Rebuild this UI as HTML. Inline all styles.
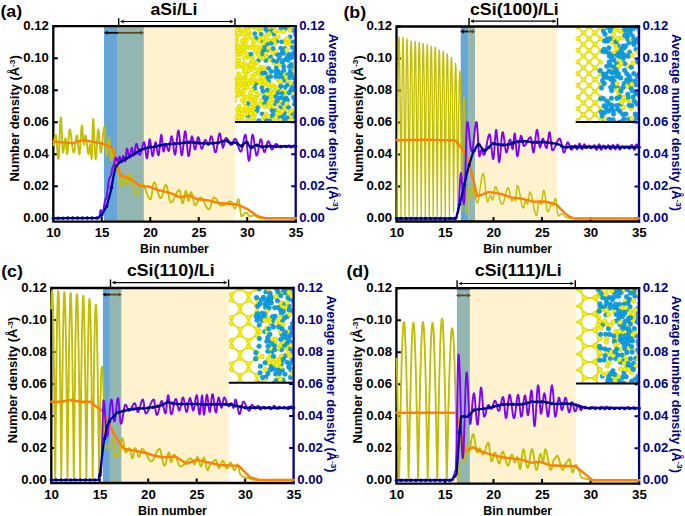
<!DOCTYPE html>
<html><head><meta charset="utf-8"><style>
html,body{margin:0;padding:0;background:#fff;width:685px;height:516px;overflow:hidden;}
svg{display:block;}
</style></head><body>
<svg width="685" height="516" viewBox="0 0 685 516">
<rect width="685" height="516" fill="#fff"/>
<defs><clipPath id="pc_a"><rect x="53.30" y="26.20" width="242.40" height="195.40"/></clipPath><clipPath id="clip_amorph"><rect x="235.00" y="26.20" width="60.70" height="95.80"/></clipPath></defs><rect x="104.00" y="26.20" width="13.80" height="195.40" fill="#65A6D6"/><rect x="117.80" y="26.20" width="26.10" height="195.40" fill="#92B7B2"/><rect x="143.90" y="26.20" width="91.10" height="195.40" fill="#FFF2CF"/><line x1="106.00" y1="32.80" x2="118.00" y2="32.80" stroke="#000" stroke-width="1.8"/><path d="M104.00,32.80 L107.80,30.60 L107.00,32.80 L107.80,35.00 Z" fill="#000"/><line x1="118.00" y1="32.80" x2="142.00" y2="32.80" stroke="#5A4A26" stroke-width="1.8"/><path d="M144.00,32.80 L140.20,30.60 L141.00,32.80 L140.20,35.00 Z" fill="#5A4A26"/><path d="M53.30,218.20 h4.50 M53.30,186.20 h4.50 M53.30,154.20 h4.50 M53.30,122.20 h4.50 M53.30,90.20 h4.50 M53.30,58.20 h4.50 M53.30,26.20 h4.50 M101.78,221.60 v-4.50 M150.26,221.60 v-4.50 M198.74,221.60 v-4.50 M247.22,221.60 v-4.50" stroke="#000" stroke-width="2" fill="none"/><path d="M295.70,218.20 h-4.50 M295.70,186.20 h-4.50 M295.70,154.20 h-4.50 M295.70,122.20 h-4.50 M295.70,90.20 h-4.50 M295.70,58.20 h-4.50 M295.70,26.20 h-4.50" stroke="#00008B" stroke-width="2" fill="none"/><rect x="235.0" y="26.2" width="60.7" height="95.8" fill="#fff"/><g clip-path="url(#clip_amorph)"><circle cx="256.4" cy="96.9" r="2.15" fill="#F8F200" stroke="#CEC400" stroke-width="0.55"/><circle cx="262.1" cy="113.9" r="2.15" fill="#0CA0E4" stroke="#0A82C2" stroke-width="0.5"/><circle cx="283.0" cy="103.3" r="2.15" fill="#0CA0E4" stroke="#0A82C2" stroke-width="0.5"/><circle cx="268.6" cy="81.5" r="2.15" fill="#0CA0E4" stroke="#0A82C2" stroke-width="0.5"/><circle cx="278.3" cy="71.5" r="2.15" fill="#0CA0E4" stroke="#0A82C2" stroke-width="0.5"/><circle cx="241.9" cy="119.3" r="2.15" fill="#F8F200" stroke="#CEC400" stroke-width="0.55"/><circle cx="261.0" cy="40.8" r="2.15" fill="#0CA0E4" stroke="#0A82C2" stroke-width="0.5"/><circle cx="284.9" cy="48.5" r="2.15" fill="#0CA0E4" stroke="#0A82C2" stroke-width="0.5"/><circle cx="265.8" cy="100.1" r="2.15" fill="#0CA0E4" stroke="#0A82C2" stroke-width="0.5"/><circle cx="279.8" cy="117.6" r="2.15" fill="#0CA0E4" stroke="#0A82C2" stroke-width="0.5"/><circle cx="241.3" cy="45.0" r="2.15" fill="#F8F200" stroke="#CEC400" stroke-width="0.55"/><circle cx="240.1" cy="30.1" r="2.15" fill="#F8F200" stroke="#CEC400" stroke-width="0.55"/><circle cx="243.3" cy="94.8" r="2.15" fill="#F8F200" stroke="#CEC400" stroke-width="0.55"/><circle cx="248.0" cy="56.9" r="2.15" fill="#F8F200" stroke="#CEC400" stroke-width="0.55"/><circle cx="236.3" cy="63.6" r="2.15" fill="#F8F200" stroke="#CEC400" stroke-width="0.55"/><circle cx="295.5" cy="34.4" r="2.15" fill="#0CA0E4" stroke="#0A82C2" stroke-width="0.5"/><circle cx="289.4" cy="44.1" r="2.15" fill="#F8F200" stroke="#CEC400" stroke-width="0.55"/><circle cx="259.7" cy="30.7" r="2.15" fill="#F8F200" stroke="#CEC400" stroke-width="0.55"/><circle cx="272.8" cy="106.5" r="2.15" fill="#F8F200" stroke="#CEC400" stroke-width="0.55"/><circle cx="284.8" cy="41.0" r="2.15" fill="#F8F200" stroke="#CEC400" stroke-width="0.55"/><circle cx="268.3" cy="104.3" r="2.15" fill="#F8F200" stroke="#CEC400" stroke-width="0.55"/><circle cx="255.7" cy="83.8" r="2.15" fill="#0CA0E4" stroke="#0A82C2" stroke-width="0.5"/><circle cx="254.6" cy="80.4" r="2.15" fill="#F8F200" stroke="#CEC400" stroke-width="0.55"/><circle cx="244.8" cy="77.9" r="2.15" fill="#F8F200" stroke="#CEC400" stroke-width="0.55"/><circle cx="266.4" cy="57.5" r="2.15" fill="#F8F200" stroke="#CEC400" stroke-width="0.55"/><circle cx="284.0" cy="107.6" r="2.15" fill="#F8F200" stroke="#CEC400" stroke-width="0.55"/><circle cx="236.0" cy="47.7" r="2.15" fill="#F8F200" stroke="#CEC400" stroke-width="0.55"/><circle cx="269.3" cy="106.9" r="2.15" fill="#F8F200" stroke="#CEC400" stroke-width="0.55"/><circle cx="235.1" cy="87.2" r="2.15" fill="#F8F200" stroke="#CEC400" stroke-width="0.55"/><circle cx="247.4" cy="54.3" r="2.15" fill="#F8F200" stroke="#CEC400" stroke-width="0.55"/><circle cx="297.0" cy="94.7" r="2.15" fill="#F8F200" stroke="#CEC400" stroke-width="0.55"/><circle cx="285.4" cy="91.2" r="2.15" fill="#F8F200" stroke="#CEC400" stroke-width="0.55"/><circle cx="244.6" cy="109.7" r="2.15" fill="#F8F200" stroke="#CEC400" stroke-width="0.55"/><circle cx="275.6" cy="96.5" r="2.15" fill="#0CA0E4" stroke="#0A82C2" stroke-width="0.5"/><circle cx="276.1" cy="110.7" r="2.15" fill="#0CA0E4" stroke="#0A82C2" stroke-width="0.5"/><circle cx="267.2" cy="97.7" r="2.15" fill="#0CA0E4" stroke="#0A82C2" stroke-width="0.5"/><circle cx="249.6" cy="33.5" r="2.15" fill="#F8F200" stroke="#CEC400" stroke-width="0.55"/><circle cx="291.2" cy="57.7" r="2.15" fill="#0CA0E4" stroke="#0A82C2" stroke-width="0.5"/><circle cx="247.3" cy="46.7" r="2.15" fill="#F8F200" stroke="#CEC400" stroke-width="0.55"/><circle cx="288.7" cy="40.9" r="2.15" fill="#F8F200" stroke="#CEC400" stroke-width="0.55"/><circle cx="250.6" cy="80.9" r="2.15" fill="#F8F200" stroke="#CEC400" stroke-width="0.55"/><circle cx="274.0" cy="86.3" r="2.15" fill="#F8F200" stroke="#CEC400" stroke-width="0.55"/><circle cx="290.2" cy="36.9" r="2.15" fill="#0CA0E4" stroke="#0A82C2" stroke-width="0.5"/><circle cx="250.5" cy="107.3" r="2.15" fill="#F8F200" stroke="#CEC400" stroke-width="0.55"/><circle cx="292.2" cy="54.1" r="2.15" fill="#0CA0E4" stroke="#0A82C2" stroke-width="0.5"/><circle cx="274.3" cy="63.4" r="2.15" fill="#F8F200" stroke="#CEC400" stroke-width="0.55"/><circle cx="249.4" cy="64.8" r="2.15" fill="#F8F200" stroke="#CEC400" stroke-width="0.55"/><circle cx="261.4" cy="48.1" r="2.15" fill="#F8F200" stroke="#CEC400" stroke-width="0.55"/><circle cx="245.2" cy="97.4" r="2.15" fill="#F8F200" stroke="#CEC400" stroke-width="0.55"/><circle cx="264.2" cy="117.2" r="2.15" fill="#F8F200" stroke="#CEC400" stroke-width="0.55"/><circle cx="264.9" cy="68.0" r="2.15" fill="#F8F200" stroke="#CEC400" stroke-width="0.55"/><circle cx="261.9" cy="81.2" r="2.15" fill="#F8F200" stroke="#CEC400" stroke-width="0.55"/><circle cx="254.1" cy="108.0" r="2.15" fill="#F8F200" stroke="#CEC400" stroke-width="0.55"/><circle cx="282.5" cy="97.7" r="2.15" fill="#0CA0E4" stroke="#0A82C2" stroke-width="0.5"/><circle cx="244.0" cy="50.8" r="2.15" fill="#F8F200" stroke="#CEC400" stroke-width="0.55"/><circle cx="293.3" cy="71.2" r="2.15" fill="#F8F200" stroke="#CEC400" stroke-width="0.55"/><circle cx="288.9" cy="54.5" r="2.15" fill="#0CA0E4" stroke="#0A82C2" stroke-width="0.5"/><circle cx="294.6" cy="110.4" r="2.15" fill="#F8F200" stroke="#CEC400" stroke-width="0.55"/><circle cx="254.9" cy="100.5" r="2.15" fill="#F8F200" stroke="#CEC400" stroke-width="0.55"/><circle cx="290.7" cy="90.4" r="2.15" fill="#0CA0E4" stroke="#0A82C2" stroke-width="0.5"/><circle cx="246.3" cy="73.9" r="2.15" fill="#F8F200" stroke="#CEC400" stroke-width="0.55"/><circle cx="253.6" cy="119.4" r="2.15" fill="#F8F200" stroke="#CEC400" stroke-width="0.55"/><circle cx="272.1" cy="116.2" r="2.15" fill="#0CA0E4" stroke="#0A82C2" stroke-width="0.5"/><circle cx="247.0" cy="87.5" r="2.15" fill="#F8F200" stroke="#CEC400" stroke-width="0.55"/><circle cx="253.9" cy="66.9" r="2.15" fill="#F8F200" stroke="#CEC400" stroke-width="0.55"/><circle cx="263.1" cy="50.9" r="2.15" fill="#0CA0E4" stroke="#0A82C2" stroke-width="0.5"/><circle cx="293.0" cy="66.7" r="2.15" fill="#0CA0E4" stroke="#0A82C2" stroke-width="0.5"/><circle cx="273.4" cy="28.2" r="2.15" fill="#F8F200" stroke="#CEC400" stroke-width="0.55"/><circle cx="277.8" cy="79.9" r="2.15" fill="#F8F200" stroke="#CEC400" stroke-width="0.55"/><circle cx="243.6" cy="67.7" r="2.15" fill="#F8F200" stroke="#CEC400" stroke-width="0.55"/><circle cx="252.2" cy="110.6" r="2.15" fill="#F8F200" stroke="#CEC400" stroke-width="0.55"/><circle cx="237.0" cy="78.3" r="2.15" fill="#F8F200" stroke="#CEC400" stroke-width="0.55"/><circle cx="264.5" cy="84.5" r="2.15" fill="#F8F200" stroke="#CEC400" stroke-width="0.55"/><circle cx="235.2" cy="81.3" r="2.15" fill="#F8F200" stroke="#CEC400" stroke-width="0.55"/><circle cx="263.0" cy="70.6" r="2.15" fill="#F8F200" stroke="#CEC400" stroke-width="0.55"/><circle cx="255.5" cy="51.8" r="2.15" fill="#F8F200" stroke="#CEC400" stroke-width="0.55"/><circle cx="238.2" cy="120.6" r="2.15" fill="#F8F200" stroke="#CEC400" stroke-width="0.55"/><circle cx="291.8" cy="119.4" r="2.15" fill="#F8F200" stroke="#CEC400" stroke-width="0.55"/><circle cx="287.3" cy="28.1" r="2.15" fill="#F8F200" stroke="#CEC400" stroke-width="0.55"/><circle cx="286.1" cy="97.8" r="2.15" fill="#0CA0E4" stroke="#0A82C2" stroke-width="0.5"/><circle cx="281.2" cy="119.6" r="2.15" fill="#F8F200" stroke="#CEC400" stroke-width="0.55"/><circle cx="238.7" cy="60.5" r="2.15" fill="#F8F200" stroke="#CEC400" stroke-width="0.55"/><circle cx="255.7" cy="90.8" r="2.15" fill="#F8F200" stroke="#CEC400" stroke-width="0.55"/><circle cx="289.7" cy="116.2" r="2.15" fill="#F8F200" stroke="#CEC400" stroke-width="0.55"/><circle cx="241.7" cy="116.1" r="2.15" fill="#F8F200" stroke="#CEC400" stroke-width="0.55"/><circle cx="240.4" cy="50.3" r="2.15" fill="#F8F200" stroke="#CEC400" stroke-width="0.55"/><circle cx="296.1" cy="86.4" r="2.15" fill="#0CA0E4" stroke="#0A82C2" stroke-width="0.5"/><circle cx="242.4" cy="100.3" r="2.15" fill="#F8F200" stroke="#CEC400" stroke-width="0.55"/><circle cx="265.8" cy="60.5" r="2.15" fill="#0CA0E4" stroke="#0A82C2" stroke-width="0.5"/><circle cx="255.0" cy="74.5" r="2.15" fill="#F8F200" stroke="#CEC400" stroke-width="0.55"/><circle cx="244.3" cy="63.6" r="2.15" fill="#F8F200" stroke="#CEC400" stroke-width="0.55"/><circle cx="266.4" cy="40.3" r="2.15" fill="#F8F200" stroke="#CEC400" stroke-width="0.55"/><circle cx="240.1" cy="91.4" r="2.15" fill="#F8F200" stroke="#CEC400" stroke-width="0.55"/><circle cx="237.2" cy="89.9" r="2.15" fill="#F8F200" stroke="#CEC400" stroke-width="0.55"/><circle cx="296.1" cy="60.6" r="2.15" fill="#0CA0E4" stroke="#0A82C2" stroke-width="0.5"/><circle cx="283.8" cy="99.9" r="2.15" fill="#0CA0E4" stroke="#0A82C2" stroke-width="0.5"/><circle cx="249.1" cy="70.5" r="2.15" fill="#F8F200" stroke="#CEC400" stroke-width="0.55"/><circle cx="236.2" cy="96.2" r="2.15" fill="#F8F200" stroke="#CEC400" stroke-width="0.55"/><circle cx="236.1" cy="121.2" r="2.15" fill="#F8F200" stroke="#CEC400" stroke-width="0.55"/><circle cx="275.4" cy="103.7" r="2.15" fill="#0CA0E4" stroke="#0A82C2" stroke-width="0.5"/><circle cx="262.9" cy="94.1" r="2.15" fill="#F8F200" stroke="#CEC400" stroke-width="0.55"/><circle cx="283.4" cy="77.4" r="2.15" fill="#0CA0E4" stroke="#0A82C2" stroke-width="0.5"/><circle cx="272.9" cy="101.0" r="2.15" fill="#F8F200" stroke="#CEC400" stroke-width="0.55"/><circle cx="253.1" cy="44.0" r="2.15" fill="#F8F200" stroke="#CEC400" stroke-width="0.55"/><circle cx="242.0" cy="113.6" r="2.15" fill="#F8F200" stroke="#CEC400" stroke-width="0.55"/><circle cx="292.9" cy="113.5" r="2.15" fill="#0CA0E4" stroke="#0A82C2" stroke-width="0.5"/><circle cx="249.4" cy="26.8" r="2.15" fill="#F8F200" stroke="#CEC400" stroke-width="0.55"/><circle cx="287.1" cy="117.8" r="2.15" fill="#0CA0E4" stroke="#0A82C2" stroke-width="0.5"/><circle cx="271.4" cy="30.6" r="2.15" fill="#0CA0E4" stroke="#0A82C2" stroke-width="0.5"/><circle cx="268.7" cy="68.3" r="2.15" fill="#0CA0E4" stroke="#0A82C2" stroke-width="0.5"/><circle cx="280.3" cy="107.7" r="2.15" fill="#0CA0E4" stroke="#0A82C2" stroke-width="0.5"/><circle cx="273.1" cy="54.1" r="2.15" fill="#F8F200" stroke="#CEC400" stroke-width="0.55"/><circle cx="287.4" cy="84.8" r="2.15" fill="#0CA0E4" stroke="#0A82C2" stroke-width="0.5"/><circle cx="278.9" cy="31.3" r="2.15" fill="#F8F200" stroke="#CEC400" stroke-width="0.55"/><circle cx="269.7" cy="40.6" r="2.15" fill="#F8F200" stroke="#CEC400" stroke-width="0.55"/><circle cx="260.7" cy="67.1" r="2.15" fill="#F8F200" stroke="#CEC400" stroke-width="0.55"/><circle cx="285.1" cy="74.5" r="2.15" fill="#F8F200" stroke="#CEC400" stroke-width="0.55"/><circle cx="272.3" cy="84.9" r="2.15" fill="#F8F200" stroke="#CEC400" stroke-width="0.55"/><circle cx="293.9" cy="78.2" r="2.15" fill="#0CA0E4" stroke="#0A82C2" stroke-width="0.5"/><circle cx="270.5" cy="57.2" r="2.15" fill="#0CA0E4" stroke="#0A82C2" stroke-width="0.5"/><circle cx="258.6" cy="60.4" r="2.15" fill="#0CA0E4" stroke="#0A82C2" stroke-width="0.5"/><circle cx="273.8" cy="34.0" r="2.15" fill="#0CA0E4" stroke="#0A82C2" stroke-width="0.5"/><circle cx="276.7" cy="41.5" r="2.15" fill="#0CA0E4" stroke="#0A82C2" stroke-width="0.5"/><circle cx="276.3" cy="67.9" r="2.15" fill="#0CA0E4" stroke="#0A82C2" stroke-width="0.5"/><circle cx="280.2" cy="83.9" r="2.15" fill="#F8F200" stroke="#CEC400" stroke-width="0.55"/><circle cx="239.2" cy="106.4" r="2.15" fill="#F8F200" stroke="#CEC400" stroke-width="0.55"/><circle cx="239.1" cy="94.4" r="2.15" fill="#F8F200" stroke="#CEC400" stroke-width="0.55"/><circle cx="261.1" cy="34.4" r="2.15" fill="#0CA0E4" stroke="#0A82C2" stroke-width="0.5"/><circle cx="243.6" cy="47.8" r="2.15" fill="#F8F200" stroke="#CEC400" stroke-width="0.55"/><circle cx="263.1" cy="91.3" r="2.15" fill="#0CA0E4" stroke="#0A82C2" stroke-width="0.5"/><circle cx="262.3" cy="120.2" r="2.15" fill="#F8F200" stroke="#CEC400" stroke-width="0.55"/><circle cx="283.8" cy="66.8" r="2.15" fill="#0CA0E4" stroke="#0A82C2" stroke-width="0.5"/><circle cx="260.2" cy="83.0" r="2.15" fill="#F8F200" stroke="#CEC400" stroke-width="0.55"/><circle cx="293.6" cy="64.4" r="2.15" fill="#F8F200" stroke="#CEC400" stroke-width="0.55"/><circle cx="251.9" cy="69.7" r="2.15" fill="#F8F200" stroke="#CEC400" stroke-width="0.55"/><circle cx="258.7" cy="120.7" r="2.15" fill="#0CA0E4" stroke="#0A82C2" stroke-width="0.5"/><circle cx="263.1" cy="58.3" r="2.15" fill="#F8F200" stroke="#CEC400" stroke-width="0.55"/><circle cx="284.2" cy="80.4" r="2.15" fill="#0CA0E4" stroke="#0A82C2" stroke-width="0.5"/><circle cx="247.3" cy="35.3" r="2.15" fill="#F8F200" stroke="#CEC400" stroke-width="0.55"/><circle cx="251.5" cy="61.7" r="2.15" fill="#F8F200" stroke="#CEC400" stroke-width="0.55"/><circle cx="267.8" cy="83.7" r="2.15" fill="#F8F200" stroke="#CEC400" stroke-width="0.55"/><circle cx="247.9" cy="103.5" r="2.15" fill="#0CA0E4" stroke="#0A82C2" stroke-width="0.5"/><circle cx="295.2" cy="46.7" r="2.15" fill="#F8F200" stroke="#CEC400" stroke-width="0.55"/><circle cx="247.9" cy="116.6" r="2.15" fill="#0CA0E4" stroke="#0A82C2" stroke-width="0.5"/><circle cx="285.9" cy="43.3" r="2.15" fill="#F8F200" stroke="#CEC400" stroke-width="0.55"/><circle cx="265.0" cy="28.7" r="2.15" fill="#0CA0E4" stroke="#0A82C2" stroke-width="0.5"/><circle cx="256.2" cy="38.2" r="2.15" fill="#0CA0E4" stroke="#0A82C2" stroke-width="0.5"/><circle cx="244.9" cy="43.5" r="2.15" fill="#F8F200" stroke="#CEC400" stroke-width="0.55"/><circle cx="287.4" cy="110.6" r="2.15" fill="#F8F200" stroke="#CEC400" stroke-width="0.55"/><circle cx="277.3" cy="54.5" r="2.15" fill="#0CA0E4" stroke="#0A82C2" stroke-width="0.5"/><circle cx="275.0" cy="43.4" r="2.15" fill="#F8F200" stroke="#CEC400" stroke-width="0.55"/><circle cx="252.4" cy="38.4" r="2.15" fill="#F8F200" stroke="#CEC400" stroke-width="0.55"/><circle cx="276.2" cy="120.0" r="2.15" fill="#F8F200" stroke="#CEC400" stroke-width="0.55"/><circle cx="287.8" cy="80.1" r="2.15" fill="#F8F200" stroke="#CEC400" stroke-width="0.55"/><circle cx="291.1" cy="83.2" r="2.15" fill="#F8F200" stroke="#CEC400" stroke-width="0.55"/><circle cx="276.0" cy="71.2" r="2.15" fill="#0CA0E4" stroke="#0A82C2" stroke-width="0.5"/><circle cx="292.0" cy="87.5" r="2.15" fill="#0CA0E4" stroke="#0A82C2" stroke-width="0.5"/><circle cx="237.6" cy="84.0" r="2.15" fill="#F8F200" stroke="#CEC400" stroke-width="0.55"/><circle cx="269.2" cy="75.0" r="2.15" fill="#F8F200" stroke="#CEC400" stroke-width="0.55"/><circle cx="292.4" cy="47.4" r="2.15" fill="#0CA0E4" stroke="#0A82C2" stroke-width="0.5"/><circle cx="241.7" cy="77.6" r="2.15" fill="#F8F200" stroke="#CEC400" stroke-width="0.55"/><circle cx="270.9" cy="50.3" r="2.15" fill="#F8F200" stroke="#CEC400" stroke-width="0.55"/><circle cx="283.7" cy="70.4" r="2.15" fill="#0CA0E4" stroke="#0A82C2" stroke-width="0.5"/><circle cx="238.6" cy="113.1" r="2.15" fill="#F8F200" stroke="#CEC400" stroke-width="0.55"/><circle cx="293.6" cy="56.6" r="2.15" fill="#0CA0E4" stroke="#0A82C2" stroke-width="0.5"/><circle cx="271.2" cy="96.6" r="2.15" fill="#F8F200" stroke="#CEC400" stroke-width="0.55"/><circle cx="266.6" cy="120.7" r="2.15" fill="#0CA0E4" stroke="#0A82C2" stroke-width="0.5"/><circle cx="236.2" cy="51.5" r="2.15" fill="#F8F200" stroke="#CEC400" stroke-width="0.55"/><circle cx="260.5" cy="57.5" r="2.15" fill="#F8F200" stroke="#CEC400" stroke-width="0.55"/><circle cx="265.3" cy="73.1" r="2.15" fill="#0CA0E4" stroke="#0A82C2" stroke-width="0.5"/><circle cx="295.7" cy="68.2" r="2.15" fill="#F8F200" stroke="#CEC400" stroke-width="0.55"/><circle cx="261.8" cy="27.8" r="2.15" fill="#F8F200" stroke="#CEC400" stroke-width="0.55"/><circle cx="289.0" cy="121.2" r="2.15" fill="#F8F200" stroke="#CEC400" stroke-width="0.55"/><circle cx="234.2" cy="33.6" r="2.15" fill="#F8F200" stroke="#CEC400" stroke-width="0.55"/><circle cx="285.2" cy="87.1" r="2.15" fill="#0CA0E4" stroke="#0A82C2" stroke-width="0.5"/><circle cx="236.5" cy="37.2" r="2.15" fill="#F8F200" stroke="#CEC400" stroke-width="0.55"/><circle cx="280.7" cy="81.3" r="2.15" fill="#F8F200" stroke="#CEC400" stroke-width="0.55"/><circle cx="246.7" cy="113.8" r="2.15" fill="#F8F200" stroke="#CEC400" stroke-width="0.55"/><circle cx="293.1" cy="94.5" r="2.15" fill="#F8F200" stroke="#CEC400" stroke-width="0.55"/><circle cx="254.7" cy="88.0" r="2.15" fill="#0CA0E4" stroke="#0A82C2" stroke-width="0.5"/><circle cx="270.0" cy="100.8" r="2.15" fill="#F8F200" stroke="#CEC400" stroke-width="0.55"/><circle cx="247.6" cy="119.5" r="2.15" fill="#F8F200" stroke="#CEC400" stroke-width="0.55"/><circle cx="284.5" cy="113.5" r="2.15" fill="#0CA0E4" stroke="#0A82C2" stroke-width="0.5"/><circle cx="278.3" cy="109.8" r="2.15" fill="#F8F200" stroke="#CEC400" stroke-width="0.55"/><circle cx="296.4" cy="107.7" r="2.15" fill="#F8F200" stroke="#CEC400" stroke-width="0.55"/><circle cx="253.9" cy="27.3" r="2.15" fill="#F8F200" stroke="#CEC400" stroke-width="0.55"/><circle cx="265.0" cy="81.5" r="2.15" fill="#F8F200" stroke="#CEC400" stroke-width="0.55"/><circle cx="245.4" cy="38.6" r="2.15" fill="#F8F200" stroke="#CEC400" stroke-width="0.55"/><circle cx="296.1" cy="114.6" r="2.15" fill="#F8F200" stroke="#CEC400" stroke-width="0.55"/><circle cx="236.1" cy="94.3" r="2.15" fill="#F8F200" stroke="#CEC400" stroke-width="0.55"/><circle cx="280.8" cy="113.7" r="2.15" fill="#F8F200" stroke="#CEC400" stroke-width="0.55"/><circle cx="294.5" cy="51.5" r="2.15" fill="#0CA0E4" stroke="#0A82C2" stroke-width="0.5"/><circle cx="282.6" cy="116.8" r="2.15" fill="#0CA0E4" stroke="#0A82C2" stroke-width="0.5"/><circle cx="272.0" cy="110.6" r="2.15" fill="#0CA0E4" stroke="#0A82C2" stroke-width="0.5"/><circle cx="266.6" cy="35.1" r="2.15" fill="#F8F200" stroke="#CEC400" stroke-width="0.55"/><circle cx="239.9" cy="54.5" r="2.15" fill="#F8F200" stroke="#CEC400" stroke-width="0.55"/><circle cx="238.7" cy="86.6" r="2.15" fill="#F8F200" stroke="#CEC400" stroke-width="0.55"/><circle cx="282.3" cy="51.8" r="2.15" fill="#0CA0E4" stroke="#0A82C2" stroke-width="0.5"/><circle cx="280.7" cy="48.2" r="2.15" fill="#0CA0E4" stroke="#0A82C2" stroke-width="0.5"/><circle cx="287.2" cy="57.1" r="2.15" fill="#0CA0E4" stroke="#0A82C2" stroke-width="0.5"/><circle cx="266.8" cy="93.8" r="2.15" fill="#F8F200" stroke="#CEC400" stroke-width="0.55"/><circle cx="271.3" cy="71.5" r="2.15" fill="#0CA0E4" stroke="#0A82C2" stroke-width="0.5"/><circle cx="291.2" cy="110.9" r="2.15" fill="#F8F200" stroke="#CEC400" stroke-width="0.55"/><circle cx="244.5" cy="58.1" r="2.15" fill="#F8F200" stroke="#CEC400" stroke-width="0.55"/><circle cx="249.9" cy="66.4" r="2.15" fill="#F8F200" stroke="#CEC400" stroke-width="0.55"/><circle cx="245.9" cy="66.9" r="2.15" fill="#F8F200" stroke="#CEC400" stroke-width="0.55"/><circle cx="244.6" cy="103.2" r="2.15" fill="#F8F200" stroke="#CEC400" stroke-width="0.55"/><circle cx="280.3" cy="100.9" r="2.15" fill="#F8F200" stroke="#CEC400" stroke-width="0.55"/><circle cx="289.1" cy="93.0" r="2.15" fill="#0CA0E4" stroke="#0A82C2" stroke-width="0.5"/><circle cx="259.0" cy="40.9" r="2.15" fill="#F8F200" stroke="#CEC400" stroke-width="0.55"/><circle cx="246.6" cy="28.0" r="2.15" fill="#F8F200" stroke="#CEC400" stroke-width="0.55"/><circle cx="273.2" cy="114.5" r="2.15" fill="#0CA0E4" stroke="#0A82C2" stroke-width="0.5"/><circle cx="274.4" cy="90.8" r="2.15" fill="#F8F200" stroke="#CEC400" stroke-width="0.55"/><circle cx="247.8" cy="37.1" r="2.15" fill="#F8F200" stroke="#CEC400" stroke-width="0.55"/><circle cx="238.1" cy="35.1" r="2.15" fill="#F8F200" stroke="#CEC400" stroke-width="0.55"/><circle cx="270.4" cy="93.7" r="2.15" fill="#F8F200" stroke="#CEC400" stroke-width="0.55"/><circle cx="236.4" cy="60.3" r="2.15" fill="#F8F200" stroke="#CEC400" stroke-width="0.55"/><circle cx="275.6" cy="76.7" r="2.15" fill="#0CA0E4" stroke="#0A82C2" stroke-width="0.5"/><circle cx="259.9" cy="71.3" r="2.15" fill="#F8F200" stroke="#CEC400" stroke-width="0.55"/><circle cx="257.9" cy="94.6" r="2.15" fill="#F8F200" stroke="#CEC400" stroke-width="0.55"/><circle cx="241.7" cy="109.9" r="2.15" fill="#F8F200" stroke="#CEC400" stroke-width="0.55"/><circle cx="276.7" cy="61.6" r="2.15" fill="#0CA0E4" stroke="#0A82C2" stroke-width="0.5"/><circle cx="238.5" cy="81.1" r="2.15" fill="#F8F200" stroke="#CEC400" stroke-width="0.55"/><circle cx="267.0" cy="44.7" r="2.15" fill="#0CA0E4" stroke="#0A82C2" stroke-width="0.5"/><circle cx="237.4" cy="30.1" r="2.15" fill="#F8F200" stroke="#CEC400" stroke-width="0.55"/><circle cx="296.3" cy="81.1" r="2.15" fill="#0CA0E4" stroke="#0A82C2" stroke-width="0.5"/><circle cx="296.7" cy="120.0" r="2.15" fill="#0CA0E4" stroke="#0A82C2" stroke-width="0.5"/><circle cx="256.3" cy="63.1" r="2.15" fill="#F8F200" stroke="#CEC400" stroke-width="0.55"/><circle cx="251.0" cy="99.5" r="2.15" fill="#F8F200" stroke="#CEC400" stroke-width="0.55"/><circle cx="258.9" cy="50.6" r="2.15" fill="#F8F200" stroke="#CEC400" stroke-width="0.55"/><circle cx="279.5" cy="89.9" r="2.15" fill="#0CA0E4" stroke="#0A82C2" stroke-width="0.5"/><circle cx="281.0" cy="27.9" r="2.15" fill="#0CA0E4" stroke="#0A82C2" stroke-width="0.5"/><circle cx="248.1" cy="109.9" r="2.15" fill="#F8F200" stroke="#CEC400" stroke-width="0.55"/><circle cx="281.5" cy="41.8" r="2.15" fill="#0CA0E4" stroke="#0A82C2" stroke-width="0.5"/><circle cx="292.1" cy="74.5" r="2.15" fill="#0CA0E4" stroke="#0A82C2" stroke-width="0.5"/><circle cx="297.1" cy="41.6" r="2.15" fill="#0CA0E4" stroke="#0A82C2" stroke-width="0.5"/><circle cx="275.6" cy="51.2" r="2.15" fill="#F8F200" stroke="#CEC400" stroke-width="0.55"/><circle cx="260.5" cy="38.2" r="2.15" fill="#F8F200" stroke="#CEC400" stroke-width="0.55"/><circle cx="244.9" cy="83.8" r="2.15" fill="#F8F200" stroke="#CEC400" stroke-width="0.55"/><circle cx="252.4" cy="56.8" r="2.15" fill="#F8F200" stroke="#CEC400" stroke-width="0.55"/><circle cx="236.3" cy="40.8" r="2.15" fill="#F8F200" stroke="#CEC400" stroke-width="0.55"/><circle cx="242.0" cy="53.4" r="2.15" fill="#F8F200" stroke="#CEC400" stroke-width="0.55"/><circle cx="270.7" cy="60.3" r="2.15" fill="#F8F200" stroke="#CEC400" stroke-width="0.55"/><circle cx="290.1" cy="71.1" r="2.15" fill="#0CA0E4" stroke="#0A82C2" stroke-width="0.5"/><circle cx="257.0" cy="111.1" r="2.15" fill="#0CA0E4" stroke="#0A82C2" stroke-width="0.5"/><circle cx="257.9" cy="107.6" r="2.15" fill="#0CA0E4" stroke="#0A82C2" stroke-width="0.5"/><circle cx="264.2" cy="103.6" r="2.15" fill="#0CA0E4" stroke="#0A82C2" stroke-width="0.5"/><circle cx="264.8" cy="106.6" r="2.15" fill="#F8F200" stroke="#CEC400" stroke-width="0.55"/><circle cx="293.1" cy="41.8" r="2.15" fill="#0CA0E4" stroke="#0A82C2" stroke-width="0.5"/><circle cx="282.6" cy="64.2" r="2.15" fill="#0CA0E4" stroke="#0A82C2" stroke-width="0.5"/><circle cx="273.1" cy="48.4" r="2.15" fill="#0CA0E4" stroke="#0A82C2" stroke-width="0.5"/><circle cx="263.4" cy="44.3" r="2.15" fill="#F8F200" stroke="#CEC400" stroke-width="0.55"/><circle cx="293.2" cy="30.4" r="2.15" fill="#0CA0E4" stroke="#0A82C2" stroke-width="0.5"/><circle cx="251.8" cy="89.6" r="2.15" fill="#F8F200" stroke="#CEC400" stroke-width="0.55"/><circle cx="276.3" cy="73.2" r="2.15" fill="#0CA0E4" stroke="#0A82C2" stroke-width="0.5"/><circle cx="236.1" cy="43.7" r="2.15" fill="#F8F200" stroke="#CEC400" stroke-width="0.55"/><circle cx="288.4" cy="107.2" r="2.15" fill="#0CA0E4" stroke="#0A82C2" stroke-width="0.5"/><circle cx="237.3" cy="109.6" r="2.15" fill="#F8F200" stroke="#CEC400" stroke-width="0.55"/><circle cx="270.3" cy="90.6" r="2.15" fill="#F8F200" stroke="#CEC400" stroke-width="0.55"/><circle cx="261.9" cy="87.8" r="2.15" fill="#0CA0E4" stroke="#0A82C2" stroke-width="0.5"/><circle cx="252.0" cy="76.5" r="2.15" fill="#F8F200" stroke="#CEC400" stroke-width="0.55"/><circle cx="237.0" cy="116.6" r="2.15" fill="#F8F200" stroke="#CEC400" stroke-width="0.55"/><circle cx="242.3" cy="34.0" r="2.15" fill="#F8F200" stroke="#CEC400" stroke-width="0.55"/><circle cx="244.2" cy="30.8" r="2.15" fill="#F8F200" stroke="#CEC400" stroke-width="0.55"/><circle cx="274.7" cy="38.5" r="2.15" fill="#F8F200" stroke="#CEC400" stroke-width="0.55"/><circle cx="270.7" cy="76.7" r="2.15" fill="#0CA0E4" stroke="#0A82C2" stroke-width="0.5"/><circle cx="278.1" cy="103.6" r="2.15" fill="#F8F200" stroke="#CEC400" stroke-width="0.55"/><circle cx="254.9" cy="113.4" r="2.15" fill="#F8F200" stroke="#CEC400" stroke-width="0.55"/><circle cx="238.6" cy="74.0" r="2.15" fill="#F8F200" stroke="#CEC400" stroke-width="0.55"/><circle cx="274.8" cy="31.2" r="2.15" fill="#F8F200" stroke="#CEC400" stroke-width="0.55"/><circle cx="282.1" cy="111.2" r="2.15" fill="#F8F200" stroke="#CEC400" stroke-width="0.55"/><circle cx="271.1" cy="43.3" r="2.15" fill="#0CA0E4" stroke="#0A82C2" stroke-width="0.5"/><circle cx="295.0" cy="83.2" r="2.15" fill="#0CA0E4" stroke="#0A82C2" stroke-width="0.5"/><circle cx="254.3" cy="41.1" r="2.15" fill="#F8F200" stroke="#CEC400" stroke-width="0.55"/><circle cx="248.8" cy="83.4" r="2.15" fill="#F8F200" stroke="#CEC400" stroke-width="0.55"/><circle cx="234.2" cy="101.0" r="2.15" fill="#F8F200" stroke="#CEC400" stroke-width="0.55"/><circle cx="284.3" cy="60.0" r="2.15" fill="#0CA0E4" stroke="#0A82C2" stroke-width="0.5"/><circle cx="283.7" cy="53.3" r="2.15" fill="#0CA0E4" stroke="#0A82C2" stroke-width="0.5"/><circle cx="266.0" cy="114.5" r="2.15" fill="#F8F200" stroke="#CEC400" stroke-width="0.55"/><circle cx="262.4" cy="53.7" r="2.15" fill="#0CA0E4" stroke="#0A82C2" stroke-width="0.5"/><circle cx="266.8" cy="30.5" r="2.15" fill="#0CA0E4" stroke="#0A82C2" stroke-width="0.5"/><circle cx="246.3" cy="40.8" r="2.15" fill="#F8F200" stroke="#CEC400" stroke-width="0.55"/><circle cx="285.1" cy="28.6" r="2.15" fill="#0CA0E4" stroke="#0A82C2" stroke-width="0.5"/><circle cx="278.1" cy="93.1" r="2.15" fill="#0CA0E4" stroke="#0A82C2" stroke-width="0.5"/><circle cx="279.8" cy="64.5" r="2.15" fill="#F8F200" stroke="#CEC400" stroke-width="0.55"/><circle cx="258.4" cy="73.7" r="2.15" fill="#F8F200" stroke="#CEC400" stroke-width="0.55"/><circle cx="248.4" cy="31.1" r="2.15" fill="#F8F200" stroke="#CEC400" stroke-width="0.55"/><circle cx="244.3" cy="71.6" r="2.15" fill="#F8F200" stroke="#CEC400" stroke-width="0.55"/><circle cx="264.9" cy="47.3" r="2.15" fill="#0CA0E4" stroke="#0A82C2" stroke-width="0.5"/><circle cx="262.9" cy="38.2" r="2.15" fill="#F8F200" stroke="#CEC400" stroke-width="0.55"/><circle cx="277.6" cy="88.2" r="2.15" fill="#F8F200" stroke="#CEC400" stroke-width="0.55"/><circle cx="260.9" cy="77.1" r="2.15" fill="#F8F200" stroke="#CEC400" stroke-width="0.55"/><circle cx="274.0" cy="40.2" r="2.15" fill="#F8F200" stroke="#CEC400" stroke-width="0.55"/><circle cx="263.4" cy="77.9" r="2.15" fill="#F8F200" stroke="#CEC400" stroke-width="0.55"/><circle cx="281.7" cy="91.3" r="2.15" fill="#F8F200" stroke="#CEC400" stroke-width="0.55"/><circle cx="290.1" cy="30.2" r="2.15" fill="#F8F200" stroke="#CEC400" stroke-width="0.55"/><circle cx="273.7" cy="119.6" r="2.15" fill="#F8F200" stroke="#CEC400" stroke-width="0.55"/><circle cx="253.4" cy="47.6" r="2.15" fill="#F8F200" stroke="#CEC400" stroke-width="0.55"/><circle cx="273.1" cy="93.3" r="2.15" fill="#F8F200" stroke="#CEC400" stroke-width="0.55"/><circle cx="257.7" cy="80.7" r="2.15" fill="#F8F200" stroke="#CEC400" stroke-width="0.55"/><circle cx="287.8" cy="74.7" r="2.15" fill="#0CA0E4" stroke="#0A82C2" stroke-width="0.5"/><circle cx="261.6" cy="100.5" r="2.15" fill="#F8F200" stroke="#CEC400" stroke-width="0.55"/><circle cx="287.6" cy="100.1" r="2.15" fill="#0CA0E4" stroke="#0A82C2" stroke-width="0.5"/><circle cx="295.7" cy="73.3" r="2.15" fill="#F8F200" stroke="#CEC400" stroke-width="0.55"/><circle cx="239.1" cy="66.4" r="2.15" fill="#F8F200" stroke="#CEC400" stroke-width="0.55"/><circle cx="266.6" cy="50.7" r="2.15" fill="#0CA0E4" stroke="#0A82C2" stroke-width="0.5"/><circle cx="242.5" cy="40.5" r="2.15" fill="#F8F200" stroke="#CEC400" stroke-width="0.55"/><circle cx="236.0" cy="54.8" r="2.15" fill="#F8F200" stroke="#CEC400" stroke-width="0.55"/><circle cx="280.4" cy="54.7" r="2.15" fill="#0CA0E4" stroke="#0A82C2" stroke-width="0.5"/><circle cx="286.7" cy="49.9" r="2.15" fill="#F8F200" stroke="#CEC400" stroke-width="0.55"/><circle cx="258.1" cy="54.2" r="2.15" fill="#F8F200" stroke="#CEC400" stroke-width="0.55"/><circle cx="260.4" cy="104.6" r="2.15" fill="#F8F200" stroke="#CEC400" stroke-width="0.55"/><circle cx="250.2" cy="93.3" r="2.15" fill="#F8F200" stroke="#CEC400" stroke-width="0.55"/><circle cx="243.8" cy="90.8" r="2.15" fill="#F8F200" stroke="#CEC400" stroke-width="0.55"/><circle cx="295.2" cy="116.9" r="2.15" fill="#0CA0E4" stroke="#0A82C2" stroke-width="0.5"/><circle cx="283.9" cy="94.2" r="2.15" fill="#F8F200" stroke="#CEC400" stroke-width="0.55"/><circle cx="281.9" cy="61.8" r="2.15" fill="#0CA0E4" stroke="#0A82C2" stroke-width="0.5"/><circle cx="281.9" cy="93.5" r="2.15" fill="#0CA0E4" stroke="#0A82C2" stroke-width="0.5"/><circle cx="295.1" cy="101.4" r="2.15" fill="#0CA0E4" stroke="#0A82C2" stroke-width="0.5"/><circle cx="247.5" cy="80.5" r="2.15" fill="#F8F200" stroke="#CEC400" stroke-width="0.55"/><circle cx="251.1" cy="113.6" r="2.15" fill="#F8F200" stroke="#CEC400" stroke-width="0.55"/><circle cx="269.1" cy="33.7" r="2.15" fill="#F8F200" stroke="#CEC400" stroke-width="0.55"/><circle cx="280.9" cy="73.5" r="2.15" fill="#0CA0E4" stroke="#0A82C2" stroke-width="0.5"/><circle cx="252.0" cy="96.2" r="2.15" fill="#F8F200" stroke="#CEC400" stroke-width="0.55"/><circle cx="287.0" cy="38.6" r="2.15" fill="#F8F200" stroke="#CEC400" stroke-width="0.55"/><circle cx="277.3" cy="113.4" r="2.15" fill="#F8F200" stroke="#CEC400" stroke-width="0.55"/><circle cx="269.5" cy="87.8" r="2.15" fill="#F8F200" stroke="#CEC400" stroke-width="0.55"/><circle cx="286.4" cy="77.4" r="2.15" fill="#F8F200" stroke="#CEC400" stroke-width="0.55"/><circle cx="257.4" cy="28.3" r="2.15" fill="#F8F200" stroke="#CEC400" stroke-width="0.55"/><circle cx="275.9" cy="117.8" r="2.15" fill="#F8F200" stroke="#CEC400" stroke-width="0.55"/><circle cx="273.6" cy="60.6" r="2.15" fill="#0CA0E4" stroke="#0A82C2" stroke-width="0.5"/><circle cx="266.2" cy="53.6" r="2.15" fill="#F8F200" stroke="#CEC400" stroke-width="0.55"/><circle cx="280.8" cy="86.2" r="2.15" fill="#0CA0E4" stroke="#0A82C2" stroke-width="0.5"/><circle cx="243.7" cy="80.5" r="2.15" fill="#F8F200" stroke="#CEC400" stroke-width="0.55"/><circle cx="254.9" cy="33.7" r="2.15" fill="#0CA0E4" stroke="#0A82C2" stroke-width="0.5"/><circle cx="245.9" cy="107.2" r="2.15" fill="#F8F200" stroke="#CEC400" stroke-width="0.55"/><circle cx="284.9" cy="120.5" r="2.15" fill="#0CA0E4" stroke="#0A82C2" stroke-width="0.5"/><circle cx="249.5" cy="120.7" r="2.15" fill="#F8F200" stroke="#CEC400" stroke-width="0.55"/><circle cx="250.9" cy="54.1" r="2.15" fill="#0CA0E4" stroke="#0A82C2" stroke-width="0.5"/><circle cx="279.4" cy="76.7" r="2.15" fill="#0CA0E4" stroke="#0A82C2" stroke-width="0.5"/><circle cx="267.2" cy="90.0" r="2.15" fill="#0CA0E4" stroke="#0A82C2" stroke-width="0.5"/><circle cx="293.4" cy="97.5" r="2.15" fill="#0CA0E4" stroke="#0A82C2" stroke-width="0.5"/><circle cx="264.3" cy="97.4" r="2.15" fill="#0CA0E4" stroke="#0A82C2" stroke-width="0.5"/><circle cx="278.0" cy="36.9" r="2.15" fill="#F8F200" stroke="#CEC400" stroke-width="0.55"/><circle cx="247.6" cy="97.7" r="2.15" fill="#F8F200" stroke="#CEC400" stroke-width="0.55"/><circle cx="262.5" cy="73.2" r="2.15" fill="#0CA0E4" stroke="#0A82C2" stroke-width="0.5"/><circle cx="293.5" cy="89.6" r="2.15" fill="#0CA0E4" stroke="#0A82C2" stroke-width="0.5"/><circle cx="279.3" cy="98.1" r="2.15" fill="#0CA0E4" stroke="#0A82C2" stroke-width="0.5"/><circle cx="251.4" cy="64.5" r="2.15" fill="#F8F200" stroke="#CEC400" stroke-width="0.55"/><circle cx="250.0" cy="47.7" r="2.15" fill="#F8F200" stroke="#CEC400" stroke-width="0.55"/><circle cx="276.8" cy="101.2" r="2.15" fill="#0CA0E4" stroke="#0A82C2" stroke-width="0.5"/><circle cx="238.1" cy="47.9" r="2.15" fill="#F8F200" stroke="#CEC400" stroke-width="0.55"/><circle cx="235.1" cy="67.6" r="2.15" fill="#F8F200" stroke="#CEC400" stroke-width="0.55"/><circle cx="283.5" cy="31.6" r="2.15" fill="#F8F200" stroke="#CEC400" stroke-width="0.55"/><circle cx="256.1" cy="103.0" r="2.15" fill="#F8F200" stroke="#CEC400" stroke-width="0.55"/><circle cx="268.4" cy="48.0" r="2.15" fill="#F8F200" stroke="#CEC400" stroke-width="0.55"/><circle cx="241.0" cy="84.1" r="2.15" fill="#F8F200" stroke="#CEC400" stroke-width="0.55"/><circle cx="240.9" cy="64.3" r="2.15" fill="#F8F200" stroke="#CEC400" stroke-width="0.55"/><circle cx="288.2" cy="60.3" r="2.15" fill="#0CA0E4" stroke="#0A82C2" stroke-width="0.5"/><circle cx="257.3" cy="69.9" r="2.15" fill="#F8F200" stroke="#CEC400" stroke-width="0.55"/><circle cx="238.1" cy="27.0" r="2.15" fill="#F8F200" stroke="#CEC400" stroke-width="0.55"/><circle cx="268.1" cy="116.4" r="2.15" fill="#F8F200" stroke="#CEC400" stroke-width="0.55"/><circle cx="291.2" cy="64.4" r="2.15" fill="#0CA0E4" stroke="#0A82C2" stroke-width="0.5"/><circle cx="243.9" cy="86.6" r="2.15" fill="#F8F200" stroke="#CEC400" stroke-width="0.55"/><circle cx="279.3" cy="58.2" r="2.15" fill="#0CA0E4" stroke="#0A82C2" stroke-width="0.5"/><circle cx="294.4" cy="104.3" r="2.15" fill="#0CA0E4" stroke="#0A82C2" stroke-width="0.5"/><circle cx="269.7" cy="120.9" r="2.15" fill="#0CA0E4" stroke="#0A82C2" stroke-width="0.5"/><circle cx="253.4" cy="117.2" r="2.15" fill="#F8F200" stroke="#CEC400" stroke-width="0.55"/><circle cx="289.8" cy="77.7" r="2.15" fill="#0CA0E4" stroke="#0A82C2" stroke-width="0.5"/><circle cx="267.8" cy="77.5" r="2.15" fill="#0CA0E4" stroke="#0A82C2" stroke-width="0.5"/><circle cx="253.6" cy="61.2" r="2.15" fill="#F8F200" stroke="#CEC400" stroke-width="0.55"/><circle cx="252.5" cy="83.3" r="2.15" fill="#F8F200" stroke="#CEC400" stroke-width="0.55"/><circle cx="252.9" cy="104.1" r="2.15" fill="#F8F200" stroke="#CEC400" stroke-width="0.55"/><circle cx="289.2" cy="66.7" r="2.15" fill="#0CA0E4" stroke="#0A82C2" stroke-width="0.5"/><circle cx="286.8" cy="103.6" r="2.15" fill="#F8F200" stroke="#CEC400" stroke-width="0.55"/><circle cx="257.3" cy="46.7" r="2.15" fill="#F8F200" stroke="#CEC400" stroke-width="0.55"/><circle cx="269.7" cy="27.0" r="2.15" fill="#F8F200" stroke="#CEC400" stroke-width="0.55"/></g><line x1="235.00" y1="122.00" x2="295.70" y2="122.00" stroke="#000" stroke-width="2"/><path d="M295.70,26.20 L53.30,26.20 L53.30,221.60 L295.70,221.60" stroke="#000" stroke-width="2.30" fill="none" stroke-linecap="square"/><line x1="295.70" y1="25.05" x2="295.70" y2="222.75" stroke="#00008B" stroke-width="2.30"/><g fill="none" stroke-linejoin="round" stroke-linecap="round"><path d="M53.4,145.3 L53.6,144.3 L53.8,143.2 L54.0,142.0 L54.2,140.8 L54.4,139.6 L54.6,138.5 L54.8,137.5 L55.0,136.7 L55.2,136.0 L55.4,135.4 L55.6,135.1 L55.8,135.0 L56.0,135.3 L56.2,136.4 L56.4,138.0 L56.6,140.2 L56.8,142.7 L57.0,145.6 L57.2,148.4 L57.4,151.3 L57.6,153.8 L57.8,156.0 L58.0,157.6 L58.2,158.7 L58.4,159.0 L58.6,158.3 L58.8,156.2 L59.0,152.9 L59.2,148.6 L59.4,143.6 L59.6,138.2 L59.8,132.8 L60.0,127.8 L60.2,123.5 L60.4,120.2 L60.6,118.1 L60.8,117.4 L61.0,118.1 L61.2,120.2 L61.4,123.5 L61.6,127.7 L61.8,132.5 L62.0,137.5 L62.2,142.3 L62.4,146.5 L62.6,149.8 L62.8,151.9 L63.0,152.6 L63.2,152.4 L63.4,151.6 L63.6,150.5 L63.8,149.0 L64.0,147.3 L64.3,145.4 L64.5,143.5 L64.7,141.8 L64.9,140.3 L65.1,139.2 L65.3,138.4 L65.5,138.2 L65.7,138.8 L65.9,140.5 L66.1,143.1 L66.3,146.2 L66.5,149.3 L66.7,151.9 L66.9,153.6 L67.1,154.2 L67.3,153.8 L67.5,152.8 L67.7,151.1 L67.9,148.8 L68.1,146.2 L68.3,143.3 L68.5,140.3 L68.7,137.4 L68.9,134.8 L69.1,132.5 L69.3,130.8 L69.5,129.8 L69.7,129.4 L69.9,129.5 L70.1,130.0 L70.3,130.7 L70.5,131.6 L70.7,132.8 L70.9,134.2 L71.1,135.7 L71.3,137.4 L71.5,139.2 L71.7,141.0 L71.9,142.8 L72.1,144.6 L72.3,146.3 L72.5,147.8 L72.7,149.2 L72.9,150.4 L73.1,151.3 L73.4,152.0 L73.6,152.5 L73.8,152.6 L74.0,152.4 L74.2,151.9 L74.4,151.0 L74.6,149.8 L74.8,148.3 L75.0,146.7 L75.2,144.9 L75.4,143.1 L75.6,141.4 L75.8,139.8 L76.0,138.3 L76.2,137.1 L76.4,136.2 L76.6,135.7 L76.8,135.5 L77.0,135.8 L77.2,136.6 L77.4,137.8 L77.6,139.5 L77.8,141.5 L78.0,143.7 L78.2,146.0 L78.4,148.2 L78.6,150.2 L78.8,151.8 L79.0,153.1 L79.2,153.9 L79.4,154.2 L79.6,153.7 L79.8,152.3 L80.0,150.0 L80.2,147.0 L80.4,143.5 L80.6,139.8 L80.9,136.1 L81.1,132.6 L81.3,129.6 L81.5,127.3 L81.7,125.9 L81.9,125.4 L82.1,125.9 L82.3,127.2 L82.5,129.4 L82.7,132.0 L82.9,135.0 L83.1,138.0 L83.3,140.6 L83.5,142.8 L83.7,144.1 L83.9,144.6 L84.1,144.3 L84.3,143.3 L84.5,141.8 L84.7,140.0 L84.9,138.3 L85.1,136.8 L85.3,135.8 L85.5,135.5 L85.7,135.7 L85.9,136.3 L86.1,137.3 L86.3,138.6 L86.5,140.2 L86.7,141.9 L86.9,143.9 L87.1,145.8 L87.3,147.7 L87.5,149.5 L87.7,151.1 L87.9,152.4 L88.1,153.4 L88.3,154.0 L88.5,154.2 L88.7,153.8 L88.9,152.8 L89.1,151.2 L89.3,149.4 L89.5,147.6 L89.7,146.0 L89.9,145.0 L90.1,144.6 L90.4,145.3 L90.6,147.3 L90.8,150.2 L91.0,153.4 L91.2,156.3 L91.4,158.3 L91.6,159.0 L91.8,157.5 L92.0,153.1 L92.2,146.7 L92.4,139.0 L92.6,131.3 L92.8,124.9 L93.0,120.5 L93.2,119.0 L93.4,119.7 L93.6,121.7 L93.8,124.9 L94.0,129.0 L94.2,133.8 L94.4,139.0 L94.6,144.2 L94.8,149.0 L95.0,153.1 L95.3,156.3 L95.5,158.3 L95.7,159.0 L95.9,158.6 L96.1,157.3 L96.3,155.3 L96.5,152.6 L96.7,149.4 L96.9,146.0 L97.1,142.4 L97.3,139.0 L97.5,135.8 L97.7,133.1 L97.9,131.1 L98.1,129.8 L98.3,129.4 L98.5,129.8 L98.7,131.0 L98.9,132.8 L99.1,135.2 L99.3,138.0 L99.5,141.0 L99.8,144.0 L100.0,146.8 L100.2,149.2 L100.4,151.0 L100.6,152.2 L100.8,152.6 L101.0,152.4 L101.2,151.8 L101.4,150.9 L101.6,149.6 L101.8,148.0 L102.0,146.2 L102.2,144.2 L102.4,142.0 L102.6,139.8 L102.8,137.6 L103.0,135.4 L103.2,133.4 L103.4,131.6 L103.6,130.0 L103.8,128.7 L104.0,127.8 L104.2,127.2 L104.4,127.0 L104.6,127.7 L104.8,129.8 L105.0,132.9 L105.2,137.0 L105.4,141.4 L105.6,145.8 L105.8,149.9 L106.0,153.0 L106.2,155.1 L106.4,155.8 L106.6,155.5 L106.9,154.6 L107.1,153.1 L107.3,151.2 L107.5,149.0 L107.7,146.6 L107.9,144.2 L108.1,142.0 L108.3,140.1 L108.5,138.6 L108.7,137.7 L109.0,137.4 L109.2,138.0 L109.4,139.6 L109.6,142.2 L109.8,145.4 L110.0,149.0 L110.2,152.6 L110.4,155.8 L110.6,158.4 L110.8,160.0 L111.0,160.6 L111.2,160.4 L111.4,159.7 L111.6,158.7 L111.8,157.4 L112.0,155.9 L112.2,154.2 L112.4,152.5 L112.6,151.0 L112.8,149.7 L113.0,148.7 L113.2,148.0 L113.4,147.8 L113.6,148.2 L113.8,149.2 L114.0,150.8 L114.2,153.0 L114.4,155.5 L114.6,158.2 L114.8,160.9 L115.0,163.4 L115.2,165.6 L115.4,167.2 L115.6,168.2 L115.8,168.6 L116.0,168.5 L116.2,168.3 L116.4,167.9 L116.6,167.4 L116.8,166.8 L117.1,166.2 L117.3,165.6 L117.5,165.0 L117.7,164.5 L117.9,164.1 L118.1,163.9 L118.3,163.8 L118.5,164.0 L118.7,164.5 L118.9,165.3 L119.1,166.4 L119.3,167.8 L119.5,169.4 L119.7,171.2 L119.9,173.1 L120.1,175.0 L120.3,176.9 L120.5,178.8 L120.7,180.6 L120.9,182.2 L121.1,183.6 L121.3,184.7 L121.5,185.5 L121.7,186.0 L121.9,186.2 L122.1,186.1 L122.4,185.7 L122.6,185.0 L122.8,184.1 L123.0,183.1 L123.2,182.0 L123.4,180.8 L123.6,179.7 L123.8,178.7 L124.0,177.8 L124.2,177.1 L124.4,176.7 L124.6,176.6 L124.8,176.7 L125.0,177.2 L125.2,177.8 L125.4,178.7 L125.6,179.7 L125.8,180.8 L126.0,181.9 L126.2,183.0 L126.4,183.8 L126.6,184.5 L126.8,184.9 L127.0,185.1 L127.2,184.9 L127.4,184.4 L127.6,183.7 L127.8,182.6 L128.0,181.4 L128.2,180.1 L128.5,178.7 L128.7,177.4 L128.9,176.2 L129.1,175.1 L129.3,174.4 L129.5,173.9 L129.7,173.7 L129.9,173.8 L130.1,173.9 L130.3,174.2 L130.5,174.5 L130.7,174.9 L130.9,175.4 L131.1,176.0 L131.3,176.7 L131.5,177.4 L131.7,178.2 L131.9,179.1 L132.1,180.0 L132.3,180.9 L132.5,181.9 L132.7,182.9 L132.9,183.9 L133.1,185.0 L133.3,186.0 L133.5,187.0 L133.7,187.9 L133.9,188.9 L134.1,189.8 L134.3,190.7 L134.5,191.5 L134.7,192.2 L134.9,192.9 L135.1,193.5 L135.3,194.0 L135.5,194.4 L135.7,194.7 L135.9,195.0 L136.1,195.1 L136.3,195.2 L136.5,195.1 L136.7,195.0 L136.9,194.8 L137.1,194.6 L137.3,194.3 L137.5,193.9 L137.7,193.4 L137.9,192.9 L138.1,192.4 L138.3,191.8 L138.5,191.2 L138.7,190.6 L138.9,189.9 L139.1,189.2 L139.3,188.6 L139.5,187.9 L139.7,187.3 L139.9,186.7 L140.0,186.1 L140.2,185.5 L140.4,185.1 L140.6,184.6 L140.8,184.2 L141.0,183.9 L141.2,183.7 L141.4,183.5 L141.6,183.4 L141.8,183.3 L142.0,183.3 L142.2,183.4 L142.4,183.5 L142.6,183.6 L142.8,183.8 L143.0,184.0 L143.2,184.3 L143.4,184.5 L143.6,184.8 L143.8,185.2 L144.0,185.6 L144.2,186.0 L144.3,186.4 L144.5,186.8 L144.7,187.3 L144.9,187.8 L145.1,188.3 L145.3,188.8 L145.5,189.4 L145.7,189.9 L145.9,190.5 L146.1,191.0 L146.3,191.6 L146.5,192.2 L146.7,192.7 L146.9,193.3 L147.1,193.8 L147.3,194.3 L147.4,194.8 L147.6,195.3 L147.8,195.8 L148.0,196.2 L148.2,196.7 L148.4,197.1 L148.6,197.4 L148.8,197.8 L149.0,198.1 L149.2,198.4 L149.4,198.6 L149.6,198.8 L149.8,199.0 L150.0,199.1 L150.2,199.2 L150.4,199.3 L150.6,199.3 L150.8,199.2 L150.9,198.8 L151.1,198.2 L151.3,197.3 L151.5,196.3 L151.7,195.1 L151.9,193.7 L152.1,192.3 L152.3,190.8 L152.5,189.4 L152.7,187.9 L152.9,186.6 L153.1,185.4 L153.3,184.3 L153.5,183.5 L153.7,182.9 L153.9,182.5 L154.1,182.4 L154.3,182.4 L154.5,182.5 L154.7,182.7 L154.9,182.9 L155.1,183.2 L155.3,183.6 L155.5,184.1 L155.7,184.5 L155.9,185.1 L156.1,185.7 L156.3,186.3 L156.5,187.0 L156.7,187.7 L156.9,188.4 L157.1,189.2 L157.3,189.9 L157.5,190.7 L157.7,191.4 L157.9,192.1 L158.1,192.9 L158.3,193.6 L158.5,194.2 L158.7,194.9 L158.9,195.5 L159.1,196.0 L159.3,196.5 L159.5,196.9 L159.7,197.3 L159.9,197.6 L160.1,197.9 L160.3,198.1 L160.5,198.2 L160.7,198.2 L160.9,198.2 L161.1,198.0 L161.3,197.8 L161.5,197.4 L161.7,197.0 L161.9,196.5 L162.1,196.0 L162.3,195.3 L162.5,194.6 L162.7,193.9 L162.9,193.1 L163.1,192.4 L163.3,191.6 L163.4,190.8 L163.6,190.0 L163.8,189.2 L164.0,188.5 L164.2,187.8 L164.4,187.2 L164.6,186.6 L164.8,186.1 L165.0,185.7 L165.2,185.4 L165.4,185.1 L165.6,185.0 L165.8,184.9 L166.0,185.0 L166.2,185.2 L166.4,185.5 L166.6,185.9 L166.8,186.5 L167.0,187.1 L167.2,187.9 L167.4,188.7 L167.6,189.6 L167.8,190.5 L167.9,191.6 L168.1,192.6 L168.3,193.6 L168.5,194.7 L168.7,195.7 L168.9,196.7 L169.1,197.7 L169.3,198.6 L169.5,199.4 L169.7,200.2 L169.9,200.8 L170.1,201.4 L170.3,201.8 L170.5,202.1 L170.7,202.3 L170.9,202.4 L171.1,202.3 L171.3,202.3 L171.5,202.2 L171.7,202.1 L171.9,202.0 L172.1,201.8 L172.3,201.6 L172.5,201.3 L172.7,201.1 L172.9,200.8 L173.1,200.5 L173.3,200.1 L173.5,199.8 L173.7,199.4 L173.9,199.0 L174.1,198.6 L174.2,198.2 L174.4,197.8 L174.6,197.3 L174.8,196.9 L175.0,196.4 L175.2,196.0 L175.4,195.5 L175.6,195.1 L175.8,194.6 L176.0,194.2 L176.2,193.8 L176.4,193.4 L176.6,193.0 L176.8,192.6 L177.0,192.3 L177.2,191.9 L177.4,191.6 L177.6,191.3 L177.8,191.1 L178.0,190.8 L178.2,190.6 L178.4,190.4 L178.6,190.3 L178.8,190.2 L179.0,190.1 L179.2,190.1 L179.3,190.0 L179.6,190.2 L179.8,190.5 L180.0,191.2 L180.2,192.0 L180.4,193.0 L180.6,194.1 L180.8,195.4 L181.0,196.7 L181.2,198.0 L181.4,199.2 L181.6,200.4 L181.8,201.4 L182.0,202.2 L182.2,202.8 L182.4,203.2 L182.6,203.3 L182.9,203.2 L183.1,202.8 L183.3,202.3 L183.5,201.5 L183.7,200.5 L183.9,199.4 L184.1,198.2 L184.3,197.0 L184.5,195.8 L184.7,194.6 L184.9,193.5 L185.1,192.5 L185.3,191.7 L185.5,191.2 L185.7,190.8 L185.9,190.7 L186.1,190.8 L186.3,191.3 L186.5,192.0 L186.7,192.9 L186.9,194.0 L187.1,195.2 L187.4,196.4 L187.6,197.6 L187.8,198.7 L188.0,199.6 L188.2,200.3 L188.4,200.8 L188.6,200.9 L188.8,200.8 L189.0,200.3 L189.2,199.6 L189.4,198.7 L189.6,197.7 L189.8,196.5 L190.0,195.4 L190.2,194.3 L190.4,193.4 L190.6,192.7 L190.8,192.3 L191.0,192.1 L191.2,192.2 L191.4,192.4 L191.6,192.8 L191.8,193.3 L192.0,193.9 L192.2,194.6 L192.4,195.4 L192.6,196.3 L192.8,197.2 L193.0,198.2 L193.2,199.2 L193.4,200.1 L193.6,201.1 L193.8,202.0 L194.0,202.8 L194.2,203.5 L194.4,204.1 L194.6,204.6 L194.8,204.9 L195.0,205.2 L195.2,205.2 L195.3,205.2 L195.5,205.1 L195.7,205.0 L195.9,204.8 L196.1,204.6 L196.3,204.3 L196.5,204.0 L196.7,203.7 L196.9,203.3 L197.1,202.9 L197.3,202.4 L197.5,202.0 L197.7,201.5 L197.9,201.1 L198.1,200.6 L198.3,200.2 L198.4,199.8 L198.6,199.4 L198.8,199.0 L199.0,198.6 L199.2,198.3 L199.4,198.0 L199.6,197.8 L199.8,197.6 L200.0,197.5 L200.2,197.4 L200.4,197.4 L200.6,197.4 L200.8,197.5 L201.0,197.5 L201.2,197.7 L201.4,197.8 L201.6,198.0 L201.8,198.2 L202.0,198.4 L202.2,198.6 L202.4,198.9 L202.6,199.2 L202.8,199.5 L203.0,199.9 L203.2,200.2 L203.4,200.6 L203.6,201.0 L203.8,201.4 L204.0,201.8 L204.2,202.2 L204.4,202.7 L204.6,203.1 L204.8,203.5 L205.0,204.0 L205.2,204.4 L205.3,204.8 L205.5,205.2 L205.7,205.6 L205.9,206.0 L206.1,206.4 L206.3,206.8 L206.5,207.1 L206.7,207.4 L206.9,207.7 L207.1,208.0 L207.3,208.3 L207.5,208.5 L207.7,208.7 L207.9,208.8 L208.1,209.0 L208.3,209.1 L208.5,209.2 L208.7,209.2 L208.9,209.2 L209.1,209.2 L209.3,209.1 L209.5,208.9 L209.7,208.6 L209.9,208.2 L210.1,207.8 L210.3,207.2 L210.5,206.7 L210.7,206.1 L210.9,205.4 L211.1,204.7 L211.3,204.0 L211.5,203.3 L211.7,202.6 L211.9,201.9 L212.1,201.2 L212.3,200.6 L212.5,200.0 L212.7,199.4 L212.9,198.9 L213.1,198.4 L213.4,198.1 L213.6,197.8 L213.8,197.6 L214.0,197.4 L214.2,197.4 L214.4,197.4 L214.6,197.5 L214.8,197.5 L215.0,197.7 L215.2,197.8 L215.4,198.0 L215.6,198.2 L215.8,198.4 L216.0,198.6 L216.1,198.9 L216.3,199.2 L216.5,199.5 L216.7,199.8 L216.9,200.1 L217.1,200.5 L217.3,200.8 L217.5,201.2 L217.7,201.6 L217.9,201.9 L218.1,202.3 L218.3,202.6 L218.5,203.0 L218.7,203.3 L218.9,203.6 L219.1,203.9 L219.3,204.2 L219.5,204.5 L219.7,204.7 L219.9,205.0 L220.1,205.2 L220.3,205.3 L220.5,205.5 L220.7,205.6 L220.9,205.7 L221.1,205.7 L221.3,205.7 L221.5,205.7 L221.7,205.7 L221.9,205.7 L222.1,205.6 L222.3,205.6 L222.5,205.5 L222.7,205.5 L222.9,205.4 L223.1,205.3 L223.3,205.3 L223.5,205.2 L223.7,205.1 L223.9,205.0 L224.1,204.8 L224.3,204.7 L224.5,204.6 L224.7,204.5 L224.9,204.3 L225.1,204.2 L225.3,204.1 L225.4,203.9 L225.6,203.8 L225.8,203.6 L226.0,203.5 L226.2,203.3 L226.4,203.2 L226.6,203.1 L226.8,202.9 L227.0,202.8 L227.2,202.7 L227.4,202.5 L227.6,202.4 L227.8,202.3 L228.0,202.2 L228.2,202.1 L228.4,202.0 L228.6,201.9 L228.8,201.8 L229.0,201.7 L229.2,201.6 L229.4,201.6 L229.6,201.5 L229.8,201.5 L230.0,201.4 L230.2,201.4 L230.3,201.4 L230.5,201.4 L230.7,201.4 L230.9,201.5 L231.1,201.7 L231.3,201.9 L231.5,202.2 L231.7,202.5 L231.9,202.9 L232.1,203.3 L232.3,203.7 L232.5,204.2 L232.7,204.7 L232.9,205.2 L233.1,205.6 L233.3,206.1 L233.5,206.5 L233.7,206.9 L233.9,207.3 L234.1,207.7 L234.3,207.9 L234.5,208.1 L234.7,208.3 L234.9,208.4 L235.1,208.4 L235.3,208.4 L235.5,208.1 L235.7,207.7 L235.9,207.1 L236.1,206.4 L236.3,205.6 L236.5,204.8 L236.7,203.9 L237.0,203.0 L237.2,202.1 L237.4,201.3 L237.6,200.7 L237.8,200.1 L238.0,199.7 L238.2,199.4 L238.4,199.3 L238.6,199.5 L238.8,200.0 L239.0,200.8 L239.2,201.8 L239.4,203.1 L239.6,204.6 L239.8,206.2 L240.0,207.9 L240.3,209.5 L240.5,211.2 L240.7,212.6 L240.9,213.9 L241.1,215.0 L241.3,215.8 L241.5,216.3 L241.7,216.4 L241.9,216.4 L242.1,216.4 L242.3,216.2 L242.5,216.1 L242.7,215.9 L242.9,215.7 L243.1,215.4 L243.2,215.2 L243.4,214.9 L243.6,214.6 L243.8,214.3 L244.0,214.0 L244.2,213.7 L244.4,213.4 L244.6,213.2 L244.8,213.0 L245.0,212.8 L245.2,212.6 L245.4,212.5 L245.6,212.5 L245.8,212.4 L246.0,212.5 L246.2,212.5 L246.4,212.6 L246.6,212.7 L246.8,212.9 L247.0,213.1 L247.2,213.3 L247.4,213.6 L247.6,213.8 L247.7,214.1 L247.9,214.4 L248.1,214.6 L248.3,214.9 L248.5,215.2 L248.7,215.4 L248.9,215.6 L249.1,215.8 L249.3,216.0 L249.5,216.1 L249.7,216.2 L249.9,216.3 L250.1,216.3 L250.3,216.3 L250.5,216.3 L250.7,216.2 L250.9,216.2 L251.1,216.1 L251.4,216.1 L251.6,216.0 L251.8,215.9 L252.0,215.8 L252.2,215.8 L252.4,215.7 L252.6,215.6 L252.8,215.5 L253.0,215.5 L253.2,215.4 L253.4,215.4 L253.6,215.3 L253.8,215.3 L254.0,215.3 L254.2,215.3 L254.4,215.4 L254.6,215.4 L254.8,215.4 L255.0,215.5 L255.2,215.6 L255.4,215.7 L255.6,215.8 L255.8,215.9 L255.9,216.0 L256.1,216.2 L256.3,216.3 L256.5,216.5 L256.7,216.6 L256.9,216.8 L257.1,216.9 L257.3,217.1 L257.5,217.2 L257.7,217.3 L257.9,217.5 L258.1,217.6 L258.3,217.7 L258.5,217.8 L258.7,217.9 L258.9,218.0 L259.0,218.1 L259.2,218.1 L259.4,218.2 L259.6,218.2 L259.8,218.2 L260.0,218.2 L260.2,218.2 L260.4,218.2 L260.6,218.2 L260.8,218.2 L261.0,218.2 L261.2,218.2 L261.4,218.2 L261.6,218.2 L261.8,218.2 L262.0,218.2 L262.2,218.2 L262.4,218.2 L262.6,218.2 L262.7,218.2 L262.9,218.2 L263.1,218.2 L263.3,218.2 L263.5,218.2 L263.7,218.2 L263.9,218.2 L264.1,218.2 L264.3,218.2 L264.5,218.2 L264.7,218.2 L264.9,218.2 L265.1,218.2 L265.3,218.2 L265.5,218.2 L265.7,218.2 L265.9,218.2 L266.1,218.2 L266.3,218.2 L266.5,218.2 L266.6,218.2 L266.8,218.2 L267.0,218.2 L267.2,218.2 L267.4,218.2 L267.6,218.2 L267.8,218.2 L268.0,218.2 L268.2,218.2 L268.4,218.2 L268.6,218.2 L268.8,218.2 L269.0,218.2 L269.2,218.2 L269.4,218.2 L269.6,218.2 L269.8,218.2 L270.0,218.2 L270.2,218.2 L270.3,218.2 L270.5,218.2 L270.7,218.2 L270.9,218.2 L271.1,218.2 L271.3,218.2 L271.5,218.2 L271.7,218.2 L271.9,218.2 L272.1,218.2 L272.3,218.2 L272.5,218.2 L272.7,218.2 L272.9,218.2 L273.1,218.2 L273.3,218.2 L273.5,218.2 L273.7,218.2 L273.9,218.2 L274.1,218.2 L274.2,218.2 L274.4,218.2 L274.6,218.2 L274.8,218.2 L275.0,218.2 L275.2,218.2 L275.4,218.2 L275.6,218.2 L275.8,218.2 L276.0,218.2 L276.2,218.2 L276.4,218.2 L276.6,218.2 L276.8,218.2 L277.0,218.2 L277.2,218.2 L277.4,218.2 L277.6,218.2 L277.8,218.2 L277.9,218.2 L278.1,218.2 L278.3,218.2 L278.5,218.2 L278.7,218.2 L278.9,218.2 L279.1,218.2 L279.3,218.2 L279.5,218.2 L279.7,218.2 L279.9,218.2 L280.1,218.2 L280.3,218.2 L280.5,218.2 L280.7,218.2 L280.9,218.2 L281.1,218.2 L281.3,218.2 L281.5,218.2 L281.7,218.2 L281.8,218.2 L282.0,218.2 L282.2,218.2 L282.4,218.2 L282.6,218.2 L282.8,218.2 L283.0,218.2 L283.2,218.2 L283.4,218.2 L283.6,218.2 L283.8,218.2 L284.0,218.2 L284.2,218.2 L284.4,218.2 L284.6,218.2 L284.8,218.2 L285.0,218.2 L285.2,218.2 L285.4,218.2 L285.6,218.2 L285.7,218.2 L285.9,218.2 L286.1,218.2 L286.3,218.2 L286.5,218.2 L286.7,218.2 L286.9,218.2 L287.1,218.2 L287.3,218.2 L287.5,218.2 L287.7,218.2 L287.9,218.2 L288.1,218.2 L288.3,218.2 L288.5,218.2 L288.7,218.2 L288.9,218.2 L289.1,218.2 L289.3,218.2 L289.4,218.2 L289.6,218.2 L289.8,218.2 L290.0,218.2 L290.2,218.2 L290.4,218.2 L290.6,218.2 L290.8,218.2 L291.0,218.2 L291.2,218.2 L291.4,218.2 L291.6,218.2 L291.8,218.2 L292.0,218.2 L292.2,218.2 L292.4,218.2 L292.6,218.2 L292.8,218.2 L293.0,218.2 L293.2,218.2 L293.3,218.2 L293.5,218.2 L293.7,218.2 L293.9,218.2 L294.1,218.2 L294.3,218.2 L294.5,218.2 L294.7,218.2 L294.9,218.2 L295.1,218.2 L295.3,218.2 L295.5,218.2 L295.7,218.2" stroke="#C2BE00" stroke-width="1.90"/><path d="M53.3,141.7 L63.0,142.4 L72.7,143.2 L82.4,140.1 L92.1,141.7 L101.8,143.2 L111.5,147.3 L115.8,159.0 L120.0,175.2 L131.2,179.3 L139.9,185.9 L150.1,186.8 L156.7,189.6 L169.0,192.6 L174.5,194.7 L179.8,197.4 L188.9,195.5 L197.8,199.3 L208.4,200.4 L220.7,203.3 L236.6,204.3 L247.7,209.2 L256.9,215.8 L264.7,218.2 L295.7,218.2" stroke="#FF8000" stroke-width="2.4"/><path d="M53.3,218.2 L53.5,218.2 L53.7,218.2 L53.9,218.2 L54.1,218.2 L54.3,218.2 L54.5,218.2 L54.7,218.2 L54.9,218.2 L55.1,218.2 L55.2,218.2 L55.4,218.2 L55.6,218.2 L55.8,218.2 L56.0,218.2 L56.2,218.2 L56.4,218.2 L56.6,218.2 L56.8,218.2 L57.0,218.2 L57.2,218.2 L57.4,218.2 L57.6,218.2 L57.8,218.2 L58.0,218.2 L58.2,218.2 L58.4,218.2 L58.6,218.2 L58.8,218.2 L58.9,218.2 L59.1,218.2 L59.3,218.2 L59.5,218.2 L59.7,218.2 L59.9,218.2 L60.1,218.2 L60.3,218.2 L60.5,218.2 L60.7,218.2 L60.9,218.2 L61.1,218.2 L61.3,218.2 L61.5,218.2 L61.7,218.2 L61.9,218.2 L62.1,218.2 L62.3,218.2 L62.5,218.2 L62.6,218.2 L62.8,218.2 L63.0,218.2 L63.2,218.2 L63.4,218.2 L63.6,218.2 L63.8,218.2 L64.0,218.2 L64.2,218.2 L64.4,218.2 L64.6,218.2 L64.8,218.2 L65.0,218.2 L65.2,218.2 L65.4,218.2 L65.6,218.2 L65.8,218.2 L66.0,218.2 L66.2,218.2 L66.3,218.2 L66.5,218.2 L66.7,218.2 L66.9,218.2 L67.1,218.2 L67.3,218.2 L67.5,218.2 L67.7,218.2 L67.9,218.2 L68.1,218.2 L68.3,218.2 L68.5,218.2 L68.7,218.2 L68.9,218.2 L69.1,218.2 L69.3,218.2 L69.5,218.2 L69.7,218.2 L69.9,218.2 L70.0,218.2 L70.2,218.2 L70.4,218.2 L70.6,218.2 L70.8,218.2 L71.0,218.2 L71.2,218.2 L71.4,218.2 L71.6,218.2 L71.8,218.2 L72.0,218.2 L72.2,218.2 L72.4,218.2 L72.6,218.2 L72.8,218.2 L73.0,218.2 L73.2,218.2 L73.4,218.2 L73.6,218.2 L73.7,218.2 L73.9,218.2 L74.1,218.2 L74.3,218.2 L74.5,218.2 L74.7,218.2 L74.9,218.2 L75.1,218.2 L75.3,218.2 L75.5,218.2 L75.7,218.2 L75.9,218.2 L76.1,218.2 L76.3,218.2 L76.5,218.2 L76.7,218.2 L76.9,218.2 L77.1,218.2 L77.3,218.2 L77.4,218.2 L77.6,218.2 L77.8,218.2 L78.0,218.2 L78.2,218.2 L78.4,218.2 L78.6,218.2 L78.8,218.2 L79.0,218.2 L79.2,218.2 L79.4,218.2 L79.6,218.2 L79.8,218.2 L80.0,218.2 L80.2,218.2 L80.4,218.2 L80.6,218.2 L80.8,218.2 L81.0,218.2 L81.1,218.2 L81.3,218.2 L81.5,218.2 L81.7,218.2 L81.9,218.2 L82.1,218.2 L82.3,218.2 L82.5,218.2 L82.7,218.2 L82.9,218.2 L83.1,218.2 L83.3,218.2 L83.5,218.2 L83.7,218.2 L83.9,218.2 L84.1,218.2 L84.3,218.2 L84.5,218.2 L84.7,218.2 L84.8,218.2 L85.0,218.2 L85.2,218.2 L85.4,218.2 L85.6,218.2 L85.8,218.2 L86.0,218.2 L86.2,218.2 L86.4,218.2 L86.6,218.2 L86.8,218.2 L87.0,218.2 L87.2,218.2 L87.4,218.2 L87.6,218.2 L87.8,218.2 L88.0,218.2 L88.2,218.2 L88.4,218.2 L88.5,218.2 L88.7,218.2 L88.9,218.2 L89.1,218.2 L89.3,218.2 L89.5,218.2 L89.7,218.2 L89.9,218.2 L90.1,218.2 L90.3,218.2 L90.5,218.2 L90.7,218.2 L90.9,218.2 L91.1,218.2 L91.3,218.2 L91.5,218.2 L91.7,218.2 L91.9,218.2 L92.1,218.2 L92.2,218.2 L92.4,218.2 L92.6,218.2 L92.8,218.2 L93.0,218.2 L93.2,218.2 L93.4,218.2 L93.6,218.2 L93.8,218.2 L94.0,218.2 L94.2,218.2 L94.4,218.2 L94.6,218.2 L94.8,218.2 L95.0,218.2 L95.2,218.2 L95.4,218.2 L95.6,218.2 L95.8,218.2 L95.9,218.2 L96.1,218.2 L96.3,218.2 L96.5,218.2 L96.7,218.2 L96.9,218.2 L97.1,218.2 L97.3,218.2 L97.5,218.2 L97.7,218.2 L97.9,218.2 L98.1,218.2 L98.3,218.2 L98.5,218.2 L98.7,218.2 L98.9,218.2 L99.1,218.0 L99.3,217.4 L99.5,216.5 L99.6,215.4 L99.8,214.1 L100.0,212.9 L100.2,211.7 L100.4,210.8 L100.6,210.2 L100.8,210.0 L101.0,210.2 L101.2,210.7 L101.4,211.3 L101.6,212.1 L101.8,212.8 L102.1,213.2 L102.3,213.4 L102.5,213.3 L102.7,212.9 L102.9,212.3 L103.1,211.5 L103.3,210.5 L103.5,209.4 L103.7,208.2 L103.9,206.9 L104.1,205.5 L104.3,204.2 L104.5,203.0 L104.7,201.9 L104.9,200.9 L105.1,200.1 L105.3,199.5 L105.6,199.1 L105.8,199.0 L106.0,198.9 L106.2,198.5 L106.4,197.8 L106.6,196.9 L106.8,195.8 L107.0,194.5 L107.2,193.1 L107.4,191.5 L107.6,189.8 L107.8,188.1 L108.0,186.4 L108.2,184.8 L108.4,183.2 L108.6,181.7 L108.8,180.4 L109.0,179.3 L109.2,178.4 L109.4,177.8 L109.6,177.4 L109.8,177.2 L110.0,177.2 L110.2,177.0 L110.4,176.6 L110.6,176.1 L110.8,175.5 L111.0,174.8 L111.2,174.0 L111.4,173.1 L111.6,172.2 L111.8,171.3 L112.0,170.4 L112.2,169.5 L112.3,168.6 L112.5,167.8 L112.7,167.1 L112.9,166.5 L113.1,166.0 L113.3,165.7 L113.5,165.5 L113.7,165.4 L113.9,165.2 L114.1,164.6 L114.3,163.8 L114.5,162.6 L114.7,161.4 L114.9,160.2 L115.1,159.0 L115.3,158.2 L115.5,157.6 L115.7,157.4 L115.9,157.5 L116.1,157.8 L116.4,158.2 L116.6,158.8 L116.8,159.4 L117.0,160.0 L117.2,160.6 L117.4,161.0 L117.6,161.3 L117.8,161.4 L118.0,161.3 L118.2,160.8 L118.4,160.2 L118.6,159.4 L118.8,158.6 L119.0,157.8 L119.2,157.2 L119.4,156.7 L119.6,156.6 L119.8,156.8 L120.0,157.4 L120.2,158.3 L120.4,159.4 L120.6,160.5 L120.8,161.4 L121.0,162.0 L121.2,162.2 L121.4,162.0 L121.6,161.5 L121.8,160.6 L122.0,159.6 L122.2,158.4 L122.5,157.4 L122.7,156.5 L122.9,156.0 L123.1,155.8 L123.3,156.0 L123.5,156.5 L123.8,157.2 L124.0,158.1 L124.2,159.1 L124.4,160.0 L124.6,160.7 L124.8,161.2 L125.1,161.4 L125.2,161.1 L125.4,160.2 L125.6,158.8 L125.8,157.0 L126.0,155.0 L126.2,153.0 L126.4,151.2 L126.6,149.8 L126.8,148.9 L127.0,148.6 L127.2,148.8 L127.4,149.2 L127.6,150.0 L127.8,151.0 L128.0,152.2 L128.2,153.4 L128.4,154.6 L128.6,155.8 L128.8,156.8 L129.0,157.6 L129.2,158.0 L129.4,158.2 L129.6,158.0 L129.8,157.5 L130.0,156.7 L130.2,155.6 L130.4,154.3 L130.6,153.0 L130.8,151.7 L131.0,150.4 L131.2,149.3 L131.4,148.5 L131.6,148.0 L131.8,147.8 L132.1,148.0 L132.3,148.7 L132.5,149.8 L132.7,151.1 L132.9,152.5 L133.1,153.8 L133.3,154.9 L133.6,155.6 L133.8,155.8 L134.0,155.6 L134.2,155.1 L134.4,154.3 L134.6,153.2 L134.8,151.9 L135.0,150.5 L135.2,149.1 L135.4,147.7 L135.6,146.4 L135.8,145.3 L136.0,144.5 L136.2,144.0 L136.4,143.8 L136.6,143.9 L136.8,144.2 L137.0,144.7 L137.2,145.4 L137.4,146.3 L137.6,147.3 L137.8,148.3 L138.0,149.4 L138.2,150.5 L138.4,151.5 L138.6,152.5 L138.8,153.4 L139.0,154.1 L139.2,154.6 L139.4,154.9 L139.6,155.0 L139.8,154.9 L140.0,154.8 L140.2,154.5 L140.4,154.1 L140.6,153.6 L140.8,153.0 L141.0,152.3 L141.2,151.5 L141.4,150.7 L141.6,149.9 L141.8,149.0 L142.0,148.2 L142.2,147.3 L142.4,146.5 L142.6,145.7 L142.8,144.9 L143.0,144.2 L143.2,143.6 L143.4,143.1 L143.6,142.7 L143.8,142.4 L144.0,142.3 L144.2,142.2 L144.3,142.4 L144.5,143.0 L144.7,144.0 L144.9,145.2 L145.1,146.8 L145.3,148.5 L145.5,150.3 L145.7,152.1 L145.9,153.8 L146.1,155.3 L146.3,156.6 L146.5,157.6 L146.7,158.2 L146.9,158.4 L147.1,158.1 L147.3,157.4 L147.5,156.3 L147.7,154.8 L147.9,153.0 L148.1,151.0 L148.3,148.8 L148.5,146.7 L148.7,144.7 L148.9,142.9 L149.1,141.4 L149.3,140.3 L149.5,139.6 L149.7,139.3 L149.9,139.5 L150.1,140.0 L150.3,140.9 L150.5,142.1 L150.7,143.5 L150.9,145.1 L151.1,146.8 L151.3,148.6 L151.5,150.3 L151.6,151.9 L151.8,153.3 L152.0,154.5 L152.2,155.4 L152.4,155.9 L152.6,156.1 L152.8,156.0 L153.0,155.5 L153.2,154.8 L153.4,153.8 L153.6,152.6 L153.8,151.3 L154.0,149.9 L154.2,148.4 L154.4,147.0 L154.6,145.7 L154.8,144.5 L155.0,143.5 L155.2,142.8 L155.4,142.4 L155.6,142.2 L155.8,142.4 L156.0,142.8 L156.2,143.6 L156.4,144.7 L156.6,145.9 L156.8,147.3 L157.0,148.8 L157.2,150.2 L157.4,151.6 L157.6,152.9 L157.8,153.9 L158.0,154.7 L158.2,155.2 L158.5,155.3 L158.7,155.1 L158.9,154.3 L159.1,153.1 L159.3,151.5 L159.5,149.5 L159.7,147.4 L159.9,145.1 L160.1,142.8 L160.3,140.6 L160.5,138.7 L160.7,137.1 L160.9,135.9 L161.1,135.1 L161.3,134.8 L161.5,135.2 L161.7,136.2 L161.9,137.7 L162.1,139.8 L162.3,142.0 L162.5,144.4 L162.7,146.7 L162.9,148.7 L163.1,150.3 L163.3,151.3 L163.5,151.6 L163.7,151.5 L163.9,151.0 L164.2,150.3 L164.4,149.3 L164.6,148.2 L164.8,147.1 L165.0,146.0 L165.2,145.0 L165.4,144.3 L165.6,143.8 L165.8,143.6 L166.0,143.7 L166.2,144.0 L166.4,144.4 L166.6,145.0 L166.8,145.7 L167.0,146.5 L167.2,147.3 L167.4,148.1 L167.6,148.9 L167.9,149.6 L168.1,150.2 L168.3,150.6 L168.5,150.9 L168.7,151.0 L168.9,150.8 L169.1,150.4 L169.3,149.6 L169.5,148.6 L169.7,147.3 L169.8,145.9 L170.0,144.4 L170.2,142.9 L170.4,141.4 L170.6,140.0 L170.8,138.7 L171.0,137.7 L171.2,136.9 L171.4,136.4 L171.6,136.3 L171.8,136.4 L172.0,136.9 L172.2,137.7 L172.4,138.7 L172.6,139.9 L172.8,141.4 L173.0,143.0 L173.2,144.6 L173.4,146.3 L173.6,148.0 L173.8,149.6 L174.0,151.0 L174.2,152.3 L174.4,153.3 L174.6,154.1 L174.8,154.5 L175.0,154.7 L175.2,154.5 L175.4,153.9 L175.6,152.9 L175.8,151.5 L176.0,149.8 L176.2,147.9 L176.4,145.8 L176.6,143.6 L176.8,141.4 L177.0,139.2 L177.2,137.1 L177.4,135.2 L177.6,133.5 L177.8,132.2 L178.0,131.2 L178.2,130.6 L178.4,130.4 L178.6,130.6 L178.8,131.2 L179.0,132.2 L179.2,133.6 L179.4,135.3 L179.6,137.3 L179.8,139.4 L180.0,141.7 L180.2,144.0 L180.4,146.3 L180.6,148.4 L180.8,150.4 L181.0,152.1 L181.2,153.5 L181.4,154.5 L181.6,155.1 L181.8,155.3 L182.0,155.1 L182.2,154.5 L182.4,153.5 L182.6,152.2 L182.8,150.5 L183.0,148.6 L183.2,146.5 L183.4,144.4 L183.6,142.1 L183.8,139.9 L184.0,137.9 L184.2,136.0 L184.4,134.3 L184.6,133.0 L184.8,132.0 L185.0,131.4 L185.2,131.2 L185.4,131.4 L185.6,132.0 L185.8,133.0 L186.0,134.4 L186.2,136.1 L186.4,138.1 L186.6,140.2 L186.8,142.5 L187.0,144.8 L187.2,147.1 L187.4,149.2 L187.6,151.2 L187.8,152.9 L188.0,154.3 L188.2,155.3 L188.4,155.9 L188.6,156.1 L188.8,156.0 L189.0,155.5 L189.2,154.6 L189.4,153.5 L189.6,152.2 L189.8,150.6 L190.0,148.9 L190.2,147.1 L190.4,145.3 L190.6,143.5 L190.8,141.8 L191.0,140.2 L191.2,138.9 L191.4,137.8 L191.6,136.9 L191.8,136.4 L192.0,136.3 L192.1,136.4 L192.3,136.8 L192.5,137.4 L192.7,138.2 L192.9,139.2 L193.1,140.4 L193.3,141.6 L193.5,142.9 L193.7,144.2 L193.9,145.5 L194.1,146.6 L194.3,147.6 L194.5,148.4 L194.7,149.1 L194.9,149.4 L195.1,149.6 L195.2,149.4 L195.4,149.1 L195.6,148.5 L195.8,147.7 L196.0,146.8 L196.2,145.7 L196.4,144.5 L196.6,143.3 L196.8,142.1 L197.0,140.9 L197.2,139.9 L197.4,138.9 L197.6,138.1 L197.8,137.6 L198.0,137.2 L198.2,137.1 L198.4,137.2 L198.6,137.4 L198.8,137.9 L199.0,138.4 L199.2,139.2 L199.4,140.0 L199.6,140.9 L199.8,141.9 L200.0,142.9 L200.2,143.9 L200.4,144.9 L200.6,145.8 L200.8,146.7 L201.0,147.4 L201.2,148.0 L201.4,148.4 L201.6,148.7 L201.8,148.8 L202.0,148.7 L202.2,148.5 L202.4,148.2 L202.6,147.7 L202.8,147.2 L203.0,146.6 L203.2,145.9 L203.4,145.1 L203.6,144.4 L203.8,143.6 L204.0,142.9 L204.2,142.2 L204.4,141.5 L204.6,141.0 L204.8,140.5 L205.0,140.2 L205.2,140.0 L205.4,140.0 L205.6,140.0 L205.8,140.2 L206.0,140.4 L206.2,140.8 L206.4,141.2 L206.6,141.7 L206.8,142.3 L207.0,142.8 L207.2,143.3 L207.4,143.8 L207.6,144.2 L207.8,144.6 L208.0,144.9 L208.1,145.0 L208.3,145.1 L208.5,145.0 L208.8,144.6 L209.0,144.1 L209.2,143.4 L209.4,142.6 L209.6,141.7 L209.8,140.7 L210.0,139.7 L210.2,138.8 L210.4,137.9 L210.6,137.2 L210.8,136.7 L211.0,136.4 L211.2,136.3 L211.4,136.4 L211.6,136.6 L211.9,137.1 L212.1,137.7 L212.3,138.4 L212.5,139.3 L212.7,140.3 L212.9,141.4 L213.1,142.6 L213.3,143.8 L213.5,145.0 L213.7,146.2 L213.9,147.3 L214.1,148.4 L214.3,149.4 L214.5,150.3 L214.7,151.0 L214.9,151.6 L215.1,152.1 L215.3,152.3 L215.5,152.4 L215.7,152.3 L215.9,152.0 L216.1,151.5 L216.3,150.8 L216.5,149.9 L216.7,148.9 L216.9,147.7 L217.1,146.4 L217.3,145.0 L217.5,143.6 L217.7,142.2 L217.9,140.8 L218.1,139.4 L218.3,138.2 L218.5,137.0 L218.7,135.9 L218.9,135.1 L219.1,134.3 L219.3,133.8 L219.5,133.5 L219.7,133.4 L219.9,133.5 L220.1,133.9 L220.3,134.5 L220.5,135.3 L220.7,136.3 L220.8,137.4 L221.0,138.7 L221.2,140.0 L221.4,141.2 L221.6,142.5 L221.8,143.6 L222.0,144.6 L222.2,145.4 L222.4,146.0 L222.6,146.4 L222.8,146.5 L222.8,147.2 L222.8,147.8 L223.0,147.7 L223.2,147.4 L223.4,147.0 L223.6,146.3 L223.8,145.6 L224.0,144.7 L224.2,143.8 L224.4,142.8 L224.6,141.9 L224.8,140.9 L225.0,140.1 L225.2,139.3 L225.4,138.7 L225.6,138.3 L225.8,138.0 L226.0,137.9 L226.2,137.9 L226.4,138.0 L226.6,138.1 L226.8,138.3 L227.0,138.5 L227.2,138.8 L227.4,139.1 L227.6,139.4 L227.8,139.8 L228.0,140.2 L228.2,140.6 L228.4,141.0 L228.6,141.4 L228.8,141.8 L229.0,142.2 L229.1,142.6 L229.3,143.0 L229.5,143.4 L229.7,143.7 L229.9,144.0 L230.1,144.3 L230.3,144.5 L230.5,144.7 L230.7,144.8 L230.9,144.9 L231.1,144.9 L231.3,144.9 L231.5,144.8 L231.7,144.6 L231.9,144.4 L232.1,144.1 L232.3,143.8 L232.5,143.4 L232.7,143.0 L232.9,142.6 L233.1,142.1 L233.3,141.7 L233.5,141.2 L233.6,140.8 L233.8,140.4 L234.0,140.0 L234.2,139.7 L234.4,139.4 L234.6,139.1 L234.8,139.0 L235.0,138.9 L235.2,138.8 L235.4,138.9 L235.6,139.0 L235.8,139.2 L236.0,139.5 L236.2,139.8 L236.4,140.2 L236.6,140.7 L236.8,141.2 L237.0,141.8 L237.2,142.5 L237.4,143.1 L237.6,143.8 L237.8,144.5 L238.0,145.2 L238.2,146.0 L238.4,146.7 L238.6,147.4 L238.8,148.0 L239.0,148.6 L239.2,149.2 L239.4,149.8 L239.6,150.2 L239.8,150.7 L240.0,151.0 L240.2,151.3 L240.4,151.5 L240.6,151.6 L240.8,151.6 L241.0,151.6 L241.2,151.3 L241.4,150.9 L241.6,150.4 L241.8,149.7 L242.0,148.9 L242.2,148.1 L242.4,147.1 L242.6,146.0 L242.8,144.9 L243.0,143.7 L243.2,142.6 L243.4,141.4 L243.6,140.3 L243.8,139.3 L244.0,138.3 L244.2,137.4 L244.4,136.6 L244.6,135.9 L244.8,135.4 L245.0,135.0 L245.2,134.8 L245.4,134.7 L245.6,134.9 L245.8,135.5 L246.0,136.4 L246.2,137.7 L246.4,139.3 L246.6,141.2 L246.8,143.3 L247.0,145.5 L247.2,147.7 L247.4,150.0 L247.6,152.2 L247.8,154.2 L248.0,156.1 L248.2,157.7 L248.4,159.0 L248.6,160.0 L248.8,160.6 L249.0,160.8 L249.2,160.6 L249.4,160.0 L249.6,159.0 L249.8,157.7 L250.0,156.1 L250.2,154.2 L250.4,152.2 L250.6,150.0 L250.8,147.7 L251.0,145.5 L251.2,143.3 L251.4,141.2 L251.6,139.3 L251.8,137.7 L252.0,136.4 L252.2,135.5 L252.4,134.9 L252.6,134.7 L252.8,134.8 L252.9,135.1 L253.1,135.7 L253.3,136.5 L253.5,137.5 L253.7,138.6 L253.9,139.9 L254.1,141.3 L254.3,142.8 L254.5,144.4 L254.7,145.9 L254.9,147.5 L255.1,149.0 L255.3,150.4 L255.5,151.7 L255.7,152.8 L255.9,153.8 L256.1,154.6 L256.3,155.2 L256.5,155.5 L256.7,155.6 L256.9,155.5 L257.1,155.2 L257.3,154.8 L257.5,154.1 L257.7,153.2 L257.9,152.3 L258.1,151.2 L258.4,150.0 L258.6,148.8 L258.8,147.5 L259.0,146.2 L259.2,145.0 L259.4,143.8 L259.6,142.7 L259.8,141.7 L260.0,140.9 L260.2,140.2 L260.4,139.7 L260.6,139.4 L260.8,139.3 L261.0,139.4 L261.2,139.7 L261.4,140.2 L261.6,140.8 L261.8,141.6 L262.0,142.5 L262.2,143.5 L262.3,144.6 L262.5,145.7 L262.7,146.8 L262.9,147.9 L263.1,148.9 L263.3,149.8 L263.5,150.6 L263.7,151.3 L263.9,151.7 L264.1,152.0 L264.3,152.1 L264.5,152.1 L264.7,151.9 L264.9,151.5 L265.1,151.1 L265.3,150.5 L265.5,149.9 L265.7,149.1 L265.9,148.4 L266.1,147.5 L266.3,146.7 L266.5,145.8 L266.7,145.0 L266.9,144.2 L267.1,143.5 L267.3,142.8 L267.5,142.3 L267.7,141.8 L268.0,141.5 L268.2,141.3 L268.4,141.2 L268.6,141.3 L268.8,141.5 L269.0,141.8 L269.2,142.2 L269.4,142.7 L269.6,143.3 L269.8,144.0 L270.0,144.7 L270.2,145.4 L270.4,146.1 L270.5,146.8 L270.7,147.5 L270.9,148.1 L271.1,148.6 L271.3,149.0 L271.5,149.3 L271.7,149.5 L271.9,149.6 L272.1,149.5 L272.3,149.4 L272.5,149.3 L272.7,149.1 L272.9,148.8 L273.1,148.5 L273.3,148.2 L273.5,147.8 L273.7,147.4 L273.9,147.0 L274.1,146.6 L274.3,146.1 L274.5,145.7 L274.7,145.4 L274.9,145.0 L275.1,144.7 L275.3,144.4 L275.5,144.2 L275.7,144.1 L275.9,144.0 L276.1,144.0 L276.3,144.0 L276.5,144.0 L276.7,144.1 L276.9,144.3 L277.1,144.4 L277.3,144.6 L277.5,144.8 L277.7,145.1 L277.9,145.3 L278.1,145.6 L278.2,145.9 L278.4,146.1 L278.6,146.4 L278.8,146.6 L279.0,146.8 L279.2,147.0 L279.4,147.2 L279.6,147.3 L279.8,147.4 L280.0,147.5 L280.2,147.5 L280.4,147.5 L280.6,147.4 L280.8,147.4 L281.0,147.3 L281.2,147.1 L281.4,147.0 L281.6,146.9 L281.8,146.7 L282.0,146.5 L282.2,146.4 L282.4,146.2 L282.6,146.1 L282.8,146.0 L283.0,145.9 L283.2,145.8 L283.4,145.8 L283.6,145.8 L283.8,145.8 L284.0,145.9 L284.2,146.0 L284.4,146.1 L284.6,146.3 L284.8,146.4 L285.0,146.6 L285.2,146.8 L285.4,146.9 L285.6,147.0 L285.8,147.1 L286.0,147.1 L286.2,147.1 L286.4,147.0 L286.6,146.9 L286.8,146.8 L287.0,146.6 L287.3,146.4 L287.5,146.2 L287.7,146.0 L287.9,145.8 L288.1,145.7 L288.3,145.5 L288.5,145.4 L288.7,145.3 L288.9,145.3 L289.1,145.4 L289.3,145.5 L289.5,145.6 L289.7,145.9 L289.9,146.1 L290.1,146.4 L290.3,146.7 L290.5,147.0 L290.8,147.2 L291.0,147.4 L291.2,147.5 L291.4,147.5 L291.6,147.5 L291.8,147.4 L292.0,147.3 L292.2,147.1 L292.4,146.9 L292.6,146.7 L292.8,146.5 L293.0,146.2 L293.2,146.0 L293.4,145.7 L293.6,145.5 L293.8,145.4 L294.0,145.3 L294.2,145.2 L294.4,145.1 L294.6,145.2 L294.8,145.3 L295.0,145.4 L295.2,145.5 L295.4,145.7 L295.6,146.0" stroke="#8000FF" stroke-width="1.9"/><path d="M53.3,218.2 L97.9,217.9 L101.8,215.0 L106.8,206.0 L110.8,191.2 L113.3,177.2 L115.7,166.4 L119.6,162.5 L129.5,156.6 L141.4,149.6 L149.3,147.0 L152.2,147.3 L160.0,145.4 L169.7,144.0 L179.3,143.3 L189.0,142.2 L198.7,143.0 L208.4,143.6 L218.1,142.7 L226.0,140.3 L231.1,143.3 L235.6,142.4 L241.4,146.5 L246.3,141.4 L250.6,148.0 L255.9,144.9 L261.8,146.8 L267.6,146.2 L276.3,146.5 L295.7,146.5" stroke="#000090" stroke-width="2.2"/><g fill="#000090" stroke="none"><circle cx="53.30" cy="218.20" r="1.75"/><circle cx="58.15" cy="218.17" r="1.75"/><circle cx="63.00" cy="218.13" r="1.75"/><circle cx="67.84" cy="218.10" r="1.75"/><circle cx="72.69" cy="218.06" r="1.75"/><circle cx="77.54" cy="218.03" r="1.75"/><circle cx="82.39" cy="217.99" r="1.75"/><circle cx="87.24" cy="217.96" r="1.75"/><circle cx="92.08" cy="217.92" r="1.75"/><circle cx="96.93" cy="217.89" r="1.75"/><circle cx="101.78" cy="215.00" r="1.75"/><circle cx="106.63" cy="206.38" r="1.75"/><circle cx="111.48" cy="187.41" r="1.75"/><circle cx="116.32" cy="165.78" r="1.75"/><circle cx="121.17" cy="161.59" r="1.75"/><circle cx="126.02" cy="158.69" r="1.75"/><circle cx="130.87" cy="155.80" r="1.75"/><circle cx="135.72" cy="152.94" r="1.75"/><circle cx="140.56" cy="150.08" r="1.75"/><circle cx="145.41" cy="148.26" r="1.75"/><circle cx="150.26" cy="147.11" r="1.75"/><circle cx="155.11" cy="146.60" r="1.75"/><circle cx="159.96" cy="145.40" r="1.75"/><circle cx="164.80" cy="144.68" r="1.75"/><circle cx="169.65" cy="143.96" r="1.75"/><circle cx="174.50" cy="143.64" r="1.75"/><circle cx="179.35" cy="143.32" r="1.75"/><circle cx="184.20" cy="142.76" r="1.75"/><circle cx="189.04" cy="142.20" r="1.75"/><circle cx="193.89" cy="142.60" r="1.75"/><circle cx="198.74" cy="143.00" r="1.75"/><circle cx="203.59" cy="143.32" r="1.75"/><circle cx="208.44" cy="143.64" r="1.75"/><circle cx="213.28" cy="143.16" r="1.75"/><circle cx="218.13" cy="142.68" r="1.75"/><circle cx="222.98" cy="141.20" r="1.75"/><circle cx="227.83" cy="141.37" r="1.75"/><circle cx="232.68" cy="142.99" r="1.75"/><circle cx="237.52" cy="143.75" r="1.75"/><circle cx="242.37" cy="145.50" r="1.75"/><circle cx="247.22" cy="142.86" r="1.75"/><circle cx="252.07" cy="147.13" r="1.75"/><circle cx="256.92" cy="145.24" r="1.75"/><circle cx="261.76" cy="146.84" r="1.75"/><circle cx="266.61" cy="146.31" r="1.75"/><circle cx="271.46" cy="146.34" r="1.75"/><circle cx="276.31" cy="146.52" r="1.75"/><circle cx="281.16" cy="146.52" r="1.75"/><circle cx="286.00" cy="146.52" r="1.75"/><circle cx="290.85" cy="146.52" r="1.75"/><circle cx="295.70" cy="146.52" r="1.75"/></g></g><path d="M118.70,18.30 V26.20 M235.00,18.30 V26.20" stroke="#000" stroke-width="1.4" fill="none"/><line x1="120.70" y1="21.50" x2="233.00" y2="21.50" stroke="#000" stroke-width="1.2"/><path d="M120.30,21.50 L123.90,19.50 L123.10,21.50 L123.90,23.50 Z" fill="#000"/><path d="M233.40,21.50 L229.80,19.50 L230.60,21.50 L229.80,23.50 Z" fill="#000"/><text x="150.48" y="14.50" font-size="17" textLength="46.96" lengthAdjust="spacingAndGlyphs" font-family="Liberation Sans, sans-serif" font-weight="bold">aSi/Li</text><text x="0.40" y="16.80" font-size="16.8" textLength="21.76" lengthAdjust="spacingAndGlyphs" font-family="Liberation Sans, sans-serif" font-weight="bold">(a)</text><text x="23.26" y="221.80" font-size="12.2" textLength="25.64" lengthAdjust="spacingAndGlyphs" font-family="Liberation Sans, sans-serif" font-weight="bold">0.00</text><text x="299.30" y="221.80" font-size="12.2" textLength="25.64" lengthAdjust="spacingAndGlyphs" fill="#00008B" font-family="Liberation Sans, sans-serif" font-weight="bold">0.00</text><text x="23.26" y="189.80" font-size="12.2" textLength="25.64" lengthAdjust="spacingAndGlyphs" font-family="Liberation Sans, sans-serif" font-weight="bold">0.02</text><text x="299.30" y="189.80" font-size="12.2" textLength="25.64" lengthAdjust="spacingAndGlyphs" fill="#00008B" font-family="Liberation Sans, sans-serif" font-weight="bold">0.02</text><text x="23.26" y="157.80" font-size="12.2" textLength="25.64" lengthAdjust="spacingAndGlyphs" font-family="Liberation Sans, sans-serif" font-weight="bold">0.04</text><text x="299.30" y="157.80" font-size="12.2" textLength="25.64" lengthAdjust="spacingAndGlyphs" fill="#00008B" font-family="Liberation Sans, sans-serif" font-weight="bold">0.04</text><text x="23.26" y="125.80" font-size="12.2" textLength="25.64" lengthAdjust="spacingAndGlyphs" font-family="Liberation Sans, sans-serif" font-weight="bold">0.06</text><text x="299.30" y="125.80" font-size="12.2" textLength="25.64" lengthAdjust="spacingAndGlyphs" fill="#00008B" font-family="Liberation Sans, sans-serif" font-weight="bold">0.06</text><text x="23.26" y="93.80" font-size="12.2" textLength="25.64" lengthAdjust="spacingAndGlyphs" font-family="Liberation Sans, sans-serif" font-weight="bold">0.08</text><text x="299.30" y="93.80" font-size="12.2" textLength="25.64" lengthAdjust="spacingAndGlyphs" fill="#00008B" font-family="Liberation Sans, sans-serif" font-weight="bold">0.08</text><text x="23.26" y="61.80" font-size="12.2" textLength="25.64" lengthAdjust="spacingAndGlyphs" font-family="Liberation Sans, sans-serif" font-weight="bold">0.10</text><text x="299.30" y="61.80" font-size="12.2" textLength="25.64" lengthAdjust="spacingAndGlyphs" fill="#00008B" font-family="Liberation Sans, sans-serif" font-weight="bold">0.10</text><text x="23.26" y="29.80" font-size="12.2" textLength="25.64" lengthAdjust="spacingAndGlyphs" font-family="Liberation Sans, sans-serif" font-weight="bold">0.12</text><text x="299.30" y="29.80" font-size="12.2" textLength="25.64" lengthAdjust="spacingAndGlyphs" fill="#00008B" font-family="Liberation Sans, sans-serif" font-weight="bold">0.12</text><text x="46.20" y="237.20" font-size="12.2" textLength="14.79" lengthAdjust="spacingAndGlyphs" font-family="Liberation Sans, sans-serif" font-weight="bold">10</text><text x="94.68" y="237.20" font-size="12.2" textLength="14.79" lengthAdjust="spacingAndGlyphs" font-family="Liberation Sans, sans-serif" font-weight="bold">15</text><text x="143.16" y="237.20" font-size="12.2" textLength="14.79" lengthAdjust="spacingAndGlyphs" font-family="Liberation Sans, sans-serif" font-weight="bold">20</text><text x="191.64" y="237.20" font-size="12.2" textLength="14.79" lengthAdjust="spacingAndGlyphs" font-family="Liberation Sans, sans-serif" font-weight="bold">25</text><text x="240.12" y="237.20" font-size="12.2" textLength="14.79" lengthAdjust="spacingAndGlyphs" font-family="Liberation Sans, sans-serif" font-weight="bold">30</text><text x="288.60" y="237.20" font-size="12.2" textLength="14.79" lengthAdjust="spacingAndGlyphs" font-family="Liberation Sans, sans-serif" font-weight="bold">35</text><text x="174.50" y="253.10" font-size="12.4" text-anchor="middle" font-family="Liberation Sans, sans-serif" font-weight="bold">Bin number</text><text transform="translate(19.30,118.40) rotate(-90) scale(1.04,1)" font-size="12.4" text-anchor="middle" font-family="Liberation Sans, sans-serif" font-weight="bold">Number density (&#197;<tspan font-size="8" dy="-4.5">-3</tspan><tspan dy="4.5">)</tspan></text><text transform="translate(328.70,122.40) rotate(90) scale(1.03,1)" font-size="12.4" text-anchor="middle" fill="#00008B" font-family="Liberation Sans, sans-serif" font-weight="bold">Average number density (&#197;<tspan font-size="8" dy="-4.5">-3</tspan><tspan dy="4.5">)</tspan></text>
<defs><clipPath id="pc_b"><rect x="396.50" y="26.50" width="242.50" height="195.00"/></clipPath><clipPath id="clip_c100"><rect x="575.70" y="26.50" width="63.30" height="95.50"/></clipPath></defs><rect x="460.70" y="26.50" width="7.40" height="195.00" fill="#65A6D6"/><rect x="468.10" y="26.50" width="6.90" height="195.00" fill="#92B7B2"/><rect x="475.00" y="26.50" width="82.00" height="195.00" fill="#FFF2CF"/><line x1="462.20" y1="31.50" x2="468.00" y2="31.50" stroke="#000" stroke-width="1.8"/><path d="M460.20,31.50 L464.00,29.30 L463.20,31.50 L464.00,33.70 Z" fill="#000"/><line x1="468.00" y1="31.50" x2="473.20" y2="31.50" stroke="#5A4A26" stroke-width="1.8"/><path d="M475.20,31.50 L471.40,29.30 L472.20,31.50 L471.40,33.70 Z" fill="#5A4A26"/><path d="M396.50,218.50 h4.50 M396.50,186.50 h4.50 M396.50,154.50 h4.50 M396.50,122.50 h4.50 M396.50,90.50 h4.50 M396.50,58.50 h4.50 M396.50,26.50 h4.50 M445.00,221.50 v-4.50 M493.50,221.50 v-4.50 M542.00,221.50 v-4.50 M590.50,221.50 v-4.50" stroke="#000" stroke-width="2" fill="none"/><rect x="575.7" y="26.5" width="63.3" height="95.5" fill="#fff"/><g clip-path="url(#clip_c100)"><path d="M577.5,26.9L583.3,32.8 M577.5,26.9L583.3,21.0 M577.5,38.6L583.3,44.4 M577.5,38.6L583.3,32.8 M577.5,50.3L583.3,56.1 M577.5,50.3L583.3,44.4 M577.5,62.0L583.3,67.8 M577.5,62.0L583.3,56.1 M577.5,73.7L583.3,79.5 M577.5,73.7L583.3,67.8 M577.5,85.4L583.3,91.2 M577.5,85.4L583.3,79.5 M577.5,97.1L583.3,102.9 M577.5,97.1L583.3,91.2 M577.5,108.8L583.3,114.7 M577.5,108.8L583.3,102.9 M577.5,120.5L583.3,126.3 M577.5,120.5L583.3,114.7 M583.3,21.0L589.1,26.9 M583.3,32.8L589.1,38.6 M583.3,32.8L589.1,26.9 M583.3,44.4L589.1,50.3 M583.3,44.4L589.1,38.6 M583.3,56.1L589.1,62.0 M583.3,56.1L589.1,50.3 M583.3,67.8L589.1,73.7 M583.3,67.8L589.1,62.0 M583.3,79.5L589.1,85.4 M583.3,79.5L589.1,73.7 M583.3,91.2L589.1,97.1 M583.3,91.2L589.1,85.4 M583.3,102.9L589.1,108.8 M583.3,102.9L589.1,97.1 M583.3,114.7L589.1,120.5 M583.3,114.7L589.1,108.8 M583.3,126.3L589.1,120.5 M589.1,26.9L594.9,32.8 M589.1,26.9L594.9,21.0 M589.1,38.6L594.9,44.4 M589.1,38.6L594.9,32.8 M589.1,50.3L594.9,56.1 M589.1,50.3L594.9,44.4 M589.1,62.0L594.9,67.8 M589.1,62.0L594.9,56.1 M589.1,73.7L594.9,79.5 M589.1,73.7L594.9,67.8 M589.1,85.4L594.9,91.2 M589.1,85.4L594.9,79.5 M589.1,97.1L594.9,102.9 M589.1,97.1L594.9,91.2 M589.1,108.8L594.9,114.7 M589.1,108.8L594.9,102.9 M589.1,120.5L594.9,126.3 M589.1,120.5L594.9,114.7 M594.9,21.0L600.7,26.9 M594.9,32.8L600.7,38.6 M594.9,32.8L600.7,26.9 M594.9,44.4L600.7,50.3 M594.9,44.4L600.7,38.6 M594.9,56.1L600.7,62.0 M594.9,56.1L600.7,50.3 M594.9,67.8L600.7,73.7 M594.9,67.8L600.7,62.0 M594.9,79.5L600.7,85.4 M594.9,79.5L600.7,73.7 M594.9,91.2L600.7,97.1 M594.9,91.2L600.7,85.4 M594.9,102.9L600.7,108.8 M594.9,102.9L600.7,97.1 M594.9,114.7L600.7,120.5 M594.9,114.7L600.7,108.8 M594.9,126.3L600.7,120.5" stroke="#E8DE00" stroke-width="1.70" fill="none"/><circle cx="577.5" cy="26.9" r="2.10" fill="#F8F200" stroke="#CEC400" stroke-width="0.55"/><circle cx="577.5" cy="38.6" r="2.10" fill="#F8F200" stroke="#CEC400" stroke-width="0.55"/><circle cx="577.5" cy="50.3" r="2.10" fill="#F8F200" stroke="#CEC400" stroke-width="0.55"/><circle cx="577.5" cy="62.0" r="2.10" fill="#F8F200" stroke="#CEC400" stroke-width="0.55"/><circle cx="577.5" cy="73.7" r="2.10" fill="#F8F200" stroke="#CEC400" stroke-width="0.55"/><circle cx="577.5" cy="85.4" r="2.10" fill="#F8F200" stroke="#CEC400" stroke-width="0.55"/><circle cx="577.5" cy="97.1" r="2.10" fill="#F8F200" stroke="#CEC400" stroke-width="0.55"/><circle cx="577.5" cy="108.8" r="2.10" fill="#F8F200" stroke="#CEC400" stroke-width="0.55"/><circle cx="577.5" cy="120.5" r="2.10" fill="#F8F200" stroke="#CEC400" stroke-width="0.55"/><circle cx="583.3" cy="21.0" r="2.10" fill="#F8F200" stroke="#CEC400" stroke-width="0.55"/><circle cx="583.3" cy="32.8" r="2.10" fill="#F8F200" stroke="#CEC400" stroke-width="0.55"/><circle cx="583.3" cy="44.4" r="2.10" fill="#F8F200" stroke="#CEC400" stroke-width="0.55"/><circle cx="583.3" cy="56.1" r="2.10" fill="#F8F200" stroke="#CEC400" stroke-width="0.55"/><circle cx="583.3" cy="67.8" r="2.10" fill="#F8F200" stroke="#CEC400" stroke-width="0.55"/><circle cx="583.3" cy="79.5" r="2.10" fill="#F8F200" stroke="#CEC400" stroke-width="0.55"/><circle cx="583.3" cy="91.2" r="2.10" fill="#F8F200" stroke="#CEC400" stroke-width="0.55"/><circle cx="583.3" cy="102.9" r="2.10" fill="#F8F200" stroke="#CEC400" stroke-width="0.55"/><circle cx="583.3" cy="114.7" r="2.10" fill="#F8F200" stroke="#CEC400" stroke-width="0.55"/><circle cx="583.3" cy="126.3" r="2.10" fill="#F8F200" stroke="#CEC400" stroke-width="0.55"/><circle cx="589.1" cy="26.9" r="2.10" fill="#F8F200" stroke="#CEC400" stroke-width="0.55"/><circle cx="589.1" cy="38.6" r="2.10" fill="#F8F200" stroke="#CEC400" stroke-width="0.55"/><circle cx="589.1" cy="50.3" r="2.10" fill="#F8F200" stroke="#CEC400" stroke-width="0.55"/><circle cx="589.1" cy="62.0" r="2.10" fill="#F8F200" stroke="#CEC400" stroke-width="0.55"/><circle cx="589.1" cy="73.7" r="2.10" fill="#F8F200" stroke="#CEC400" stroke-width="0.55"/><circle cx="589.1" cy="85.4" r="2.10" fill="#F8F200" stroke="#CEC400" stroke-width="0.55"/><circle cx="589.1" cy="97.1" r="2.10" fill="#F8F200" stroke="#CEC400" stroke-width="0.55"/><circle cx="589.1" cy="108.8" r="2.10" fill="#F8F200" stroke="#CEC400" stroke-width="0.55"/><circle cx="589.1" cy="120.5" r="2.10" fill="#F8F200" stroke="#CEC400" stroke-width="0.55"/><circle cx="594.9" cy="21.0" r="2.10" fill="#F8F200" stroke="#CEC400" stroke-width="0.55"/><circle cx="594.9" cy="32.8" r="2.10" fill="#F8F200" stroke="#CEC400" stroke-width="0.55"/><circle cx="594.9" cy="44.4" r="2.10" fill="#F8F200" stroke="#CEC400" stroke-width="0.55"/><circle cx="594.9" cy="56.1" r="2.10" fill="#F8F200" stroke="#CEC400" stroke-width="0.55"/><circle cx="594.9" cy="67.8" r="2.10" fill="#F8F200" stroke="#CEC400" stroke-width="0.55"/><circle cx="594.9" cy="79.5" r="2.10" fill="#F8F200" stroke="#CEC400" stroke-width="0.55"/><circle cx="594.9" cy="91.2" r="2.10" fill="#F8F200" stroke="#CEC400" stroke-width="0.55"/><circle cx="594.9" cy="102.9" r="2.10" fill="#F8F200" stroke="#CEC400" stroke-width="0.55"/><circle cx="594.9" cy="114.7" r="2.10" fill="#F8F200" stroke="#CEC400" stroke-width="0.55"/><circle cx="594.9" cy="126.3" r="2.10" fill="#F8F200" stroke="#CEC400" stroke-width="0.55"/><circle cx="600.7" cy="26.9" r="2.10" fill="#F8F200" stroke="#CEC400" stroke-width="0.55"/><circle cx="600.7" cy="38.6" r="2.10" fill="#F8F200" stroke="#CEC400" stroke-width="0.55"/><circle cx="600.7" cy="50.3" r="2.10" fill="#F8F200" stroke="#CEC400" stroke-width="0.55"/><circle cx="600.7" cy="62.0" r="2.10" fill="#F8F200" stroke="#CEC400" stroke-width="0.55"/><circle cx="600.7" cy="73.7" r="2.10" fill="#F8F200" stroke="#CEC400" stroke-width="0.55"/><circle cx="600.7" cy="85.4" r="2.10" fill="#F8F200" stroke="#CEC400" stroke-width="0.55"/><circle cx="600.7" cy="97.1" r="2.10" fill="#F8F200" stroke="#CEC400" stroke-width="0.55"/><circle cx="600.7" cy="108.8" r="2.10" fill="#F8F200" stroke="#CEC400" stroke-width="0.55"/><circle cx="600.7" cy="120.5" r="2.10" fill="#F8F200" stroke="#CEC400" stroke-width="0.55"/><circle cx="605.7" cy="51.7" r="2.30" fill="#0CA0E4" stroke="#0A82C2" stroke-width="0.5"/><circle cx="604.9" cy="112.6" r="2.30" fill="#0CA0E4" stroke="#0A82C2" stroke-width="0.5"/><circle cx="627.4" cy="38.8" r="2.30" fill="#0CA0E4" stroke="#0A82C2" stroke-width="0.5"/><circle cx="621.1" cy="49.2" r="2.30" fill="#0CA0E4" stroke="#0A82C2" stroke-width="0.5"/><circle cx="612.7" cy="69.5" r="2.30" fill="#F8F200" stroke="#CEC400" stroke-width="0.55"/><circle cx="637.4" cy="76.4" r="2.30" fill="#0CA0E4" stroke="#0A82C2" stroke-width="0.5"/><circle cx="629.3" cy="76.3" r="2.30" fill="#0CA0E4" stroke="#0A82C2" stroke-width="0.5"/><circle cx="632.4" cy="36.1" r="2.30" fill="#0CA0E4" stroke="#0A82C2" stroke-width="0.5"/><circle cx="604.2" cy="83.6" r="2.30" fill="#0CA0E4" stroke="#0A82C2" stroke-width="0.5"/><circle cx="627.3" cy="65.5" r="2.30" fill="#F8F200" stroke="#CEC400" stroke-width="0.55"/><circle cx="616.7" cy="105.6" r="2.30" fill="#0CA0E4" stroke="#0A82C2" stroke-width="0.5"/><circle cx="613.1" cy="83.0" r="2.30" fill="#0CA0E4" stroke="#0A82C2" stroke-width="0.5"/><circle cx="639.5" cy="73.7" r="2.30" fill="#0CA0E4" stroke="#0A82C2" stroke-width="0.5"/><circle cx="631.2" cy="108.5" r="2.30" fill="#F8F200" stroke="#CEC400" stroke-width="0.55"/><circle cx="613.9" cy="60.0" r="2.30" fill="#0CA0E4" stroke="#0A82C2" stroke-width="0.5"/><circle cx="604.6" cy="41.0" r="2.30" fill="#0CA0E4" stroke="#0A82C2" stroke-width="0.5"/><circle cx="609.1" cy="71.0" r="2.30" fill="#0CA0E4" stroke="#0A82C2" stroke-width="0.5"/><circle cx="630.2" cy="100.1" r="2.30" fill="#F8F200" stroke="#CEC400" stroke-width="0.55"/><circle cx="629.5" cy="83.8" r="2.30" fill="#0CA0E4" stroke="#0A82C2" stroke-width="0.5"/><circle cx="618.7" cy="52.8" r="2.30" fill="#0CA0E4" stroke="#0A82C2" stroke-width="0.5"/><circle cx="611.7" cy="90.6" r="2.30" fill="#0CA0E4" stroke="#0A82C2" stroke-width="0.5"/><circle cx="609.4" cy="102.1" r="2.30" fill="#F8F200" stroke="#CEC400" stroke-width="0.55"/><circle cx="622.1" cy="31.1" r="2.30" fill="#F8F200" stroke="#CEC400" stroke-width="0.55"/><circle cx="617.8" cy="45.6" r="2.30" fill="#0CA0E4" stroke="#0A82C2" stroke-width="0.5"/><circle cx="628.2" cy="56.2" r="2.30" fill="#0CA0E4" stroke="#0A82C2" stroke-width="0.5"/><circle cx="623.1" cy="46.0" r="2.30" fill="#0CA0E4" stroke="#0A82C2" stroke-width="0.5"/><circle cx="609.2" cy="53.3" r="2.30" fill="#0CA0E4" stroke="#0A82C2" stroke-width="0.5"/><circle cx="617.7" cy="87.9" r="2.30" fill="#0CA0E4" stroke="#0A82C2" stroke-width="0.5"/><circle cx="613.7" cy="122.4" r="2.30" fill="#0CA0E4" stroke="#0A82C2" stroke-width="0.5"/><circle cx="614.6" cy="67.4" r="2.30" fill="#0CA0E4" stroke="#0A82C2" stroke-width="0.5"/><circle cx="615.5" cy="44.9" r="2.30" fill="#F8F200" stroke="#CEC400" stroke-width="0.55"/><circle cx="637.6" cy="114.7" r="2.30" fill="#0CA0E4" stroke="#0A82C2" stroke-width="0.5"/><circle cx="617.0" cy="98.4" r="2.30" fill="#0CA0E4" stroke="#0A82C2" stroke-width="0.5"/><circle cx="633.9" cy="44.4" r="2.30" fill="#0CA0E4" stroke="#0A82C2" stroke-width="0.5"/><circle cx="604.1" cy="77.2" r="2.30" fill="#0CA0E4" stroke="#0A82C2" stroke-width="0.5"/><circle cx="608.8" cy="111.1" r="2.30" fill="#0CA0E4" stroke="#0A82C2" stroke-width="0.5"/><circle cx="614.9" cy="86.5" r="2.30" fill="#0CA0E4" stroke="#0A82C2" stroke-width="0.5"/><circle cx="630.6" cy="80.0" r="2.30" fill="#0CA0E4" stroke="#0A82C2" stroke-width="0.5"/><circle cx="606.8" cy="66.2" r="2.30" fill="#0CA0E4" stroke="#0A82C2" stroke-width="0.5"/><circle cx="622.7" cy="114.2" r="2.30" fill="#0CA0E4" stroke="#0A82C2" stroke-width="0.5"/><circle cx="624.5" cy="63.6" r="2.30" fill="#0CA0E4" stroke="#0A82C2" stroke-width="0.5"/><circle cx="621.0" cy="63.7" r="2.30" fill="#F8F200" stroke="#CEC400" stroke-width="0.55"/><circle cx="601.1" cy="112.0" r="2.30" fill="#0CA0E4" stroke="#0A82C2" stroke-width="0.5"/><circle cx="625.9" cy="114.1" r="2.30" fill="#0CA0E4" stroke="#0A82C2" stroke-width="0.5"/><circle cx="618.8" cy="94.2" r="2.30" fill="#F8F200" stroke="#CEC400" stroke-width="0.55"/><circle cx="603.8" cy="122.2" r="2.30" fill="#0CA0E4" stroke="#0A82C2" stroke-width="0.5"/><circle cx="611.5" cy="72.6" r="2.30" fill="#0CA0E4" stroke="#0A82C2" stroke-width="0.5"/><circle cx="631.8" cy="105.7" r="2.30" fill="#0CA0E4" stroke="#0A82C2" stroke-width="0.5"/><circle cx="629.1" cy="42.6" r="2.30" fill="#0CA0E4" stroke="#0A82C2" stroke-width="0.5"/><circle cx="626.1" cy="100.1" r="2.30" fill="#F8F200" stroke="#CEC400" stroke-width="0.55"/><circle cx="602.9" cy="51.5" r="2.30" fill="#0CA0E4" stroke="#0A82C2" stroke-width="0.5"/><circle cx="633.9" cy="122.2" r="2.30" fill="#0CA0E4" stroke="#0A82C2" stroke-width="0.5"/><circle cx="619.5" cy="30.8" r="2.30" fill="#F8F200" stroke="#CEC400" stroke-width="0.55"/><circle cx="611.4" cy="98.2" r="2.30" fill="#0CA0E4" stroke="#0A82C2" stroke-width="0.5"/><circle cx="604.4" cy="118.8" r="2.30" fill="#F8F200" stroke="#CEC400" stroke-width="0.55"/><circle cx="600.7" cy="98.7" r="2.30" fill="#0CA0E4" stroke="#0A82C2" stroke-width="0.5"/><circle cx="603.5" cy="74.1" r="2.30" fill="#0CA0E4" stroke="#0A82C2" stroke-width="0.5"/><circle cx="627.8" cy="94.3" r="2.30" fill="#0CA0E4" stroke="#0A82C2" stroke-width="0.5"/><circle cx="619.7" cy="97.1" r="2.30" fill="#0CA0E4" stroke="#0A82C2" stroke-width="0.5"/><circle cx="632.4" cy="41.1" r="2.30" fill="#0CA0E4" stroke="#0A82C2" stroke-width="0.5"/><circle cx="623.2" cy="58.6" r="2.30" fill="#0CA0E4" stroke="#0A82C2" stroke-width="0.5"/><circle cx="617.3" cy="90.1" r="2.30" fill="#F8F200" stroke="#CEC400" stroke-width="0.55"/><circle cx="608.8" cy="104.2" r="2.30" fill="#0CA0E4" stroke="#0A82C2" stroke-width="0.5"/><circle cx="630.5" cy="123.1" r="2.30" fill="#F8F200" stroke="#CEC400" stroke-width="0.55"/><circle cx="606.1" cy="108.0" r="2.30" fill="#0CA0E4" stroke="#0A82C2" stroke-width="0.5"/><circle cx="610.2" cy="30.9" r="2.30" fill="#0CA0E4" stroke="#0A82C2" stroke-width="0.5"/><circle cx="630.9" cy="88.0" r="2.30" fill="#0CA0E4" stroke="#0A82C2" stroke-width="0.5"/><circle cx="635.7" cy="84.8" r="2.30" fill="#0CA0E4" stroke="#0A82C2" stroke-width="0.5"/><circle cx="615.6" cy="29.1" r="2.30" fill="#F8F200" stroke="#CEC400" stroke-width="0.55"/><circle cx="639.1" cy="31.6" r="2.30" fill="#F8F200" stroke="#CEC400" stroke-width="0.55"/><circle cx="614.0" cy="81.3" r="2.30" fill="#0CA0E4" stroke="#0A82C2" stroke-width="0.5"/><circle cx="607.6" cy="41.1" r="2.30" fill="#0CA0E4" stroke="#0A82C2" stroke-width="0.5"/><circle cx="634.5" cy="101.5" r="2.30" fill="#0CA0E4" stroke="#0A82C2" stroke-width="0.5"/><circle cx="627.4" cy="123.1" r="2.30" fill="#0CA0E4" stroke="#0A82C2" stroke-width="0.5"/><circle cx="600.2" cy="70.5" r="2.30" fill="#0CA0E4" stroke="#0A82C2" stroke-width="0.5"/><circle cx="624.2" cy="83.5" r="2.30" fill="#0CA0E4" stroke="#0A82C2" stroke-width="0.5"/><circle cx="631.4" cy="39.4" r="2.30" fill="#F8F200" stroke="#CEC400" stroke-width="0.55"/><circle cx="612.7" cy="42.3" r="2.30" fill="#F8F200" stroke="#CEC400" stroke-width="0.55"/><circle cx="624.0" cy="118.9" r="2.30" fill="#0CA0E4" stroke="#0A82C2" stroke-width="0.5"/><circle cx="629.4" cy="29.0" r="2.30" fill="#0CA0E4" stroke="#0A82C2" stroke-width="0.5"/><circle cx="635.8" cy="93.5" r="2.30" fill="#0CA0E4" stroke="#0A82C2" stroke-width="0.5"/><circle cx="605.8" cy="74.0" r="2.30" fill="#0CA0E4" stroke="#0A82C2" stroke-width="0.5"/><circle cx="616.7" cy="48.8" r="2.30" fill="#F8F200" stroke="#CEC400" stroke-width="0.55"/><circle cx="629.6" cy="52.2" r="2.30" fill="#0CA0E4" stroke="#0A82C2" stroke-width="0.5"/><circle cx="625.6" cy="30.5" r="2.30" fill="#0CA0E4" stroke="#0A82C2" stroke-width="0.5"/><circle cx="613.8" cy="53.3" r="2.30" fill="#F8F200" stroke="#CEC400" stroke-width="0.55"/><circle cx="604.2" cy="105.7" r="2.30" fill="#0CA0E4" stroke="#0A82C2" stroke-width="0.5"/><circle cx="613.3" cy="39.1" r="2.30" fill="#F8F200" stroke="#CEC400" stroke-width="0.55"/><circle cx="630.2" cy="31.9" r="2.30" fill="#0CA0E4" stroke="#0A82C2" stroke-width="0.5"/><circle cx="619.2" cy="122.2" r="2.30" fill="#0CA0E4" stroke="#0A82C2" stroke-width="0.5"/><circle cx="629.1" cy="105.2" r="2.30" fill="#0CA0E4" stroke="#0A82C2" stroke-width="0.5"/><circle cx="616.9" cy="76.4" r="2.30" fill="#0CA0E4" stroke="#0A82C2" stroke-width="0.5"/><circle cx="611.4" cy="108.8" r="2.30" fill="#0CA0E4" stroke="#0A82C2" stroke-width="0.5"/><circle cx="632.2" cy="90.8" r="2.30" fill="#0CA0E4" stroke="#0A82C2" stroke-width="0.5"/><circle cx="611.6" cy="27.2" r="2.30" fill="#0CA0E4" stroke="#0A82C2" stroke-width="0.5"/><circle cx="607.1" cy="39.0" r="2.30" fill="#0CA0E4" stroke="#0A82C2" stroke-width="0.5"/><circle cx="605.0" cy="34.3" r="2.30" fill="#0CA0E4" stroke="#0A82C2" stroke-width="0.5"/><circle cx="613.3" cy="110.7" r="2.30" fill="#0CA0E4" stroke="#0A82C2" stroke-width="0.5"/><circle cx="627.0" cy="86.5" r="2.30" fill="#F8F200" stroke="#CEC400" stroke-width="0.55"/><circle cx="622.2" cy="121.5" r="2.30" fill="#0CA0E4" stroke="#0A82C2" stroke-width="0.5"/><circle cx="627.7" cy="34.9" r="2.30" fill="#0CA0E4" stroke="#0A82C2" stroke-width="0.5"/><circle cx="627.9" cy="97.3" r="2.30" fill="#0CA0E4" stroke="#0A82C2" stroke-width="0.5"/><circle cx="622.1" cy="38.0" r="2.30" fill="#F8F200" stroke="#CEC400" stroke-width="0.55"/><circle cx="612.1" cy="55.8" r="2.30" fill="#0CA0E4" stroke="#0A82C2" stroke-width="0.5"/><circle cx="637.4" cy="81.0" r="2.30" fill="#F8F200" stroke="#CEC400" stroke-width="0.55"/><circle cx="635.2" cy="114.0" r="2.30" fill="#0CA0E4" stroke="#0A82C2" stroke-width="0.5"/><circle cx="620.7" cy="104.1" r="2.30" fill="#0CA0E4" stroke="#0A82C2" stroke-width="0.5"/><circle cx="636.1" cy="49.3" r="2.30" fill="#0CA0E4" stroke="#0A82C2" stroke-width="0.5"/><circle cx="612.4" cy="77.8" r="2.30" fill="#0CA0E4" stroke="#0A82C2" stroke-width="0.5"/><circle cx="621.7" cy="102.3" r="2.30" fill="#F8F200" stroke="#CEC400" stroke-width="0.55"/><circle cx="633.8" cy="39.4" r="2.30" fill="#0CA0E4" stroke="#0A82C2" stroke-width="0.5"/><circle cx="610.8" cy="79.3" r="2.30" fill="#0CA0E4" stroke="#0A82C2" stroke-width="0.5"/><circle cx="602.0" cy="116.0" r="2.30" fill="#0CA0E4" stroke="#0A82C2" stroke-width="0.5"/><circle cx="610.9" cy="65.6" r="2.30" fill="#0CA0E4" stroke="#0A82C2" stroke-width="0.5"/><circle cx="619.9" cy="111.3" r="2.30" fill="#0CA0E4" stroke="#0A82C2" stroke-width="0.5"/><circle cx="637.0" cy="103.9" r="2.30" fill="#0CA0E4" stroke="#0A82C2" stroke-width="0.5"/><circle cx="603.4" cy="98.6" r="2.30" fill="#0CA0E4" stroke="#0A82C2" stroke-width="0.5"/><circle cx="631.2" cy="67.2" r="2.30" fill="#0CA0E4" stroke="#0A82C2" stroke-width="0.5"/><circle cx="614.8" cy="72.5" r="2.30" fill="#0CA0E4" stroke="#0A82C2" stroke-width="0.5"/><circle cx="623.9" cy="97.7" r="2.30" fill="#F8F200" stroke="#CEC400" stroke-width="0.55"/><circle cx="610.0" cy="38.6" r="2.30" fill="#0CA0E4" stroke="#0A82C2" stroke-width="0.5"/><circle cx="616.0" cy="41.8" r="2.30" fill="#0CA0E4" stroke="#0A82C2" stroke-width="0.5"/><circle cx="610.7" cy="87.3" r="2.30" fill="#0CA0E4" stroke="#0A82C2" stroke-width="0.5"/><circle cx="623.5" cy="107.6" r="2.30" fill="#F8F200" stroke="#CEC400" stroke-width="0.55"/><circle cx="628.9" cy="119.3" r="2.30" fill="#0CA0E4" stroke="#0A82C2" stroke-width="0.5"/><circle cx="607.7" cy="27.3" r="2.30" fill="#0CA0E4" stroke="#0A82C2" stroke-width="0.5"/><circle cx="608.8" cy="47.9" r="2.30" fill="#0CA0E4" stroke="#0A82C2" stroke-width="0.5"/><circle cx="617.9" cy="38.6" r="2.30" fill="#F8F200" stroke="#CEC400" stroke-width="0.55"/><circle cx="637.6" cy="62.0" r="2.30" fill="#0CA0E4" stroke="#0A82C2" stroke-width="0.5"/><circle cx="606.9" cy="101.2" r="2.30" fill="#0CA0E4" stroke="#0A82C2" stroke-width="0.5"/><circle cx="637.0" cy="41.6" r="2.30" fill="#0CA0E4" stroke="#0A82C2" stroke-width="0.5"/><circle cx="616.4" cy="63.7" r="2.30" fill="#0CA0E4" stroke="#0A82C2" stroke-width="0.5"/><circle cx="621.0" cy="91.1" r="2.30" fill="#0CA0E4" stroke="#0A82C2" stroke-width="0.5"/><circle cx="639.4" cy="45.6" r="2.30" fill="#F8F200" stroke="#CEC400" stroke-width="0.55"/><circle cx="609.3" cy="56.1" r="2.30" fill="#0CA0E4" stroke="#0A82C2" stroke-width="0.5"/><circle cx="613.0" cy="119.7" r="2.30" fill="#0CA0E4" stroke="#0A82C2" stroke-width="0.5"/><circle cx="618.4" cy="66.4" r="2.30" fill="#F8F200" stroke="#CEC400" stroke-width="0.55"/><circle cx="633.2" cy="62.8" r="2.30" fill="#F8F200" stroke="#CEC400" stroke-width="0.55"/><circle cx="617.1" cy="83.6" r="2.30" fill="#F8F200" stroke="#CEC400" stroke-width="0.55"/><circle cx="624.6" cy="70.2" r="2.30" fill="#0CA0E4" stroke="#0A82C2" stroke-width="0.5"/><circle cx="622.1" cy="52.9" r="2.30" fill="#0CA0E4" stroke="#0A82C2" stroke-width="0.5"/><circle cx="633.9" cy="73.6" r="2.30" fill="#0CA0E4" stroke="#0A82C2" stroke-width="0.5"/><circle cx="625.1" cy="55.4" r="2.30" fill="#0CA0E4" stroke="#0A82C2" stroke-width="0.5"/><circle cx="632.3" cy="55.3" r="2.30" fill="#F8F200" stroke="#CEC400" stroke-width="0.55"/><circle cx="631.8" cy="84.2" r="2.30" fill="#F8F200" stroke="#CEC400" stroke-width="0.55"/><circle cx="609.2" cy="62.0" r="2.30" fill="#0CA0E4" stroke="#0A82C2" stroke-width="0.5"/><circle cx="633.1" cy="28.6" r="2.30" fill="#0CA0E4" stroke="#0A82C2" stroke-width="0.5"/><circle cx="619.5" cy="59.9" r="2.30" fill="#F8F200" stroke="#CEC400" stroke-width="0.55"/><circle cx="636.1" cy="118.2" r="2.30" fill="#0CA0E4" stroke="#0A82C2" stroke-width="0.5"/><circle cx="617.1" cy="55.4" r="2.30" fill="#0CA0E4" stroke="#0A82C2" stroke-width="0.5"/><circle cx="617.8" cy="109.2" r="2.30" fill="#0CA0E4" stroke="#0A82C2" stroke-width="0.5"/><circle cx="635.2" cy="81.0" r="2.30" fill="#0CA0E4" stroke="#0A82C2" stroke-width="0.5"/><circle cx="620.7" cy="77.9" r="2.30" fill="#0CA0E4" stroke="#0A82C2" stroke-width="0.5"/><circle cx="612.1" cy="105.4" r="2.30" fill="#0CA0E4" stroke="#0A82C2" stroke-width="0.5"/><circle cx="620.5" cy="56.6" r="2.30" fill="#0CA0E4" stroke="#0A82C2" stroke-width="0.5"/><circle cx="613.4" cy="34.2" r="2.30" fill="#F8F200" stroke="#CEC400" stroke-width="0.55"/><circle cx="631.8" cy="118.6" r="2.30" fill="#F8F200" stroke="#CEC400" stroke-width="0.55"/><circle cx="626.7" cy="79.9" r="2.30" fill="#0CA0E4" stroke="#0A82C2" stroke-width="0.5"/><circle cx="624.9" cy="35.4" r="2.30" fill="#0CA0E4" stroke="#0A82C2" stroke-width="0.5"/><circle cx="624.8" cy="29.1" r="2.30" fill="#0CA0E4" stroke="#0A82C2" stroke-width="0.5"/><circle cx="638.0" cy="38.8" r="2.30" fill="#0CA0E4" stroke="#0A82C2" stroke-width="0.5"/><circle cx="637.0" cy="27.5" r="2.30" fill="#0CA0E4" stroke="#0A82C2" stroke-width="0.5"/><circle cx="616.3" cy="69.9" r="2.30" fill="#0CA0E4" stroke="#0A82C2" stroke-width="0.5"/><circle cx="609.2" cy="119.2" r="2.30" fill="#0CA0E4" stroke="#0A82C2" stroke-width="0.5"/><circle cx="623.0" cy="87.4" r="2.30" fill="#0CA0E4" stroke="#0A82C2" stroke-width="0.5"/><circle cx="602.5" cy="80.8" r="2.30" fill="#0CA0E4" stroke="#0A82C2" stroke-width="0.5"/><circle cx="618.5" cy="73.8" r="2.30" fill="#0CA0E4" stroke="#0A82C2" stroke-width="0.5"/><circle cx="613.6" cy="114.1" r="2.30" fill="#0CA0E4" stroke="#0A82C2" stroke-width="0.5"/><circle cx="638.0" cy="52.1" r="2.30" fill="#F8F200" stroke="#CEC400" stroke-width="0.55"/><circle cx="638.5" cy="94.5" r="2.30" fill="#0CA0E4" stroke="#0A82C2" stroke-width="0.5"/><circle cx="601.5" cy="87.9" r="2.30" fill="#0CA0E4" stroke="#0A82C2" stroke-width="0.5"/><circle cx="611.8" cy="59.5" r="2.30" fill="#0CA0E4" stroke="#0A82C2" stroke-width="0.5"/><circle cx="626.8" cy="73.8" r="2.30" fill="#0CA0E4" stroke="#0A82C2" stroke-width="0.5"/><circle cx="603.4" cy="31.1" r="2.30" fill="#0CA0E4" stroke="#0A82C2" stroke-width="0.5"/><circle cx="633.1" cy="97.1" r="2.30" fill="#0CA0E4" stroke="#0A82C2" stroke-width="0.5"/><circle cx="604.1" cy="49.2" r="2.30" fill="#0CA0E4" stroke="#0A82C2" stroke-width="0.5"/><circle cx="624.2" cy="48.0" r="2.30" fill="#0CA0E4" stroke="#0A82C2" stroke-width="0.5"/><circle cx="625.7" cy="46.0" r="2.30" fill="#0CA0E4" stroke="#0A82C2" stroke-width="0.5"/><circle cx="607.8" cy="77.7" r="2.30" fill="#0CA0E4" stroke="#0A82C2" stroke-width="0.5"/><circle cx="639.6" cy="108.8" r="2.30" fill="#F8F200" stroke="#CEC400" stroke-width="0.55"/><circle cx="638.1" cy="60.3" r="2.30" fill="#0CA0E4" stroke="#0A82C2" stroke-width="0.5"/></g><line x1="575.70" y1="122.00" x2="639.00" y2="122.00" stroke="#000" stroke-width="2"/><path d="M639.00,218.50 h-4.50 M639.00,186.50 h-4.50 M639.00,154.50 h-4.50 M639.00,122.50 h-4.50 M639.00,90.50 h-4.50 M639.00,58.50 h-4.50 M639.00,26.50 h-4.50" stroke="#00008B" stroke-width="2" fill="none"/><path d="M639.00,26.50 L396.50,26.50 L396.50,221.50 L639.00,221.50" stroke="#000" stroke-width="2.30" fill="none" stroke-linecap="square"/><line x1="639.00" y1="25.35" x2="639.00" y2="222.65" stroke="#00008B" stroke-width="2.30"/><g fill="none" stroke-linejoin="round" stroke-linecap="round"><path d="M397.0,218.0 L397.1,204.2 L397.2,190.4 L397.3,176.8 L397.4,163.4 L397.5,150.3 L397.6,137.7 L397.7,125.5 L397.8,113.8 L397.9,102.8 L398.0,92.4 L398.1,82.8 L398.2,74.0 L398.3,66.0 L398.4,58.9 L398.5,52.7 L398.6,47.6 L398.7,43.4 L398.8,40.2 L398.9,38.1 L399.0,37.0 L399.1,37.0 L399.2,38.1 L399.3,40.2 L399.4,43.4 L399.5,47.6 L399.6,52.7 L399.7,58.9 L399.7,66.0 L399.8,74.0 L399.9,82.8 L400.0,92.4 L400.1,102.8 L400.2,113.8 L400.3,125.5 L400.4,137.7 L400.5,150.3 L400.6,163.4 L400.7,176.8 L400.8,190.4 L400.9,204.2 L401.0,218.0 L401.1,204.2 L401.2,190.4 L401.3,176.8 L401.4,163.4 L401.5,150.3 L401.6,137.7 L401.7,125.5 L401.8,113.8 L401.9,102.8 L402.0,92.4 L402.1,82.8 L402.2,74.0 L402.3,66.0 L402.4,58.9 L402.5,52.7 L402.6,47.6 L402.7,43.4 L402.8,40.2 L402.9,38.1 L403.0,37.0 L403.0,37.0 L403.1,38.1 L403.2,40.2 L403.3,43.4 L403.4,47.6 L403.5,52.7 L403.6,58.9 L403.7,66.0 L403.8,74.0 L403.9,82.8 L404.0,92.4 L404.1,102.8 L404.2,113.8 L404.3,125.5 L404.4,137.7 L404.5,150.3 L404.6,163.4 L404.7,176.8 L404.8,190.4 L404.9,204.2 L405.0,218.0 L405.1,204.6 L405.2,191.3 L405.3,178.1 L405.4,165.2 L405.5,152.5 L405.6,140.2 L405.7,128.3 L405.8,117.0 L405.9,106.2 L406.0,96.0 L406.1,86.5 L406.2,77.8 L406.3,69.8 L406.4,62.7 L406.5,56.4 L406.6,51.1 L406.7,46.6 L406.8,43.2 L406.9,40.7 L407.0,39.2 L407.0,38.7 L407.1,39.2 L407.2,40.7 L407.3,43.2 L407.4,46.6 L407.5,51.1 L407.6,56.4 L407.7,62.7 L407.8,69.8 L407.9,77.8 L408.0,86.5 L408.1,96.0 L408.2,106.2 L408.3,117.0 L408.4,128.3 L408.5,140.2 L408.6,152.5 L408.7,165.2 L408.8,178.1 L408.9,191.3 L409.0,204.6 L409.1,218.0 L409.2,204.8 L409.3,191.6 L409.4,178.6 L409.5,165.8 L409.6,153.3 L409.7,141.2 L409.8,129.5 L409.9,118.2 L410.0,107.6 L410.1,97.5 L410.2,88.2 L410.3,79.5 L410.4,71.7 L410.5,64.6 L410.6,58.4 L410.7,53.1 L410.8,48.8 L410.9,45.3 L411.0,42.9 L411.1,41.4 L411.2,40.9 L411.3,41.4 L411.4,42.9 L411.5,45.3 L411.6,48.8 L411.7,53.1 L411.8,58.4 L411.9,64.6 L412.0,71.7 L412.1,79.5 L412.2,88.2 L412.3,97.5 L412.3,107.6 L412.4,118.2 L412.5,129.5 L412.6,141.2 L412.7,153.3 L412.8,165.8 L412.9,178.6 L413.0,191.6 L413.1,204.8 L413.2,218.0 L413.3,204.5 L413.4,191.1 L413.5,177.8 L413.6,164.7 L413.7,152.0 L413.8,139.6 L413.9,127.8 L414.0,116.4 L414.1,105.6 L414.2,95.5 L414.3,86.1 L414.4,77.5 L414.5,69.8 L414.6,62.8 L414.7,56.8 L414.8,51.8 L414.9,47.7 L415.0,44.6 L415.1,42.5 L415.2,41.5 L415.3,41.5 L415.4,42.5 L415.5,44.6 L415.6,47.7 L415.7,51.8 L415.8,56.8 L415.9,62.8 L415.9,69.8 L416.0,77.5 L416.1,86.1 L416.2,95.5 L416.3,105.6 L416.4,116.4 L416.5,127.8 L416.6,139.6 L416.7,152.0 L416.8,164.7 L416.9,177.8 L417.0,191.1 L417.1,204.5 L417.2,218.0 L417.3,204.6 L417.4,191.2 L417.5,178.0 L417.6,165.0 L417.7,152.3 L417.8,140.0 L417.9,128.2 L418.0,116.9 L418.1,106.1 L418.2,96.1 L418.3,86.7 L418.4,78.2 L418.5,70.4 L418.6,63.5 L418.7,57.6 L418.8,52.5 L418.9,48.5 L419.0,45.4 L419.1,43.3 L419.2,42.3 L419.3,42.3 L419.4,43.3 L419.5,45.4 L419.6,48.5 L419.7,52.5 L419.8,57.6 L419.9,63.5 L420.0,70.4 L420.1,78.2 L420.2,86.7 L420.3,96.1 L420.4,106.1 L420.4,116.9 L420.5,128.2 L420.6,140.0 L420.7,152.3 L420.8,165.0 L420.9,178.0 L421.0,191.2 L421.1,204.6 L421.2,218.0 L421.3,204.7 L421.4,191.4 L421.5,178.2 L421.6,165.4 L421.7,152.8 L421.8,140.6 L421.9,128.8 L422.0,117.6 L422.1,107.0 L422.2,97.0 L422.3,87.7 L422.4,79.2 L422.5,71.5 L422.6,64.7 L422.7,58.7 L422.8,53.7 L422.9,49.7 L423.0,46.7 L423.1,44.6 L423.2,43.6 L423.3,43.6 L423.4,44.6 L423.5,46.7 L423.6,49.7 L423.7,53.7 L423.8,58.7 L423.9,64.7 L424.0,71.5 L424.1,79.2 L424.2,87.7 L424.3,97.0 L424.4,107.0 L424.5,117.6 L424.6,128.8 L424.7,140.6 L424.8,152.8 L424.9,165.4 L425.0,178.2 L425.1,191.4 L425.2,204.7 L425.3,218.0 L425.4,204.7 L425.5,191.5 L425.6,178.5 L425.6,165.6 L425.7,153.1 L425.8,141.0 L425.9,129.3 L426.0,118.1 L426.1,107.6 L426.2,97.6 L426.3,88.4 L426.4,80.0 L426.5,72.3 L426.6,65.5 L426.7,59.6 L426.8,54.6 L426.9,50.6 L427.0,47.6 L427.1,45.6 L427.2,44.5 L427.3,44.5 L427.4,45.6 L427.5,47.6 L427.6,50.6 L427.7,54.6 L427.8,59.6 L427.9,65.5 L428.0,72.3 L428.1,80.0 L428.2,88.4 L428.3,97.6 L428.4,107.6 L428.5,118.1 L428.6,129.3 L428.7,141.0 L428.8,153.1 L428.8,165.6 L428.9,178.5 L429.0,191.5 L429.1,204.7 L429.2,218.0 L429.3,204.9 L429.4,191.8 L429.5,178.9 L429.6,166.2 L429.7,153.8 L429.8,141.8 L429.9,130.2 L430.0,119.2 L430.1,108.7 L430.2,98.9 L430.3,89.7 L430.4,81.4 L430.5,73.8 L430.6,67.1 L430.7,61.2 L430.8,56.3 L430.9,52.3 L431.0,49.3 L431.1,47.3 L431.2,46.3 L431.3,46.3 L431.4,47.3 L431.5,49.3 L431.6,52.3 L431.7,56.3 L431.8,61.2 L431.9,67.1 L432.0,73.8 L432.1,81.4 L432.1,89.7 L432.2,98.9 L432.3,108.7 L432.4,119.2 L432.5,130.2 L432.6,141.8 L432.7,153.8 L432.8,166.2 L432.9,178.9 L433.0,191.8 L433.1,204.9 L433.2,218.0 L433.3,204.9 L433.4,191.9 L433.5,179.0 L433.6,166.4 L433.7,154.1 L433.8,142.1 L433.9,130.6 L434.0,119.6 L434.1,109.2 L434.2,99.4 L434.3,90.3 L434.4,82.0 L434.5,74.5 L434.6,67.8 L434.7,61.9 L434.8,57.0 L434.9,53.1 L435.0,50.1 L435.1,48.1 L435.2,47.1 L435.3,47.1 L435.4,48.1 L435.5,50.1 L435.6,53.1 L435.7,57.0 L435.8,61.9 L435.9,67.8 L436.0,74.5 L436.1,82.0 L436.2,90.3 L436.3,99.4 L436.4,109.2 L436.5,119.6 L436.6,130.6 L436.7,142.1 L436.7,154.1 L436.8,166.4 L436.9,179.0 L437.0,191.9 L437.1,204.9 L437.2,218.0 L437.3,205.2 L437.4,192.4 L437.5,179.7 L437.6,167.3 L437.7,155.2 L437.8,143.5 L437.9,132.2 L438.0,121.4 L438.1,111.1 L438.2,101.5 L438.3,92.6 L438.4,84.4 L438.5,77.0 L438.6,70.4 L438.7,64.7 L438.8,59.9 L438.9,56.0 L439.0,53.1 L439.1,51.1 L439.2,50.1 L439.3,50.1 L439.4,51.1 L439.5,53.1 L439.6,56.0 L439.7,59.9 L439.8,64.7 L439.9,70.4 L440.0,77.0 L440.1,84.4 L440.2,92.6 L440.3,101.5 L440.4,111.1 L440.5,121.4 L440.6,132.2 L440.7,143.5 L440.8,155.2 L440.9,167.3 L441.0,179.7 L441.1,192.4 L441.2,205.2 L441.3,218.0 L441.4,205.2 L441.5,192.5 L441.6,180.0 L441.7,167.6 L441.8,155.6 L441.8,144.0 L441.9,132.7 L442.0,122.0 L442.1,111.9 L442.2,102.4 L442.3,93.5 L442.4,85.4 L442.5,78.1 L442.6,71.6 L442.7,66.0 L442.8,61.2 L442.9,57.4 L443.0,54.5 L443.1,52.6 L443.2,51.6 L443.3,51.6 L443.4,52.6 L443.5,54.5 L443.6,57.4 L443.7,61.2 L443.8,65.9 L443.9,71.5 L444.0,78.0 L444.1,85.3 L444.2,93.3 L444.3,102.1 L444.4,111.5 L444.5,121.5 L444.6,132.1 L444.7,143.2 L444.8,154.7 L444.9,166.6 L445.0,178.7 L445.0,191.0 L445.1,203.5 L445.2,216.1 L445.3,204.0 L445.4,191.9 L445.5,180.0 L445.6,168.3 L445.7,156.9 L445.8,145.8 L445.9,135.1 L446.0,124.8 L446.1,115.0 L446.2,105.9 L446.3,97.3 L446.4,89.4 L446.5,82.2 L446.6,75.7 L446.7,70.1 L446.8,65.2 L446.9,61.2 L447.0,58.1 L447.1,55.8 L447.2,54.5 L447.3,54.0 L447.4,54.5 L447.5,55.8 L447.6,58.1 L447.7,61.2 L447.8,65.2 L447.9,70.1 L448.0,75.7 L448.1,82.2 L448.2,89.4 L448.3,97.3 L448.4,105.9 L448.5,115.0 L448.6,124.8 L448.7,135.1 L448.8,145.8 L448.9,156.9 L449.0,168.3 L449.1,180.0 L449.2,191.9 L449.3,204.0 L449.4,216.1 L449.5,204.4 L449.6,192.9 L449.7,181.4 L449.8,170.2 L449.9,159.2 L450.0,148.5 L450.1,138.2 L450.2,128.3 L450.2,118.9 L450.3,110.0 L450.4,101.7 L450.5,94.0 L450.6,86.9 L450.7,80.6 L450.8,74.9 L450.9,70.1 L451.0,65.9 L451.1,62.6 L451.2,60.1 L451.3,58.5 L451.4,57.6 L451.5,57.6 L451.6,58.5 L451.7,60.1 L451.8,62.6 L451.9,65.9 L452.0,70.0 L452.1,74.8 L452.2,80.4 L452.3,86.6 L452.4,93.6 L452.5,101.1 L452.6,109.3 L452.7,118.0 L452.8,127.2 L452.9,136.8 L453.0,146.8 L453.1,157.2 L453.2,167.8 L453.3,178.7 L453.4,189.8 L453.5,200.9 L453.6,212.1 L453.7,201.0 L453.8,189.9 L453.9,179.0 L454.0,168.2 L454.1,157.7 L454.2,147.5 L454.3,137.7 L454.4,128.3 L454.5,119.3 L454.6,110.9 L454.7,103.0 L454.8,95.8 L454.9,89.2 L455.0,83.2 L455.1,78.0 L455.2,73.6 L455.3,69.9 L455.4,67.0 L455.4,65.0 L455.5,63.7 L455.6,63.3 L455.7,63.7 L455.8,65.0 L455.9,67.0 L456.0,69.9 L456.1,73.6 L456.2,78.0 L456.3,83.2 L456.4,89.2 L456.5,95.8 L456.6,103.0 L456.7,110.9 L456.8,119.3 L456.9,128.3 L457.0,137.7 L457.1,147.5 L457.2,157.7 L457.3,168.2 L457.4,179.0 L457.5,189.9 L457.6,201.0 L457.7,212.1 L457.8,201.6 L457.9,191.1 L458.0,180.7 L458.1,170.6 L458.2,160.6 L458.3,150.9 L458.4,141.6 L458.5,132.7 L458.6,124.2 L458.7,116.2 L458.8,108.8 L458.9,101.9 L459.0,95.6 L459.1,90.0 L459.2,85.1 L459.3,80.9 L459.4,77.4 L459.5,74.7 L459.6,72.7 L459.7,71.5 L459.8,71.1 L459.9,71.5 L460.0,72.7 L460.1,74.7 L460.2,77.4 L460.3,80.9 L460.4,85.1 L460.5,90.0 L460.6,95.6 L460.7,101.9 L460.8,108.8 L460.9,116.2 L461.0,124.2 L461.1,132.7 L461.2,141.6 L461.3,150.9 L461.4,160.6 L461.5,170.6 L461.6,180.7 L461.7,191.1 L461.8,201.6 L461.9,212.1 L462.0,203.4 L462.1,194.7 L462.2,186.1 L462.3,177.6 L462.4,169.3 L462.5,161.3 L462.6,153.6 L462.7,146.2 L462.8,139.2 L462.9,132.7 L463.0,126.6 L463.1,121.0 L463.2,115.9 L463.3,111.4 L463.4,107.5 L463.5,104.2 L463.6,101.5 L463.7,99.5 L463.8,98.1 L463.9,97.5 L464.0,97.5 L464.1,98.1 L464.2,99.5 L464.3,101.5 L464.4,104.2 L464.5,107.5 L464.6,111.4 L464.7,116.0 L464.8,121.1 L464.9,126.8 L465.0,132.9 L465.1,139.6 L465.2,146.6 L465.3,154.1 L465.4,162.0 L465.5,170.1 L465.6,178.5 L465.7,187.1 L465.8,195.9 L465.9,204.8 L466.0,213.7" stroke="#C2BE00" stroke-width="1.35"/><path d="M466.2,213.4 L466.4,212.4 L466.6,210.8 L466.8,208.7 L467.0,206.2 L467.2,203.4 L467.4,200.5 L467.6,197.6 L467.8,194.8 L468.0,192.3 L468.2,190.2 L468.4,188.6 L468.6,187.6 L468.8,187.3 L469.0,187.8 L469.2,189.1 L469.4,191.0 L469.6,193.3 L469.8,195.6 L470.0,197.5 L470.2,198.8 L470.4,199.3 L470.6,199.1 L470.8,198.6 L471.0,197.7 L471.2,196.6 L471.5,195.3 L471.7,193.8 L471.9,192.3 L472.1,190.8 L472.3,189.5 L472.5,188.4 L472.7,187.5 L472.9,187.0 L473.1,186.8 L473.3,186.9 L473.5,187.2 L473.7,187.6 L473.9,188.2 L474.1,189.0 L474.3,189.8 L474.5,190.8 L474.7,191.9 L474.9,193.0 L475.1,194.2 L475.3,195.4 L475.5,196.6 L475.7,197.7 L475.9,198.8 L476.1,199.8 L476.3,200.7 L476.5,201.4 L476.7,202.0 L476.9,202.5 L477.1,202.7 L477.3,202.8 L477.5,202.7 L477.7,202.5 L477.9,202.1 L478.1,201.6 L478.3,200.9 L478.5,200.0 L478.7,199.1 L478.9,198.0 L479.0,196.8 L479.2,195.5 L479.4,194.1 L479.6,192.7 L479.8,191.2 L480.0,189.7 L480.2,188.2 L480.4,186.6 L480.6,185.1 L480.8,183.7 L481.0,182.2 L481.2,180.9 L481.4,179.6 L481.6,178.4 L481.8,177.3 L482.0,176.3 L482.2,175.5 L482.3,174.8 L482.5,174.3 L482.7,173.9 L482.9,173.6 L483.1,173.5 L483.3,173.7 L483.5,174.1 L483.7,174.7 L483.9,175.6 L484.1,176.7 L484.3,178.0 L484.5,179.5 L484.7,181.2 L484.9,183.0 L485.1,184.8 L485.3,186.7 L485.5,188.7 L485.7,190.6 L485.9,192.4 L486.1,194.2 L486.3,195.9 L486.5,197.4 L486.7,198.7 L486.9,199.8 L487.1,200.7 L487.3,201.3 L487.5,201.7 L487.7,201.9 L487.9,201.8 L488.1,201.6 L488.3,201.2 L488.5,200.8 L488.6,200.2 L488.8,199.6 L489.0,198.9 L489.2,198.2 L489.4,197.6 L489.6,196.9 L489.8,196.4 L490.0,195.9 L490.2,195.6 L490.4,195.4 L490.6,195.3 L490.8,195.4 L491.0,195.9 L491.2,196.5 L491.5,197.3 L491.7,198.1 L491.9,198.9 L492.1,199.5 L492.3,200.0 L492.5,200.1 L492.7,200.0 L492.9,199.5 L493.1,198.8 L493.3,197.9 L493.5,196.8 L493.7,195.5 L493.9,194.2 L494.1,192.8 L494.3,191.4 L494.5,190.1 L494.7,189.0 L494.9,188.1 L495.1,187.4 L495.2,187.0 L495.4,186.8 L495.6,186.9 L495.8,187.0 L496.0,187.2 L496.2,187.4 L496.4,187.7 L496.6,188.1 L496.8,188.6 L497.0,189.1 L497.2,189.7 L497.4,190.3 L497.6,190.9 L497.8,191.7 L498.0,192.4 L498.2,193.2 L498.4,193.9 L498.6,194.7 L498.8,195.5 L499.0,196.3 L499.2,197.1 L499.4,197.9 L499.6,198.7 L499.8,199.4 L500.0,200.1 L500.2,200.8 L500.4,201.4 L500.6,202.0 L500.8,202.5 L501.0,203.0 L501.2,203.3 L501.4,203.7 L501.6,203.9 L501.8,204.1 L502.0,204.2 L502.2,204.3 L502.4,204.2 L502.6,204.1 L502.8,203.9 L503.0,203.5 L503.2,203.2 L503.4,202.7 L503.6,202.1 L503.8,201.5 L504.0,200.9 L504.2,200.1 L504.4,199.4 L504.6,198.6 L504.8,197.7 L504.9,196.9 L505.1,196.0 L505.3,195.2 L505.5,194.3 L505.7,193.5 L505.9,192.7 L506.1,191.9 L506.3,191.2 L506.5,190.5 L506.7,189.9 L506.9,189.4 L507.1,188.9 L507.3,188.5 L507.5,188.2 L507.7,188.0 L507.9,187.8 L508.1,187.8 L508.3,187.9 L508.5,188.1 L508.7,188.6 L508.9,189.2 L509.1,189.9 L509.3,190.8 L509.5,191.7 L509.7,192.7 L509.9,193.8 L510.1,194.9 L510.3,196.0 L510.5,197.0 L510.7,197.9 L510.9,198.8 L511.1,199.5 L511.3,200.1 L511.5,200.5 L511.7,200.8 L511.9,200.9 L512.1,200.8 L512.3,200.6 L512.5,200.2 L512.7,199.8 L512.9,199.3 L513.1,198.8 L513.3,198.4 L513.5,198.0 L513.7,197.8 L513.9,197.7 L514.1,197.9 L514.3,198.3 L514.5,198.9 L514.7,199.7 L514.9,200.3 L515.1,200.7 L515.3,200.9 L515.5,200.5 L515.7,199.4 L515.9,197.7 L516.1,195.5 L516.3,193.1 L516.5,190.7 L516.8,188.6 L517.0,186.9 L517.2,185.8 L517.4,185.4 L517.6,185.4 L517.8,185.6 L518.0,185.9 L518.2,186.4 L518.3,186.9 L518.5,187.5 L518.7,188.3 L518.9,189.1 L519.1,190.0 L519.3,191.0 L519.5,192.1 L519.7,193.2 L519.9,194.3 L520.1,195.5 L520.3,196.7 L520.5,197.8 L520.7,199.0 L520.9,200.1 L521.1,201.2 L521.3,202.3 L521.5,203.3 L521.7,204.2 L521.9,205.0 L522.1,205.8 L522.3,206.4 L522.5,207.0 L522.7,207.4 L522.9,207.7 L523.1,207.9 L523.3,207.9 L523.5,207.8 L523.7,207.4 L523.9,206.7 L524.1,205.9 L524.3,204.9 L524.5,203.9 L524.7,203.0 L524.9,202.1 L525.1,201.5 L525.3,201.0 L525.5,200.9 L525.7,201.0 L525.9,201.3 L526.2,201.7 L526.4,202.2 L526.6,202.8 L526.8,203.3 L527.0,203.7 L527.2,204.0 L527.5,204.1 L527.7,203.9 L527.9,203.3 L528.1,202.3 L528.3,201.1 L528.5,199.6 L528.7,198.0 L528.9,196.4 L529.1,195.0 L529.3,193.7 L529.5,192.8 L529.7,192.1 L529.9,191.9 L530.1,192.0 L530.3,192.2 L530.5,192.4 L530.7,192.8 L530.9,193.2 L531.1,193.8 L531.3,194.4 L531.5,195.2 L531.7,196.0 L531.9,196.8 L532.1,197.8 L532.3,198.8 L532.5,199.8 L532.7,200.9 L532.9,202.0 L533.1,203.1 L533.3,204.2 L533.5,205.3 L533.7,206.4 L533.9,207.4 L534.1,208.5 L534.3,209.5 L534.5,210.4 L534.7,211.3 L534.9,212.1 L535.1,212.8 L535.3,213.4 L535.5,214.0 L535.7,214.5 L535.9,214.8 L536.1,215.1 L536.3,215.2 L536.5,215.3 L536.7,215.1 L536.9,214.5 L537.1,213.5 L537.3,212.2 L537.5,210.7 L537.7,209.0 L537.9,207.2 L538.1,205.5 L538.3,204.0 L538.5,202.7 L538.7,201.7 L538.9,201.1 L539.1,200.9 L539.3,201.0 L539.5,201.3 L539.7,201.7 L540.0,202.2 L540.2,202.8 L540.4,203.3 L540.6,203.7 L540.8,204.0 L541.0,204.1 L541.2,203.9 L541.4,203.4 L541.6,202.6 L541.8,201.5 L542.0,200.2 L542.2,198.8 L542.4,197.2 L542.6,195.7 L542.8,194.2 L543.0,192.9 L543.2,191.8 L543.4,191.0 L543.6,190.5 L543.7,190.3 L543.9,190.5 L544.1,190.8 L544.3,191.4 L544.5,192.2 L544.7,193.2 L544.9,194.4 L545.1,195.7 L545.3,197.1 L545.5,198.7 L545.7,200.3 L545.9,201.9 L546.1,203.4 L546.3,205.0 L546.5,206.4 L546.7,207.7 L546.9,208.9 L547.0,209.9 L547.2,210.7 L547.4,211.3 L547.6,211.7 L547.8,211.8 L548.0,211.7 L548.2,211.6 L548.4,211.3 L548.6,211.0 L548.8,210.5 L549.0,210.0 L549.2,209.5 L549.5,208.9 L549.7,208.3 L549.9,207.6 L550.1,207.0 L550.3,206.4 L550.5,205.8 L550.7,205.3 L550.9,204.9 L551.1,204.6 L551.3,204.3 L551.5,204.2 L551.7,204.1 L551.9,204.3 L552.1,204.7 L552.3,205.1 L552.5,205.5 L552.7,205.7 L552.9,205.6 L553.1,205.3 L553.3,204.8 L553.5,204.1 L553.7,203.4 L553.9,202.5 L554.1,201.7 L554.3,200.8 L554.6,200.1 L554.8,199.4 L555.0,198.9 L555.2,198.6 L555.4,198.5 L555.6,198.7 L555.8,199.2 L556.0,200.0 L556.2,201.1 L556.4,202.4 L556.5,203.9 L556.7,205.6 L556.9,207.3 L557.1,209.0 L557.3,210.7 L557.5,212.2 L557.7,213.5 L557.9,214.6 L558.1,215.4 L558.3,215.9 L558.5,216.1 L558.7,216.1 L558.9,216.0 L559.1,215.9 L559.3,215.7 L559.5,215.5 L559.7,215.3 L559.8,215.0 L560.0,214.8 L560.2,214.5 L560.4,214.3 L560.6,214.1 L560.8,213.9 L561.0,213.8 L561.2,213.7 L561.4,213.7 L561.6,213.7 L561.8,213.7 L562.0,213.8 L562.2,213.9 L562.4,214.0 L562.6,214.1 L562.8,214.2 L563.0,214.4 L563.1,214.5 L563.3,214.7 L563.5,214.9 L563.7,215.1 L563.9,215.3 L564.1,215.5 L564.3,215.7 L564.5,215.9 L564.7,216.1 L564.9,216.3 L565.1,216.5 L565.3,216.7 L565.5,216.9 L565.7,217.0 L565.9,217.2 L566.1,217.3 L566.2,217.4 L566.4,217.5 L566.6,217.6 L566.8,217.7 L567.0,217.7 L567.2,217.7 L567.4,217.7 L567.6,217.7 L567.8,217.7 L568.0,217.8 L568.2,217.8 L568.4,217.9 L568.6,217.9 L568.9,218.0 L569.1,218.1 L569.3,218.1 L569.5,218.2 L569.7,218.3 L569.9,218.3 L570.1,218.4 L570.3,218.4 L570.5,218.5 L570.7,218.5 L570.9,218.5 L571.1,218.5 L571.3,218.5 L571.5,218.5 L571.7,218.5 L571.9,218.5 L572.1,218.5 L572.3,218.5 L572.5,218.5 L572.7,218.5 L572.9,218.5 L573.0,218.5 L573.2,218.5 L573.4,218.5 L573.6,218.5 L573.8,218.5 L574.0,218.5 L574.2,218.5 L574.4,218.5 L574.6,218.5 L574.8,218.5 L575.0,218.5 L575.2,218.5 L575.4,218.5 L575.6,218.5 L575.8,218.5 L576.0,218.5 L576.2,218.5 L576.4,218.5 L576.5,218.5 L576.7,218.5 L576.9,218.5 L577.1,218.5 L577.3,218.5 L577.5,218.5 L577.7,218.5 L577.9,218.5 L578.1,218.5 L578.3,218.5 L578.5,218.5 L578.7,218.5 L578.9,218.5 L579.1,218.5 L579.3,218.5 L579.5,218.5 L579.7,218.5 L579.9,218.5 L580.0,218.5 L580.2,218.5 L580.4,218.5 L580.6,218.5 L580.8,218.5 L581.0,218.5 L581.2,218.5 L581.4,218.5 L581.6,218.5 L581.8,218.5 L582.0,218.5 L582.2,218.5 L582.4,218.5 L582.6,218.5 L582.8,218.5 L583.0,218.5 L583.2,218.5 L583.4,218.5 L583.6,218.5 L583.7,218.5 L583.9,218.5 L584.1,218.5 L584.3,218.5 L584.5,218.5 L584.7,218.5 L584.9,218.5 L585.1,218.5 L585.3,218.5 L585.5,218.5 L585.7,218.5 L585.9,218.5 L586.1,218.5 L586.3,218.5 L586.5,218.5 L586.7,218.5 L586.9,218.5 L587.1,218.5 L587.2,218.5 L587.4,218.5 L587.6,218.5 L587.8,218.5 L588.0,218.5 L588.2,218.5 L588.4,218.5 L588.6,218.5 L588.8,218.5 L589.0,218.5 L589.2,218.5 L589.4,218.5 L589.6,218.5 L589.8,218.5 L590.0,218.5 L590.2,218.5 L590.4,218.5 L590.6,218.5 L590.7,218.5 L590.9,218.5 L591.1,218.5 L591.3,218.5 L591.5,218.5 L591.7,218.5 L591.9,218.5 L592.1,218.5 L592.3,218.5 L592.5,218.5 L592.7,218.5 L592.9,218.5 L593.1,218.5 L593.3,218.5 L593.5,218.5 L593.7,218.5 L593.9,218.5 L594.1,218.5 L594.2,218.5 L594.4,218.5 L594.6,218.5 L594.8,218.5 L595.0,218.5 L595.2,218.5 L595.4,218.5 L595.6,218.5 L595.8,218.5 L596.0,218.5 L596.2,218.5 L596.4,218.5 L596.6,218.5 L596.8,218.5 L597.0,218.5 L597.2,218.5 L597.4,218.5 L597.6,218.5 L597.8,218.5 L597.9,218.5 L598.1,218.5 L598.3,218.5 L598.5,218.5 L598.7,218.5 L598.9,218.5 L599.1,218.5 L599.3,218.5 L599.5,218.5 L599.7,218.5 L599.9,218.5 L600.1,218.5 L600.3,218.5 L600.5,218.5 L600.7,218.5 L600.9,218.5 L601.1,218.5 L601.3,218.5 L601.4,218.5 L601.6,218.5 L601.8,218.5 L602.0,218.5 L602.2,218.5 L602.4,218.5 L602.6,218.5 L602.8,218.5 L603.0,218.5 L603.2,218.5 L603.4,218.5 L603.6,218.5 L603.8,218.5 L604.0,218.5 L604.2,218.5 L604.4,218.5 L604.6,218.5 L604.8,218.5 L604.9,218.5 L605.1,218.5 L605.3,218.5 L605.5,218.5 L605.7,218.5 L605.9,218.5 L606.1,218.5 L606.3,218.5 L606.5,218.5 L606.7,218.5 L606.9,218.5 L607.1,218.5 L607.3,218.5 L607.5,218.5 L607.7,218.5 L607.9,218.5 L608.1,218.5 L608.3,218.5 L608.5,218.5 L608.6,218.5 L608.8,218.5 L609.0,218.5 L609.2,218.5 L609.4,218.5 L609.6,218.5 L609.8,218.5 L610.0,218.5 L610.2,218.5 L610.4,218.5 L610.6,218.5 L610.8,218.5 L611.0,218.5 L611.2,218.5 L611.4,218.5 L611.6,218.5 L611.8,218.5 L612.0,218.5 L612.1,218.5 L612.3,218.5 L612.5,218.5 L612.7,218.5 L612.9,218.5 L613.1,218.5 L613.3,218.5 L613.5,218.5 L613.7,218.5 L613.9,218.5 L614.1,218.5 L614.3,218.5 L614.5,218.5 L614.7,218.5 L614.9,218.5 L615.1,218.5 L615.3,218.5 L615.5,218.5 L615.6,218.5 L615.8,218.5 L616.0,218.5 L616.2,218.5 L616.4,218.5 L616.6,218.5 L616.8,218.5 L617.0,218.5 L617.2,218.5 L617.4,218.5 L617.6,218.5 L617.8,218.5 L618.0,218.5 L618.2,218.5 L618.4,218.5 L618.6,218.5 L618.8,218.5 L619.0,218.5 L619.1,218.5 L619.3,218.5 L619.5,218.5 L619.7,218.5 L619.9,218.5 L620.1,218.5 L620.3,218.5 L620.5,218.5 L620.7,218.5 L620.9,218.5 L621.1,218.5 L621.3,218.5 L621.5,218.5 L621.7,218.5 L621.9,218.5 L622.1,218.5 L622.3,218.5 L622.5,218.5 L622.7,218.5 L622.8,218.5 L623.0,218.5 L623.2,218.5 L623.4,218.5 L623.6,218.5 L623.8,218.5 L624.0,218.5 L624.2,218.5 L624.4,218.5 L624.6,218.5 L624.8,218.5 L625.0,218.5 L625.2,218.5 L625.4,218.5 L625.6,218.5 L625.8,218.5 L626.0,218.5 L626.2,218.5 L626.3,218.5 L626.5,218.5 L626.7,218.5 L626.9,218.5 L627.1,218.5 L627.3,218.5 L627.5,218.5 L627.7,218.5 L627.9,218.5 L628.1,218.5 L628.3,218.5 L628.5,218.5 L628.7,218.5 L628.9,218.5 L629.1,218.5 L629.3,218.5 L629.5,218.5 L629.7,218.5 L629.8,218.5 L630.0,218.5 L630.2,218.5 L630.4,218.5 L630.6,218.5 L630.8,218.5 L631.0,218.5 L631.2,218.5 L631.4,218.5 L631.6,218.5 L631.8,218.5 L632.0,218.5 L632.2,218.5 L632.4,218.5 L632.6,218.5 L632.8,218.5 L633.0,218.5 L633.2,218.5 L633.4,218.5 L633.5,218.5 L633.7,218.5 L633.9,218.5 L634.1,218.5 L634.3,218.5 L634.5,218.5 L634.7,218.5 L634.9,218.5 L635.1,218.5 L635.3,218.5 L635.5,218.5 L635.7,218.5 L635.9,218.5 L636.1,218.5 L636.3,218.5 L636.5,218.5 L636.7,218.5 L636.9,218.5 L637.0,218.5 L637.2,218.5 L637.4,218.5 L637.6,218.5 L637.8,218.5 L638.0,218.5 L638.2,218.5 L638.4,218.5 L638.6,218.5 L638.8,218.5 L639.0,218.5" stroke="#C2BE00" stroke-width="1.45"/><path d="M396.5,140.1 L425.6,139.6 L455.3,140.4 L460.5,146.5 L466.3,154.2 L470.0,166.2 L477.3,196.3 L489.0,191.9 L500.7,193.9 L511.0,197.4 L522.6,198.8 L533.5,201.7 L544.5,201.4 L556.1,204.1 L563.3,211.6 L568.5,216.1 L574.0,218.5 L639.0,218.5" stroke="#FF8000" stroke-width="2.4"/><path d="M396.5,218.5 L396.7,218.5 L396.9,218.5 L397.1,218.5 L397.3,218.5 L397.5,218.5 L397.7,218.5 L397.9,218.5 L398.1,218.5 L398.2,218.5 L398.4,218.5 L398.6,218.5 L398.8,218.5 L399.0,218.5 L399.2,218.5 L399.4,218.5 L399.6,218.5 L399.8,218.5 L400.0,218.5 L400.2,218.5 L400.4,218.5 L400.6,218.5 L400.8,218.5 L401.0,218.5 L401.2,218.5 L401.4,218.5 L401.6,218.5 L401.7,218.5 L401.9,218.5 L402.1,218.5 L402.3,218.5 L402.5,218.5 L402.7,218.5 L402.9,218.5 L403.1,218.5 L403.3,218.5 L403.5,218.5 L403.7,218.5 L403.9,218.5 L404.1,218.5 L404.3,218.5 L404.5,218.5 L404.7,218.5 L404.9,218.5 L405.0,218.5 L405.2,218.5 L405.4,218.5 L405.6,218.5 L405.8,218.5 L406.0,218.5 L406.2,218.5 L406.4,218.5 L406.6,218.5 L406.8,218.5 L407.0,218.5 L407.2,218.5 L407.4,218.5 L407.6,218.5 L407.8,218.5 L408.0,218.5 L408.2,218.5 L408.4,218.5 L408.5,218.5 L408.7,218.5 L408.9,218.5 L409.1,218.5 L409.3,218.5 L409.5,218.5 L409.7,218.5 L409.9,218.5 L410.1,218.5 L410.3,218.5 L410.5,218.5 L410.7,218.5 L410.9,218.5 L411.1,218.5 L411.3,218.5 L411.5,218.5 L411.7,218.5 L411.9,218.5 L412.0,218.5 L412.2,218.5 L412.4,218.5 L412.6,218.5 L412.8,218.5 L413.0,218.5 L413.2,218.5 L413.4,218.5 L413.6,218.5 L413.8,218.5 L414.0,218.5 L414.2,218.5 L414.4,218.5 L414.6,218.5 L414.8,218.5 L415.0,218.5 L415.2,218.5 L415.3,218.5 L415.5,218.5 L415.7,218.5 L415.9,218.5 L416.1,218.5 L416.3,218.5 L416.5,218.5 L416.7,218.5 L416.9,218.5 L417.1,218.5 L417.3,218.5 L417.5,218.5 L417.7,218.5 L417.9,218.5 L418.1,218.5 L418.3,218.5 L418.5,218.5 L418.7,218.5 L418.8,218.5 L419.0,218.5 L419.2,218.5 L419.4,218.5 L419.6,218.5 L419.8,218.5 L420.0,218.5 L420.2,218.5 L420.4,218.5 L420.6,218.5 L420.8,218.5 L421.0,218.5 L421.2,218.5 L421.4,218.5 L421.6,218.5 L421.8,218.5 L422.0,218.5 L422.1,218.5 L422.3,218.5 L422.5,218.5 L422.7,218.5 L422.9,218.5 L423.1,218.5 L423.3,218.5 L423.5,218.5 L423.7,218.5 L423.9,218.5 L424.1,218.5 L424.3,218.5 L424.5,218.5 L424.7,218.5 L424.9,218.5 L425.1,218.5 L425.3,218.5 L425.5,218.5 L425.6,218.5 L425.8,218.5 L426.0,218.5 L426.2,218.5 L426.4,218.5 L426.6,218.5 L426.8,218.5 L427.0,218.5 L427.2,218.5 L427.4,218.5 L427.6,218.5 L427.8,218.5 L428.0,218.5 L428.2,218.5 L428.4,218.5 L428.6,218.5 L428.8,218.5 L429.0,218.5 L429.1,218.5 L429.3,218.5 L429.5,218.5 L429.7,218.5 L429.9,218.5 L430.1,218.5 L430.3,218.5 L430.5,218.5 L430.7,218.5 L430.9,218.5 L431.1,218.5 L431.3,218.5 L431.5,218.5 L431.7,218.5 L431.9,218.5 L432.1,218.5 L432.3,218.5 L432.4,218.5 L432.6,218.5 L432.8,218.5 L433.0,218.5 L433.2,218.5 L433.4,218.5 L433.6,218.5 L433.8,218.5 L434.0,218.5 L434.2,218.5 L434.4,218.5 L434.6,218.5 L434.8,218.5 L435.0,218.5 L435.2,218.5 L435.4,218.5 L435.6,218.5 L435.8,218.5 L435.9,218.5 L436.1,218.5 L436.3,218.5 L436.5,218.5 L436.7,218.5 L436.9,218.5 L437.1,218.5 L437.3,218.5 L437.5,218.5 L437.7,218.5 L437.9,218.5 L438.1,218.5 L438.3,218.5 L438.5,218.5 L438.7,218.5 L438.9,218.5 L439.1,218.5 L439.2,218.5 L439.4,218.5 L439.6,218.5 L439.8,218.5 L440.0,218.5 L440.2,218.5 L440.4,218.5 L440.6,218.5 L440.8,218.5 L441.0,218.5 L441.2,218.5 L441.4,218.5 L441.6,218.5 L441.8,218.5 L442.0,218.5 L442.2,218.5 L442.4,218.5 L442.6,218.5 L442.7,218.5 L442.9,218.5 L443.1,218.5 L443.3,218.5 L443.5,218.5 L443.7,218.5 L443.9,218.5 L444.1,218.5 L444.3,218.5 L444.5,218.5 L444.7,218.5 L444.9,218.5 L445.1,218.5 L445.3,218.5 L445.5,218.5 L445.7,218.5 L445.9,218.5 L446.1,218.5 L446.2,218.5 L446.4,218.5 L446.6,218.5 L446.8,218.5 L447.0,218.5 L447.2,218.5 L447.4,218.5 L447.6,218.5 L447.8,218.5 L448.0,218.5 L448.2,218.5 L448.4,218.5 L448.6,218.5 L448.8,218.5 L449.0,218.5 L449.2,218.5 L449.4,218.5 L449.5,218.5 L449.7,218.5 L449.9,218.5 L450.1,218.5 L450.3,218.5 L450.5,218.5 L450.7,218.5 L450.9,218.5 L451.1,218.5 L451.3,218.5 L451.5,218.5 L451.7,218.5 L451.9,218.5 L452.1,218.5 L452.3,218.5 L452.5,218.5 L452.7,218.5 L452.9,218.5 L453.0,218.5 L453.2,218.5 L453.4,218.5 L453.6,218.5 L453.8,218.5 L454.0,218.5 L454.2,218.5 L454.4,218.5 L454.6,218.5 L454.8,218.5 L455.0,218.5 L455.2,218.5 L455.4,218.5 L455.6,218.5 L455.8,218.5 L456.0,218.5 L456.2,218.5 L456.3,218.3 L456.5,217.9 L456.7,217.2 L456.9,216.3 L457.1,215.3 L457.3,214.3 L457.5,213.4 L457.7,212.7 L457.9,212.3 L458.1,212.1 L458.3,211.6 L458.5,210.2 L458.7,207.8 L458.9,204.7 L459.1,201.0 L459.3,196.9 L459.5,192.5 L459.7,188.1 L459.9,184.0 L460.1,180.3 L460.3,177.2 L460.5,174.8 L460.7,173.4 L460.9,172.9 L461.1,173.2 L461.3,174.2 L461.5,175.9 L461.7,178.1 L461.9,180.7 L462.1,183.7 L462.3,186.9 L462.5,190.1 L462.7,193.3 L462.9,196.3 L463.1,198.9 L463.3,201.1 L463.5,202.8 L463.7,203.8 L463.9,204.1 L464.1,203.3 L464.3,201.0 L464.5,197.2 L464.7,192.1 L464.9,185.8 L465.2,178.7 L465.4,171.0 L465.6,163.0 L465.8,155.0 L466.0,147.2 L466.2,140.1 L466.4,133.9 L466.6,128.8 L466.8,125.0 L467.0,122.7 L467.2,121.9 L467.4,122.0 L467.6,122.4 L467.8,123.1 L468.0,124.0 L468.2,125.2 L468.4,126.5 L468.6,128.1 L468.8,129.8 L469.0,131.7 L469.2,133.6 L469.3,135.6 L469.5,137.6 L469.7,139.6 L469.9,141.5 L470.1,143.4 L470.3,145.1 L470.5,146.6 L470.7,148.0 L470.9,149.2 L471.1,150.1 L471.3,150.8 L471.5,151.2 L471.7,151.3 L471.9,151.2 L472.1,150.8 L472.3,150.3 L472.5,149.5 L472.6,148.5 L472.8,147.3 L473.0,146.0 L473.2,144.5 L473.4,142.8 L473.6,141.1 L473.8,139.3 L474.0,137.5 L474.2,135.7 L474.4,133.8 L474.6,132.0 L474.8,130.3 L475.0,128.7 L475.2,127.2 L475.4,125.8 L475.6,124.7 L475.7,123.7 L475.9,122.9 L476.1,122.3 L476.3,122.0 L476.5,121.9 L476.7,122.2 L476.9,123.3 L477.1,125.1 L477.3,127.6 L477.5,130.5 L477.7,133.7 L477.9,137.3 L478.1,140.9 L478.3,144.4 L478.5,147.7 L478.7,150.6 L478.9,153.0 L479.0,154.8 L479.2,155.9 L479.4,156.3 L479.7,156.1 L479.9,155.5 L480.1,154.6 L480.3,153.5 L480.5,152.4 L480.7,151.3 L480.9,150.5 L481.2,149.9 L481.4,149.7 L481.6,149.8 L481.8,150.0 L482.0,150.4 L482.2,151.0 L482.4,151.6 L482.6,152.3 L482.8,152.9 L483.0,153.5 L483.2,154.1 L483.4,154.5 L483.6,154.7 L483.8,154.8 L484.0,154.8 L484.2,154.6 L484.4,154.3 L484.6,153.9 L484.8,153.4 L485.0,152.9 L485.2,152.2 L485.4,151.4 L485.5,150.6 L485.7,149.7 L485.9,148.7 L486.1,147.7 L486.3,146.7 L486.5,145.7 L486.7,144.6 L486.9,143.5 L487.1,142.5 L487.3,141.4 L487.5,140.4 L487.7,139.5 L487.9,138.6 L488.1,137.7 L488.3,137.0 L488.5,136.3 L488.6,135.7 L488.8,135.2 L489.0,134.8 L489.2,134.6 L489.4,134.4 L489.6,134.3 L489.8,134.5 L490.0,135.1 L490.2,136.0 L490.4,137.2 L490.6,138.8 L490.8,140.5 L491.0,142.5 L491.2,144.6 L491.4,146.7 L491.6,148.9 L491.8,151.0 L492.0,152.9 L492.2,154.7 L492.4,156.2 L492.6,157.5 L492.8,158.4 L493.0,159.0 L493.2,159.1 L493.4,158.8 L493.6,157.9 L493.8,156.3 L494.0,154.3 L494.2,151.8 L494.4,149.0 L494.6,146.0 L494.8,143.0 L495.0,140.0 L495.2,137.2 L495.4,134.7 L495.6,132.7 L495.8,131.1 L496.0,130.2 L496.2,129.9 L496.4,130.3 L496.6,131.5 L496.8,133.4 L497.0,135.9 L497.3,139.0 L497.5,142.4 L497.7,146.0 L497.9,149.6 L498.1,153.0 L498.3,156.1 L498.5,158.7 L498.7,160.6 L498.9,161.8 L499.1,162.2 L499.3,162.0 L499.5,161.3 L499.7,160.2 L499.9,158.7 L500.1,156.8 L500.3,154.7 L500.5,152.3 L500.7,149.8 L500.9,147.1 L501.1,144.5 L501.3,142.0 L501.5,139.6 L501.7,137.5 L501.9,135.6 L502.1,134.1 L502.3,133.0 L502.5,132.3 L502.7,132.1 L502.9,132.3 L503.1,132.7 L503.3,133.5 L503.5,134.5 L503.7,135.8 L503.9,137.2 L504.1,138.8 L504.4,140.6 L504.6,142.3 L504.8,144.1 L505.0,145.8 L505.2,147.5 L505.4,148.9 L505.6,150.2 L505.8,151.2 L506.0,152.0 L506.2,152.4 L506.4,152.6 L506.6,152.5 L506.8,152.2 L507.0,151.7 L507.2,151.0 L507.4,150.2 L507.6,149.3 L507.8,148.3 L508.0,147.2 L508.2,146.0 L508.4,144.9 L508.6,143.8 L508.8,142.7 L509.0,141.8 L509.2,141.0 L509.4,140.3 L509.6,139.9 L509.8,139.6 L510.0,139.5 L510.2,139.6 L510.4,139.9 L510.6,140.5 L510.8,141.3 L511.0,142.2 L511.2,143.2 L511.3,144.3 L511.5,145.3 L511.7,146.3 L511.9,147.3 L512.1,148.0 L512.3,148.6 L512.5,148.9 L512.7,149.1 L512.9,148.7 L513.1,147.6 L513.3,145.9 L513.5,143.7 L513.7,141.3 L513.9,138.9 L514.1,136.7 L514.3,135.0 L514.5,133.9 L514.7,133.5 L515.0,133.9 L515.2,135.1 L515.4,136.9 L515.6,139.2 L515.8,142.0 L516.0,144.9 L516.2,147.8 L516.4,150.6 L516.6,152.9 L516.8,154.7 L517.1,155.9 L517.3,156.3 L517.5,156.1 L517.7,155.7 L517.9,155.0 L518.1,154.1 L518.3,153.0 L518.5,151.6 L518.7,150.1 L518.9,148.5 L519.1,146.9 L519.3,145.2 L519.5,143.5 L519.7,141.9 L519.9,140.4 L520.1,139.1 L520.3,137.9 L520.5,137.0 L520.6,136.3 L520.8,135.9 L521.0,135.8 L521.2,135.9 L521.4,136.3 L521.7,136.9 L521.9,137.7 L522.1,138.7 L522.3,139.8 L522.5,140.9 L522.7,142.0 L522.9,143.1 L523.1,144.1 L523.3,144.9 L523.5,145.5 L523.7,145.9 L523.9,146.0 L524.1,146.0 L524.3,145.9 L524.5,145.9 L524.6,145.7 L524.8,145.6 L525.0,145.4 L525.2,145.1 L525.4,144.9 L525.6,144.6 L525.8,144.3 L526.0,143.9 L526.2,143.6 L526.4,143.2 L526.6,142.8 L526.8,142.4 L527.0,142.0 L527.2,141.6 L527.4,141.2 L527.6,140.8 L527.8,140.4 L528.0,140.0 L528.2,139.7 L528.4,139.3 L528.6,139.0 L528.8,138.7 L529.0,138.4 L529.2,138.1 L529.4,137.9 L529.6,137.7 L529.8,137.5 L530.0,137.4 L530.2,137.3 L530.4,137.2 L530.6,137.2 L530.8,137.4 L531.0,138.0 L531.2,138.9 L531.4,140.1 L531.6,141.6 L531.8,143.2 L532.0,144.9 L532.2,146.6 L532.4,148.2 L532.6,149.7 L532.8,150.9 L533.0,151.8 L533.2,152.4 L533.4,152.6 L533.6,152.4 L533.8,151.9 L534.0,151.1 L534.2,149.9 L534.4,148.5 L534.6,146.9 L534.8,145.1 L535.0,143.2 L535.2,141.2 L535.4,139.2 L535.6,137.3 L535.8,135.5 L536.0,133.9 L536.2,132.5 L536.4,131.4 L536.6,130.5 L536.8,130.0 L537.1,129.9 L537.2,130.1 L537.4,130.6 L537.6,131.5 L537.8,132.8 L538.0,134.3 L538.2,135.9 L538.4,137.7 L538.6,139.6 L538.8,141.4 L539.0,143.1 L539.2,144.5 L539.4,145.8 L539.6,146.7 L539.8,147.3 L540.0,147.5 L540.2,147.4 L540.4,147.1 L540.5,146.6 L540.7,146.0 L540.9,145.3 L541.1,144.4 L541.3,143.5 L541.5,142.6 L541.7,141.7 L541.9,140.9 L542.1,140.1 L542.3,139.5 L542.5,139.0 L542.7,138.8 L542.9,138.7 L543.1,138.7 L543.3,138.9 L543.5,139.3 L543.7,139.8 L543.9,140.3 L544.1,141.0 L544.3,141.8 L544.5,142.6 L544.7,143.4 L544.9,144.2 L545.1,145.0 L545.3,145.7 L545.5,146.4 L545.7,147.0 L545.9,147.5 L546.1,147.8 L546.3,148.0 L546.5,148.1 L546.7,147.9 L546.9,147.4 L547.1,146.6 L547.3,145.5 L547.5,144.1 L547.7,142.6 L547.9,140.9 L548.1,139.3 L548.3,137.6 L548.5,136.1 L548.7,134.7 L548.9,133.6 L549.1,132.8 L549.3,132.3 L549.5,132.1 L549.7,132.3 L549.9,132.9 L550.1,133.8 L550.2,135.1 L550.4,136.7 L550.6,138.4 L550.8,140.3 L551.0,142.2 L551.2,144.0 L551.4,145.8 L551.6,147.3 L551.8,148.6 L552.0,149.6 L552.2,150.1 L552.4,150.3 L552.6,150.3 L552.8,150.3 L553.0,150.2 L553.2,150.0 L553.4,149.8 L553.6,149.6 L553.8,149.3 L554.0,149.0 L554.1,148.7 L554.3,148.4 L554.5,148.0 L554.7,147.6 L554.9,147.1 L555.1,146.7 L555.3,146.2 L555.5,145.7 L555.7,145.2 L555.9,144.7 L556.1,144.3 L556.3,143.8 L556.5,143.3 L556.7,142.8 L556.9,142.3 L557.1,141.9 L557.3,141.4 L557.5,141.0 L557.7,140.6 L557.9,140.3 L558.1,140.0 L558.3,139.7 L558.5,139.4 L558.7,139.2 L558.9,139.0 L559.1,138.8 L559.3,138.7 L559.5,138.7 L559.7,138.7 L559.8,138.7 L560.0,138.9 L560.2,139.2 L560.4,139.7 L560.6,140.2 L560.8,140.9 L561.0,141.6 L561.2,142.4 L561.4,143.3 L561.6,144.2 L561.8,145.1 L562.0,146.1 L562.2,147.0 L562.4,148.0 L562.6,148.8 L562.8,149.6 L563.0,150.4 L563.1,151.0 L563.3,151.6 L563.5,152.0 L563.7,152.3 L563.9,152.5 L564.1,152.6 L564.3,152.5 L564.5,152.3 L564.7,151.9 L564.9,151.4 L565.1,150.8 L565.3,150.0 L565.5,149.2 L565.7,148.3 L565.9,147.5 L566.1,146.6 L566.3,145.7 L566.5,144.9 L566.7,144.2 L566.9,143.5 L567.1,143.0 L567.3,142.6 L567.5,142.4 L567.7,142.3 L567.9,142.4 L568.1,142.5 L568.3,142.8 L568.5,143.1 L568.7,143.5 L568.9,144.0 L569.1,144.5 L569.3,145.1 L569.5,145.7 L569.6,146.3 L569.8,146.9 L570.0,147.5 L570.2,148.0 L570.4,148.5 L570.6,148.9 L570.8,149.3 L571.0,149.5 L571.2,149.6 L571.4,149.7 L571.6,149.7 L571.8,149.6 L572.0,149.4 L572.2,149.2 L572.4,148.9 L572.6,148.6 L572.8,148.3 L573.0,147.9 L573.2,147.5 L573.4,147.1 L573.6,146.8 L573.8,146.4 L574.0,146.1 L574.2,145.8 L574.4,145.6 L574.6,145.5 L574.8,145.4 L575.0,145.3 L575.2,145.4 L575.4,145.6 L575.6,146.0 L575.8,146.5 L576.0,147.1 L576.1,147.7 L576.3,148.2 L576.5,148.7 L576.7,149.1 L576.9,149.3 L577.1,149.4 L577.3,149.3 L577.5,149.0 L577.7,148.6 L577.9,148.0 L578.1,147.3 L578.3,146.5 L578.5,145.7 L578.7,145.0 L578.9,144.4 L579.1,144.0 L579.3,143.7 L579.5,143.6 L579.7,143.7 L579.9,143.9 L580.1,144.3 L580.3,144.8 L580.5,145.4 L580.7,146.1 L580.9,146.8 L581.2,147.5 L581.4,148.1 L581.6,148.6 L581.8,149.0 L582.0,149.3 L582.2,149.3 L582.4,149.2 L582.6,148.9 L582.8,148.3 L583.0,147.6 L583.2,146.8 L583.4,146.0 L583.6,145.3 L583.8,144.8 L584.1,144.4 L584.3,144.3 L584.5,144.3 L584.7,144.5 L584.9,144.8 L585.1,145.2 L585.3,145.7 L585.5,146.2 L585.7,146.7 L585.9,147.2 L586.1,147.6 L586.3,147.9 L586.5,148.1 L586.7,148.1 L586.9,148.1 L587.1,147.9 L587.3,147.7 L587.5,147.4 L587.7,147.0 L587.9,146.6 L588.1,146.3 L588.3,146.0 L588.5,145.7 L588.7,145.6 L588.9,145.5 L589.1,145.6 L589.3,145.7 L589.5,146.0 L589.7,146.2 L589.9,146.6 L590.1,147.0 L590.3,147.3 L590.5,147.7 L590.7,148.0 L590.9,148.2 L591.1,148.3 L591.3,148.4 L591.5,148.4 L591.7,148.2 L591.9,148.0 L592.1,147.8 L592.3,147.5 L592.5,147.2 L592.7,146.8 L592.9,146.4 L593.1,146.1 L593.3,145.8 L593.5,145.5 L593.7,145.3 L593.9,145.2 L594.1,145.2 L594.3,145.3 L594.5,145.5 L594.7,145.8 L594.9,146.2 L595.1,146.7 L595.3,147.3 L595.5,147.9 L595.7,148.4 L595.9,148.9 L596.1,149.3 L596.3,149.7 L596.5,149.9 L596.7,149.9 L596.9,149.8 L597.1,149.6 L597.3,149.1 L597.5,148.5 L597.7,147.8 L597.9,147.1 L598.1,146.4 L598.3,145.7 L598.5,145.1 L598.8,144.6 L599.0,144.4 L599.2,144.3 L599.4,144.4 L599.6,144.8 L599.8,145.4 L600.0,146.2 L600.2,147.0 L600.4,147.9 L600.6,148.6 L600.8,149.3 L601.0,149.6 L601.2,149.8 L601.4,149.7 L601.6,149.4 L601.8,148.9 L602.0,148.3 L602.2,147.6 L602.4,146.9 L602.6,146.3 L602.8,145.8 L603.0,145.5 L603.2,145.4 L603.4,145.4 L603.6,145.6 L603.8,145.9 L604.0,146.3 L604.2,146.7 L604.4,147.1 L604.6,147.6 L604.8,148.0 L605.0,148.4 L605.2,148.6 L605.4,148.8 L605.6,148.9 L605.8,148.8 L606.0,148.7 L606.2,148.4 L606.4,148.1 L606.6,147.7 L606.8,147.3 L607.0,146.8 L607.2,146.4 L607.4,146.0 L607.6,145.7 L607.8,145.4 L608.0,145.3 L608.2,145.2 L608.4,145.3 L608.6,145.5 L608.8,145.9 L609.0,146.3 L609.2,146.8 L609.4,147.4 L609.6,147.9 L609.8,148.4 L610.0,148.9 L610.2,149.2 L610.5,149.4 L610.7,149.5 L610.9,149.4 L611.1,149.1 L611.3,148.7 L611.5,148.1 L611.7,147.5 L611.9,146.9 L612.1,146.2 L612.3,145.7 L612.5,145.3 L612.7,145.0 L612.9,144.9 L613.1,145.0 L613.3,145.2 L613.6,145.6 L613.8,146.1 L614.0,146.6 L614.2,147.2 L614.4,147.8 L614.6,148.4 L614.8,148.8 L615.0,149.2 L615.2,149.4 L615.4,149.5 L615.6,149.4 L615.8,149.0 L616.0,148.5 L616.3,147.8 L616.5,147.0 L616.7,146.2 L616.9,145.5 L617.1,145.0 L617.3,144.6 L617.5,144.5 L617.7,144.6 L617.9,144.9 L618.2,145.4 L618.4,146.0 L618.6,146.7 L618.8,147.4 L619.0,148.1 L619.2,148.8 L619.4,149.2 L619.6,149.6 L619.8,149.7 L620.0,149.6 L620.2,149.4 L620.4,149.2 L620.6,148.9 L620.8,148.5 L621.0,148.1 L621.2,147.6 L621.4,147.2 L621.6,146.8 L621.8,146.5 L622.0,146.2 L622.2,146.1 L622.4,146.0 L622.6,146.1 L622.8,146.2 L623.0,146.5 L623.2,146.8 L623.4,147.2 L623.6,147.5 L623.8,147.8 L624.1,148.1 L624.3,148.2 L624.5,148.3 L624.7,148.2 L624.9,148.1 L625.1,147.9 L625.3,147.6 L625.5,147.3 L625.7,147.0 L625.9,146.7 L626.1,146.4 L626.3,146.2 L626.5,146.1 L626.7,146.1 L626.9,146.1 L627.1,146.2 L627.3,146.4 L627.5,146.7 L627.7,147.0 L627.9,147.3 L628.1,147.6 L628.3,147.9 L628.5,148.2 L628.7,148.5 L628.9,148.7 L629.1,148.8 L629.3,148.8 L629.5,148.8 L629.7,148.6 L629.9,148.3 L630.1,147.9 L630.3,147.4 L630.5,146.9 L630.7,146.4 L630.9,145.9 L631.1,145.6 L631.3,145.2 L631.5,145.1 L631.7,145.0 L631.9,145.0 L632.1,145.2 L632.3,145.5 L632.5,145.9 L632.7,146.4 L632.9,146.9 L633.1,147.4 L633.3,148.0 L633.5,148.5 L633.7,148.9 L633.9,149.3 L634.1,149.6 L634.3,149.8 L634.5,149.8 L634.7,149.7 L634.9,149.3 L635.1,148.7 L635.3,148.0 L635.5,147.1 L635.8,146.3 L636.0,145.5 L636.2,144.9 L636.4,144.6 L636.6,144.4 L636.8,144.5 L637.0,144.6 L637.2,144.9 L637.4,145.2 L637.6,145.6 L637.8,146.0 L638.0,146.5 L638.2,147.0 L638.4,147.4 L638.6,147.8 L638.8,148.1 L639.0,148.4" stroke="#8000FF" stroke-width="1.9"/><path d="M396.5,218.5 L456.0,218.5 L461.7,196.1 L468.0,168.9 L472.8,153.1 L478.3,143.6 L484.8,151.5 L492.5,143.3 L501.3,145.2 L508.1,144.6 L515.8,142.0 L524.5,141.1 L534.2,142.5 L543.9,142.0 L553.6,143.3 L559.5,144.6 L564.3,147.3 L571.1,146.8 L639.0,147.3" stroke="#000090" stroke-width="2.2"/><g fill="#000090" stroke="none"><circle cx="396.50" cy="218.50" r="1.75"/><circle cx="401.35" cy="218.50" r="1.75"/><circle cx="406.20" cy="218.50" r="1.75"/><circle cx="411.05" cy="218.50" r="1.75"/><circle cx="415.90" cy="218.50" r="1.75"/><circle cx="420.75" cy="218.50" r="1.75"/><circle cx="425.60" cy="218.50" r="1.75"/><circle cx="430.45" cy="218.50" r="1.75"/><circle cx="435.30" cy="218.50" r="1.75"/><circle cx="440.15" cy="218.50" r="1.75"/><circle cx="445.00" cy="218.50" r="1.75"/><circle cx="449.85" cy="218.50" r="1.75"/><circle cx="454.70" cy="218.50" r="1.75"/><circle cx="459.55" cy="204.45" r="1.75"/><circle cx="464.40" cy="184.38" r="1.75"/><circle cx="469.25" cy="164.78" r="1.75"/><circle cx="474.10" cy="150.87" r="1.75"/><circle cx="478.95" cy="144.44" r="1.75"/><circle cx="483.80" cy="150.29" r="1.75"/><circle cx="488.65" cy="147.38" r="1.75"/><circle cx="493.50" cy="143.51" r="1.75"/><circle cx="498.35" cy="144.58" r="1.75"/><circle cx="503.20" cy="145.04" r="1.75"/><circle cx="508.05" cy="144.58" r="1.75"/><circle cx="512.90" cy="142.98" r="1.75"/><circle cx="517.75" cy="141.81" r="1.75"/><circle cx="522.60" cy="141.27" r="1.75"/><circle cx="527.45" cy="141.49" r="1.75"/><circle cx="532.30" cy="142.21" r="1.75"/><circle cx="537.15" cy="142.36" r="1.75"/><circle cx="542.00" cy="142.12" r="1.75"/><circle cx="546.85" cy="142.40" r="1.75"/><circle cx="551.70" cy="143.04" r="1.75"/><circle cx="556.55" cy="143.94" r="1.75"/><circle cx="561.40" cy="145.67" r="1.75"/><circle cx="566.25" cy="147.16" r="1.75"/><circle cx="571.10" cy="146.82" r="1.75"/><circle cx="575.95" cy="146.85" r="1.75"/><circle cx="580.80" cy="146.89" r="1.75"/><circle cx="585.65" cy="146.92" r="1.75"/><circle cx="590.50" cy="146.96" r="1.75"/><circle cx="595.35" cy="146.99" r="1.75"/><circle cx="600.20" cy="147.03" r="1.75"/><circle cx="605.05" cy="147.06" r="1.75"/><circle cx="609.90" cy="147.09" r="1.75"/><circle cx="614.75" cy="147.13" r="1.75"/><circle cx="619.60" cy="147.16" r="1.75"/><circle cx="624.45" cy="147.20" r="1.75"/><circle cx="629.30" cy="147.23" r="1.75"/><circle cx="634.15" cy="147.27" r="1.75"/><circle cx="639.00" cy="147.30" r="1.75"/></g></g><path d="M469.00,18.00 V26.50 M557.50,18.00 V26.50" stroke="#000" stroke-width="1.4" fill="none"/><line x1="471.00" y1="21.20" x2="555.50" y2="21.20" stroke="#000" stroke-width="1.2"/><path d="M470.60,21.20 L474.20,19.20 L473.40,21.20 L474.20,23.20 Z" fill="#000"/><path d="M555.90,21.20 L552.30,19.20 L553.10,21.20 L552.30,23.20 Z" fill="#000"/><text x="470.01" y="14.70" font-size="17" textLength="88.75" lengthAdjust="spacingAndGlyphs" font-family="Liberation Sans, sans-serif" font-weight="bold">cSi(100)/Li</text><text x="343.40" y="17.50" font-size="16.8" textLength="22.74" lengthAdjust="spacingAndGlyphs" font-family="Liberation Sans, sans-serif" font-weight="bold">(b)</text><text x="366.46" y="222.10" font-size="12.2" textLength="25.64" lengthAdjust="spacingAndGlyphs" font-family="Liberation Sans, sans-serif" font-weight="bold">0.00</text><text x="642.60" y="222.10" font-size="12.2" textLength="25.64" lengthAdjust="spacingAndGlyphs" fill="#00008B" font-family="Liberation Sans, sans-serif" font-weight="bold">0.00</text><text x="366.46" y="190.10" font-size="12.2" textLength="25.64" lengthAdjust="spacingAndGlyphs" font-family="Liberation Sans, sans-serif" font-weight="bold">0.02</text><text x="642.60" y="190.10" font-size="12.2" textLength="25.64" lengthAdjust="spacingAndGlyphs" fill="#00008B" font-family="Liberation Sans, sans-serif" font-weight="bold">0.02</text><text x="366.46" y="158.10" font-size="12.2" textLength="25.64" lengthAdjust="spacingAndGlyphs" font-family="Liberation Sans, sans-serif" font-weight="bold">0.04</text><text x="642.60" y="158.10" font-size="12.2" textLength="25.64" lengthAdjust="spacingAndGlyphs" fill="#00008B" font-family="Liberation Sans, sans-serif" font-weight="bold">0.04</text><text x="366.46" y="126.10" font-size="12.2" textLength="25.64" lengthAdjust="spacingAndGlyphs" font-family="Liberation Sans, sans-serif" font-weight="bold">0.06</text><text x="642.60" y="126.10" font-size="12.2" textLength="25.64" lengthAdjust="spacingAndGlyphs" fill="#00008B" font-family="Liberation Sans, sans-serif" font-weight="bold">0.06</text><text x="366.46" y="94.10" font-size="12.2" textLength="25.64" lengthAdjust="spacingAndGlyphs" font-family="Liberation Sans, sans-serif" font-weight="bold">0.08</text><text x="642.60" y="94.10" font-size="12.2" textLength="25.64" lengthAdjust="spacingAndGlyphs" fill="#00008B" font-family="Liberation Sans, sans-serif" font-weight="bold">0.08</text><text x="366.46" y="62.10" font-size="12.2" textLength="25.64" lengthAdjust="spacingAndGlyphs" font-family="Liberation Sans, sans-serif" font-weight="bold">0.10</text><text x="642.60" y="62.10" font-size="12.2" textLength="25.64" lengthAdjust="spacingAndGlyphs" fill="#00008B" font-family="Liberation Sans, sans-serif" font-weight="bold">0.10</text><text x="366.46" y="30.10" font-size="12.2" textLength="25.64" lengthAdjust="spacingAndGlyphs" font-family="Liberation Sans, sans-serif" font-weight="bold">0.12</text><text x="642.60" y="30.10" font-size="12.2" textLength="25.64" lengthAdjust="spacingAndGlyphs" fill="#00008B" font-family="Liberation Sans, sans-serif" font-weight="bold">0.12</text><text x="389.40" y="237.10" font-size="12.2" textLength="14.79" lengthAdjust="spacingAndGlyphs" font-family="Liberation Sans, sans-serif" font-weight="bold">10</text><text x="437.90" y="237.10" font-size="12.2" textLength="14.79" lengthAdjust="spacingAndGlyphs" font-family="Liberation Sans, sans-serif" font-weight="bold">15</text><text x="486.40" y="237.10" font-size="12.2" textLength="14.79" lengthAdjust="spacingAndGlyphs" font-family="Liberation Sans, sans-serif" font-weight="bold">20</text><text x="534.90" y="237.10" font-size="12.2" textLength="14.79" lengthAdjust="spacingAndGlyphs" font-family="Liberation Sans, sans-serif" font-weight="bold">25</text><text x="583.40" y="237.10" font-size="12.2" textLength="14.79" lengthAdjust="spacingAndGlyphs" font-family="Liberation Sans, sans-serif" font-weight="bold">30</text><text x="631.90" y="237.10" font-size="12.2" textLength="14.79" lengthAdjust="spacingAndGlyphs" font-family="Liberation Sans, sans-serif" font-weight="bold">35</text><text x="517.75" y="253.00" font-size="12.4" text-anchor="middle" font-family="Liberation Sans, sans-serif" font-weight="bold">Bin number</text><text transform="translate(362.50,118.50) rotate(-90) scale(1.04,1)" font-size="12.4" text-anchor="middle" font-family="Liberation Sans, sans-serif" font-weight="bold">Number density (&#197;<tspan font-size="8" dy="-4.5">-3</tspan><tspan dy="4.5">)</tspan></text><text transform="translate(672.00,122.50) rotate(90) scale(1.03,1)" font-size="12.4" text-anchor="middle" fill="#00008B" font-family="Liberation Sans, sans-serif" font-weight="bold">Average number density (&#197;<tspan font-size="8" dy="-4.5">-3</tspan><tspan dy="4.5">)</tspan></text>
<defs><clipPath id="pc_c"><rect x="51.30" y="288.00" width="242.30" height="195.00"/></clipPath><clipPath id="clip_c110"><rect x="228.80" y="288.00" width="64.80" height="94.70"/></clipPath></defs><rect x="102.90" y="288.00" width="7.00" height="195.00" fill="#65A6D6"/><rect x="109.90" y="288.00" width="11.70" height="195.00" fill="#92B7B2"/><rect x="121.60" y="288.00" width="107.20" height="195.00" fill="#FFF2CF"/><line x1="104.50" y1="294.60" x2="110.00" y2="294.60" stroke="#000" stroke-width="1.8"/><path d="M102.50,294.60 L106.30,292.40 L105.50,294.60 L106.30,296.80 Z" fill="#000"/><line x1="110.00" y1="294.60" x2="120.00" y2="294.60" stroke="#5A4A26" stroke-width="1.8"/><path d="M122.00,294.60 L118.20,292.40 L119.00,294.60 L118.20,296.80 Z" fill="#5A4A26"/><path d="M51.30,480.00 h4.50 M51.30,448.00 h4.50 M51.30,416.00 h4.50 M51.30,384.00 h4.50 M51.30,352.00 h4.50 M51.30,320.00 h4.50 M51.30,288.00 h4.50 M99.76,483.00 v-4.50 M148.22,483.00 v-4.50 M196.68,483.00 v-4.50 M245.14,483.00 v-4.50" stroke="#000" stroke-width="2" fill="none"/><path d="M293.60,480.00 h-4.50 M293.60,448.00 h-4.50 M293.60,416.00 h-4.50 M293.60,384.00 h-4.50 M293.60,352.00 h-4.50 M293.60,320.00 h-4.50 M293.60,288.00 h-4.50" stroke="#00008B" stroke-width="2" fill="none"/><rect x="228.8" y="288.0" width="64.8" height="94.7" fill="#fff"/><g clip-path="url(#clip_c110)"><path d="M231.5,247.9L231.5,253.7 M231.5,253.7L240.0,259.5 M231.5,247.9L240.0,242.1 M231.5,271.1L231.5,276.9 M231.5,276.9L240.0,282.7 M231.5,271.1L240.0,265.3 M231.5,294.3L231.5,300.1 M231.5,300.1L240.0,305.9 M231.5,294.3L240.0,288.5 M231.5,317.5L231.5,323.3 M231.5,323.3L240.0,329.1 M231.5,317.5L240.0,311.7 M231.5,340.7L231.5,346.5 M231.5,346.5L240.0,352.3 M231.5,340.7L240.0,334.9 M231.5,363.9L231.5,369.7 M231.5,369.7L240.0,375.5 M231.5,363.9L240.0,358.1 M231.5,387.1L231.5,392.9 M231.5,392.9L240.0,398.7 M231.5,387.1L240.0,381.3 M231.5,410.3L231.5,416.1 M231.5,416.1L240.0,421.9 M231.5,410.3L240.0,404.5 M231.5,433.5L231.5,439.3 M231.5,439.3L240.0,445.1 M231.5,433.5L240.0,427.7 M240.0,259.5L240.0,265.3 M240.0,265.3L248.5,271.1 M240.0,259.5L248.5,253.7 M240.0,282.7L240.0,288.5 M240.0,288.5L248.5,294.3 M240.0,282.7L248.5,276.9 M240.0,305.9L240.0,311.7 M240.0,311.7L248.5,317.5 M240.0,305.9L248.5,300.1 M240.0,329.1L240.0,334.9 M240.0,334.9L248.5,340.7 M240.0,329.1L248.5,323.3 M240.0,352.3L240.0,358.1 M240.0,358.1L248.5,363.9 M240.0,352.3L248.5,346.5 M240.0,375.5L240.0,381.3 M240.0,381.3L248.5,387.1 M240.0,375.5L248.5,369.7 M240.0,398.7L240.0,404.5 M240.0,404.5L248.5,410.3 M240.0,398.7L248.5,392.9 M240.0,421.9L240.0,427.7 M240.0,427.7L248.5,433.5 M240.0,421.9L248.5,416.1 M240.0,445.1L240.0,450.9 M240.0,450.9L248.5,456.7 M240.0,445.1L248.5,439.3 M248.5,247.9L248.5,253.7 M248.5,253.7L257.0,259.5 M248.5,247.9L257.0,242.1 M248.5,271.1L248.5,276.9 M248.5,276.9L257.0,282.7 M248.5,271.1L257.0,265.3 M248.5,294.3L248.5,300.1 M248.5,300.1L257.0,305.9 M248.5,294.3L257.0,288.5 M248.5,317.5L248.5,323.3 M248.5,323.3L257.0,329.1 M248.5,317.5L257.0,311.7 M248.5,340.7L248.5,346.5 M248.5,346.5L257.0,352.3 M248.5,340.7L257.0,334.9 M248.5,363.9L248.5,369.7 M248.5,369.7L257.0,375.5 M248.5,363.9L257.0,358.1 M248.5,387.1L248.5,392.9 M248.5,392.9L257.0,398.7 M248.5,387.1L257.0,381.3 M248.5,410.3L248.5,416.1 M248.5,416.1L257.0,421.9 M248.5,410.3L257.0,404.5 M248.5,433.5L248.5,439.3 M248.5,439.3L257.0,445.1 M248.5,433.5L257.0,427.7 M257.0,259.5L257.0,265.3 M257.0,282.7L257.0,288.5 M257.0,305.9L257.0,311.7 M257.0,329.1L257.0,334.9 M257.0,352.3L257.0,358.1 M257.0,375.5L257.0,381.3 M257.0,398.7L257.0,404.5 M257.0,421.9L257.0,427.7 M257.0,445.1L257.0,450.9" stroke="#E8DE00" stroke-width="1.80" fill="none"/><circle cx="257.0" cy="334.9" r="2.35" fill="#F8F200" stroke="#CEC400" stroke-width="0.55"/><circle cx="231.5" cy="439.3" r="2.35" fill="#F8F200" stroke="#CEC400" stroke-width="0.55"/><circle cx="248.5" cy="387.1" r="2.35" fill="#F8F200" stroke="#CEC400" stroke-width="0.55"/><circle cx="257.0" cy="259.5" r="2.35" fill="#F8F200" stroke="#CEC400" stroke-width="0.55"/><circle cx="231.5" cy="323.3" r="2.35" fill="#F8F200" stroke="#CEC400" stroke-width="0.55"/><circle cx="257.0" cy="375.5" r="2.35" fill="#F8F200" stroke="#CEC400" stroke-width="0.55"/><circle cx="257.0" cy="427.7" r="2.35" fill="#F8F200" stroke="#CEC400" stroke-width="0.55"/><circle cx="257.0" cy="311.7" r="2.35" fill="#F8F200" stroke="#CEC400" stroke-width="0.55"/><circle cx="231.5" cy="416.1" r="2.35" fill="#F8F200" stroke="#CEC400" stroke-width="0.55"/><circle cx="257.0" cy="352.3" r="2.35" fill="#F8F200" stroke="#CEC400" stroke-width="0.55"/><circle cx="231.5" cy="300.1" r="2.35" fill="#F8F200" stroke="#CEC400" stroke-width="0.55"/><circle cx="257.0" cy="404.5" r="2.35" fill="#F8F200" stroke="#CEC400" stroke-width="0.55"/><circle cx="257.0" cy="445.1" r="2.35" fill="#F8F200" stroke="#CEC400" stroke-width="0.55"/><circle cx="248.5" cy="253.7" r="2.35" fill="#F8F200" stroke="#CEC400" stroke-width="0.55"/><circle cx="257.0" cy="288.5" r="2.35" fill="#F8F200" stroke="#CEC400" stroke-width="0.55"/><circle cx="257.0" cy="329.1" r="2.35" fill="#F8F200" stroke="#CEC400" stroke-width="0.55"/><circle cx="231.5" cy="247.9" r="2.35" fill="#F8F200" stroke="#CEC400" stroke-width="0.55"/><circle cx="240.0" cy="421.9" r="2.35" fill="#F8F200" stroke="#CEC400" stroke-width="0.55"/><circle cx="240.0" cy="305.9" r="2.35" fill="#F8F200" stroke="#CEC400" stroke-width="0.55"/><circle cx="240.0" cy="381.3" r="2.35" fill="#F8F200" stroke="#CEC400" stroke-width="0.55"/><circle cx="248.5" cy="369.7" r="2.35" fill="#F8F200" stroke="#CEC400" stroke-width="0.55"/><circle cx="240.0" cy="398.7" r="2.35" fill="#F8F200" stroke="#CEC400" stroke-width="0.55"/><circle cx="240.0" cy="265.3" r="2.35" fill="#F8F200" stroke="#CEC400" stroke-width="0.55"/><circle cx="231.5" cy="363.9" r="2.35" fill="#F8F200" stroke="#CEC400" stroke-width="0.55"/><circle cx="240.0" cy="282.7" r="2.35" fill="#F8F200" stroke="#CEC400" stroke-width="0.55"/><circle cx="240.0" cy="358.1" r="2.35" fill="#F8F200" stroke="#CEC400" stroke-width="0.55"/><circle cx="248.5" cy="346.5" r="2.35" fill="#F8F200" stroke="#CEC400" stroke-width="0.55"/><circle cx="231.5" cy="340.7" r="2.35" fill="#F8F200" stroke="#CEC400" stroke-width="0.55"/><circle cx="248.5" cy="439.3" r="2.35" fill="#F8F200" stroke="#CEC400" stroke-width="0.55"/><circle cx="248.5" cy="323.3" r="2.35" fill="#F8F200" stroke="#CEC400" stroke-width="0.55"/><circle cx="231.5" cy="433.5" r="2.35" fill="#F8F200" stroke="#CEC400" stroke-width="0.55"/><circle cx="231.5" cy="317.5" r="2.35" fill="#F8F200" stroke="#CEC400" stroke-width="0.55"/><circle cx="248.5" cy="416.1" r="2.35" fill="#F8F200" stroke="#CEC400" stroke-width="0.55"/><circle cx="257.0" cy="421.9" r="2.35" fill="#F8F200" stroke="#CEC400" stroke-width="0.55"/><circle cx="231.5" cy="392.9" r="2.35" fill="#F8F200" stroke="#CEC400" stroke-width="0.55"/><circle cx="231.5" cy="410.3" r="2.35" fill="#F8F200" stroke="#CEC400" stroke-width="0.55"/><circle cx="248.5" cy="300.1" r="2.35" fill="#F8F200" stroke="#CEC400" stroke-width="0.55"/><circle cx="231.5" cy="276.9" r="2.35" fill="#F8F200" stroke="#CEC400" stroke-width="0.55"/><circle cx="231.5" cy="294.3" r="2.35" fill="#F8F200" stroke="#CEC400" stroke-width="0.55"/><circle cx="257.0" cy="305.9" r="2.35" fill="#F8F200" stroke="#CEC400" stroke-width="0.55"/><circle cx="231.5" cy="387.1" r="2.35" fill="#F8F200" stroke="#CEC400" stroke-width="0.55"/><circle cx="257.0" cy="381.3" r="2.35" fill="#F8F200" stroke="#CEC400" stroke-width="0.55"/><circle cx="231.5" cy="271.1" r="2.35" fill="#F8F200" stroke="#CEC400" stroke-width="0.55"/><circle cx="257.0" cy="265.3" r="2.35" fill="#F8F200" stroke="#CEC400" stroke-width="0.55"/><circle cx="257.0" cy="398.7" r="2.35" fill="#F8F200" stroke="#CEC400" stroke-width="0.55"/><circle cx="248.5" cy="247.9" r="2.35" fill="#F8F200" stroke="#CEC400" stroke-width="0.55"/><circle cx="257.0" cy="282.7" r="2.35" fill="#F8F200" stroke="#CEC400" stroke-width="0.55"/><circle cx="257.0" cy="358.1" r="2.35" fill="#F8F200" stroke="#CEC400" stroke-width="0.55"/><circle cx="240.0" cy="450.9" r="2.35" fill="#F8F200" stroke="#CEC400" stroke-width="0.55"/><circle cx="231.5" cy="253.7" r="2.35" fill="#F8F200" stroke="#CEC400" stroke-width="0.55"/><circle cx="240.0" cy="334.9" r="2.35" fill="#F8F200" stroke="#CEC400" stroke-width="0.55"/><circle cx="240.0" cy="375.5" r="2.35" fill="#F8F200" stroke="#CEC400" stroke-width="0.55"/><circle cx="248.5" cy="363.9" r="2.35" fill="#F8F200" stroke="#CEC400" stroke-width="0.55"/><circle cx="240.0" cy="259.5" r="2.35" fill="#F8F200" stroke="#CEC400" stroke-width="0.55"/><circle cx="240.0" cy="427.7" r="2.35" fill="#F8F200" stroke="#CEC400" stroke-width="0.55"/><circle cx="240.0" cy="311.7" r="2.35" fill="#F8F200" stroke="#CEC400" stroke-width="0.55"/><circle cx="240.0" cy="352.3" r="2.35" fill="#F8F200" stroke="#CEC400" stroke-width="0.55"/><circle cx="248.5" cy="340.7" r="2.35" fill="#F8F200" stroke="#CEC400" stroke-width="0.55"/><circle cx="240.0" cy="404.5" r="2.35" fill="#F8F200" stroke="#CEC400" stroke-width="0.55"/><circle cx="240.0" cy="445.1" r="2.35" fill="#F8F200" stroke="#CEC400" stroke-width="0.55"/><circle cx="248.5" cy="433.5" r="2.35" fill="#F8F200" stroke="#CEC400" stroke-width="0.55"/><circle cx="240.0" cy="288.5" r="2.35" fill="#F8F200" stroke="#CEC400" stroke-width="0.55"/><circle cx="240.0" cy="329.1" r="2.35" fill="#F8F200" stroke="#CEC400" stroke-width="0.55"/><circle cx="248.5" cy="317.5" r="2.35" fill="#F8F200" stroke="#CEC400" stroke-width="0.55"/><circle cx="248.5" cy="392.9" r="2.35" fill="#F8F200" stroke="#CEC400" stroke-width="0.55"/><circle cx="248.5" cy="410.3" r="2.35" fill="#F8F200" stroke="#CEC400" stroke-width="0.55"/><circle cx="231.5" cy="369.7" r="2.35" fill="#F8F200" stroke="#CEC400" stroke-width="0.55"/><circle cx="248.5" cy="276.9" r="2.35" fill="#F8F200" stroke="#CEC400" stroke-width="0.55"/><circle cx="248.5" cy="294.3" r="2.35" fill="#F8F200" stroke="#CEC400" stroke-width="0.55"/><circle cx="231.5" cy="346.5" r="2.35" fill="#F8F200" stroke="#CEC400" stroke-width="0.55"/><circle cx="257.0" cy="450.9" r="2.35" fill="#F8F200" stroke="#CEC400" stroke-width="0.55"/><circle cx="248.5" cy="271.1" r="2.35" fill="#F8F200" stroke="#CEC400" stroke-width="0.55"/><circle cx="275.6" cy="374.0" r="2.30" fill="#0CA0E4" stroke="#0A82C2" stroke-width="0.5"/><circle cx="257.1" cy="320.3" r="2.30" fill="#0CA0E4" stroke="#0A82C2" stroke-width="0.5"/><circle cx="262.2" cy="313.3" r="2.30" fill="#0CA0E4" stroke="#0A82C2" stroke-width="0.5"/><circle cx="260.4" cy="366.3" r="2.30" fill="#0CA0E4" stroke="#0A82C2" stroke-width="0.5"/><circle cx="283.2" cy="324.0" r="2.30" fill="#F8F200" stroke="#CEC400" stroke-width="0.55"/><circle cx="289.6" cy="299.1" r="2.30" fill="#0CA0E4" stroke="#0A82C2" stroke-width="0.5"/><circle cx="271.6" cy="352.5" r="2.30" fill="#0CA0E4" stroke="#0A82C2" stroke-width="0.5"/><circle cx="293.5" cy="326.9" r="2.30" fill="#0CA0E4" stroke="#0A82C2" stroke-width="0.5"/><circle cx="267.7" cy="337.6" r="2.30" fill="#0CA0E4" stroke="#0A82C2" stroke-width="0.5"/><circle cx="287.2" cy="316.4" r="2.30" fill="#0CA0E4" stroke="#0A82C2" stroke-width="0.5"/><circle cx="259.3" cy="325.0" r="2.30" fill="#0CA0E4" stroke="#0A82C2" stroke-width="0.5"/><circle cx="292.2" cy="359.8" r="2.30" fill="#0CA0E4" stroke="#0A82C2" stroke-width="0.5"/><circle cx="290.7" cy="369.6" r="2.30" fill="#0CA0E4" stroke="#0A82C2" stroke-width="0.5"/><circle cx="274.7" cy="342.2" r="2.30" fill="#F8F200" stroke="#CEC400" stroke-width="0.55"/><circle cx="289.9" cy="348.8" r="2.30" fill="#0CA0E4" stroke="#0A82C2" stroke-width="0.5"/><circle cx="274.9" cy="346.3" r="2.30" fill="#0CA0E4" stroke="#0A82C2" stroke-width="0.5"/><circle cx="285.1" cy="355.9" r="2.30" fill="#0CA0E4" stroke="#0A82C2" stroke-width="0.5"/><circle cx="273.5" cy="326.9" r="2.30" fill="#0CA0E4" stroke="#0A82C2" stroke-width="0.5"/><circle cx="255.8" cy="352.7" r="2.30" fill="#0CA0E4" stroke="#0A82C2" stroke-width="0.5"/><circle cx="262.2" cy="383.5" r="2.30" fill="#F8F200" stroke="#CEC400" stroke-width="0.55"/><circle cx="281.5" cy="349.7" r="2.30" fill="#0CA0E4" stroke="#0A82C2" stroke-width="0.5"/><circle cx="289.6" cy="356.2" r="2.30" fill="#F8F200" stroke="#CEC400" stroke-width="0.55"/><circle cx="282.3" cy="370.2" r="2.30" fill="#0CA0E4" stroke="#0A82C2" stroke-width="0.5"/><circle cx="284.0" cy="304.0" r="2.30" fill="#0CA0E4" stroke="#0A82C2" stroke-width="0.5"/><circle cx="280.0" cy="359.4" r="2.30" fill="#F8F200" stroke="#CEC400" stroke-width="0.55"/><circle cx="264.9" cy="313.9" r="2.30" fill="#0CA0E4" stroke="#0A82C2" stroke-width="0.5"/><circle cx="275.1" cy="316.4" r="2.30" fill="#0CA0E4" stroke="#0A82C2" stroke-width="0.5"/><circle cx="288.3" cy="353.0" r="2.30" fill="#F8F200" stroke="#CEC400" stroke-width="0.55"/><circle cx="280.7" cy="366.8" r="2.30" fill="#F8F200" stroke="#CEC400" stroke-width="0.55"/><circle cx="266.6" cy="300.2" r="2.30" fill="#0CA0E4" stroke="#0A82C2" stroke-width="0.5"/><circle cx="290.5" cy="377.4" r="2.30" fill="#0CA0E4" stroke="#0A82C2" stroke-width="0.5"/><circle cx="269.6" cy="363.6" r="2.30" fill="#F8F200" stroke="#CEC400" stroke-width="0.55"/><circle cx="287.1" cy="362.2" r="2.30" fill="#0CA0E4" stroke="#0A82C2" stroke-width="0.5"/><circle cx="259.4" cy="317.0" r="2.30" fill="#0CA0E4" stroke="#0A82C2" stroke-width="0.5"/><circle cx="269.9" cy="341.3" r="2.30" fill="#0CA0E4" stroke="#0A82C2" stroke-width="0.5"/><circle cx="264.8" cy="331.6" r="2.30" fill="#0CA0E4" stroke="#0A82C2" stroke-width="0.5"/><circle cx="281.4" cy="293.2" r="2.30" fill="#F8F200" stroke="#CEC400" stroke-width="0.55"/><circle cx="288.7" cy="366.9" r="2.30" fill="#0CA0E4" stroke="#0A82C2" stroke-width="0.5"/><circle cx="285.3" cy="334.6" r="2.30" fill="#0CA0E4" stroke="#0A82C2" stroke-width="0.5"/><circle cx="271.4" cy="366.4" r="2.30" fill="#0CA0E4" stroke="#0A82C2" stroke-width="0.5"/><circle cx="273.2" cy="359.7" r="2.30" fill="#F8F200" stroke="#CEC400" stroke-width="0.55"/><circle cx="267.9" cy="351.2" r="2.30" fill="#0CA0E4" stroke="#0A82C2" stroke-width="0.5"/><circle cx="268.9" cy="318.1" r="2.30" fill="#F8F200" stroke="#CEC400" stroke-width="0.55"/><circle cx="257.1" cy="300.1" r="2.30" fill="#F8F200" stroke="#CEC400" stroke-width="0.55"/><circle cx="266.8" cy="328.3" r="2.30" fill="#F8F200" stroke="#CEC400" stroke-width="0.55"/><circle cx="293.4" cy="370.5" r="2.30" fill="#F8F200" stroke="#CEC400" stroke-width="0.55"/><circle cx="280.7" cy="295.7" r="2.30" fill="#0CA0E4" stroke="#0A82C2" stroke-width="0.5"/><circle cx="286.1" cy="348.0" r="2.30" fill="#F8F200" stroke="#CEC400" stroke-width="0.55"/><circle cx="288.0" cy="331.6" r="2.30" fill="#F8F200" stroke="#CEC400" stroke-width="0.55"/><circle cx="290.5" cy="327.9" r="2.30" fill="#0CA0E4" stroke="#0A82C2" stroke-width="0.5"/><circle cx="278.3" cy="370.1" r="2.30" fill="#0CA0E4" stroke="#0A82C2" stroke-width="0.5"/><circle cx="278.2" cy="377.5" r="2.30" fill="#F8F200" stroke="#CEC400" stroke-width="0.55"/><circle cx="278.3" cy="307.5" r="2.30" fill="#0CA0E4" stroke="#0A82C2" stroke-width="0.5"/><circle cx="271.5" cy="323.5" r="2.30" fill="#0CA0E4" stroke="#0A82C2" stroke-width="0.5"/><circle cx="255.5" cy="358.7" r="2.30" fill="#0CA0E4" stroke="#0A82C2" stroke-width="0.5"/><circle cx="260.1" cy="372.8" r="2.30" fill="#0CA0E4" stroke="#0A82C2" stroke-width="0.5"/><circle cx="262.1" cy="320.5" r="2.30" fill="#0CA0E4" stroke="#0A82C2" stroke-width="0.5"/><circle cx="271.4" cy="297.4" r="2.30" fill="#0CA0E4" stroke="#0A82C2" stroke-width="0.5"/><circle cx="289.8" cy="335.9" r="2.30" fill="#0CA0E4" stroke="#0A82C2" stroke-width="0.5"/><circle cx="282.0" cy="334.4" r="2.30" fill="#0CA0E4" stroke="#0A82C2" stroke-width="0.5"/><circle cx="288.7" cy="344.6" r="2.30" fill="#F8F200" stroke="#CEC400" stroke-width="0.55"/><circle cx="258.4" cy="383.7" r="2.30" fill="#0CA0E4" stroke="#0A82C2" stroke-width="0.5"/><circle cx="283.0" cy="380.0" r="2.30" fill="#0CA0E4" stroke="#0A82C2" stroke-width="0.5"/><circle cx="265.6" cy="307.5" r="2.30" fill="#0CA0E4" stroke="#0A82C2" stroke-width="0.5"/><circle cx="262.0" cy="356.5" r="2.30" fill="#F8F200" stroke="#CEC400" stroke-width="0.55"/><circle cx="279.4" cy="323.5" r="2.30" fill="#F8F200" stroke="#CEC400" stroke-width="0.55"/><circle cx="281.4" cy="363.4" r="2.30" fill="#0CA0E4" stroke="#0A82C2" stroke-width="0.5"/><circle cx="270.1" cy="322.0" r="2.30" fill="#F8F200" stroke="#CEC400" stroke-width="0.55"/><circle cx="284.8" cy="337.4" r="2.30" fill="#0CA0E4" stroke="#0A82C2" stroke-width="0.5"/><circle cx="266.8" cy="341.3" r="2.30" fill="#0CA0E4" stroke="#0A82C2" stroke-width="0.5"/><circle cx="265.7" cy="377.4" r="2.30" fill="#0CA0E4" stroke="#0A82C2" stroke-width="0.5"/><circle cx="273.5" cy="383.6" r="2.30" fill="#0CA0E4" stroke="#0A82C2" stroke-width="0.5"/><circle cx="274.1" cy="320.3" r="2.30" fill="#0CA0E4" stroke="#0A82C2" stroke-width="0.5"/><circle cx="293.1" cy="301.1" r="2.30" fill="#0CA0E4" stroke="#0A82C2" stroke-width="0.5"/><circle cx="280.5" cy="331.5" r="2.30" fill="#F8F200" stroke="#CEC400" stroke-width="0.55"/><circle cx="272.7" cy="316.6" r="2.30" fill="#0CA0E4" stroke="#0A82C2" stroke-width="0.5"/><circle cx="267.8" cy="359.5" r="2.30" fill="#F8F200" stroke="#CEC400" stroke-width="0.55"/><circle cx="285.2" cy="332.2" r="2.30" fill="#0CA0E4" stroke="#0A82C2" stroke-width="0.5"/><circle cx="278.0" cy="292.0" r="2.30" fill="#0CA0E4" stroke="#0A82C2" stroke-width="0.5"/><circle cx="281.6" cy="356.1" r="2.30" fill="#F8F200" stroke="#CEC400" stroke-width="0.55"/><circle cx="292.0" cy="332.3" r="2.30" fill="#0CA0E4" stroke="#0A82C2" stroke-width="0.5"/><circle cx="282.2" cy="328.9" r="2.30" fill="#0CA0E4" stroke="#0A82C2" stroke-width="0.5"/><circle cx="285.2" cy="383.9" r="2.30" fill="#0CA0E4" stroke="#0A82C2" stroke-width="0.5"/><circle cx="282.3" cy="307.5" r="2.30" fill="#F8F200" stroke="#CEC400" stroke-width="0.55"/><circle cx="288.2" cy="289.6" r="2.30" fill="#0CA0E4" stroke="#0A82C2" stroke-width="0.5"/><circle cx="256.6" cy="297.6" r="2.30" fill="#0CA0E4" stroke="#0A82C2" stroke-width="0.5"/><circle cx="270.2" cy="355.4" r="2.30" fill="#F8F200" stroke="#CEC400" stroke-width="0.55"/><circle cx="265.1" cy="362.8" r="2.30" fill="#0CA0E4" stroke="#0A82C2" stroke-width="0.5"/><circle cx="285.4" cy="292.9" r="2.30" fill="#0CA0E4" stroke="#0A82C2" stroke-width="0.5"/><circle cx="264.1" cy="379.8" r="2.30" fill="#F8F200" stroke="#CEC400" stroke-width="0.55"/><circle cx="267.9" cy="303.4" r="2.30" fill="#0CA0E4" stroke="#0A82C2" stroke-width="0.5"/><circle cx="259.2" cy="288.9" r="2.30" fill="#0CA0E4" stroke="#0A82C2" stroke-width="0.5"/><circle cx="289.7" cy="306.3" r="2.30" fill="#0CA0E4" stroke="#0A82C2" stroke-width="0.5"/><circle cx="280.5" cy="310.1" r="2.30" fill="#0CA0E4" stroke="#0A82C2" stroke-width="0.5"/><circle cx="282.5" cy="320.0" r="2.30" fill="#0CA0E4" stroke="#0A82C2" stroke-width="0.5"/><circle cx="279.1" cy="362.9" r="2.30" fill="#F8F200" stroke="#CEC400" stroke-width="0.55"/><circle cx="293.2" cy="307.7" r="2.30" fill="#F8F200" stroke="#CEC400" stroke-width="0.55"/><circle cx="276.7" cy="289.2" r="2.30" fill="#0CA0E4" stroke="#0A82C2" stroke-width="0.5"/><circle cx="277.0" cy="321.6" r="2.30" fill="#F8F200" stroke="#CEC400" stroke-width="0.55"/><circle cx="281.4" cy="313.5" r="2.30" fill="#0CA0E4" stroke="#0A82C2" stroke-width="0.5"/><circle cx="294.9" cy="361.7" r="2.30" fill="#0CA0E4" stroke="#0A82C2" stroke-width="0.5"/><circle cx="276.2" cy="380.6" r="2.30" fill="#0CA0E4" stroke="#0A82C2" stroke-width="0.5"/><circle cx="257.7" cy="306.3" r="2.30" fill="#0CA0E4" stroke="#0A82C2" stroke-width="0.5"/><circle cx="278.0" cy="348.4" r="2.30" fill="#F8F200" stroke="#CEC400" stroke-width="0.55"/><circle cx="287.1" cy="342.7" r="2.30" fill="#0CA0E4" stroke="#0A82C2" stroke-width="0.5"/><circle cx="289.8" cy="341.8" r="2.30" fill="#0CA0E4" stroke="#0A82C2" stroke-width="0.5"/><circle cx="272.7" cy="339.2" r="2.30" fill="#F8F200" stroke="#CEC400" stroke-width="0.55"/><circle cx="294.2" cy="342.8" r="2.30" fill="#0CA0E4" stroke="#0A82C2" stroke-width="0.5"/><circle cx="270.4" cy="369.7" r="2.30" fill="#0CA0E4" stroke="#0A82C2" stroke-width="0.5"/><circle cx="275.6" cy="339.1" r="2.30" fill="#F8F200" stroke="#CEC400" stroke-width="0.55"/><circle cx="280.6" cy="317.3" r="2.30" fill="#F8F200" stroke="#CEC400" stroke-width="0.55"/><circle cx="280.8" cy="345.0" r="2.30" fill="#F8F200" stroke="#CEC400" stroke-width="0.55"/><circle cx="260.0" cy="331.7" r="2.30" fill="#F8F200" stroke="#CEC400" stroke-width="0.55"/><circle cx="291.4" cy="345.3" r="2.30" fill="#F8F200" stroke="#CEC400" stroke-width="0.55"/><circle cx="264.1" cy="317.1" r="2.30" fill="#0CA0E4" stroke="#0A82C2" stroke-width="0.5"/><circle cx="276.3" cy="359.4" r="2.30" fill="#F8F200" stroke="#CEC400" stroke-width="0.55"/><circle cx="294.5" cy="294.0" r="2.30" fill="#F8F200" stroke="#CEC400" stroke-width="0.55"/><circle cx="292.4" cy="310.9" r="2.30" fill="#0CA0E4" stroke="#0A82C2" stroke-width="0.5"/><circle cx="285.1" cy="307.6" r="2.30" fill="#F8F200" stroke="#CEC400" stroke-width="0.55"/><circle cx="283.6" cy="290.0" r="2.30" fill="#0CA0E4" stroke="#0A82C2" stroke-width="0.5"/><circle cx="267.3" cy="310.4" r="2.30" fill="#F8F200" stroke="#CEC400" stroke-width="0.55"/><circle cx="259.1" cy="346.2" r="2.30" fill="#0CA0E4" stroke="#0A82C2" stroke-width="0.5"/><circle cx="274.7" cy="307.7" r="2.30" fill="#0CA0E4" stroke="#0A82C2" stroke-width="0.5"/><circle cx="288.4" cy="338.8" r="2.30" fill="#0CA0E4" stroke="#0A82C2" stroke-width="0.5"/><circle cx="280.6" cy="302.7" r="2.30" fill="#F8F200" stroke="#CEC400" stroke-width="0.55"/><circle cx="275.8" cy="296.4" r="2.30" fill="#F8F200" stroke="#CEC400" stroke-width="0.55"/><circle cx="279.5" cy="373.6" r="2.30" fill="#0CA0E4" stroke="#0A82C2" stroke-width="0.5"/><circle cx="265.0" cy="320.4" r="2.30" fill="#F8F200" stroke="#CEC400" stroke-width="0.55"/><circle cx="284.5" cy="345.3" r="2.30" fill="#0CA0E4" stroke="#0A82C2" stroke-width="0.5"/><circle cx="265.5" cy="369.5" r="2.30" fill="#F8F200" stroke="#CEC400" stroke-width="0.55"/><circle cx="283.4" cy="311.5" r="2.30" fill="#0CA0E4" stroke="#0A82C2" stroke-width="0.5"/><circle cx="263.5" cy="297.3" r="2.30" fill="#0CA0E4" stroke="#0A82C2" stroke-width="0.5"/><circle cx="272.4" cy="344.2" r="2.30" fill="#0CA0E4" stroke="#0A82C2" stroke-width="0.5"/><circle cx="287.0" cy="302.6" r="2.30" fill="#F8F200" stroke="#CEC400" stroke-width="0.55"/><circle cx="270.2" cy="293.4" r="2.30" fill="#0CA0E4" stroke="#0A82C2" stroke-width="0.5"/><circle cx="269.1" cy="297.3" r="2.30" fill="#0CA0E4" stroke="#0A82C2" stroke-width="0.5"/><circle cx="291.3" cy="289.1" r="2.30" fill="#0CA0E4" stroke="#0A82C2" stroke-width="0.5"/><circle cx="276.7" cy="365.2" r="2.30" fill="#F8F200" stroke="#CEC400" stroke-width="0.55"/><circle cx="294.6" cy="383.8" r="2.30" fill="#0CA0E4" stroke="#0A82C2" stroke-width="0.5"/><circle cx="282.6" cy="341.8" r="2.30" fill="#F8F200" stroke="#CEC400" stroke-width="0.55"/><circle cx="270.8" cy="348.3" r="2.30" fill="#F8F200" stroke="#CEC400" stroke-width="0.55"/><circle cx="280.8" cy="339.4" r="2.30" fill="#0CA0E4" stroke="#0A82C2" stroke-width="0.5"/><circle cx="285.0" cy="374.2" r="2.30" fill="#0CA0E4" stroke="#0A82C2" stroke-width="0.5"/><circle cx="256.3" cy="316.6" r="2.30" fill="#0CA0E4" stroke="#0A82C2" stroke-width="0.5"/><circle cx="265.0" cy="303.9" r="2.30" fill="#0CA0E4" stroke="#0A82C2" stroke-width="0.5"/><circle cx="289.0" cy="292.3" r="2.30" fill="#F8F200" stroke="#CEC400" stroke-width="0.55"/><circle cx="287.9" cy="297.6" r="2.30" fill="#0CA0E4" stroke="#0A82C2" stroke-width="0.5"/><circle cx="291.8" cy="295.8" r="2.30" fill="#F8F200" stroke="#CEC400" stroke-width="0.55"/><circle cx="290.5" cy="384.2" r="2.30" fill="#0CA0E4" stroke="#0A82C2" stroke-width="0.5"/><circle cx="257.5" cy="313.7" r="2.30" fill="#0CA0E4" stroke="#0A82C2" stroke-width="0.5"/><circle cx="267.3" cy="332.0" r="2.30" fill="#F8F200" stroke="#CEC400" stroke-width="0.55"/><circle cx="289.9" cy="363.7" r="2.30" fill="#0CA0E4" stroke="#0A82C2" stroke-width="0.5"/><circle cx="293.0" cy="351.5" r="2.30" fill="#0CA0E4" stroke="#0A82C2" stroke-width="0.5"/><circle cx="269.1" cy="307.8" r="2.30" fill="#0CA0E4" stroke="#0A82C2" stroke-width="0.5"/><circle cx="292.5" cy="323.6" r="2.30" fill="#0CA0E4" stroke="#0A82C2" stroke-width="0.5"/><circle cx="278.7" cy="326.9" r="2.30" fill="#0CA0E4" stroke="#0A82C2" stroke-width="0.5"/><circle cx="268.8" cy="328.7" r="2.30" fill="#0CA0E4" stroke="#0A82C2" stroke-width="0.5"/><circle cx="294.3" cy="320.1" r="2.30" fill="#0CA0E4" stroke="#0A82C2" stroke-width="0.5"/><circle cx="259.4" cy="338.6" r="2.30" fill="#0CA0E4" stroke="#0A82C2" stroke-width="0.5"/><circle cx="267.8" cy="373.8" r="2.30" fill="#0CA0E4" stroke="#0A82C2" stroke-width="0.5"/><circle cx="277.4" cy="300.8" r="2.30" fill="#0CA0E4" stroke="#0A82C2" stroke-width="0.5"/><circle cx="284.6" cy="318.0" r="2.30" fill="#0CA0E4" stroke="#0A82C2" stroke-width="0.5"/><circle cx="262.6" cy="377.5" r="2.30" fill="#0CA0E4" stroke="#0A82C2" stroke-width="0.5"/><circle cx="270.6" cy="299.4" r="2.30" fill="#0CA0E4" stroke="#0A82C2" stroke-width="0.5"/><circle cx="269.8" cy="334.4" r="2.30" fill="#0CA0E4" stroke="#0A82C2" stroke-width="0.5"/><circle cx="295.0" cy="354.9" r="2.30" fill="#0CA0E4" stroke="#0A82C2" stroke-width="0.5"/><circle cx="283.3" cy="359.2" r="2.30" fill="#0CA0E4" stroke="#0A82C2" stroke-width="0.5"/><circle cx="261.4" cy="299.8" r="2.30" fill="#0CA0E4" stroke="#0A82C2" stroke-width="0.5"/><circle cx="274.0" cy="369.2" r="2.30" fill="#0CA0E4" stroke="#0A82C2" stroke-width="0.5"/><circle cx="259.9" cy="303.9" r="2.30" fill="#0CA0E4" stroke="#0A82C2" stroke-width="0.5"/><circle cx="268.0" cy="346.3" r="2.30" fill="#0CA0E4" stroke="#0A82C2" stroke-width="0.5"/><circle cx="280.4" cy="379.5" r="2.30" fill="#F8F200" stroke="#CEC400" stroke-width="0.55"/><circle cx="292.5" cy="374.0" r="2.30" fill="#F8F200" stroke="#CEC400" stroke-width="0.55"/><circle cx="271.3" cy="302.9" r="2.30" fill="#0CA0E4" stroke="#0A82C2" stroke-width="0.5"/><circle cx="278.3" cy="384.6" r="2.30" fill="#0CA0E4" stroke="#0A82C2" stroke-width="0.5"/><circle cx="274.6" cy="349.7" r="2.30" fill="#0CA0E4" stroke="#0A82C2" stroke-width="0.5"/><circle cx="273.4" cy="356.2" r="2.30" fill="#0CA0E4" stroke="#0A82C2" stroke-width="0.5"/><circle cx="289.1" cy="310.1" r="2.30" fill="#0CA0E4" stroke="#0A82C2" stroke-width="0.5"/><circle cx="265.9" cy="292.0" r="2.30" fill="#0CA0E4" stroke="#0A82C2" stroke-width="0.5"/><circle cx="289.8" cy="314.5" r="2.30" fill="#F8F200" stroke="#CEC400" stroke-width="0.55"/><circle cx="273.5" cy="362.8" r="2.30" fill="#F8F200" stroke="#CEC400" stroke-width="0.55"/><circle cx="268.2" cy="288.9" r="2.30" fill="#F8F200" stroke="#CEC400" stroke-width="0.55"/><circle cx="294.8" cy="377.7" r="2.30" fill="#F8F200" stroke="#CEC400" stroke-width="0.55"/></g><line x1="228.80" y1="382.70" x2="293.60" y2="382.70" stroke="#000" stroke-width="2"/><path d="M293.60,288.00 L51.30,288.00 L51.30,483.00 L293.60,483.00" stroke="#000" stroke-width="2.30" fill="none" stroke-linecap="square"/><line x1="293.60" y1="286.85" x2="293.60" y2="484.15" stroke="#00008B" stroke-width="2.30"/><g fill="none" stroke-linejoin="round" stroke-linecap="round"><path d="M51.3,308.4 L51.4,304.5 L51.5,301.0 L51.6,298.1 L51.7,295.6 L51.8,293.6 L51.9,292.1 L52.0,291.1 L52.1,290.6 L52.2,290.6 L52.3,291.1 L52.4,292.1 L52.5,293.6 L52.6,295.6 L52.7,298.1 L52.8,301.0 L52.9,304.5 L53.0,308.4 L53.1,312.7 L53.2,317.5 L53.3,322.7 L53.4,328.4 L53.5,334.4 L53.6,340.8 L53.7,347.6 L53.8,354.8 L53.9,362.2 L54.0,370.0 L54.1,378.1 L54.2,386.4 L54.3,395.0 L54.4,403.9 L54.5,412.9 L54.6,422.1 L54.7,431.4 L54.8,440.9 L54.9,450.4 L55.0,460.1 L55.1,469.8 L55.2,479.5 L55.3,470.1 L55.4,460.8 L55.5,451.4 L55.6,442.2 L55.7,433.0 L55.8,424.0 L55.9,415.1 L56.0,406.3 L56.0,397.7 L56.1,389.4 L56.2,381.2 L56.3,373.3 L56.4,365.7 L56.5,358.4 L56.6,351.3 L56.7,344.6 L56.8,338.2 L56.9,332.2 L57.0,326.5 L57.1,321.2 L57.2,316.3 L57.3,311.8 L57.4,307.7 L57.5,304.1 L57.6,300.9 L57.7,298.1 L57.8,295.8 L57.9,293.9 L58.0,292.5 L58.1,291.6 L58.2,291.1 L58.3,291.1 L58.4,291.6 L58.5,292.5 L58.6,293.9 L58.7,295.8 L58.8,298.1 L58.9,300.9 L59.0,304.1 L59.1,307.7 L59.2,311.8 L59.2,316.3 L59.3,321.2 L59.4,326.5 L59.5,332.2 L59.6,338.2 L59.7,344.6 L59.8,351.3 L59.9,358.4 L60.0,365.7 L60.1,373.3 L60.2,381.2 L60.3,389.4 L60.4,397.7 L60.5,406.3 L60.6,415.1 L60.7,424.0 L60.8,433.0 L60.9,442.2 L61.0,451.4 L61.1,460.8 L61.2,470.1 L61.3,479.5 L61.4,470.3 L61.5,461.2 L61.6,452.0 L61.7,443.0 L61.8,434.0 L61.9,425.1 L62.0,416.4 L62.1,407.8 L62.2,399.4 L62.3,391.2 L62.4,383.2 L62.5,375.4 L62.6,367.9 L62.7,360.7 L62.7,353.7 L62.8,347.0 L62.9,340.7 L63.0,334.7 L63.1,329.0 L63.2,323.7 L63.3,318.8 L63.4,314.3 L63.5,310.1 L63.6,306.4 L63.7,303.1 L63.8,300.2 L63.9,297.8 L64.0,295.8 L64.1,294.2 L64.2,293.1 L64.3,292.4 L64.4,292.2 L64.5,292.4 L64.6,293.1 L64.7,294.2 L64.8,295.8 L64.9,297.8 L65.0,300.2 L65.1,303.1 L65.2,306.4 L65.3,310.1 L65.4,314.3 L65.5,318.8 L65.6,323.7 L65.7,329.0 L65.8,334.7 L65.9,340.7 L66.0,347.0 L66.1,353.7 L66.2,360.7 L66.3,367.9 L66.4,375.4 L66.5,383.2 L66.6,391.2 L66.7,399.4 L66.8,407.8 L66.9,416.4 L66.9,425.1 L67.0,434.0 L67.1,443.0 L67.2,452.0 L67.3,461.2 L67.4,470.3 L67.5,479.5 L67.6,470.4 L67.7,461.2 L67.8,452.1 L67.9,443.1 L68.0,434.2 L68.1,425.4 L68.2,416.7 L68.3,408.1 L68.4,399.8 L68.5,391.6 L68.6,383.6 L68.7,375.9 L68.8,368.4 L68.9,361.2 L69.0,354.2 L69.1,347.6 L69.2,341.3 L69.3,335.3 L69.4,329.7 L69.5,324.4 L69.6,319.5 L69.7,315.0 L69.8,310.9 L69.9,307.2 L70.0,303.9 L70.1,301.0 L70.2,298.6 L70.3,296.5 L70.4,295.0 L70.5,293.9 L70.6,293.2 L70.7,293.0 L70.8,293.2 L70.9,293.9 L71.0,295.0 L71.1,296.5 L71.1,298.6 L71.2,301.0 L71.3,303.9 L71.4,307.2 L71.5,310.9 L71.6,315.0 L71.7,319.5 L71.8,324.4 L71.9,329.7 L72.0,335.3 L72.1,341.3 L72.2,347.6 L72.3,354.2 L72.4,361.2 L72.5,368.4 L72.6,375.9 L72.7,383.6 L72.8,391.6 L72.9,399.8 L73.0,408.1 L73.1,416.7 L73.2,425.4 L73.3,434.2 L73.4,443.1 L73.5,452.1 L73.6,461.2 L73.7,470.4 L73.8,479.5 L73.9,470.6 L74.0,461.6 L74.1,452.7 L74.2,443.9 L74.3,435.1 L74.4,426.5 L74.5,418.0 L74.6,409.6 L74.7,401.4 L74.8,393.3 L74.9,385.5 L75.0,377.9 L75.1,370.5 L75.2,363.4 L75.3,356.6 L75.3,350.0 L75.4,343.7 L75.5,337.8 L75.6,332.2 L75.7,326.9 L75.8,322.0 L75.9,317.5 L76.0,313.3 L76.1,309.5 L76.2,306.1 L76.3,303.2 L76.4,300.6 L76.5,298.4 L76.6,296.7 L76.7,295.4 L76.8,294.6 L76.9,294.1 L77.0,294.1 L77.1,294.6 L77.2,295.4 L77.3,296.7 L77.4,298.4 L77.5,300.6 L77.6,303.2 L77.7,306.1 L77.8,309.5 L77.9,313.3 L78.0,317.5 L78.1,322.0 L78.2,326.9 L78.3,332.2 L78.4,337.8 L78.5,343.7 L78.6,350.0 L78.7,356.6 L78.8,363.4 L78.9,370.5 L79.0,377.9 L79.1,385.5 L79.2,393.3 L79.3,401.4 L79.4,409.6 L79.5,418.0 L79.5,426.5 L79.6,435.1 L79.7,443.9 L79.8,452.7 L79.9,461.6 L80.0,470.6 L80.1,479.5 L80.2,470.5 L80.3,461.5 L80.4,452.6 L80.5,443.7 L80.6,434.9 L80.7,426.2 L80.8,417.6 L80.9,409.2 L81.0,401.0 L81.1,392.9 L81.2,385.1 L81.3,377.5 L81.4,370.1 L81.5,363.0 L81.6,356.2 L81.7,349.6 L81.8,343.4 L81.9,337.5 L82.0,332.0 L82.1,326.8 L82.2,322.0 L82.3,317.5 L82.4,313.5 L82.5,309.8 L82.6,306.6 L82.7,303.7 L82.8,301.3 L82.9,299.4 L83.0,297.8 L83.1,296.7 L83.2,296.1 L83.3,295.8 L83.4,296.1 L83.5,296.7 L83.6,297.8 L83.7,299.4 L83.7,301.3 L83.8,303.7 L83.9,306.6 L84.0,309.8 L84.1,313.5 L84.2,317.5 L84.3,322.0 L84.4,326.8 L84.5,332.0 L84.6,337.5 L84.7,343.4 L84.8,349.6 L84.9,356.2 L85.0,363.0 L85.1,370.1 L85.2,377.5 L85.3,385.1 L85.4,392.9 L85.5,401.0 L85.6,409.2 L85.7,417.6 L85.8,426.2 L85.9,434.9 L86.0,443.7 L86.1,452.6 L86.2,461.5 L86.3,470.5 L86.4,479.5 L86.5,470.7 L86.6,461.8 L86.7,453.0 L86.8,444.3 L86.9,435.6 L87.0,427.1 L87.1,418.7 L87.2,410.4 L87.3,402.3 L87.4,394.4 L87.5,386.7 L87.6,379.2 L87.7,371.9 L87.8,364.9 L87.9,358.2 L88.0,351.8 L88.1,345.7 L88.2,339.9 L88.3,334.4 L88.4,329.3 L88.5,324.6 L88.6,320.2 L88.6,316.2 L88.7,312.6 L88.8,309.4 L88.9,306.7 L89.0,304.3 L89.1,302.4 L89.2,300.8 L89.3,299.7 L89.4,299.1 L89.5,298.9 L89.6,299.1 L89.7,299.7 L89.8,300.8 L89.9,302.4 L90.0,304.3 L90.1,306.7 L90.2,309.4 L90.3,312.6 L90.4,316.2 L90.5,320.2 L90.6,324.6 L90.7,329.3 L90.8,334.4 L90.9,339.9 L91.0,345.7 L91.1,351.8 L91.2,358.2 L91.3,364.9 L91.4,371.9 L91.5,379.2 L91.6,386.7 L91.7,394.4 L91.8,402.3 L91.9,410.4 L92.0,418.7 L92.1,427.1 L92.2,435.6 L92.3,444.3 L92.4,453.0 L92.5,461.8 L92.6,470.7 L92.7,479.5 L92.8,471.0 L92.9,462.5 L93.0,454.1 L93.1,445.7 L93.2,437.4 L93.3,429.2 L93.4,421.2 L93.5,413.2 L93.6,405.5 L93.7,397.9 L93.8,390.5 L93.8,383.3 L93.9,376.4 L94.0,369.7 L94.1,363.2 L94.2,357.0 L94.3,351.2 L94.4,345.6 L94.5,340.3 L94.6,335.4 L94.7,330.8 L94.8,326.5 L94.9,322.6 L95.0,319.1 L95.1,315.9 L95.2,313.1 L95.3,310.7 L95.4,308.7 L95.5,307.1 L95.6,305.9 L95.7,305.1 L95.8,304.7 L95.9,304.7 L96.0,305.1 L96.1,305.9 L96.2,307.1 L96.3,308.7 L96.4,310.7 L96.5,313.1 L96.6,315.8 L96.7,319.0 L96.8,322.5 L96.9,326.3 L96.9,330.5 L97.0,335.1 L97.1,339.9 L97.2,345.1 L97.3,350.6 L97.4,356.4 L97.5,362.4 L97.6,368.7 L97.7,375.3 L97.8,382.1 L97.9,389.1 L98.0,396.3 L98.1,403.7 L98.2,411.2 L98.3,418.9 L98.4,426.7 L98.5,434.6 L98.6,442.6 L98.7,450.7 L98.8,458.9 L98.9,467.0 L99.0,475.2 L99.1,469.4 L99.2,463.6 L99.3,457.9 L99.4,452.2 L99.5,446.7 L99.6,441.3 L99.7,436.0 L99.8,430.8 L99.9,425.8 L100.0,420.9 L100.1,416.2 L100.1,411.7 L100.2,407.3 L100.3,403.2 L100.4,399.2 L100.5,395.5 L100.6,391.9 L100.7,388.6 L100.8,385.5 L100.9,382.6 L101.0,380.0 L101.1,377.6 L101.2,375.4 L101.3,373.5 L101.4,371.8 L101.5,370.3 L101.6,369.1 L101.7,368.2 L101.8,367.5 L101.9,367.0 L102.0,366.7 L102.1,366.7 L102.2,367.0 L102.3,367.4 L102.4,368.1 L102.5,369.0 L102.6,370.1 L102.7,371.5 L102.8,373.0 L102.9,374.7 L103.0,376.6 L103.1,378.7 L103.2,380.9 L103.2,383.3 L103.3,385.9 L103.4,388.6 L103.5,391.4 L103.6,394.4 L103.7,397.5 L103.8,400.6 L103.9,403.9 L104.0,407.3 L104.1,410.7 L104.2,414.2 L104.3,417.7 L104.4,421.3 L104.5,424.8 L104.6,428.5 L104.7,432.1 L104.8,435.7 L104.9,439.3 L105.0,442.9 L105.1,446.4 L105.1,446.4 L105.3,446.4 L105.5,446.5 L105.7,446.6 L105.9,446.8 L106.1,447.0 L106.3,447.2 L106.5,447.4 L106.7,447.6 L106.9,447.8 L107.1,447.9 L107.3,448.0 L107.5,448.0 L107.7,448.0 L107.9,447.9 L108.1,447.7 L108.3,447.5 L108.5,447.2 L108.7,446.9 L108.9,446.6 L109.1,446.2 L109.3,445.9 L109.5,445.6 L109.6,445.3 L109.8,445.1 L110.0,444.9 L110.2,444.8 L110.4,444.8 L110.6,444.7 L110.8,444.4 L111.0,443.9 L111.2,443.2 L111.4,442.4 L111.6,441.6 L111.8,440.8 L112.0,440.0 L112.2,439.3 L112.4,438.8 L112.6,438.5 L112.8,438.4 L113.0,438.7 L113.2,439.6 L113.4,441.1 L113.7,443.0 L113.9,445.2 L114.1,447.5 L114.3,449.9 L114.5,452.1 L114.7,454.0 L114.9,455.4 L115.1,456.3 L115.3,456.6 L115.5,456.6 L115.7,456.5 L115.9,456.3 L116.1,456.0 L116.3,455.8 L116.6,455.6 L116.8,455.4 L117.0,455.2 L117.2,455.2 L117.4,455.2 L117.6,455.1 L117.9,455.0 L118.1,454.9 L118.3,454.7 L118.5,454.6 L118.7,454.5 L118.9,454.4 L119.1,454.4 L119.3,454.2 L119.5,453.7 L119.7,452.8 L119.9,451.7 L120.1,450.3 L120.3,448.7 L120.5,447.0 L120.7,445.3 L120.9,443.6 L121.1,442.0 L121.3,440.6 L121.5,439.5 L121.7,438.6 L121.9,438.1 L122.1,437.9 L122.3,438.0 L122.5,438.3 L122.7,438.8 L122.9,439.5 L123.1,440.3 L123.3,441.2 L123.5,442.3 L123.7,443.4 L123.9,444.6 L124.1,445.8 L124.3,447.0 L124.5,448.1 L124.7,449.2 L124.9,450.1 L125.1,450.9 L125.2,451.6 L125.4,452.1 L125.6,452.4 L125.8,452.5 L126.0,452.4 L126.2,452.3 L126.4,452.2 L126.6,452.0 L126.9,451.7 L127.1,451.4 L127.3,451.1 L127.5,450.7 L127.7,450.3 L127.9,449.9 L128.1,449.6 L128.3,449.2 L128.5,448.9 L128.7,448.7 L128.9,448.4 L129.1,448.3 L129.3,448.2 L129.5,448.2 L129.7,448.3 L129.9,448.6 L130.1,449.1 L130.3,449.9 L130.5,450.7 L130.7,451.7 L130.9,452.7 L131.1,453.8 L131.3,454.9 L131.5,455.8 L131.6,456.7 L131.8,457.4 L132.0,458.0 L132.2,458.3 L132.4,458.4 L132.6,458.3 L132.8,458.0 L133.0,457.4 L133.2,456.7 L133.4,455.8 L133.6,454.9 L133.8,453.8 L134.0,452.7 L134.2,451.7 L134.4,450.7 L134.6,449.9 L134.7,449.1 L134.9,448.6 L135.1,448.3 L135.3,448.2 L135.5,448.2 L135.7,448.4 L135.9,448.7 L136.1,449.2 L136.4,449.7 L136.6,450.4 L136.8,451.1 L137.0,451.8 L137.2,452.6 L137.4,453.3 L137.6,454.1 L137.8,454.8 L138.0,455.4 L138.2,455.9 L138.4,456.4 L138.6,456.7 L138.8,456.9 L139.0,457.0 L139.2,456.9 L139.4,456.6 L139.6,456.2 L139.8,455.6 L140.0,455.0 L140.2,454.2 L140.4,453.4 L140.6,452.5 L140.8,451.7 L141.0,451.0 L141.1,450.3 L141.3,449.7 L141.5,449.3 L141.7,449.0 L141.9,449.0 L142.1,449.0 L142.3,449.0 L142.5,449.1 L142.7,449.2 L142.9,449.3 L143.1,449.4 L143.3,449.6 L143.5,449.8 L143.7,450.0 L143.9,450.2 L144.1,450.5 L144.3,450.8 L144.5,451.1 L144.7,451.4 L144.9,451.7 L145.1,452.0 L145.3,452.4 L145.5,452.8 L145.7,453.1 L145.9,453.5 L146.1,453.9 L146.3,454.3 L146.5,454.7 L146.7,455.1 L146.9,455.5 L147.1,455.9 L147.3,456.3 L147.5,456.7 L147.7,457.1 L147.9,457.5 L148.1,457.8 L148.3,458.2 L148.5,458.5 L148.6,458.9 L148.8,459.2 L149.0,459.5 L149.2,459.8 L149.4,460.0 L149.6,460.2 L149.8,460.5 L150.0,460.6 L150.2,460.8 L150.4,461.0 L150.6,461.1 L150.8,461.2 L151.0,461.2 L151.2,461.3 L151.4,461.3 L151.6,461.3 L151.8,461.2 L152.0,461.1 L152.2,461.0 L152.4,460.8 L152.6,460.6 L152.8,460.4 L153.0,460.2 L153.2,459.9 L153.4,459.6 L153.6,459.2 L153.7,458.9 L153.9,458.5 L154.1,458.1 L154.3,457.6 L154.5,457.2 L154.7,456.8 L154.9,456.3 L155.1,455.8 L155.3,455.4 L155.5,454.9 L155.7,454.4 L155.9,453.9 L156.1,453.5 L156.3,453.0 L156.5,452.6 L156.7,452.2 L156.8,451.8 L157.0,451.4 L157.2,451.0 L157.4,450.7 L157.6,450.4 L157.8,450.1 L158.0,449.8 L158.2,449.6 L158.4,449.4 L158.6,449.2 L158.8,449.1 L159.0,449.0 L159.2,449.0 L159.4,449.0 L159.6,449.0 L159.8,449.2 L160.0,449.5 L160.2,449.9 L160.4,450.4 L160.6,451.1 L160.7,451.8 L160.9,452.6 L161.1,453.4 L161.3,454.3 L161.5,455.3 L161.7,456.3 L161.9,457.3 L162.1,458.3 L162.3,459.3 L162.5,460.2 L162.7,461.1 L162.9,462.0 L163.1,462.8 L163.3,463.5 L163.5,464.1 L163.7,464.6 L163.9,465.1 L164.1,465.4 L164.3,465.5 L164.5,465.6 L164.7,465.5 L164.9,465.3 L165.1,465.0 L165.3,464.6 L165.5,464.0 L165.7,463.3 L165.9,462.6 L166.1,461.8 L166.3,460.9 L166.5,460.0 L166.7,459.0 L166.9,458.1 L167.1,457.2 L167.3,456.3 L167.5,455.5 L167.7,454.7 L167.9,454.1 L168.1,453.5 L168.3,453.1 L168.5,452.7 L168.7,452.5 L168.9,452.5 L169.1,452.7 L169.3,453.2 L169.5,454.1 L169.7,455.3 L169.9,456.6 L170.1,458.0 L170.3,459.3 L170.5,460.4 L170.7,461.3 L170.9,461.9 L171.1,462.1 L171.3,462.0 L171.5,461.8 L171.7,461.4 L171.9,460.9 L172.1,460.2 L172.3,459.5 L172.4,458.8 L172.6,458.0 L172.8,457.3 L173.0,456.6 L173.2,455.9 L173.4,455.4 L173.6,455.0 L173.8,454.8 L174.0,454.7 L174.2,454.7 L174.4,454.8 L174.6,455.0 L174.8,455.1 L175.0,455.4 L175.2,455.6 L175.4,456.0 L175.6,456.3 L175.8,456.7 L176.0,457.2 L176.2,457.6 L176.4,458.1 L176.6,458.6 L176.8,459.2 L177.0,459.7 L177.2,460.3 L177.4,460.8 L177.6,461.4 L177.8,461.9 L178.0,462.5 L178.2,463.0 L178.4,463.5 L178.6,463.9 L178.8,464.4 L179.0,464.8 L179.2,465.2 L179.4,465.5 L179.6,465.8 L179.8,466.0 L180.0,466.2 L180.2,466.3 L180.4,466.4 L180.6,466.4 L180.8,466.4 L181.0,466.4 L181.2,466.3 L181.4,466.3 L181.6,466.2 L181.8,466.1 L182.0,466.0 L182.2,465.9 L182.4,465.8 L182.5,465.7 L182.7,465.5 L182.9,465.4 L183.1,465.2 L183.3,465.1 L183.5,464.9 L183.7,464.7 L183.9,464.5 L184.1,464.3 L184.3,464.0 L184.5,463.8 L184.7,463.6 L184.9,463.4 L185.1,463.1 L185.3,462.9 L185.5,462.6 L185.7,462.4 L185.9,462.2 L186.1,461.9 L186.3,461.7 L186.5,461.4 L186.7,461.2 L186.9,461.0 L187.0,460.8 L187.2,460.5 L187.4,460.3 L187.6,460.1 L187.8,459.9 L188.0,459.7 L188.2,459.6 L188.4,459.4 L188.6,459.3 L188.8,459.1 L189.0,459.0 L189.2,458.9 L189.4,458.8 L189.6,458.7 L189.8,458.6 L190.0,458.5 L190.2,458.5 L190.4,458.4 L190.6,458.4 L190.8,458.4 L191.0,458.4 L191.2,458.6 L191.4,458.8 L191.6,459.0 L191.8,459.4 L192.0,459.7 L192.2,460.2 L192.4,460.6 L192.6,461.1 L192.8,461.6 L193.0,462.1 L193.2,462.5 L193.4,463.0 L193.6,463.4 L193.8,463.7 L194.0,464.0 L194.1,464.2 L194.3,464.3 L194.5,464.3 L194.7,464.2 L194.9,464.0 L195.2,463.5 L195.4,462.9 L195.6,462.2 L195.8,461.5 L196.0,460.6 L196.2,459.8 L196.4,459.0 L196.6,458.3 L196.8,457.8 L197.0,457.3 L197.2,457.1 L197.4,457.0 L197.6,457.0 L197.8,457.2 L198.0,457.6 L198.2,458.1 L198.4,458.6 L198.6,459.3 L198.8,460.1 L199.0,460.9 L199.2,461.7 L199.4,462.5 L199.6,463.3 L199.8,464.0 L200.0,464.7 L200.2,465.3 L200.4,465.8 L200.6,466.1 L200.8,466.3 L201.0,466.4 L201.2,466.3 L201.4,466.0 L201.6,465.4 L201.8,464.7 L202.0,463.9 L202.2,462.9 L202.4,461.9 L202.6,460.9 L202.8,460.0 L203.0,459.1 L203.2,458.4 L203.5,457.9 L203.7,457.6 L203.9,457.4 L204.1,457.5 L204.2,457.8 L204.4,458.2 L204.6,458.8 L204.8,459.5 L205.0,460.3 L205.2,461.2 L205.4,462.2 L205.6,463.2 L205.8,464.3 L206.0,465.3 L206.2,466.3 L206.4,467.2 L206.6,468.0 L206.8,468.7 L207.0,469.3 L207.2,469.7 L207.4,470.0 L207.6,470.1 L207.8,470.0 L208.0,469.8 L208.2,469.6 L208.4,469.2 L208.6,468.7 L208.8,468.2 L209.0,467.6 L209.2,466.9 L209.4,466.2 L209.6,465.6 L209.8,464.9 L210.0,464.3 L210.2,463.8 L210.4,463.3 L210.6,462.9 L210.8,462.6 L211.0,462.5 L211.2,462.4 L211.4,462.4 L211.6,462.3 L211.8,462.3 L212.0,462.2 L212.2,462.1 L212.4,462.0 L212.6,461.8 L212.8,461.7 L213.0,461.5 L213.2,461.3 L213.4,461.1 L213.6,460.9 L213.8,460.8 L214.0,460.6 L214.2,460.4 L214.4,460.3 L214.6,460.2 L214.8,460.0 L215.0,460.0 L215.2,459.9 L215.4,459.9 L215.6,459.8 L215.8,459.9 L216.0,460.1 L216.2,460.5 L216.4,460.9 L216.6,461.5 L216.8,462.1 L217.0,462.8 L217.2,463.5 L217.4,464.3 L217.6,465.0 L217.8,465.7 L218.0,466.4 L218.2,466.9 L218.4,467.4 L218.6,467.7 L218.8,467.9 L219.0,468.0 L219.2,468.0 L219.4,467.8 L219.6,467.6 L219.8,467.2 L220.0,466.8 L220.2,466.4 L220.4,465.8 L220.6,465.3 L220.8,464.7 L221.0,464.1 L221.2,463.5 L221.4,463.0 L221.6,462.4 L221.8,462.0 L222.0,461.6 L222.2,461.2 L222.4,461.0 L222.6,460.8 L222.8,460.8 L223.0,460.8 L223.2,461.0 L223.4,461.2 L223.6,461.5 L223.8,461.9 L224.0,462.4 L224.2,462.9 L224.4,463.5 L224.6,464.0 L224.8,464.6 L225.0,465.2 L225.2,465.8 L225.4,466.4 L225.6,466.9 L225.8,467.4 L225.9,467.7 L226.1,468.1 L226.3,468.3 L226.5,468.4 L226.7,468.5 L226.9,468.4 L227.1,468.3 L227.3,468.1 L227.5,467.9 L227.7,467.6 L227.9,467.2 L228.2,466.8 L228.4,466.3 L228.6,465.8 L228.8,465.4 L229.0,464.9 L229.2,464.4 L229.4,464.0 L229.6,463.6 L229.8,463.3 L230.0,463.1 L230.2,462.9 L230.4,462.8 L230.6,462.7 L230.8,462.8 L231.0,462.9 L231.2,463.2 L231.4,463.5 L231.6,464.0 L231.8,464.5 L232.0,465.0 L232.2,465.6 L232.4,466.2 L232.6,466.9 L232.8,467.5 L233.1,468.1 L233.3,468.7 L233.5,469.2 L233.7,469.6 L233.9,469.9 L234.1,470.2 L234.3,470.3 L234.5,470.4 L234.7,470.3 L234.9,470.1 L235.1,469.8 L235.3,469.4 L235.4,468.9 L235.6,468.3 L235.8,467.7 L236.0,467.0 L236.2,466.4 L236.4,465.8 L236.6,465.3 L236.8,464.9 L237.0,464.6 L237.2,464.4 L237.4,464.3 L237.6,464.4 L237.8,464.7 L238.0,465.1 L238.2,465.7 L238.4,466.4 L238.6,467.2 L238.8,468.2 L239.0,469.1 L239.2,470.1 L239.4,471.0 L239.6,472.0 L239.8,472.8 L240.0,473.5 L240.2,474.1 L240.4,474.5 L240.6,474.8 L240.8,474.9 L241.0,474.9 L241.2,475.0 L241.4,475.1 L241.6,475.3 L241.7,475.4 L241.9,475.7 L242.1,475.9 L242.3,476.1 L242.5,476.3 L242.7,476.6 L242.9,476.7 L243.1,476.9 L243.3,477.0 L243.5,477.1 L243.7,477.1 L243.9,477.1 L244.1,477.1 L244.3,477.2 L244.5,477.2 L244.7,477.2 L244.9,477.3 L245.1,477.3 L245.3,477.4 L245.5,477.5 L245.7,477.5 L245.9,477.6 L246.1,477.7 L246.3,477.7 L246.5,477.8 L246.7,477.9 L246.9,477.9 L247.1,478.0 L247.3,478.0 L247.5,478.0 L247.7,478.1 L247.8,478.1 L248.0,478.1 L248.2,478.1 L248.4,478.1 L248.6,478.1 L248.8,478.2 L249.0,478.2 L249.2,478.3 L249.4,478.3 L249.6,478.4 L249.8,478.5 L250.0,478.6 L250.2,478.7 L250.4,478.8 L250.6,478.8 L250.8,478.9 L251.0,479.0 L251.1,479.1 L251.3,479.2 L251.5,479.3 L251.7,479.3 L251.9,479.4 L252.1,479.4 L252.3,479.5 L252.5,479.5 L252.7,479.5 L252.9,479.5 L253.1,479.5 L253.3,479.5 L253.5,479.5 L253.7,479.6 L253.9,479.6 L254.1,479.6 L254.3,479.7 L254.5,479.7 L254.7,479.7 L254.9,479.8 L255.1,479.8 L255.3,479.9 L255.5,479.9 L255.8,479.9 L256.0,479.9 L256.2,480.0 L256.4,480.0 L256.6,480.0 L256.8,480.0 L257.0,480.0 L257.2,480.0 L257.4,480.0 L257.5,480.0 L257.7,480.0 L257.9,480.0 L258.1,480.0 L258.3,480.0 L258.5,480.0 L258.7,480.0 L258.9,480.0 L259.1,480.0 L259.3,480.0 L259.5,480.0 L259.7,480.0 L259.9,480.0 L260.1,480.0 L260.3,480.0 L260.5,480.0 L260.7,480.0 L260.9,480.0 L261.1,480.0 L261.3,480.0 L261.4,480.0 L261.6,480.0 L261.8,480.0 L262.0,480.0 L262.2,480.0 L262.4,480.0 L262.6,480.0 L262.8,480.0 L263.0,480.0 L263.2,480.0 L263.4,480.0 L263.6,480.0 L263.8,480.0 L264.0,480.0 L264.2,480.0 L264.4,480.0 L264.6,480.0 L264.8,480.0 L265.0,480.0 L265.1,480.0 L265.3,480.0 L265.5,480.0 L265.7,480.0 L265.9,480.0 L266.1,480.0 L266.3,480.0 L266.5,480.0 L266.7,480.0 L266.9,480.0 L267.1,480.0 L267.3,480.0 L267.5,480.0 L267.7,480.0 L267.9,480.0 L268.1,480.0 L268.3,480.0 L268.5,480.0 L268.7,480.0 L268.8,480.0 L269.0,480.0 L269.2,480.0 L269.4,480.0 L269.6,480.0 L269.8,480.0 L270.0,480.0 L270.2,480.0 L270.4,480.0 L270.6,480.0 L270.8,480.0 L271.0,480.0 L271.2,480.0 L271.4,480.0 L271.6,480.0 L271.8,480.0 L272.0,480.0 L272.2,480.0 L272.4,480.0 L272.5,480.0 L272.7,480.0 L272.9,480.0 L273.1,480.0 L273.3,480.0 L273.5,480.0 L273.7,480.0 L273.9,480.0 L274.1,480.0 L274.3,480.0 L274.5,480.0 L274.7,480.0 L274.9,480.0 L275.1,480.0 L275.3,480.0 L275.5,480.0 L275.7,480.0 L275.9,480.0 L276.1,480.0 L276.2,480.0 L276.4,480.0 L276.6,480.0 L276.8,480.0 L277.0,480.0 L277.2,480.0 L277.4,480.0 L277.6,480.0 L277.8,480.0 L278.0,480.0 L278.2,480.0 L278.4,480.0 L278.6,480.0 L278.8,480.0 L279.0,480.0 L279.2,480.0 L279.4,480.0 L279.6,480.0 L279.8,480.0 L280.0,480.0 L280.1,480.0 L280.3,480.0 L280.5,480.0 L280.7,480.0 L280.9,480.0 L281.1,480.0 L281.3,480.0 L281.5,480.0 L281.7,480.0 L281.9,480.0 L282.1,480.0 L282.3,480.0 L282.5,480.0 L282.7,480.0 L282.9,480.0 L283.1,480.0 L283.3,480.0 L283.5,480.0 L283.7,480.0 L283.8,480.0 L284.0,480.0 L284.2,480.0 L284.4,480.0 L284.6,480.0 L284.8,480.0 L285.0,480.0 L285.2,480.0 L285.4,480.0 L285.6,480.0 L285.8,480.0 L286.0,480.0 L286.2,480.0 L286.4,480.0 L286.6,480.0 L286.8,480.0 L287.0,480.0 L287.2,480.0 L287.4,480.0 L287.5,480.0 L287.7,480.0 L287.9,480.0 L288.1,480.0 L288.3,480.0 L288.5,480.0 L288.7,480.0 L288.9,480.0 L289.1,480.0 L289.3,480.0 L289.5,480.0 L289.7,480.0 L289.9,480.0 L290.1,480.0 L290.3,480.0 L290.5,480.0 L290.7,480.0 L290.9,480.0 L291.1,480.0 L291.2,480.0 L291.4,480.0 L291.6,480.0 L291.8,480.0 L292.0,480.0 L292.2,480.0 L292.4,480.0 L292.6,480.0 L292.8,480.0 L293.0,480.0 L293.2,480.0 L293.4,480.0 L293.6,480.0" stroke="#C2BE00" stroke-width="1.90"/><path d="M51.3,401.8 L61.0,401.8 L70.2,400.0 L80.4,401.8 L91.0,401.8 L95.9,406.4 L102.0,410.4 L109.0,422.4 L114.3,435.2 L120.0,443.0 L123.6,448.6 L146.3,453.0 L155.0,456.0 L163.7,457.3 L175.5,456.5 L186.4,463.7 L196.6,459.8 L219.9,465.0 L238.9,465.9 L249.5,477.0 L258.7,480.0 L293.6,480.0" stroke="#FF8000" stroke-width="2.4"/><path d="M51.3,480.0 L51.5,480.0 L51.7,480.0 L51.9,480.0 L52.1,480.0 L52.3,480.0 L52.5,480.0 L52.7,480.0 L52.9,480.0 L53.0,480.0 L53.2,480.0 L53.4,480.0 L53.6,480.0 L53.8,480.0 L54.0,480.0 L54.2,480.0 L54.4,480.0 L54.6,480.0 L54.8,480.0 L55.0,480.0 L55.2,480.0 L55.4,480.0 L55.6,480.0 L55.8,480.0 L56.0,480.0 L56.2,480.0 L56.4,480.0 L56.5,480.0 L56.7,480.0 L56.9,480.0 L57.1,480.0 L57.3,480.0 L57.5,480.0 L57.7,480.0 L57.9,480.0 L58.1,480.0 L58.3,480.0 L58.5,480.0 L58.7,480.0 L58.9,480.0 L59.1,480.0 L59.3,480.0 L59.5,480.0 L59.7,480.0 L59.8,480.0 L60.0,480.0 L60.2,480.0 L60.4,480.0 L60.6,480.0 L60.8,480.0 L61.0,480.0 L61.2,480.0 L61.4,480.0 L61.6,480.0 L61.8,480.0 L62.0,480.0 L62.2,480.0 L62.4,480.0 L62.6,480.0 L62.8,480.0 L63.0,480.0 L63.1,480.0 L63.3,480.0 L63.5,480.0 L63.7,480.0 L63.9,480.0 L64.1,480.0 L64.3,480.0 L64.5,480.0 L64.7,480.0 L64.9,480.0 L65.1,480.0 L65.3,480.0 L65.5,480.0 L65.7,480.0 L65.9,480.0 L66.1,480.0 L66.3,480.0 L66.5,480.0 L66.6,480.0 L66.8,480.0 L67.0,480.0 L67.2,480.0 L67.4,480.0 L67.6,480.0 L67.8,480.0 L68.0,480.0 L68.2,480.0 L68.4,480.0 L68.6,480.0 L68.8,480.0 L69.0,480.0 L69.2,480.0 L69.4,480.0 L69.6,480.0 L69.8,480.0 L69.9,480.0 L70.1,480.0 L70.3,480.0 L70.5,480.0 L70.7,480.0 L70.9,480.0 L71.1,480.0 L71.3,480.0 L71.5,480.0 L71.7,480.0 L71.9,480.0 L72.1,480.0 L72.3,480.0 L72.5,480.0 L72.7,480.0 L72.9,480.0 L73.1,480.0 L73.2,480.0 L73.4,480.0 L73.6,480.0 L73.8,480.0 L74.0,480.0 L74.2,480.0 L74.4,480.0 L74.6,480.0 L74.8,480.0 L75.0,480.0 L75.2,480.0 L75.4,480.0 L75.6,480.0 L75.8,480.0 L76.0,480.0 L76.2,480.0 L76.4,480.0 L76.6,480.0 L76.7,480.0 L76.9,480.0 L77.1,480.0 L77.3,480.0 L77.5,480.0 L77.7,480.0 L77.9,480.0 L78.1,480.0 L78.3,480.0 L78.5,480.0 L78.7,480.0 L78.9,480.0 L79.1,480.0 L79.3,480.0 L79.5,480.0 L79.7,480.0 L79.9,480.0 L80.0,480.0 L80.2,480.0 L80.4,480.0 L80.6,480.0 L80.8,480.0 L81.0,480.0 L81.2,480.0 L81.4,480.0 L81.6,480.0 L81.8,480.0 L82.0,480.0 L82.2,480.0 L82.4,480.0 L82.6,480.0 L82.8,480.0 L83.0,480.0 L83.2,480.0 L83.3,480.0 L83.5,480.0 L83.7,480.0 L83.9,480.0 L84.1,480.0 L84.3,480.0 L84.5,480.0 L84.7,480.0 L84.9,480.0 L85.1,480.0 L85.3,480.0 L85.5,480.0 L85.7,480.0 L85.9,480.0 L86.1,480.0 L86.3,480.0 L86.5,480.0 L86.7,480.0 L86.8,480.0 L87.0,480.0 L87.2,480.0 L87.4,480.0 L87.6,480.0 L87.8,480.0 L88.0,480.0 L88.2,480.0 L88.4,480.0 L88.6,480.0 L88.8,480.0 L89.0,480.0 L89.2,480.0 L89.4,480.0 L89.6,480.0 L89.8,480.0 L90.0,480.0 L90.1,480.0 L90.3,480.0 L90.5,480.0 L90.7,480.0 L90.9,480.0 L91.1,480.0 L91.3,480.0 L91.5,480.0 L91.7,480.0 L91.9,480.0 L92.1,480.0 L92.3,480.0 L92.5,480.0 L92.7,480.0 L92.9,480.0 L93.1,480.0 L93.3,480.0 L93.5,480.0 L93.6,480.0 L93.8,480.0 L94.0,480.0 L94.2,480.0 L94.4,480.0 L94.6,480.0 L94.8,480.0 L95.0,480.0 L95.2,480.0 L95.4,480.0 L95.6,480.0 L95.8,480.0 L96.0,480.0 L96.2,480.0 L96.4,480.0 L96.6,480.0 L96.8,480.0 L96.9,480.0 L97.1,480.0 L97.3,480.0 L97.5,480.0 L97.7,480.0 L97.9,480.0 L98.1,480.0 L98.3,480.0 L98.5,479.6 L98.7,478.6 L98.9,477.1 L99.1,475.4 L99.3,473.9 L99.6,472.9 L99.8,472.5 L100.0,472.9 L100.2,473.8 L100.5,474.8 L100.7,475.2 L100.9,474.4 L101.1,472.0 L101.3,468.0 L101.5,462.8 L101.7,456.5 L101.9,449.3 L102.1,441.7 L102.3,433.8 L102.5,426.2 L102.7,419.0 L102.9,412.7 L103.1,407.5 L103.2,403.6 L103.4,401.1 L103.6,400.3 L103.8,400.6 L104.0,401.6 L104.2,403.1 L104.4,405.1 L104.6,407.6 L104.8,410.4 L105.0,413.6 L105.2,416.9 L105.4,420.2 L105.6,423.6 L105.8,426.7 L106.0,429.6 L106.2,432.0 L106.4,434.1 L106.6,435.6 L106.8,436.5 L107.0,436.8 L107.2,436.6 L107.4,436.1 L107.6,435.3 L107.8,434.1 L108.0,432.6 L108.2,430.9 L108.4,428.9 L108.6,426.7 L108.8,424.4 L109.0,422.0 L109.2,419.4 L109.4,416.9 L109.5,414.4 L109.7,411.9 L109.9,409.6 L110.1,407.4 L110.3,405.4 L110.5,403.7 L110.7,402.2 L110.9,401.1 L111.1,400.2 L111.3,399.7 L111.5,399.5 L111.7,399.8 L111.9,400.5 L112.1,401.6 L112.3,403.1 L112.5,405.0 L112.7,407.1 L112.8,409.3 L113.0,411.6 L113.2,413.9 L113.4,416.0 L113.6,417.8 L113.8,419.3 L114.0,420.5 L114.2,421.2 L114.4,421.4 L114.6,421.3 L114.8,420.7 L115.0,419.9 L115.2,418.7 L115.4,417.3 L115.6,415.6 L115.8,413.8 L116.0,411.8 L116.2,409.8 L116.4,407.7 L116.6,405.8 L116.8,403.9 L117.0,402.3 L117.2,400.8 L117.4,399.6 L117.6,398.8 L117.8,398.3 L118.0,398.1 L118.2,398.4 L118.4,399.2 L118.6,400.5 L118.8,402.3 L119.0,404.5 L119.2,406.9 L119.4,409.5 L119.6,412.2 L119.8,414.8 L120.0,417.3 L120.2,419.4 L120.4,421.2 L120.6,422.6 L120.8,423.4 L121.0,423.7 L121.2,423.6 L121.4,423.3 L121.6,422.8 L121.8,422.2 L122.0,421.4 L122.2,420.4 L122.4,419.3 L122.6,418.1 L122.8,416.8 L123.0,415.5 L123.2,414.2 L123.4,412.8 L123.6,411.5 L123.8,410.2 L124.0,409.0 L124.2,407.9 L124.4,407.0 L124.6,406.2 L124.8,405.5 L125.0,405.0 L125.1,404.7 L125.3,404.6 L125.6,404.7 L125.8,404.8 L126.0,405.0 L126.2,405.3 L126.4,405.7 L126.6,406.1 L126.8,406.6 L127.0,407.1 L127.2,407.6 L127.4,408.1 L127.6,408.6 L127.8,409.1 L128.0,409.5 L128.2,409.9 L128.4,410.2 L128.6,410.4 L128.8,410.5 L129.0,410.6 L129.2,410.5 L129.4,410.5 L129.6,410.4 L129.8,410.2 L130.0,410.1 L130.2,409.9 L130.4,409.6 L130.6,409.3 L130.8,409.0 L131.0,408.7 L131.2,408.4 L131.4,408.0 L131.5,407.6 L131.7,407.3 L131.9,406.9 L132.1,406.5 L132.3,406.1 L132.5,405.7 L132.7,405.4 L132.9,405.0 L133.1,404.7 L133.3,404.4 L133.5,404.1 L133.7,403.9 L133.9,403.7 L134.1,403.5 L134.3,403.4 L134.5,403.3 L134.7,403.2 L134.8,403.2 L135.0,403.3 L135.2,403.6 L135.4,404.0 L135.6,404.7 L135.8,405.4 L136.0,406.2 L136.2,407.1 L136.4,408.1 L136.6,409.0 L136.8,409.8 L137.0,410.5 L137.2,411.2 L137.4,411.6 L137.6,411.9 L137.8,412.0 L138.0,412.0 L138.2,411.8 L138.4,411.6 L138.6,411.2 L138.8,410.8 L139.0,410.3 L139.2,409.7 L139.4,409.1 L139.6,408.4 L139.8,407.7 L140.0,406.9 L140.2,406.2 L140.4,405.4 L140.6,404.6 L140.8,403.8 L141.0,403.1 L141.2,402.4 L141.4,401.8 L141.6,401.2 L141.8,400.7 L142.0,400.3 L142.2,400.0 L142.4,399.7 L142.6,399.6 L142.8,399.5 L143.0,399.7 L143.2,400.1 L143.4,400.8 L143.6,401.8 L143.8,403.0 L144.0,404.3 L144.2,405.8 L144.4,407.2 L144.6,408.6 L144.8,410.0 L145.0,411.1 L145.2,412.1 L145.4,412.8 L145.6,413.3 L145.8,413.4 L146.0,413.4 L146.2,413.4 L146.4,413.3 L146.6,413.1 L146.8,412.9 L147.0,412.7 L147.2,412.5 L147.3,412.2 L147.5,411.8 L147.7,411.5 L147.9,411.1 L148.1,410.7 L148.3,410.3 L148.5,409.8 L148.7,409.3 L148.9,408.8 L149.1,408.3 L149.3,407.8 L149.5,407.3 L149.7,406.7 L149.9,406.2 L150.1,405.7 L150.3,405.2 L150.4,404.6 L150.6,404.1 L150.8,403.6 L151.0,403.2 L151.2,402.7 L151.4,402.3 L151.6,401.8 L151.8,401.5 L152.0,401.1 L152.2,400.8 L152.4,400.5 L152.6,400.2 L152.8,400.0 L153.0,399.8 L153.2,399.7 L153.4,399.6 L153.6,399.5 L153.7,399.5 L153.9,399.7 L154.1,400.2 L154.3,401.0 L154.5,402.1 L154.7,403.4 L154.9,404.8 L155.1,406.4 L155.3,408.0 L155.5,409.6 L155.7,411.0 L155.9,412.3 L156.1,413.4 L156.3,414.2 L156.5,414.7 L156.7,414.9 L157.0,414.8 L157.2,414.7 L157.4,414.4 L157.6,414.0 L157.8,413.6 L158.0,413.0 L158.2,412.4 L158.4,411.6 L158.6,410.9 L158.8,410.1 L159.0,409.2 L159.2,408.4 L159.4,407.5 L159.6,406.6 L159.8,405.8 L160.0,405.0 L160.2,404.2 L160.4,403.5 L160.6,402.8 L160.8,402.3 L161.0,401.8 L161.2,401.4 L161.4,401.2 L161.6,401.0 L161.8,401.0 L162.0,401.0 L162.2,401.3 L162.4,401.7 L162.6,402.3 L162.8,403.0 L163.0,403.8 L163.1,404.7 L163.3,405.7 L163.5,406.7 L163.7,407.7 L163.9,408.7 L164.1,409.7 L164.3,410.6 L164.5,411.4 L164.7,412.1 L164.9,412.7 L165.1,413.1 L165.3,413.4 L165.5,413.4 L165.7,413.2 L165.9,412.4 L166.1,411.1 L166.3,409.5 L166.5,407.6 L166.7,405.4 L166.9,403.2 L167.1,401.1 L167.3,399.1 L167.5,397.5 L167.7,396.2 L167.9,395.5 L168.1,395.2 L168.3,395.4 L168.5,395.9 L168.7,396.8 L168.9,398.0 L169.1,399.4 L169.3,401.1 L169.5,402.9 L169.7,404.7 L169.9,406.6 L170.1,408.4 L170.3,410.0 L170.5,411.5 L170.7,412.6 L170.9,413.5 L171.1,414.1 L171.3,414.2 L171.5,414.2 L171.7,414.0 L171.9,413.6 L172.1,413.1 L172.3,412.5 L172.4,411.8 L172.6,411.0 L172.8,410.1 L173.0,409.1 L173.2,408.1 L173.4,407.1 L173.6,406.0 L173.8,405.0 L174.0,404.0 L174.2,403.0 L174.4,402.1 L174.6,401.3 L174.8,400.6 L175.0,400.0 L175.2,399.5 L175.4,399.2 L175.6,399.0 L175.7,398.9 L176.0,399.0 L176.2,399.3 L176.4,399.8 L176.6,400.4 L176.8,401.2 L177.0,402.1 L177.2,403.1 L177.4,404.2 L177.6,405.3 L177.8,406.3 L178.0,407.3 L178.2,408.2 L178.4,409.0 L178.6,409.7 L178.8,410.2 L179.0,410.5 L179.2,410.6 L179.4,410.5 L179.6,410.2 L179.8,409.8 L180.0,409.2 L180.2,408.4 L180.4,407.6 L180.6,406.6 L180.8,405.6 L181.0,404.5 L181.2,403.5 L181.4,402.4 L181.6,401.4 L181.8,400.4 L182.0,399.6 L182.2,398.8 L182.4,398.2 L182.6,397.8 L182.8,397.5 L183.0,397.4 L183.2,397.6 L183.4,397.9 L183.6,398.4 L183.8,399.1 L184.0,400.0 L184.2,401.1 L184.4,402.2 L184.6,403.5 L184.8,404.7 L185.0,406.0 L185.2,407.2 L185.4,408.4 L185.6,409.4 L185.8,410.3 L186.0,411.0 L186.2,411.6 L186.4,411.9 L186.6,412.0 L186.8,411.9 L187.0,411.5 L187.2,411.0 L187.4,410.2 L187.6,409.2 L187.8,408.1 L188.0,406.9 L188.2,405.7 L188.4,404.4 L188.6,403.1 L188.8,401.9 L189.0,400.8 L189.2,399.9 L189.4,399.1 L189.6,398.5 L189.8,398.2 L190.0,398.1 L190.2,398.2 L190.4,398.6 L190.6,399.1 L190.8,399.9 L191.0,400.9 L191.2,401.9 L191.4,403.1 L191.6,404.3 L191.8,405.5 L192.0,406.7 L192.2,407.8 L192.4,408.7 L192.6,409.5 L192.8,410.1 L193.0,410.4 L193.2,410.6 L193.4,410.4 L193.6,410.0 L193.8,409.4 L194.0,408.6 L194.2,407.5 L194.4,406.3 L194.6,405.0 L194.8,403.6 L195.0,402.2 L195.2,400.8 L195.4,399.5 L195.7,398.3 L195.9,397.2 L196.1,396.4 L196.3,395.7 L196.5,395.3 L196.7,395.2 L196.9,395.4 L197.1,396.0 L197.3,397.0 L197.5,398.4 L197.6,400.0 L197.8,401.8 L198.0,403.8 L198.2,405.8 L198.4,407.8 L198.6,409.6 L198.8,411.2 L199.0,412.6 L199.2,413.6 L199.4,414.2 L199.6,414.4 L199.8,414.1 L200.0,413.1 L200.2,411.6 L200.4,409.6 L200.6,407.3 L200.8,404.9 L201.1,402.4 L201.3,400.1 L201.5,398.1 L201.7,396.6 L201.9,395.7 L202.1,395.4 L202.3,395.9 L202.5,397.6 L202.7,400.2 L202.9,403.4 L203.1,406.7 L203.3,409.9 L203.5,412.5 L203.7,414.1 L203.9,414.7 L204.1,414.5 L204.3,413.9 L204.5,412.8 L204.7,411.4 L204.9,409.7 L205.1,407.8 L205.3,405.8 L205.5,403.7 L205.7,401.6 L205.9,399.7 L206.1,398.0 L206.3,396.6 L206.5,395.6 L206.7,394.9 L206.9,394.7 L207.1,394.9 L207.3,395.6 L207.5,396.6 L207.7,398.0 L207.9,399.6 L208.1,401.4 L208.3,403.4 L208.5,405.3 L208.7,407.1 L208.9,408.7 L209.1,410.1 L209.3,411.1 L209.5,411.8 L209.7,412.0 L209.9,411.8 L210.1,411.1 L210.3,410.0 L210.5,408.6 L210.7,406.9 L210.9,405.0 L211.1,403.0 L211.3,401.0 L211.5,399.2 L211.7,397.5 L211.9,396.0 L212.1,395.0 L212.3,394.3 L212.5,394.1 L212.7,394.2 L212.9,394.7 L213.1,395.5 L213.3,396.5 L213.5,397.8 L213.7,399.2 L213.9,400.8 L214.1,402.5 L214.3,404.2 L214.5,405.9 L214.7,407.5 L214.9,409.0 L215.1,410.2 L215.4,411.3 L215.6,412.0 L215.8,412.5 L216.0,412.6 L216.2,412.4 L216.4,411.9 L216.5,411.0 L216.7,409.8 L216.9,408.3 L217.1,406.7 L217.3,405.0 L217.5,403.3 L217.7,401.7 L217.9,400.3 L218.1,399.1 L218.3,398.2 L218.5,397.6 L218.7,397.4 L218.9,397.6 L219.1,398.0 L219.3,398.6 L219.5,399.4 L219.7,400.4 L219.9,401.5 L220.1,402.6 L220.3,403.8 L220.5,404.9 L220.7,405.9 L220.9,406.7 L221.1,407.3 L221.3,407.7 L221.5,407.8 L221.7,407.7 L221.9,407.3 L222.1,406.7 L222.3,405.9 L222.5,404.9 L222.7,403.8 L222.9,402.6 L223.1,401.5 L223.3,400.4 L223.5,399.4 L223.7,398.6 L223.9,398.0 L224.1,397.6 L224.3,397.4 L224.5,397.5 L224.7,397.6 L224.9,397.8 L225.1,398.2 L225.3,398.5 L225.5,399.0 L225.7,399.5 L225.9,400.1 L226.1,400.7 L226.3,401.3 L226.5,401.9 L226.7,402.6 L226.9,403.2 L227.1,403.8 L227.3,404.3 L227.5,404.9 L227.7,405.3 L227.9,405.7 L228.1,406.0 L228.3,406.2 L228.5,406.4 L228.7,406.4 L228.9,406.4 L229.1,406.3 L229.2,406.1 L229.4,405.9 L229.6,405.6 L229.8,405.3 L230.0,405.0 L230.2,404.6 L230.4,404.3 L230.6,404.0 L230.8,403.7 L231.0,403.5 L231.2,403.3 L231.4,403.2 L231.6,403.2 L231.8,403.3 L232.0,403.8 L232.2,404.4 L232.4,405.2 L232.6,406.0 L232.9,406.8 L233.1,407.4 L233.3,407.9 L233.5,408.0 L233.7,407.7 L233.9,407.0 L234.2,405.9 L234.4,404.5 L234.6,403.0 L234.8,401.6 L235.0,400.5 L235.2,399.8 L235.4,399.5 L235.6,399.6 L235.8,399.8 L236.0,400.2 L236.2,400.8 L236.4,401.5 L236.6,402.3 L236.8,403.2 L237.0,404.1 L237.2,405.2 L237.4,406.3 L237.6,407.3 L237.8,408.4 L238.0,409.5 L238.2,410.4 L238.4,411.3 L238.5,412.1 L238.7,412.8 L238.9,413.4 L239.1,413.8 L239.3,414.0 L239.5,414.1 L239.7,414.0 L239.9,413.7 L240.1,413.3 L240.3,412.8 L240.5,412.1 L240.7,411.3 L240.9,410.3 L241.1,409.4 L241.3,408.4 L241.5,407.3 L241.7,406.3 L241.9,405.3 L242.1,404.4 L242.3,403.6 L242.5,402.9 L242.7,402.4 L242.9,401.9 L243.1,401.7 L243.3,401.6 L243.5,401.6 L243.7,401.7 L243.9,401.8 L244.1,402.0 L244.3,402.2 L244.5,402.5 L244.7,402.8 L244.9,403.1 L245.1,403.5 L245.3,403.9 L245.5,404.3 L245.7,404.8 L245.9,405.2 L246.1,405.7 L246.3,406.2 L246.5,406.6 L246.6,407.1 L246.8,407.6 L247.0,408.0 L247.2,408.4 L247.4,408.8 L247.6,409.2 L247.8,409.5 L248.0,409.8 L248.2,410.1 L248.4,410.3 L248.6,410.5 L248.8,410.6 L249.0,410.7 L249.2,410.7 L249.4,410.6 L249.6,410.4 L249.8,410.1 L250.0,409.6 L250.2,409.0 L250.4,408.4 L250.6,407.8 L250.8,407.1 L251.0,406.5 L251.2,405.9 L251.4,405.4 L251.6,405.1 L251.8,404.9 L252.0,404.8 L252.2,404.8 L252.4,405.0 L252.6,405.1 L252.8,405.4 L253.0,405.7 L253.2,406.0 L253.4,406.3 L253.6,406.7 L253.8,407.0 L254.0,407.3 L254.2,407.5 L254.4,407.7 L254.6,407.8 L254.8,407.8 L255.0,408.0 L255.2,408.2 L255.4,408.4 L255.6,408.5 L255.8,408.5 L256.0,408.4 L256.2,408.2 L256.4,408.0 L256.6,407.6 L256.8,407.1 L257.0,406.7 L257.2,406.3 L257.4,406.0 L257.5,405.8 L257.7,405.7 L257.9,405.6 L258.1,405.7 L258.3,405.9 L258.5,406.1 L258.7,406.5 L258.9,406.9 L259.1,407.4 L259.3,407.8 L259.5,408.3 L259.7,408.7 L259.9,409.1 L260.1,409.4 L260.3,409.6 L260.5,409.7 L260.6,409.7 L260.8,409.6 L261.0,409.4 L261.2,409.2 L261.4,408.9 L261.6,408.6 L261.8,408.2 L262.0,407.9 L262.2,407.6 L262.4,407.3 L262.6,407.0 L262.8,406.9 L263.0,406.8 L263.2,406.7 L263.4,406.8 L263.6,406.9 L263.7,407.0 L263.9,407.1 L264.1,407.3 L264.3,407.5 L264.5,407.8 L264.7,408.0 L264.9,408.2 L265.1,408.3 L265.3,408.5 L265.5,408.6 L265.7,408.6 L265.9,408.6 L266.1,408.6 L266.3,408.5 L266.5,408.4 L266.7,408.2 L266.9,408.0 L267.0,407.9 L267.2,407.7 L267.4,407.5 L267.6,407.4 L267.8,407.2 L268.0,407.1 L268.2,407.1 L268.4,407.1 L268.6,407.1 L268.8,407.2 L269.0,407.3 L269.2,407.5 L269.4,407.7 L269.6,408.0 L269.8,408.2 L270.0,408.5 L270.1,408.7 L270.3,408.9 L270.5,409.1 L270.7,409.2 L270.9,409.3 L271.1,409.3 L271.3,409.3 L271.5,409.2 L271.7,409.0 L271.9,408.8 L272.1,408.5 L272.3,408.2 L272.5,407.9 L272.7,407.5 L272.9,407.2 L273.1,406.8 L273.2,406.5 L273.4,406.3 L273.6,406.1 L273.8,405.9 L274.0,405.8 L274.2,405.8 L274.4,405.9 L274.6,406.0 L274.8,406.2 L275.0,406.5 L275.2,406.7 L275.4,407.1 L275.6,407.4 L275.8,407.7 L276.0,408.0 L276.2,408.4 L276.3,408.6 L276.5,408.9 L276.7,409.0 L276.9,409.1 L277.1,409.2 L277.3,409.2 L277.5,409.1 L277.7,408.9 L277.9,408.6 L278.1,408.3 L278.3,407.9 L278.5,407.6 L278.7,407.2 L278.9,407.0 L279.1,406.8 L279.3,406.6 L279.4,406.6 L279.6,406.7 L279.8,406.8 L280.0,406.9 L280.2,407.1 L280.4,407.3 L280.6,407.5 L280.8,407.8 L281.0,408.0 L281.2,408.2 L281.4,408.3 L281.6,408.4 L281.8,408.4 L282.0,408.4 L282.2,408.4 L282.4,408.4 L282.6,408.3 L282.7,408.2 L282.9,408.1 L283.1,408.0 L283.3,407.9 L283.5,407.8 L283.7,407.7 L283.9,407.6 L284.1,407.5 L284.3,407.5 L284.5,407.4 L284.7,407.4 L284.9,407.4 L285.1,407.4 L285.3,407.5 L285.5,407.6 L285.7,407.7 L285.8,407.9 L286.0,408.1 L286.2,408.3 L286.4,408.5 L286.6,408.7 L286.8,408.9 L287.0,409.0 L287.2,409.1 L287.4,409.2 L287.6,409.3 L287.8,409.3 L288.0,409.3 L288.2,409.2 L288.4,409.1 L288.6,408.9 L288.8,408.6 L288.9,408.4 L289.1,408.1 L289.3,407.8 L289.5,407.5 L289.7,407.2 L289.9,406.9 L290.1,406.7 L290.3,406.5 L290.5,406.3 L290.7,406.2 L290.9,406.2 L291.1,406.2 L291.3,406.3 L291.5,406.6 L291.7,406.9 L291.9,407.2 L292.0,407.6 L292.2,408.0 L292.4,408.4 L292.6,408.7 L292.8,409.0 L293.0,409.2 L293.2,409.3 L293.4,409.3" stroke="#8000FF" stroke-width="1.9"/><path d="M51.3,480.0 L99.0,480.0 L99.8,475.5 L103.3,445.8 L106.8,426.6 L110.3,419.7 L117.3,412.6 L125.0,410.6 L134.7,408.8 L148.2,408.0 L154.0,407.2 L161.8,405.1 L168.1,401.9 L172.4,403.2 L177.3,404.0 L196.7,404.0 L206.4,404.5 L216.1,404.2 L229.6,404.3 L237.4,406.1 L245.1,407.8 L293.6,407.8" stroke="#000090" stroke-width="2.2"/><g fill="#000090" stroke="none"><circle cx="51.30" cy="480.00" r="1.75"/><circle cx="56.15" cy="480.00" r="1.75"/><circle cx="60.99" cy="480.00" r="1.75"/><circle cx="65.84" cy="480.00" r="1.75"/><circle cx="70.68" cy="480.00" r="1.75"/><circle cx="75.53" cy="480.00" r="1.75"/><circle cx="80.38" cy="480.00" r="1.75"/><circle cx="85.22" cy="480.00" r="1.75"/><circle cx="90.07" cy="480.00" r="1.75"/><circle cx="94.91" cy="480.00" r="1.75"/><circle cx="99.76" cy="475.52" r="1.75"/><circle cx="104.61" cy="438.83" r="1.75"/><circle cx="109.45" cy="421.40" r="1.75"/><circle cx="114.30" cy="415.67" r="1.75"/><circle cx="119.14" cy="412.14" r="1.75"/><circle cx="123.99" cy="410.82" r="1.75"/><circle cx="128.84" cy="409.86" r="1.75"/><circle cx="133.68" cy="408.98" r="1.75"/><circle cx="138.53" cy="408.57" r="1.75"/><circle cx="143.37" cy="408.29" r="1.75"/><circle cx="148.22" cy="408.00" r="1.75"/><circle cx="153.07" cy="407.33" r="1.75"/><circle cx="157.91" cy="406.16" r="1.75"/><circle cx="162.76" cy="404.63" r="1.75"/><circle cx="167.60" cy="402.17" r="1.75"/><circle cx="172.45" cy="403.20" r="1.75"/><circle cx="177.30" cy="404.00" r="1.75"/><circle cx="182.14" cy="404.00" r="1.75"/><circle cx="186.99" cy="404.00" r="1.75"/><circle cx="191.83" cy="404.00" r="1.75"/><circle cx="196.68" cy="404.00" r="1.75"/><circle cx="201.53" cy="404.24" r="1.75"/><circle cx="206.37" cy="404.48" r="1.75"/><circle cx="211.22" cy="404.32" r="1.75"/><circle cx="216.06" cy="404.16" r="1.75"/><circle cx="220.91" cy="404.22" r="1.75"/><circle cx="225.76" cy="404.27" r="1.75"/><circle cx="230.60" cy="404.54" r="1.75"/><circle cx="235.45" cy="405.64" r="1.75"/><circle cx="240.29" cy="406.74" r="1.75"/><circle cx="245.14" cy="407.84" r="1.75"/><circle cx="249.99" cy="407.84" r="1.75"/><circle cx="254.83" cy="407.84" r="1.75"/><circle cx="259.68" cy="407.84" r="1.75"/><circle cx="264.52" cy="407.84" r="1.75"/><circle cx="269.37" cy="407.84" r="1.75"/><circle cx="274.22" cy="407.84" r="1.75"/><circle cx="279.06" cy="407.84" r="1.75"/><circle cx="283.91" cy="407.84" r="1.75"/><circle cx="288.75" cy="407.84" r="1.75"/><circle cx="293.60" cy="407.84" r="1.75"/></g></g><path d="M110.50,279.40 V288.00 M228.60,279.40 V288.00" stroke="#000" stroke-width="1.4" fill="none"/><line x1="112.50" y1="282.60" x2="226.60" y2="282.60" stroke="#000" stroke-width="1.2"/><path d="M112.10,282.60 L115.70,280.60 L114.90,282.60 L115.70,284.60 Z" fill="#000"/><path d="M227.00,282.60 L223.40,280.60 L224.20,282.60 L223.40,284.60 Z" fill="#000"/><text x="126.91" y="276.30" font-size="17" textLength="87.73" lengthAdjust="spacingAndGlyphs" font-family="Liberation Sans, sans-serif" font-weight="bold">cSi(110)/Li</text><text x="1.15" y="276.70" font-size="16.8" textLength="21.76" lengthAdjust="spacingAndGlyphs" font-family="Liberation Sans, sans-serif" font-weight="bold">(c)</text><text x="21.26" y="483.60" font-size="12.2" textLength="25.64" lengthAdjust="spacingAndGlyphs" font-family="Liberation Sans, sans-serif" font-weight="bold">0.00</text><text x="297.20" y="483.60" font-size="12.2" textLength="25.64" lengthAdjust="spacingAndGlyphs" fill="#00008B" font-family="Liberation Sans, sans-serif" font-weight="bold">0.00</text><text x="21.26" y="451.60" font-size="12.2" textLength="25.64" lengthAdjust="spacingAndGlyphs" font-family="Liberation Sans, sans-serif" font-weight="bold">0.02</text><text x="297.20" y="451.60" font-size="12.2" textLength="25.64" lengthAdjust="spacingAndGlyphs" fill="#00008B" font-family="Liberation Sans, sans-serif" font-weight="bold">0.02</text><text x="21.26" y="419.60" font-size="12.2" textLength="25.64" lengthAdjust="spacingAndGlyphs" font-family="Liberation Sans, sans-serif" font-weight="bold">0.04</text><text x="297.20" y="419.60" font-size="12.2" textLength="25.64" lengthAdjust="spacingAndGlyphs" fill="#00008B" font-family="Liberation Sans, sans-serif" font-weight="bold">0.04</text><text x="21.26" y="387.60" font-size="12.2" textLength="25.64" lengthAdjust="spacingAndGlyphs" font-family="Liberation Sans, sans-serif" font-weight="bold">0.06</text><text x="297.20" y="387.60" font-size="12.2" textLength="25.64" lengthAdjust="spacingAndGlyphs" fill="#00008B" font-family="Liberation Sans, sans-serif" font-weight="bold">0.06</text><text x="21.26" y="355.60" font-size="12.2" textLength="25.64" lengthAdjust="spacingAndGlyphs" font-family="Liberation Sans, sans-serif" font-weight="bold">0.08</text><text x="297.20" y="355.60" font-size="12.2" textLength="25.64" lengthAdjust="spacingAndGlyphs" fill="#00008B" font-family="Liberation Sans, sans-serif" font-weight="bold">0.08</text><text x="21.26" y="323.60" font-size="12.2" textLength="25.64" lengthAdjust="spacingAndGlyphs" font-family="Liberation Sans, sans-serif" font-weight="bold">0.10</text><text x="297.20" y="323.60" font-size="12.2" textLength="25.64" lengthAdjust="spacingAndGlyphs" fill="#00008B" font-family="Liberation Sans, sans-serif" font-weight="bold">0.10</text><text x="21.26" y="291.60" font-size="12.2" textLength="25.64" lengthAdjust="spacingAndGlyphs" font-family="Liberation Sans, sans-serif" font-weight="bold">0.12</text><text x="297.20" y="291.60" font-size="12.2" textLength="25.64" lengthAdjust="spacingAndGlyphs" fill="#00008B" font-family="Liberation Sans, sans-serif" font-weight="bold">0.12</text><text x="44.20" y="498.60" font-size="12.2" textLength="14.79" lengthAdjust="spacingAndGlyphs" font-family="Liberation Sans, sans-serif" font-weight="bold">10</text><text x="92.66" y="498.60" font-size="12.2" textLength="14.79" lengthAdjust="spacingAndGlyphs" font-family="Liberation Sans, sans-serif" font-weight="bold">15</text><text x="141.12" y="498.60" font-size="12.2" textLength="14.79" lengthAdjust="spacingAndGlyphs" font-family="Liberation Sans, sans-serif" font-weight="bold">20</text><text x="189.58" y="498.60" font-size="12.2" textLength="14.79" lengthAdjust="spacingAndGlyphs" font-family="Liberation Sans, sans-serif" font-weight="bold">25</text><text x="238.04" y="498.60" font-size="12.2" textLength="14.79" lengthAdjust="spacingAndGlyphs" font-family="Liberation Sans, sans-serif" font-weight="bold">30</text><text x="286.50" y="498.60" font-size="12.2" textLength="14.79" lengthAdjust="spacingAndGlyphs" font-family="Liberation Sans, sans-serif" font-weight="bold">35</text><text x="172.45" y="514.50" font-size="12.4" text-anchor="middle" font-family="Liberation Sans, sans-serif" font-weight="bold">Bin number</text><text transform="translate(17.30,380.00) rotate(-90) scale(1.04,1)" font-size="12.4" text-anchor="middle" font-family="Liberation Sans, sans-serif" font-weight="bold">Number density (&#197;<tspan font-size="8" dy="-4.5">-3</tspan><tspan dy="4.5">)</tspan></text><text transform="translate(326.60,384.00) rotate(90) scale(1.03,1)" font-size="12.4" text-anchor="middle" fill="#00008B" font-family="Liberation Sans, sans-serif" font-weight="bold">Average number density (&#197;<tspan font-size="8" dy="-4.5">-3</tspan><tspan dy="4.5">)</tspan></text>
<defs><clipPath id="pc_d"><rect x="396.40" y="288.20" width="242.70" height="195.40"/></clipPath><clipPath id="clip_c111"><rect x="576.00" y="288.20" width="63.10" height="95.40"/></clipPath></defs><rect x="456.90" y="288.20" width="13.00" height="195.40" fill="#92B7B2"/><rect x="469.90" y="288.20" width="106.00" height="195.40" fill="#FFF2CF"/><rect x="456.90" y="289.20" width="13.00" height="1.2" fill="#4F7FA8"/><line x1="458.00" y1="295.40" x2="469.00" y2="295.40" stroke="#5A4A26" stroke-width="1.8"/><path d="M456.00,295.40 L459.80,293.20 L459.00,295.40 L459.80,297.60 Z" fill="#5A4A26"/><path d="M471.00,295.40 L467.20,293.20 L468.00,295.40 L467.20,297.60 Z" fill="#5A4A26"/><path d="M396.40,480.20 h4.50 M396.40,448.20 h4.50 M396.40,416.20 h4.50 M396.40,384.20 h4.50 M396.40,352.20 h4.50 M396.40,320.20 h4.50 M396.40,288.20 h4.50 M444.94,483.60 v-4.50 M493.48,483.60 v-4.50 M542.02,483.60 v-4.50 M590.56,483.60 v-4.50" stroke="#000" stroke-width="2" fill="none"/><path d="M639.10,480.20 h-4.50 M639.10,448.20 h-4.50 M639.10,416.20 h-4.50 M639.10,384.20 h-4.50 M639.10,352.20 h-4.50 M639.10,320.20 h-4.50 M639.10,288.20 h-4.50" stroke="#00008B" stroke-width="2" fill="none"/><rect x="576.0" y="288.2" width="63.1" height="95.4" fill="#fff"/><g clip-path="url(#clip_c111)"><path d="M579.9,290.0L584.5,282.0 M584.5,282.0L595.2,282.0 M595.2,282.0L599.9,290.0 M599.9,290.0L595.2,298.0 M595.2,298.0L584.5,298.0 M584.5,298.0L579.9,290.0 M579.9,306.0L584.5,298.0 M584.5,298.0L595.2,298.0 M595.2,298.0L599.9,306.0 M599.9,306.0L595.2,314.0 M595.2,314.0L584.5,314.0 M584.5,314.0L579.9,306.0 M579.9,322.0L584.5,314.0 M584.5,314.0L595.2,314.0 M595.2,314.0L599.9,322.0 M599.9,322.0L595.2,330.0 M595.2,330.0L584.5,330.0 M584.5,330.0L579.9,322.0 M579.9,338.0L584.5,330.0 M584.5,330.0L595.2,330.0 M595.2,330.0L599.9,338.0 M599.9,338.0L595.2,346.0 M595.2,346.0L584.5,346.0 M584.5,346.0L579.9,338.0 M579.9,354.0L584.5,346.0 M584.5,346.0L595.2,346.0 M595.2,346.0L599.9,354.0 M599.9,354.0L595.2,362.0 M595.2,362.0L584.5,362.0 M584.5,362.0L579.9,354.0 M579.9,370.0L584.5,362.0 M584.5,362.0L595.2,362.0 M595.2,362.0L599.9,370.0 M599.9,370.0L595.2,378.0 M595.2,378.0L584.5,378.0 M584.5,378.0L579.9,370.0 M579.9,386.0L584.5,378.0 M584.5,378.0L595.2,378.0 M595.2,378.0L599.9,386.0 M599.9,386.0L595.2,394.0 M595.2,394.0L584.5,394.0 M584.5,394.0L579.9,386.0 M594.9,282.0L599.5,274.0 M599.5,290.0L594.9,282.0 M594.9,298.0L599.5,290.0 M599.5,306.0L594.9,298.0 M594.9,314.0L599.5,306.0 M599.5,322.0L594.9,314.0 M594.9,330.0L599.5,322.0 M599.5,338.0L594.9,330.0 M594.9,346.0L599.5,338.0 M599.5,354.0L594.9,346.0 M594.9,362.0L599.5,354.0 M599.5,370.0L594.9,362.0 M594.9,378.0L599.5,370.0 M599.5,386.0L594.9,378.0 M579.9,290.0L574.9,290.0 M579.9,354.0L574.9,354.0 M579.9,338.0L574.9,338.0 M579.9,322.0L574.9,322.0 M579.9,386.0L574.9,386.0 M579.9,306.0L574.9,306.0 M579.9,370.0L574.9,370.0" stroke="#E8DE00" stroke-width="1.80" fill="none"/><circle cx="599.5" cy="306.0" r="2.40" fill="#F8F200" stroke="#CEC400" stroke-width="0.55"/><circle cx="599.5" cy="370.0" r="2.40" fill="#F8F200" stroke="#CEC400" stroke-width="0.55"/><circle cx="599.9" cy="290.0" r="2.40" fill="#F8F200" stroke="#CEC400" stroke-width="0.55"/><circle cx="584.5" cy="330.0" r="2.40" fill="#F8F200" stroke="#CEC400" stroke-width="0.55"/><circle cx="594.9" cy="282.0" r="2.40" fill="#F8F200" stroke="#CEC400" stroke-width="0.55"/><circle cx="599.9" cy="354.0" r="2.40" fill="#F8F200" stroke="#CEC400" stroke-width="0.55"/><circle cx="584.5" cy="394.0" r="2.40" fill="#F8F200" stroke="#CEC400" stroke-width="0.55"/><circle cx="579.9" cy="290.0" r="2.40" fill="#F8F200" stroke="#CEC400" stroke-width="0.55"/><circle cx="594.9" cy="346.0" r="2.40" fill="#F8F200" stroke="#CEC400" stroke-width="0.55"/><circle cx="595.2" cy="330.0" r="2.40" fill="#F8F200" stroke="#CEC400" stroke-width="0.55"/><circle cx="579.9" cy="354.0" r="2.40" fill="#F8F200" stroke="#CEC400" stroke-width="0.55"/><circle cx="595.2" cy="394.0" r="2.40" fill="#F8F200" stroke="#CEC400" stroke-width="0.55"/><circle cx="599.5" cy="290.0" r="2.40" fill="#F8F200" stroke="#CEC400" stroke-width="0.55"/><circle cx="599.5" cy="354.0" r="2.40" fill="#F8F200" stroke="#CEC400" stroke-width="0.55"/><circle cx="599.9" cy="338.0" r="2.40" fill="#F8F200" stroke="#CEC400" stroke-width="0.55"/><circle cx="584.5" cy="314.0" r="2.40" fill="#F8F200" stroke="#CEC400" stroke-width="0.55"/><circle cx="579.9" cy="338.0" r="2.40" fill="#F8F200" stroke="#CEC400" stroke-width="0.55"/><circle cx="584.5" cy="378.0" r="2.40" fill="#F8F200" stroke="#CEC400" stroke-width="0.55"/><circle cx="594.9" cy="330.0" r="2.40" fill="#F8F200" stroke="#CEC400" stroke-width="0.55"/><circle cx="595.2" cy="314.0" r="2.40" fill="#F8F200" stroke="#CEC400" stroke-width="0.55"/><circle cx="595.2" cy="378.0" r="2.40" fill="#F8F200" stroke="#CEC400" stroke-width="0.55"/><circle cx="599.5" cy="274.0" r="2.40" fill="#F8F200" stroke="#CEC400" stroke-width="0.55"/><circle cx="599.5" cy="338.0" r="2.40" fill="#F8F200" stroke="#CEC400" stroke-width="0.55"/><circle cx="584.5" cy="298.0" r="2.40" fill="#F8F200" stroke="#CEC400" stroke-width="0.55"/><circle cx="599.9" cy="322.0" r="2.40" fill="#F8F200" stroke="#CEC400" stroke-width="0.55"/><circle cx="584.5" cy="362.0" r="2.40" fill="#F8F200" stroke="#CEC400" stroke-width="0.55"/><circle cx="599.9" cy="386.0" r="2.40" fill="#F8F200" stroke="#CEC400" stroke-width="0.55"/><circle cx="579.9" cy="322.0" r="2.40" fill="#F8F200" stroke="#CEC400" stroke-width="0.55"/><circle cx="594.9" cy="314.0" r="2.40" fill="#F8F200" stroke="#CEC400" stroke-width="0.55"/><circle cx="579.9" cy="386.0" r="2.40" fill="#F8F200" stroke="#CEC400" stroke-width="0.55"/><circle cx="594.9" cy="378.0" r="2.40" fill="#F8F200" stroke="#CEC400" stroke-width="0.55"/><circle cx="595.2" cy="298.0" r="2.40" fill="#F8F200" stroke="#CEC400" stroke-width="0.55"/><circle cx="595.2" cy="362.0" r="2.40" fill="#F8F200" stroke="#CEC400" stroke-width="0.55"/><circle cx="599.5" cy="322.0" r="2.40" fill="#F8F200" stroke="#CEC400" stroke-width="0.55"/><circle cx="599.5" cy="386.0" r="2.40" fill="#F8F200" stroke="#CEC400" stroke-width="0.55"/><circle cx="584.5" cy="282.0" r="2.40" fill="#F8F200" stroke="#CEC400" stroke-width="0.55"/><circle cx="599.9" cy="306.0" r="2.40" fill="#F8F200" stroke="#CEC400" stroke-width="0.55"/><circle cx="584.5" cy="346.0" r="2.40" fill="#F8F200" stroke="#CEC400" stroke-width="0.55"/><circle cx="599.9" cy="370.0" r="2.40" fill="#F8F200" stroke="#CEC400" stroke-width="0.55"/><circle cx="595.2" cy="282.0" r="2.40" fill="#F8F200" stroke="#CEC400" stroke-width="0.55"/><circle cx="579.9" cy="306.0" r="2.40" fill="#F8F200" stroke="#CEC400" stroke-width="0.55"/><circle cx="595.2" cy="346.0" r="2.40" fill="#F8F200" stroke="#CEC400" stroke-width="0.55"/><circle cx="579.9" cy="370.0" r="2.40" fill="#F8F200" stroke="#CEC400" stroke-width="0.55"/><circle cx="594.9" cy="298.0" r="2.40" fill="#F8F200" stroke="#CEC400" stroke-width="0.55"/><circle cx="594.9" cy="362.0" r="2.40" fill="#F8F200" stroke="#CEC400" stroke-width="0.55"/><circle cx="606.6" cy="384.1" r="2.30" fill="#0CA0E4" stroke="#0A82C2" stroke-width="0.5"/><circle cx="618.2" cy="342.9" r="2.30" fill="#F8F200" stroke="#CEC400" stroke-width="0.55"/><circle cx="624.9" cy="383.8" r="2.30" fill="#0CA0E4" stroke="#0A82C2" stroke-width="0.5"/><circle cx="624.3" cy="359.3" r="2.30" fill="#0CA0E4" stroke="#0A82C2" stroke-width="0.5"/><circle cx="630.5" cy="332.4" r="2.30" fill="#0CA0E4" stroke="#0A82C2" stroke-width="0.5"/><circle cx="614.3" cy="311.6" r="2.30" fill="#F8F200" stroke="#CEC400" stroke-width="0.55"/><circle cx="615.5" cy="358.5" r="2.30" fill="#0CA0E4" stroke="#0A82C2" stroke-width="0.5"/><circle cx="620.2" cy="339.6" r="2.30" fill="#0CA0E4" stroke="#0A82C2" stroke-width="0.5"/><circle cx="620.4" cy="349.4" r="2.30" fill="#F8F200" stroke="#CEC400" stroke-width="0.55"/><circle cx="635.9" cy="317.7" r="2.30" fill="#F8F200" stroke="#CEC400" stroke-width="0.55"/><circle cx="600.0" cy="303.9" r="2.30" fill="#0CA0E4" stroke="#0A82C2" stroke-width="0.5"/><circle cx="635.8" cy="358.4" r="2.30" fill="#0CA0E4" stroke="#0A82C2" stroke-width="0.5"/><circle cx="638.5" cy="317.4" r="2.30" fill="#0CA0E4" stroke="#0A82C2" stroke-width="0.5"/><circle cx="633.5" cy="363.4" r="2.30" fill="#0CA0E4" stroke="#0A82C2" stroke-width="0.5"/><circle cx="608.4" cy="328.7" r="2.30" fill="#0CA0E4" stroke="#0A82C2" stroke-width="0.5"/><circle cx="628.1" cy="323.7" r="2.30" fill="#F8F200" stroke="#CEC400" stroke-width="0.55"/><circle cx="620.1" cy="324.8" r="2.30" fill="#0CA0E4" stroke="#0A82C2" stroke-width="0.5"/><circle cx="627.0" cy="339.0" r="2.30" fill="#0CA0E4" stroke="#0A82C2" stroke-width="0.5"/><circle cx="636.7" cy="321.7" r="2.30" fill="#0CA0E4" stroke="#0A82C2" stroke-width="0.5"/><circle cx="614.7" cy="339.1" r="2.30" fill="#F8F200" stroke="#CEC400" stroke-width="0.55"/><circle cx="638.1" cy="309.9" r="2.30" fill="#F8F200" stroke="#CEC400" stroke-width="0.55"/><circle cx="638.0" cy="376.2" r="2.30" fill="#0CA0E4" stroke="#0A82C2" stroke-width="0.5"/><circle cx="626.7" cy="360.4" r="2.30" fill="#F8F200" stroke="#CEC400" stroke-width="0.55"/><circle cx="604.8" cy="321.1" r="2.30" fill="#F8F200" stroke="#CEC400" stroke-width="0.55"/><circle cx="605.8" cy="334.4" r="2.30" fill="#0CA0E4" stroke="#0A82C2" stroke-width="0.5"/><circle cx="630.0" cy="306.8" r="2.30" fill="#0CA0E4" stroke="#0A82C2" stroke-width="0.5"/><circle cx="622.5" cy="377.4" r="2.30" fill="#0CA0E4" stroke="#0A82C2" stroke-width="0.5"/><circle cx="628.0" cy="345.9" r="2.30" fill="#0CA0E4" stroke="#0A82C2" stroke-width="0.5"/><circle cx="639.5" cy="373.3" r="2.30" fill="#F8F200" stroke="#CEC400" stroke-width="0.55"/><circle cx="638.6" cy="344.7" r="2.30" fill="#0CA0E4" stroke="#0A82C2" stroke-width="0.5"/><circle cx="618.8" cy="381.1" r="2.30" fill="#0CA0E4" stroke="#0A82C2" stroke-width="0.5"/><circle cx="600.6" cy="348.3" r="2.30" fill="#0CA0E4" stroke="#0A82C2" stroke-width="0.5"/><circle cx="605.9" cy="314.8" r="2.30" fill="#0CA0E4" stroke="#0A82C2" stroke-width="0.5"/><circle cx="614.4" cy="376.7" r="2.30" fill="#F8F200" stroke="#CEC400" stroke-width="0.55"/><circle cx="638.2" cy="308.0" r="2.30" fill="#0CA0E4" stroke="#0A82C2" stroke-width="0.5"/><circle cx="639.0" cy="380.6" r="2.30" fill="#0CA0E4" stroke="#0A82C2" stroke-width="0.5"/><circle cx="602.0" cy="310.0" r="2.30" fill="#F8F200" stroke="#CEC400" stroke-width="0.55"/><circle cx="607.0" cy="353.2" r="2.30" fill="#F8F200" stroke="#CEC400" stroke-width="0.55"/><circle cx="620.6" cy="369.0" r="2.30" fill="#F8F200" stroke="#CEC400" stroke-width="0.55"/><circle cx="622.6" cy="382.8" r="2.30" fill="#0CA0E4" stroke="#0A82C2" stroke-width="0.5"/><circle cx="616.3" cy="321.0" r="2.30" fill="#0CA0E4" stroke="#0A82C2" stroke-width="0.5"/><circle cx="606.5" cy="338.6" r="2.30" fill="#F8F200" stroke="#CEC400" stroke-width="0.55"/><circle cx="600.1" cy="296.1" r="2.30" fill="#F8F200" stroke="#CEC400" stroke-width="0.55"/><circle cx="599.8" cy="360.2" r="2.30" fill="#0CA0E4" stroke="#0A82C2" stroke-width="0.5"/><circle cx="606.2" cy="324.0" r="2.30" fill="#F8F200" stroke="#CEC400" stroke-width="0.55"/><circle cx="602.4" cy="376.1" r="2.30" fill="#0CA0E4" stroke="#0A82C2" stroke-width="0.5"/><circle cx="614.2" cy="292.6" r="2.30" fill="#0CA0E4" stroke="#0A82C2" stroke-width="0.5"/><circle cx="623.9" cy="373.0" r="2.30" fill="#0CA0E4" stroke="#0A82C2" stroke-width="0.5"/><circle cx="625.0" cy="348.8" r="2.30" fill="#0CA0E4" stroke="#0A82C2" stroke-width="0.5"/><circle cx="639.8" cy="324.2" r="2.30" fill="#0CA0E4" stroke="#0A82C2" stroke-width="0.5"/><circle cx="620.6" cy="314.3" r="2.30" fill="#0CA0E4" stroke="#0A82C2" stroke-width="0.5"/><circle cx="616.4" cy="307.6" r="2.30" fill="#0CA0E4" stroke="#0A82C2" stroke-width="0.5"/><circle cx="598.3" cy="289.5" r="2.30" fill="#0CA0E4" stroke="#0A82C2" stroke-width="0.5"/><circle cx="630.6" cy="311.3" r="2.30" fill="#F8F200" stroke="#CEC400" stroke-width="0.55"/><circle cx="625.1" cy="321.4" r="2.30" fill="#0CA0E4" stroke="#0A82C2" stroke-width="0.5"/><circle cx="628.3" cy="318.5" r="2.30" fill="#0CA0E4" stroke="#0A82C2" stroke-width="0.5"/><circle cx="625.6" cy="301.0" r="2.30" fill="#F8F200" stroke="#CEC400" stroke-width="0.55"/><circle cx="626.0" cy="341.8" r="2.30" fill="#0CA0E4" stroke="#0A82C2" stroke-width="0.5"/><circle cx="634.3" cy="292.7" r="2.30" fill="#0CA0E4" stroke="#0A82C2" stroke-width="0.5"/><circle cx="606.5" cy="300.0" r="2.30" fill="#0CA0E4" stroke="#0A82C2" stroke-width="0.5"/><circle cx="598.6" cy="317.0" r="2.30" fill="#F8F200" stroke="#CEC400" stroke-width="0.55"/><circle cx="627.2" cy="366.9" r="2.30" fill="#0CA0E4" stroke="#0A82C2" stroke-width="0.5"/><circle cx="609.2" cy="350.0" r="2.30" fill="#0CA0E4" stroke="#0A82C2" stroke-width="0.5"/><circle cx="599.4" cy="352.8" r="2.30" fill="#F8F200" stroke="#CEC400" stroke-width="0.55"/><circle cx="618.3" cy="376.2" r="2.30" fill="#F8F200" stroke="#CEC400" stroke-width="0.55"/><circle cx="632.3" cy="349.7" r="2.30" fill="#F8F200" stroke="#CEC400" stroke-width="0.55"/><circle cx="638.1" cy="313.5" r="2.30" fill="#0CA0E4" stroke="#0A82C2" stroke-width="0.5"/><circle cx="608.4" cy="373.1" r="2.30" fill="#F8F200" stroke="#CEC400" stroke-width="0.55"/><circle cx="636.3" cy="336.0" r="2.30" fill="#0CA0E4" stroke="#0A82C2" stroke-width="0.5"/><circle cx="628.4" cy="332.1" r="2.30" fill="#0CA0E4" stroke="#0A82C2" stroke-width="0.5"/><circle cx="618.0" cy="335.0" r="2.30" fill="#F8F200" stroke="#CEC400" stroke-width="0.55"/><circle cx="628.9" cy="335.9" r="2.30" fill="#0CA0E4" stroke="#0A82C2" stroke-width="0.5"/><circle cx="610.7" cy="380.2" r="2.30" fill="#0CA0E4" stroke="#0A82C2" stroke-width="0.5"/><circle cx="631.0" cy="289.0" r="2.30" fill="#F8F200" stroke="#CEC400" stroke-width="0.55"/><circle cx="607.0" cy="297.1" r="2.30" fill="#0CA0E4" stroke="#0A82C2" stroke-width="0.5"/><circle cx="630.3" cy="293.1" r="2.30" fill="#0CA0E4" stroke="#0A82C2" stroke-width="0.5"/><circle cx="624.7" cy="313.6" r="2.30" fill="#0CA0E4" stroke="#0A82C2" stroke-width="0.5"/><circle cx="623.8" cy="339.5" r="2.30" fill="#0CA0E4" stroke="#0A82C2" stroke-width="0.5"/><circle cx="622.3" cy="342.1" r="2.30" fill="#0CA0E4" stroke="#0A82C2" stroke-width="0.5"/><circle cx="610.6" cy="297.5" r="2.30" fill="#0CA0E4" stroke="#0A82C2" stroke-width="0.5"/><circle cx="624.8" cy="356.4" r="2.30" fill="#F8F200" stroke="#CEC400" stroke-width="0.55"/><circle cx="604.1" cy="360.0" r="2.30" fill="#0CA0E4" stroke="#0A82C2" stroke-width="0.5"/><circle cx="638.2" cy="359.3" r="2.30" fill="#F8F200" stroke="#CEC400" stroke-width="0.55"/><circle cx="614.6" cy="374.4" r="2.30" fill="#0CA0E4" stroke="#0A82C2" stroke-width="0.5"/><circle cx="626.4" cy="309.8" r="2.30" fill="#0CA0E4" stroke="#0A82C2" stroke-width="0.5"/><circle cx="610.3" cy="358.6" r="2.30" fill="#0CA0E4" stroke="#0A82C2" stroke-width="0.5"/><circle cx="634.0" cy="384.7" r="2.30" fill="#F8F200" stroke="#CEC400" stroke-width="0.55"/><circle cx="602.8" cy="297.8" r="2.30" fill="#0CA0E4" stroke="#0A82C2" stroke-width="0.5"/><circle cx="623.5" cy="325.1" r="2.30" fill="#0CA0E4" stroke="#0A82C2" stroke-width="0.5"/><circle cx="611.6" cy="352.1" r="2.30" fill="#F8F200" stroke="#CEC400" stroke-width="0.55"/><circle cx="632.8" cy="334.7" r="2.30" fill="#F8F200" stroke="#CEC400" stroke-width="0.55"/><circle cx="612.9" cy="370.8" r="2.30" fill="#0CA0E4" stroke="#0A82C2" stroke-width="0.5"/><circle cx="638.2" cy="289.7" r="2.30" fill="#F8F200" stroke="#CEC400" stroke-width="0.55"/><circle cx="639.6" cy="303.4" r="2.30" fill="#0CA0E4" stroke="#0A82C2" stroke-width="0.5"/><circle cx="614.3" cy="341.4" r="2.30" fill="#0CA0E4" stroke="#0A82C2" stroke-width="0.5"/><circle cx="635.1" cy="332.2" r="2.30" fill="#F8F200" stroke="#CEC400" stroke-width="0.55"/><circle cx="602.3" cy="325.2" r="2.30" fill="#0CA0E4" stroke="#0A82C2" stroke-width="0.5"/><circle cx="613.9" cy="307.1" r="2.30" fill="#0CA0E4" stroke="#0A82C2" stroke-width="0.5"/><circle cx="632.4" cy="340.9" r="2.30" fill="#0CA0E4" stroke="#0A82C2" stroke-width="0.5"/><circle cx="634.3" cy="328.6" r="2.30" fill="#0CA0E4" stroke="#0A82C2" stroke-width="0.5"/><circle cx="606.2" cy="342.1" r="2.30" fill="#F8F200" stroke="#CEC400" stroke-width="0.55"/><circle cx="637.9" cy="341.4" r="2.30" fill="#0CA0E4" stroke="#0A82C2" stroke-width="0.5"/><circle cx="601.3" cy="293.5" r="2.30" fill="#0CA0E4" stroke="#0A82C2" stroke-width="0.5"/><circle cx="606.5" cy="303.4" r="2.30" fill="#0CA0E4" stroke="#0A82C2" stroke-width="0.5"/><circle cx="634.6" cy="288.7" r="2.30" fill="#0CA0E4" stroke="#0A82C2" stroke-width="0.5"/><circle cx="634.8" cy="296.0" r="2.30" fill="#0CA0E4" stroke="#0A82C2" stroke-width="0.5"/><circle cx="618.6" cy="296.2" r="2.30" fill="#0CA0E4" stroke="#0A82C2" stroke-width="0.5"/><circle cx="620.1" cy="322.2" r="2.30" fill="#F8F200" stroke="#CEC400" stroke-width="0.55"/><circle cx="620.1" cy="289.2" r="2.30" fill="#0CA0E4" stroke="#0A82C2" stroke-width="0.5"/><circle cx="629.5" cy="299.4" r="2.30" fill="#0CA0E4" stroke="#0A82C2" stroke-width="0.5"/><circle cx="629.7" cy="313.1" r="2.30" fill="#F8F200" stroke="#CEC400" stroke-width="0.55"/><circle cx="608.7" cy="376.8" r="2.30" fill="#0CA0E4" stroke="#0A82C2" stroke-width="0.5"/><circle cx="609.0" cy="362.7" r="2.30" fill="#F8F200" stroke="#CEC400" stroke-width="0.55"/><circle cx="628.8" cy="341.8" r="2.30" fill="#0CA0E4" stroke="#0A82C2" stroke-width="0.5"/><circle cx="610.5" cy="325.1" r="2.30" fill="#F8F200" stroke="#CEC400" stroke-width="0.55"/><circle cx="613.3" cy="384.0" r="2.30" fill="#0CA0E4" stroke="#0A82C2" stroke-width="0.5"/><circle cx="620.6" cy="362.2" r="2.30" fill="#0CA0E4" stroke="#0A82C2" stroke-width="0.5"/><circle cx="615.8" cy="331.3" r="2.30" fill="#F8F200" stroke="#CEC400" stroke-width="0.55"/><circle cx="607.3" cy="365.9" r="2.30" fill="#F8F200" stroke="#CEC400" stroke-width="0.55"/><circle cx="609.6" cy="308.2" r="2.30" fill="#0CA0E4" stroke="#0A82C2" stroke-width="0.5"/><circle cx="623.1" cy="310.1" r="2.30" fill="#0CA0E4" stroke="#0A82C2" stroke-width="0.5"/><circle cx="599.2" cy="311.2" r="2.30" fill="#0CA0E4" stroke="#0A82C2" stroke-width="0.5"/><circle cx="613.0" cy="322.1" r="2.30" fill="#F8F200" stroke="#CEC400" stroke-width="0.55"/><circle cx="617.8" cy="354.9" r="2.30" fill="#0CA0E4" stroke="#0A82C2" stroke-width="0.5"/><circle cx="631.7" cy="381.3" r="2.30" fill="#0CA0E4" stroke="#0A82C2" stroke-width="0.5"/><circle cx="606.0" cy="294.3" r="2.30" fill="#F8F200" stroke="#CEC400" stroke-width="0.55"/><circle cx="624.2" cy="332.3" r="2.30" fill="#F8F200" stroke="#CEC400" stroke-width="0.55"/><circle cx="624.3" cy="345.4" r="2.30" fill="#0CA0E4" stroke="#0A82C2" stroke-width="0.5"/><circle cx="638.3" cy="355.0" r="2.30" fill="#F8F200" stroke="#CEC400" stroke-width="0.55"/><circle cx="616.3" cy="314.5" r="2.30" fill="#0CA0E4" stroke="#0A82C2" stroke-width="0.5"/><circle cx="606.3" cy="289.2" r="2.30" fill="#F8F200" stroke="#CEC400" stroke-width="0.55"/><circle cx="605.0" cy="349.0" r="2.30" fill="#0CA0E4" stroke="#0A82C2" stroke-width="0.5"/><circle cx="615.5" cy="304.4" r="2.30" fill="#0CA0E4" stroke="#0A82C2" stroke-width="0.5"/><circle cx="636.5" cy="365.4" r="2.30" fill="#F8F200" stroke="#CEC400" stroke-width="0.55"/><circle cx="608.6" cy="314.6" r="2.30" fill="#F8F200" stroke="#CEC400" stroke-width="0.55"/><circle cx="621.2" cy="292.5" r="2.30" fill="#0CA0E4" stroke="#0A82C2" stroke-width="0.5"/><circle cx="626.2" cy="376.7" r="2.30" fill="#0CA0E4" stroke="#0A82C2" stroke-width="0.5"/><circle cx="631.4" cy="338.9" r="2.30" fill="#0CA0E4" stroke="#0A82C2" stroke-width="0.5"/><circle cx="609.7" cy="334.4" r="2.30" fill="#0CA0E4" stroke="#0A82C2" stroke-width="0.5"/><circle cx="599.5" cy="346.4" r="2.30" fill="#0CA0E4" stroke="#0A82C2" stroke-width="0.5"/><circle cx="626.6" cy="296.8" r="2.30" fill="#0CA0E4" stroke="#0A82C2" stroke-width="0.5"/><circle cx="615.8" cy="345.0" r="2.30" fill="#F8F200" stroke="#CEC400" stroke-width="0.55"/><circle cx="629.7" cy="321.7" r="2.30" fill="#0CA0E4" stroke="#0A82C2" stroke-width="0.5"/><circle cx="639.2" cy="352.1" r="2.30" fill="#0CA0E4" stroke="#0A82C2" stroke-width="0.5"/><circle cx="631.5" cy="372.4" r="2.30" fill="#F8F200" stroke="#CEC400" stroke-width="0.55"/><circle cx="603.7" cy="374.0" r="2.30" fill="#F8F200" stroke="#CEC400" stroke-width="0.55"/><circle cx="632.1" cy="352.1" r="2.30" fill="#0CA0E4" stroke="#0A82C2" stroke-width="0.5"/><circle cx="628.1" cy="303.1" r="2.30" fill="#0CA0E4" stroke="#0A82C2" stroke-width="0.5"/><circle cx="600.8" cy="306.6" r="2.30" fill="#0CA0E4" stroke="#0A82C2" stroke-width="0.5"/><circle cx="630.5" cy="358.7" r="2.30" fill="#0CA0E4" stroke="#0A82C2" stroke-width="0.5"/><circle cx="619.5" cy="304.2" r="2.30" fill="#0CA0E4" stroke="#0A82C2" stroke-width="0.5"/><circle cx="629.1" cy="348.2" r="2.30" fill="#F8F200" stroke="#CEC400" stroke-width="0.55"/><circle cx="632.8" cy="314.5" r="2.30" fill="#F8F200" stroke="#CEC400" stroke-width="0.55"/><circle cx="625.2" cy="327.8" r="2.30" fill="#0CA0E4" stroke="#0A82C2" stroke-width="0.5"/><circle cx="600.8" cy="327.9" r="2.30" fill="#F8F200" stroke="#CEC400" stroke-width="0.55"/><circle cx="610.2" cy="304.3" r="2.30" fill="#0CA0E4" stroke="#0A82C2" stroke-width="0.5"/><circle cx="637.7" cy="349.9" r="2.30" fill="#0CA0E4" stroke="#0A82C2" stroke-width="0.5"/><circle cx="624.3" cy="363.5" r="2.30" fill="#F8F200" stroke="#CEC400" stroke-width="0.55"/><circle cx="628.8" cy="329.0" r="2.30" fill="#0CA0E4" stroke="#0A82C2" stroke-width="0.5"/><circle cx="604.7" cy="307.0" r="2.30" fill="#0CA0E4" stroke="#0A82C2" stroke-width="0.5"/><circle cx="633.4" cy="369.4" r="2.30" fill="#0CA0E4" stroke="#0A82C2" stroke-width="0.5"/><circle cx="607.9" cy="380.4" r="2.30" fill="#0CA0E4" stroke="#0A82C2" stroke-width="0.5"/><circle cx="619.5" cy="359.8" r="2.30" fill="#F8F200" stroke="#CEC400" stroke-width="0.55"/><circle cx="628.3" cy="363.5" r="2.30" fill="#0CA0E4" stroke="#0A82C2" stroke-width="0.5"/><circle cx="618.2" cy="292.4" r="2.30" fill="#0CA0E4" stroke="#0A82C2" stroke-width="0.5"/><circle cx="625.6" cy="369.3" r="2.30" fill="#F8F200" stroke="#CEC400" stroke-width="0.55"/><circle cx="624.2" cy="289.7" r="2.30" fill="#F8F200" stroke="#CEC400" stroke-width="0.55"/><circle cx="622.2" cy="328.8" r="2.30" fill="#0CA0E4" stroke="#0A82C2" stroke-width="0.5"/><circle cx="638.0" cy="382.7" r="2.30" fill="#0CA0E4" stroke="#0A82C2" stroke-width="0.5"/><circle cx="624.1" cy="304.3" r="2.30" fill="#0CA0E4" stroke="#0A82C2" stroke-width="0.5"/><circle cx="615.2" cy="380.4" r="2.30" fill="#F8F200" stroke="#CEC400" stroke-width="0.55"/><circle cx="622.5" cy="316.6" r="2.30" fill="#0CA0E4" stroke="#0A82C2" stroke-width="0.5"/><circle cx="612.5" cy="299.8" r="2.30" fill="#0CA0E4" stroke="#0A82C2" stroke-width="0.5"/><circle cx="620.7" cy="335.9" r="2.30" fill="#0CA0E4" stroke="#0A82C2" stroke-width="0.5"/><circle cx="622.0" cy="355.1" r="2.30" fill="#0CA0E4" stroke="#0A82C2" stroke-width="0.5"/><circle cx="638.3" cy="293.3" r="2.30" fill="#F8F200" stroke="#CEC400" stroke-width="0.55"/><circle cx="627.2" cy="289.4" r="2.30" fill="#0CA0E4" stroke="#0A82C2" stroke-width="0.5"/><circle cx="600.6" cy="334.2" r="2.30" fill="#0CA0E4" stroke="#0A82C2" stroke-width="0.5"/><circle cx="619.6" cy="331.2" r="2.30" fill="#F8F200" stroke="#CEC400" stroke-width="0.55"/><circle cx="630.8" cy="367.1" r="2.30" fill="#0CA0E4" stroke="#0A82C2" stroke-width="0.5"/><circle cx="598.3" cy="324.7" r="2.30" fill="#F8F200" stroke="#CEC400" stroke-width="0.55"/><circle cx="635.1" cy="379.2" r="2.30" fill="#0CA0E4" stroke="#0A82C2" stroke-width="0.5"/><circle cx="605.1" cy="355.7" r="2.30" fill="#0CA0E4" stroke="#0A82C2" stroke-width="0.5"/><circle cx="619.0" cy="318.1" r="2.30" fill="#0CA0E4" stroke="#0A82C2" stroke-width="0.5"/><circle cx="633.7" cy="300.9" r="2.30" fill="#F8F200" stroke="#CEC400" stroke-width="0.55"/><circle cx="618.8" cy="310.7" r="2.30" fill="#0CA0E4" stroke="#0A82C2" stroke-width="0.5"/><circle cx="639.2" cy="297.6" r="2.30" fill="#0CA0E4" stroke="#0A82C2" stroke-width="0.5"/><circle cx="635.1" cy="310.0" r="2.30" fill="#F8F200" stroke="#CEC400" stroke-width="0.55"/><circle cx="622.5" cy="307.8" r="2.30" fill="#F8F200" stroke="#CEC400" stroke-width="0.55"/><circle cx="606.5" cy="310.2" r="2.30" fill="#F8F200" stroke="#CEC400" stroke-width="0.55"/><circle cx="626.9" cy="352.4" r="2.30" fill="#0CA0E4" stroke="#0A82C2" stroke-width="0.5"/><circle cx="616.2" cy="289.9" r="2.30" fill="#0CA0E4" stroke="#0A82C2" stroke-width="0.5"/><circle cx="625.8" cy="307.7" r="2.30" fill="#F8F200" stroke="#CEC400" stroke-width="0.55"/><circle cx="616.7" cy="349.2" r="2.30" fill="#0CA0E4" stroke="#0A82C2" stroke-width="0.5"/><circle cx="612.9" cy="355.6" r="2.30" fill="#F8F200" stroke="#CEC400" stroke-width="0.55"/><circle cx="610.7" cy="373.9" r="2.30" fill="#0CA0E4" stroke="#0A82C2" stroke-width="0.5"/><circle cx="630.5" cy="324.1" r="2.30" fill="#0CA0E4" stroke="#0A82C2" stroke-width="0.5"/><circle cx="613.8" cy="336.0" r="2.30" fill="#0CA0E4" stroke="#0A82C2" stroke-width="0.5"/><circle cx="631.6" cy="346.6" r="2.30" fill="#0CA0E4" stroke="#0A82C2" stroke-width="0.5"/><circle cx="612.1" cy="290.8" r="2.30" fill="#F8F200" stroke="#CEC400" stroke-width="0.55"/><circle cx="628.2" cy="369.8" r="2.30" fill="#F8F200" stroke="#CEC400" stroke-width="0.55"/><circle cx="615.0" cy="351.7" r="2.30" fill="#0CA0E4" stroke="#0A82C2" stroke-width="0.5"/><circle cx="632.9" cy="320.2" r="2.30" fill="#F8F200" stroke="#CEC400" stroke-width="0.55"/><circle cx="630.6" cy="317.7" r="2.30" fill="#0CA0E4" stroke="#0A82C2" stroke-width="0.5"/><circle cx="614.8" cy="296.7" r="2.30" fill="#0CA0E4" stroke="#0A82C2" stroke-width="0.5"/><circle cx="625.3" cy="335.8" r="2.30" fill="#0CA0E4" stroke="#0A82C2" stroke-width="0.5"/></g><line x1="576.00" y1="383.60" x2="639.10" y2="383.60" stroke="#000" stroke-width="2"/><path d="M639.10,288.20 L396.40,288.20 L396.40,483.60 L639.10,483.60" stroke="#000" stroke-width="2.30" fill="none" stroke-linecap="square"/><line x1="639.10" y1="287.05" x2="639.10" y2="484.75" stroke="#00008B" stroke-width="2.30"/><g fill="none" stroke-linejoin="round" stroke-linecap="round"><path d="M396.5,358.6 L396.6,361.9 L396.7,365.4 L396.8,369.0 L396.9,372.7 L397.0,376.5 L397.1,380.5 L397.2,384.5 L397.3,388.6 L397.4,392.9 L397.5,397.2 L397.5,401.6 L397.6,406.1 L397.7,410.6 L397.8,415.3 L397.9,420.0 L398.0,424.7 L398.1,429.6 L398.2,434.5 L398.3,439.4 L398.4,444.3 L398.5,449.4 L398.6,454.4 L398.7,459.5 L398.8,464.5 L398.9,469.6 L399.0,474.8 L399.1,479.9 L399.2,474.8 L399.3,469.8 L399.4,464.7 L399.5,459.7 L399.6,454.7 L399.7,449.7 L399.8,444.8 L399.9,439.9 L400.0,435.0 L400.1,430.2 L400.2,425.4 L400.3,420.7 L400.4,416.0 L400.5,411.4 L400.6,406.9 L400.7,402.5 L400.8,398.1 L400.9,393.8 L401.0,389.6 L401.1,385.5 L401.2,381.5 L401.3,377.6 L401.4,373.8 L401.4,370.1 L401.5,366.6 L401.6,363.1 L401.7,359.8 L401.8,356.5 L401.9,353.4 L402.0,350.5 L402.1,347.7 L402.2,345.0 L402.3,342.4 L402.4,340.0 L402.5,337.7 L402.6,335.6 L402.7,333.6 L402.8,331.8 L402.9,330.2 L403.0,328.6 L403.1,327.3 L403.2,326.1 L403.3,325.0 L403.4,324.1 L403.5,323.4 L403.6,322.8 L403.7,322.4 L403.8,322.2 L403.9,322.1 L404.0,322.2 L404.1,322.4 L404.2,322.8 L404.3,323.4 L404.4,324.1 L404.5,325.0 L404.6,326.1 L404.7,327.3 L404.7,328.6 L404.8,330.2 L404.9,331.8 L405.0,333.6 L405.1,335.6 L405.2,337.7 L405.3,340.0 L405.4,342.4 L405.5,345.0 L405.6,347.7 L405.7,350.5 L405.8,353.4 L405.9,356.5 L406.0,359.8 L406.1,363.1 L406.2,366.6 L406.3,370.1 L406.4,373.8 L406.5,377.6 L406.6,381.5 L406.7,385.5 L406.8,389.6 L406.9,393.8 L407.0,398.1 L407.1,402.5 L407.2,406.9 L407.3,411.4 L407.4,416.0 L407.5,420.7 L407.6,425.4 L407.7,430.2 L407.8,435.0 L407.9,439.9 L408.0,444.8 L408.0,449.7 L408.1,454.7 L408.2,459.7 L408.3,464.7 L408.4,469.8 L408.5,474.8 L408.6,479.9 L408.7,474.8 L408.8,469.8 L408.9,464.8 L409.0,459.8 L409.1,454.8 L409.2,449.9 L409.3,445.0 L409.4,440.1 L409.5,435.2 L409.6,430.4 L409.7,425.7 L409.8,421.0 L409.9,416.3 L410.0,411.8 L410.1,407.3 L410.2,402.9 L410.3,398.5 L410.4,394.3 L410.5,390.1 L410.6,386.0 L410.7,382.0 L410.8,378.1 L410.9,374.4 L411.0,370.7 L411.1,367.1 L411.2,363.7 L411.3,360.4 L411.4,357.2 L411.4,354.1 L411.5,351.1 L411.6,348.3 L411.7,345.7 L411.8,343.1 L411.9,340.7 L412.0,338.5 L412.1,336.4 L412.2,334.4 L412.3,332.6 L412.4,330.9 L412.5,329.4 L412.6,328.1 L412.7,326.9 L412.8,325.8 L412.9,324.9 L413.0,324.2 L413.1,323.6 L413.2,323.2 L413.3,323.0 L413.4,322.9 L413.5,323.0 L413.6,323.2 L413.7,323.6 L413.8,324.2 L413.9,324.9 L414.0,325.8 L414.1,326.9 L414.2,328.1 L414.3,329.4 L414.4,330.9 L414.5,332.6 L414.6,334.4 L414.7,336.4 L414.7,338.5 L414.8,340.7 L414.9,343.1 L415.0,345.7 L415.1,348.3 L415.2,351.1 L415.3,354.1 L415.4,357.2 L415.5,360.4 L415.6,363.7 L415.7,367.1 L415.8,370.7 L415.9,374.4 L416.0,378.1 L416.1,382.0 L416.2,386.0 L416.3,390.1 L416.4,394.3 L416.5,398.5 L416.6,402.9 L416.7,407.3 L416.8,411.8 L416.9,416.3 L417.0,421.0 L417.1,425.7 L417.2,430.4 L417.3,435.2 L417.4,440.1 L417.5,445.0 L417.6,449.9 L417.7,454.8 L417.8,459.8 L417.9,464.8 L418.0,469.8 L418.0,474.8 L418.1,479.9 L418.2,474.8 L418.3,469.8 L418.4,464.7 L418.5,459.7 L418.6,454.7 L418.7,449.7 L418.8,444.7 L418.9,439.8 L419.0,434.9 L419.1,430.1 L419.2,425.3 L419.3,420.6 L419.4,415.9 L419.5,411.3 L419.6,406.8 L419.7,402.3 L419.8,397.9 L419.9,393.6 L420.0,389.4 L420.1,385.3 L420.2,381.3 L420.3,377.4 L420.4,373.6 L420.5,369.9 L420.6,366.3 L420.7,362.9 L420.8,359.5 L420.9,356.3 L421.0,353.2 L421.1,350.2 L421.2,347.4 L421.3,344.7 L421.4,342.1 L421.5,339.7 L421.6,337.5 L421.7,335.3 L421.8,333.4 L421.9,331.5 L422.0,329.9 L422.0,328.3 L422.1,327.0 L422.2,325.8 L422.3,324.7 L422.4,323.8 L422.5,323.1 L422.6,322.5 L422.7,322.1 L422.8,321.9 L422.9,321.8 L423.0,321.9 L423.1,322.1 L423.2,322.5 L423.3,323.1 L423.4,323.8 L423.5,324.7 L423.6,325.8 L423.7,327.0 L423.8,328.3 L423.9,329.9 L424.0,331.5 L424.1,333.4 L424.2,335.3 L424.3,337.5 L424.4,339.7 L424.5,342.1 L424.6,344.7 L424.7,347.4 L424.8,350.2 L424.9,353.2 L425.0,356.3 L425.1,359.5 L425.2,362.9 L425.3,366.3 L425.4,369.9 L425.5,373.6 L425.6,377.4 L425.7,381.3 L425.8,385.3 L425.9,389.4 L426.0,393.6 L426.0,397.9 L426.1,402.3 L426.2,406.8 L426.3,411.3 L426.4,415.9 L426.5,420.6 L426.6,425.3 L426.7,430.1 L426.8,434.9 L426.9,439.8 L427.0,444.7 L427.1,449.7 L427.2,454.7 L427.3,459.7 L427.4,464.7 L427.5,469.8 L427.6,474.8 L427.7,479.9 L427.8,474.8 L427.9,469.8 L428.0,464.8 L428.1,459.8 L428.2,454.8 L428.3,449.9 L428.4,445.0 L428.5,440.1 L428.6,435.2 L428.7,430.4 L428.8,425.7 L428.9,421.0 L429.0,416.3 L429.1,411.8 L429.2,407.3 L429.3,402.9 L429.4,398.5 L429.5,394.3 L429.6,390.1 L429.7,386.0 L429.8,382.0 L429.9,378.1 L430.0,374.4 L430.1,370.7 L430.1,367.1 L430.2,363.7 L430.3,360.4 L430.4,357.2 L430.5,354.1 L430.6,351.1 L430.7,348.3 L430.8,345.7 L430.9,343.1 L431.0,340.7 L431.1,338.5 L431.2,336.4 L431.3,334.4 L431.4,332.6 L431.5,330.9 L431.6,329.4 L431.7,328.1 L431.8,326.9 L431.9,325.8 L432.0,324.9 L432.1,324.2 L432.2,323.6 L432.3,323.2 L432.4,323.0 L432.5,322.9 L432.6,323.0 L432.7,323.2 L432.8,323.6 L432.9,324.2 L433.0,324.9 L433.1,325.8 L433.2,326.9 L433.3,328.1 L433.4,329.4 L433.5,330.9 L433.6,332.6 L433.7,334.4 L433.8,336.4 L433.9,338.5 L434.0,340.7 L434.1,343.1 L434.1,345.7 L434.2,348.3 L434.3,351.1 L434.4,354.1 L434.5,357.2 L434.6,360.4 L434.7,363.7 L434.8,367.1 L434.9,370.7 L435.0,374.4 L435.1,378.1 L435.2,382.0 L435.3,386.0 L435.4,390.1 L435.5,394.3 L435.6,398.5 L435.7,402.9 L435.8,407.3 L435.9,411.8 L436.0,416.3 L436.1,421.0 L436.2,425.7 L436.3,430.4 L436.4,435.2 L436.5,440.1 L436.6,445.0 L436.7,449.9 L436.8,454.8 L436.9,459.8 L437.0,464.8 L437.1,469.8 L437.2,474.8 L437.3,479.9 L437.4,474.7 L437.5,469.4 L437.6,464.2 L437.7,459.0 L437.8,453.9 L437.9,448.7 L438.0,443.6 L438.1,438.6 L438.2,433.5 L438.3,428.6 L438.3,423.6 L438.4,418.8 L438.5,414.0 L438.6,409.2 L438.7,404.6 L438.8,400.0 L438.9,395.5 L439.0,391.1 L439.1,386.8 L439.2,382.6 L439.3,378.5 L439.4,374.4 L439.5,370.5 L439.6,366.8 L439.7,363.1 L439.8,359.6 L439.9,356.1 L440.0,352.9 L440.1,349.7 L440.2,346.7 L440.3,343.8 L440.4,341.1 L440.5,338.5 L440.6,336.1 L440.7,333.8 L440.8,331.6 L440.9,329.7 L441.0,327.8 L441.1,326.2 L441.2,324.7 L441.3,323.3 L441.4,322.2 L441.5,321.2 L441.6,320.3 L441.7,319.6 L441.8,319.1 L441.9,318.8 L442.0,318.6 L442.1,318.6 L442.2,318.8 L442.3,319.1 L442.4,319.6 L442.5,320.3 L442.6,321.2 L442.7,322.2 L442.8,323.3 L442.9,324.7 L443.0,326.2 L443.1,327.8 L443.2,329.7 L443.3,331.6 L443.4,333.8 L443.4,336.1 L443.5,338.5 L443.6,341.1 L443.7,343.8 L443.8,346.7 L443.9,349.7 L444.0,352.9 L444.1,356.1 L444.2,359.6 L444.3,363.1 L444.4,366.8 L444.5,370.5 L444.6,374.4 L444.7,378.5 L444.8,382.6 L444.9,386.8 L445.0,391.1 L445.1,395.5 L445.2,400.0 L445.3,404.6 L445.4,409.2 L445.5,414.0 L445.6,418.8 L445.7,423.6 L445.8,428.6 L445.9,433.5 L446.0,438.6 L446.1,443.6 L446.2,448.7 L446.3,453.9 L446.4,459.0 L446.5,464.2 L446.6,469.4 L446.7,474.7 L446.8,479.9 L446.9,475.6 L447.0,471.3 L447.1,467.0 L447.2,462.8 L447.3,458.5 L447.4,454.3 L447.5,450.0 L447.6,445.8 L447.7,441.7 L447.8,437.5 L447.9,433.4 L447.9,429.4 L448.0,425.3 L448.1,421.4 L448.2,417.4 L448.3,413.5 L448.4,409.7 L448.5,405.9 L448.6,402.2 L448.7,398.6 L448.8,395.0 L448.9,391.4 L449.0,388.0 L449.1,384.6 L449.2,381.3 L449.3,378.1 L449.4,375.0 L449.5,371.9 L449.6,368.9 L449.7,366.0 L449.8,363.2 L449.9,360.6 L450.0,357.9 L450.1,355.4 L450.2,353.0 L450.3,350.7 L450.4,348.5 L450.5,346.4 L450.6,344.5 L450.7,342.6 L450.8,340.8 L450.9,339.1 L451.0,337.6 L451.1,336.2 L451.2,334.9 L451.3,333.7 L451.3,332.6 L451.4,331.6 L451.5,330.8 L451.6,330.0 L451.7,329.4 L451.8,328.9 L451.9,328.6 L452.0,328.3 L452.1,328.2 L452.2,328.2 L452.3,328.3 L452.4,328.6 L452.5,328.9 L452.6,329.4 L452.7,330.0 L452.8,330.8 L452.9,331.6 L453.0,332.6 L453.1,333.7 L453.2,334.9 L453.3,336.2 L453.4,337.6 L453.5,339.2 L453.6,340.8 L453.7,342.6 L453.8,344.5 L453.9,346.5 L454.0,348.5 L454.1,350.8 L454.2,353.1 L454.3,355.5 L454.4,358.0 L454.5,360.6 L454.6,363.3 L454.6,366.1 L454.7,369.0 L454.8,371.9 L454.9,375.0 L455.0,378.1 L455.1,381.4 L455.2,384.7 L455.3,388.1 L455.4,391.5 L455.5,395.1 L455.6,398.7 L455.7,402.3 L455.8,406.0 L455.9,409.8 L456.0,413.7 L456.1,417.6 L456.2,421.5 L456.3,425.5 L456.4,429.5 L456.5,433.6 L456.6,437.7 L456.7,441.9 L456.8,446.1 L456.9,450.3 L457.0,454.5 L457.1,458.7 L457.2,463.0 L457.3,467.3 L457.4,471.6 L457.5,475.9 L457.6,480.2 L457.8,479.8 L457.9,478.6 L458.1,476.6 L458.3,473.9 L458.5,470.6 L458.7,466.9 L458.9,462.8 L459.1,458.6 L459.3,454.4 L459.5,450.3 L459.7,446.6 L459.9,443.3 L460.1,440.6 L460.3,438.6 L460.5,437.4 L460.7,437.0 L460.9,437.4 L461.1,438.4 L461.3,440.1 L461.5,442.4 L461.7,445.0 L461.9,447.9 L462.1,450.9 L462.3,453.8 L462.5,456.4 L462.8,458.7 L463.0,460.4 L463.2,461.4 L463.4,461.8 L463.6,461.6 L463.8,461.1 L464.0,460.2 L464.2,459.0 L464.4,457.6 L464.6,456.0 L464.7,454.3 L464.9,452.5 L465.1,450.8 L465.3,449.2 L465.5,447.8 L465.7,446.6 L465.9,445.7 L466.1,445.2 L466.3,445.0 L466.5,445.1 L466.7,445.6 L466.9,446.3 L467.1,447.2 L467.3,448.2 L467.5,449.3 L467.7,450.4 L467.9,451.5 L468.0,452.4 L468.2,453.1 L468.4,453.5 L468.6,453.6 L468.8,453.5 L469.0,453.2 L469.2,452.8 L469.4,452.1 L469.6,451.2 L469.8,450.2 L470.0,449.1 L470.2,447.9 L470.4,446.6 L470.6,445.2 L470.8,443.8 L471.0,442.4 L471.2,441.0 L471.4,439.7 L471.6,438.5 L471.8,437.4 L472.0,436.4 L472.2,435.5 L472.4,434.8 L472.6,434.4 L472.8,434.1 L473.0,434.0 L473.2,434.1 L473.4,434.3 L473.6,434.8 L473.8,435.4 L474.0,436.2 L474.2,437.2 L474.4,438.2 L474.6,439.4 L474.8,440.6 L475.0,441.9 L475.2,443.2 L475.4,444.6 L475.6,445.9 L475.8,447.1 L476.0,448.3 L476.2,449.3 L476.4,450.3 L476.6,451.0 L476.8,451.7 L477.0,452.1 L477.2,452.4 L477.4,452.5 L477.6,452.5 L477.8,452.3 L477.9,452.0 L478.1,451.6 L478.3,451.1 L478.5,450.6 L478.7,450.1 L478.9,449.6 L479.1,449.1 L479.3,448.7 L479.5,448.4 L479.7,448.3 L479.9,448.2 L480.1,448.3 L480.3,448.5 L480.5,448.9 L480.7,449.4 L480.9,450.0 L481.1,450.7 L481.3,451.4 L481.6,452.1 L481.8,452.8 L482.0,453.4 L482.2,453.9 L482.4,454.3 L482.6,454.5 L482.8,454.6 L483.0,454.6 L483.2,454.5 L483.4,454.3 L483.6,454.0 L483.8,453.7 L484.0,453.3 L484.2,452.9 L484.4,452.4 L484.6,451.8 L484.8,451.2 L485.0,450.6 L485.2,450.0 L485.4,449.3 L485.6,448.7 L485.8,448.0 L486.0,447.4 L486.2,446.7 L486.4,446.1 L486.6,445.5 L486.8,445.0 L487.0,444.5 L487.1,444.1 L487.3,443.7 L487.5,443.3 L487.7,443.1 L487.9,442.9 L488.1,442.8 L488.3,442.8 L488.5,442.9 L488.7,443.5 L488.9,444.3 L489.1,445.5 L489.3,446.9 L489.5,448.5 L489.7,450.2 L489.9,452.0 L490.1,453.9 L490.3,455.6 L490.5,457.2 L490.7,458.6 L490.9,459.8 L491.1,460.6 L491.3,461.1 L491.5,461.3 L491.7,461.2 L491.9,461.0 L492.1,460.7 L492.3,460.2 L492.5,459.6 L492.7,458.9 L492.9,458.1 L493.1,457.3 L493.3,456.5 L493.5,455.7 L493.7,455.0 L493.9,454.3 L494.1,453.7 L494.3,453.2 L494.5,452.8 L494.7,452.6 L494.9,452.5 L495.1,452.6 L495.3,452.7 L495.5,453.0 L495.7,453.4 L495.9,453.9 L496.1,454.4 L496.3,455.1 L496.5,455.7 L496.7,456.5 L496.9,457.3 L497.1,458.0 L497.3,458.8 L497.5,459.6 L497.7,460.3 L497.9,461.0 L498.1,461.7 L498.3,462.2 L498.5,462.7 L498.7,463.1 L498.9,463.3 L499.1,463.5 L499.3,463.6 L499.5,463.4 L499.7,463.1 L499.9,462.5 L500.1,461.8 L500.3,460.9 L500.5,459.9 L500.7,458.7 L501.0,457.6 L501.2,456.4 L501.4,455.3 L501.6,454.2 L501.8,453.3 L502.0,452.6 L502.2,452.0 L502.4,451.7 L502.6,451.6 L502.8,451.6 L503.0,451.7 L503.2,452.0 L503.4,452.3 L503.6,452.7 L503.8,453.2 L504.0,453.8 L504.2,454.4 L504.4,455.1 L504.6,455.8 L504.8,456.6 L505.0,457.4 L505.2,458.2 L505.4,459.0 L505.6,459.8 L505.8,460.6 L506.0,461.4 L506.2,462.1 L506.4,462.8 L506.6,463.4 L506.8,464.0 L507.0,464.5 L507.2,464.9 L507.4,465.2 L507.6,465.5 L507.8,465.6 L508.0,465.6 L508.2,465.6 L508.5,465.3 L508.7,465.0 L508.9,464.5 L509.1,463.9 L509.3,463.1 L509.5,462.3 L509.7,461.5 L509.9,460.6 L510.1,459.7 L510.3,458.8 L510.5,457.9 L510.7,457.1 L510.9,456.4 L511.1,455.8 L511.3,455.3 L511.5,454.9 L511.7,454.7 L511.9,454.6 L512.1,454.7 L512.3,454.9 L512.5,455.4 L512.7,455.9 L512.9,456.6 L513.1,457.4 L513.3,458.2 L513.5,459.0 L513.7,459.8 L513.9,460.6 L514.1,461.3 L514.3,461.8 L514.4,462.3 L514.6,462.5 L514.8,462.6 L515.0,462.5 L515.2,462.2 L515.4,461.8 L515.6,461.2 L515.8,460.5 L516.1,459.8 L516.3,459.1 L516.5,458.4 L516.7,457.8 L516.9,457.4 L517.1,457.1 L517.3,457.0 L517.5,457.2 L517.7,457.6 L517.9,458.3 L518.1,459.3 L518.3,460.4 L518.5,461.7 L518.7,463.0 L518.9,464.3 L519.1,465.6 L519.3,466.7 L519.5,467.7 L519.7,468.4 L519.9,468.8 L520.1,469.0 L520.3,468.8 L520.5,468.3 L520.7,467.3 L520.9,466.1 L521.1,464.6 L521.3,462.9 L521.5,461.1 L521.7,459.2 L521.9,457.2 L522.1,455.4 L522.3,453.7 L522.6,452.2 L522.8,451.0 L523.0,450.1 L523.2,449.5 L523.4,449.3 L523.6,449.4 L523.8,449.7 L524.0,450.2 L524.2,450.8 L524.4,451.6 L524.5,452.5 L524.7,453.6 L524.9,454.7 L525.1,456.0 L525.3,457.3 L525.5,458.6 L525.7,459.9 L525.9,461.2 L526.1,462.5 L526.3,463.6 L526.5,464.7 L526.7,465.6 L526.9,466.4 L527.1,467.0 L527.3,467.5 L527.5,467.8 L527.7,467.9 L527.8,467.8 L528.0,467.5 L528.2,467.1 L528.4,466.5 L528.6,465.8 L528.8,464.9 L529.0,464.0 L529.2,462.9 L529.4,461.7 L529.6,460.5 L529.8,459.2 L530.0,458.0 L530.2,456.7 L530.4,455.5 L530.6,454.3 L530.8,453.2 L531.0,452.3 L531.1,451.4 L531.3,450.7 L531.5,450.1 L531.7,449.7 L531.9,449.4 L532.1,449.3 L532.3,449.4 L532.5,449.7 L532.7,450.3 L532.9,451.0 L533.1,451.8 L533.3,452.9 L533.5,454.1 L533.7,455.4 L533.9,456.7 L534.1,458.2 L534.3,459.6 L534.5,461.1 L534.7,462.5 L534.9,463.9 L535.1,465.2 L535.3,466.4 L535.5,467.4 L535.7,468.3 L535.9,469.0 L536.1,469.5 L536.3,469.9 L536.5,470.0 L536.7,469.9 L536.9,469.6 L537.1,469.2 L537.3,468.6 L537.5,467.8 L537.7,466.9 L537.8,465.9 L538.0,464.8 L538.2,463.7 L538.4,462.5 L538.6,461.3 L538.8,460.1 L539.0,458.9 L539.2,457.8 L539.4,456.8 L539.6,456.0 L539.8,455.2 L540.0,454.6 L540.2,454.2 L540.4,453.9 L540.6,453.8 L540.8,453.9 L541.0,454.4 L541.2,455.1 L541.4,456.0 L541.6,457.1 L541.8,458.2 L542.0,459.3 L542.2,460.4 L542.4,461.3 L542.6,462.0 L542.8,462.5 L543.0,462.6 L543.2,462.3 L543.4,461.5 L543.6,460.3 L543.8,458.7 L544.0,456.9 L544.2,455.0 L544.4,453.2 L544.6,451.6 L544.8,450.4 L545.0,449.6 L545.2,449.3 L545.4,449.4 L545.6,449.6 L545.8,449.9 L546.0,450.3 L546.2,450.9 L546.4,451.6 L546.6,452.3 L546.8,453.2 L547.0,454.1 L547.2,455.2 L547.4,456.2 L547.6,457.3 L547.8,458.5 L548.0,459.6 L548.2,460.8 L548.4,461.9 L548.6,463.0 L548.8,464.1 L549.0,465.1 L549.2,466.1 L549.4,466.9 L549.6,467.7 L549.8,468.4 L550.0,468.9 L550.2,469.4 L550.4,469.7 L550.6,469.9 L550.8,470.0 L551.0,469.9 L551.2,469.6 L551.4,469.2 L551.6,468.6 L551.8,467.9 L552.0,467.0 L552.2,466.1 L552.4,465.2 L552.6,464.2 L552.8,463.2 L553.0,462.3 L553.2,461.5 L553.4,460.8 L553.6,460.2 L553.8,459.8 L554.0,459.5 L554.2,459.4 L554.3,459.4 L554.5,459.3 L554.7,459.1 L554.9,458.9 L555.1,458.6 L555.3,458.3 L555.5,457.9 L555.7,457.6 L555.9,457.2 L556.1,456.9 L556.3,456.5 L556.5,456.3 L556.7,456.0 L556.9,455.9 L557.1,455.8 L557.3,455.7 L557.5,455.8 L557.7,455.9 L557.9,456.1 L558.1,456.4 L558.2,456.8 L558.4,457.3 L558.6,457.8 L558.8,458.4 L559.0,459.1 L559.2,459.8 L559.4,460.5 L559.6,461.3 L559.8,462.0 L560.0,462.8 L560.2,463.6 L560.4,464.4 L560.6,465.2 L560.8,465.9 L561.0,466.6 L561.2,467.3 L561.4,467.9 L561.6,468.4 L561.8,468.9 L562.0,469.3 L562.2,469.6 L562.4,469.8 L562.6,469.9 L562.8,470.0 L563.0,469.9 L563.2,469.7 L563.4,469.4 L563.6,469.0 L563.8,468.5 L564.0,467.9 L564.2,467.3 L564.4,466.6 L564.6,465.9 L564.9,465.3 L565.1,464.6 L565.3,464.1 L565.5,463.6 L565.7,463.2 L565.9,462.8 L566.1,462.7 L566.3,462.6 L566.5,462.6 L566.7,462.4 L566.9,462.3 L567.1,462.0 L567.3,461.7 L567.5,461.4 L567.7,461.0 L567.9,460.7 L568.1,460.3 L568.3,460.0 L568.5,459.7 L568.7,459.4 L568.9,459.2 L569.1,459.1 L569.3,459.1 L569.5,459.2 L569.7,459.6 L569.9,460.2 L570.1,461.0 L570.3,462.0 L570.5,463.2 L570.7,464.4 L570.9,465.7 L571.2,467.0 L571.4,468.3 L571.6,469.4 L571.8,470.4 L572.0,471.2 L572.2,471.9 L572.4,472.2 L572.6,472.4 L572.8,472.3 L573.0,472.1 L573.2,471.8 L573.4,471.4 L573.6,470.9 L573.8,470.3 L574.0,469.7 L574.2,469.0 L574.4,468.3 L574.6,467.7 L574.8,467.0 L575.0,466.5 L575.2,466.0 L575.4,465.6 L575.6,465.2 L575.8,465.1 L576.0,465.0 L576.2,465.1 L576.4,465.2 L576.6,465.5 L576.8,465.9 L577.0,466.4 L577.2,466.9 L577.4,467.5 L577.6,468.1 L577.7,468.7 L577.9,469.2 L578.1,469.7 L578.3,470.1 L578.5,470.4 L578.7,470.5 L578.9,470.6 L579.1,470.7 L579.3,471.1 L579.5,471.6 L579.8,472.4 L580.0,473.2 L580.2,474.1 L580.4,475.0 L580.6,475.9 L580.8,476.6 L581.0,477.2 L581.2,477.5 L581.4,477.6 L581.6,477.6 L581.8,477.7 L582.0,477.7 L582.2,477.7 L582.4,477.7 L582.6,477.8 L582.8,477.8 L583.0,477.9 L583.2,478.0 L583.4,478.0 L583.6,478.1 L583.8,478.2 L584.0,478.2 L584.2,478.3 L584.3,478.4 L584.5,478.5 L584.7,478.5 L584.9,478.6 L585.1,478.7 L585.3,478.7 L585.5,478.8 L585.7,478.8 L585.9,478.9 L586.1,478.9 L586.3,478.9 L586.5,478.9 L586.7,478.9 L586.9,478.9 L587.1,478.9 L587.3,479.0 L587.5,479.0 L587.7,479.0 L587.9,479.1 L588.1,479.1 L588.3,479.1 L588.5,479.2 L588.7,479.3 L588.9,479.3 L589.1,479.4 L589.3,479.5 L589.5,479.5 L589.7,479.6 L589.9,479.7 L590.1,479.7 L590.3,479.8 L590.5,479.9 L590.7,479.9 L590.9,480.0 L591.1,480.0 L591.3,480.1 L591.5,480.1 L591.7,480.1 L591.9,480.2 L592.1,480.2 L592.3,480.2 L592.5,480.2 L592.7,480.2 L592.9,480.2 L593.1,480.2 L593.3,480.2 L593.5,480.2 L593.7,480.2 L593.9,480.2 L594.1,480.2 L594.3,480.2 L594.5,480.2 L594.6,480.2 L594.8,480.2 L595.0,480.2 L595.2,480.2 L595.4,480.2 L595.6,480.2 L595.8,480.2 L596.0,480.2 L596.2,480.2 L596.4,480.2 L596.6,480.2 L596.8,480.2 L597.0,480.2 L597.2,480.2 L597.4,480.2 L597.6,480.2 L597.8,480.2 L598.0,480.2 L598.2,480.2 L598.3,480.2 L598.5,480.2 L598.7,480.2 L598.9,480.2 L599.1,480.2 L599.3,480.2 L599.5,480.2 L599.7,480.2 L599.9,480.2 L600.1,480.2 L600.3,480.2 L600.5,480.2 L600.7,480.2 L600.9,480.2 L601.1,480.2 L601.3,480.2 L601.5,480.2 L601.7,480.2 L601.9,480.2 L602.1,480.2 L602.2,480.2 L602.4,480.2 L602.6,480.2 L602.8,480.2 L603.0,480.2 L603.2,480.2 L603.4,480.2 L603.6,480.2 L603.8,480.2 L604.0,480.2 L604.2,480.2 L604.4,480.2 L604.6,480.2 L604.8,480.2 L605.0,480.2 L605.2,480.2 L605.4,480.2 L605.6,480.2 L605.8,480.2 L606.0,480.2 L606.1,480.2 L606.3,480.2 L606.5,480.2 L606.7,480.2 L606.9,480.2 L607.1,480.2 L607.3,480.2 L607.5,480.2 L607.7,480.2 L607.9,480.2 L608.1,480.2 L608.3,480.2 L608.5,480.2 L608.7,480.2 L608.9,480.2 L609.1,480.2 L609.3,480.2 L609.5,480.2 L609.7,480.2 L609.8,480.2 L610.0,480.2 L610.2,480.2 L610.4,480.2 L610.6,480.2 L610.8,480.2 L611.0,480.2 L611.2,480.2 L611.4,480.2 L611.6,480.2 L611.8,480.2 L612.0,480.2 L612.2,480.2 L612.4,480.2 L612.6,480.2 L612.8,480.2 L613.0,480.2 L613.2,480.2 L613.4,480.2 L613.6,480.2 L613.7,480.2 L613.9,480.2 L614.1,480.2 L614.3,480.2 L614.5,480.2 L614.7,480.2 L614.9,480.2 L615.1,480.2 L615.3,480.2 L615.5,480.2 L615.7,480.2 L615.9,480.2 L616.1,480.2 L616.3,480.2 L616.5,480.2 L616.7,480.2 L616.9,480.2 L617.1,480.2 L617.3,480.2 L617.5,480.2 L617.6,480.2 L617.8,480.2 L618.0,480.2 L618.2,480.2 L618.4,480.2 L618.6,480.2 L618.8,480.2 L619.0,480.2 L619.2,480.2 L619.4,480.2 L619.6,480.2 L619.8,480.2 L620.0,480.2 L620.2,480.2 L620.4,480.2 L620.6,480.2 L620.8,480.2 L621.0,480.2 L621.2,480.2 L621.4,480.2 L621.5,480.2 L621.7,480.2 L621.9,480.2 L622.1,480.2 L622.3,480.2 L622.5,480.2 L622.7,480.2 L622.9,480.2 L623.1,480.2 L623.3,480.2 L623.5,480.2 L623.7,480.2 L623.9,480.2 L624.1,480.2 L624.3,480.2 L624.5,480.2 L624.7,480.2 L624.9,480.2 L625.1,480.2 L625.2,480.2 L625.4,480.2 L625.6,480.2 L625.8,480.2 L626.0,480.2 L626.2,480.2 L626.4,480.2 L626.6,480.2 L626.8,480.2 L627.0,480.2 L627.2,480.2 L627.4,480.2 L627.6,480.2 L627.8,480.2 L628.0,480.2 L628.2,480.2 L628.4,480.2 L628.6,480.2 L628.8,480.2 L629.0,480.2 L629.1,480.2 L629.3,480.2 L629.5,480.2 L629.7,480.2 L629.9,480.2 L630.1,480.2 L630.3,480.2 L630.5,480.2 L630.7,480.2 L630.9,480.2 L631.1,480.2 L631.3,480.2 L631.5,480.2 L631.7,480.2 L631.9,480.2 L632.1,480.2 L632.3,480.2 L632.5,480.2 L632.7,480.2 L632.9,480.2 L633.0,480.2 L633.2,480.2 L633.4,480.2 L633.6,480.2 L633.8,480.2 L634.0,480.2 L634.2,480.2 L634.4,480.2 L634.6,480.2 L634.8,480.2 L635.0,480.2 L635.2,480.2 L635.4,480.2 L635.6,480.2 L635.8,480.2 L636.0,480.2 L636.2,480.2 L636.4,480.2 L636.6,480.2 L636.7,480.2 L636.9,480.2 L637.1,480.2 L637.3,480.2 L637.5,480.2 L637.7,480.2 L637.9,480.2 L638.1,480.2 L638.3,480.2 L638.5,480.2 L638.7,480.2 L638.9,480.2 L639.1,480.2" stroke="#C2BE00" stroke-width="1.90"/><path d="M396.4,412.8 L456.6,412.8 L464.8,451.4 L473.1,447.2 L480.0,451.1 L491.5,454.6 L503.2,457.5 L520.7,459.4 L531.3,462.9 L539.6,461.8 L549.8,465.2 L561.4,465.8 L575.8,466.3 L592.5,480.2 L639.1,480.2" stroke="#FF8000" stroke-width="2.4"/><path d="M396.4,480.2 L396.6,480.2 L396.8,480.2 L397.0,480.2 L397.2,480.2 L397.4,480.2 L397.6,480.2 L397.8,480.2 L398.0,480.2 L398.1,480.2 L398.3,480.2 L398.5,480.2 L398.7,480.2 L398.9,480.2 L399.1,480.2 L399.3,480.2 L399.5,480.2 L399.7,480.2 L399.9,480.2 L400.1,480.2 L400.3,480.2 L400.5,480.2 L400.7,480.2 L400.9,480.2 L401.1,480.2 L401.3,480.2 L401.4,480.2 L401.6,480.2 L401.8,480.2 L402.0,480.2 L402.2,480.2 L402.4,480.2 L402.6,480.2 L402.8,480.2 L403.0,480.2 L403.2,480.2 L403.4,480.2 L403.6,480.2 L403.8,480.2 L404.0,480.2 L404.2,480.2 L404.4,480.2 L404.6,480.2 L404.7,480.2 L404.9,480.2 L405.1,480.2 L405.3,480.2 L405.5,480.2 L405.7,480.2 L405.9,480.2 L406.1,480.2 L406.3,480.2 L406.5,480.2 L406.7,480.2 L406.9,480.2 L407.1,480.2 L407.3,480.2 L407.5,480.2 L407.7,480.2 L407.9,480.2 L408.0,480.2 L408.2,480.2 L408.4,480.2 L408.6,480.2 L408.8,480.2 L409.0,480.2 L409.2,480.2 L409.4,480.2 L409.6,480.2 L409.8,480.2 L410.0,480.2 L410.2,480.2 L410.4,480.2 L410.6,480.2 L410.8,480.2 L411.0,480.2 L411.2,480.2 L411.4,480.2 L411.5,480.2 L411.7,480.2 L411.9,480.2 L412.1,480.2 L412.3,480.2 L412.5,480.2 L412.7,480.2 L412.9,480.2 L413.1,480.2 L413.3,480.2 L413.5,480.2 L413.7,480.2 L413.9,480.2 L414.1,480.2 L414.3,480.2 L414.5,480.2 L414.7,480.2 L414.8,480.2 L415.0,480.2 L415.2,480.2 L415.4,480.2 L415.6,480.2 L415.8,480.2 L416.0,480.2 L416.2,480.2 L416.4,480.2 L416.6,480.2 L416.8,480.2 L417.0,480.2 L417.2,480.2 L417.4,480.2 L417.6,480.2 L417.8,480.2 L418.0,480.2 L418.1,480.2 L418.3,480.2 L418.5,480.2 L418.7,480.2 L418.9,480.2 L419.1,480.2 L419.3,480.2 L419.5,480.2 L419.7,480.2 L419.9,480.2 L420.1,480.2 L420.3,480.2 L420.5,480.2 L420.7,480.2 L420.9,480.2 L421.1,480.2 L421.3,480.2 L421.4,480.2 L421.6,480.2 L421.8,480.2 L422.0,480.2 L422.2,480.2 L422.4,480.2 L422.6,480.2 L422.8,480.2 L423.0,480.2 L423.2,480.2 L423.4,480.2 L423.6,480.2 L423.8,480.2 L424.0,480.2 L424.2,480.2 L424.4,480.2 L424.6,480.2 L424.7,480.2 L424.9,480.2 L425.1,480.2 L425.3,480.2 L425.5,480.2 L425.7,480.2 L425.9,480.2 L426.1,480.2 L426.3,480.2 L426.5,480.2 L426.7,480.2 L426.9,480.2 L427.1,480.2 L427.3,480.2 L427.5,480.2 L427.7,480.2 L427.9,480.2 L428.0,480.2 L428.2,480.2 L428.4,480.2 L428.6,480.2 L428.8,480.2 L429.0,480.2 L429.2,480.2 L429.4,480.2 L429.6,480.2 L429.8,480.2 L430.0,480.2 L430.2,480.2 L430.4,480.2 L430.6,480.2 L430.8,480.2 L431.0,480.2 L431.2,480.2 L431.3,480.2 L431.5,480.2 L431.7,480.2 L431.9,480.2 L432.1,480.2 L432.3,480.2 L432.5,480.2 L432.7,480.2 L432.9,480.2 L433.1,480.2 L433.3,480.2 L433.5,480.2 L433.7,480.2 L433.9,480.2 L434.1,480.2 L434.3,480.2 L434.5,480.2 L434.6,480.2 L434.8,480.2 L435.0,480.2 L435.2,480.2 L435.4,480.2 L435.6,480.2 L435.8,480.2 L436.0,480.2 L436.2,480.2 L436.4,480.2 L436.6,480.2 L436.8,480.2 L437.0,480.2 L437.2,480.2 L437.4,480.2 L437.6,480.2 L437.8,480.2 L438.0,480.2 L438.1,480.2 L438.3,480.2 L438.5,480.2 L438.7,480.2 L438.9,480.2 L439.1,480.2 L439.3,480.2 L439.5,480.2 L439.7,480.2 L439.9,480.2 L440.1,480.2 L440.3,480.2 L440.5,480.2 L440.7,480.2 L440.9,480.2 L441.1,480.2 L441.3,480.2 L441.4,480.2 L441.6,480.2 L441.8,480.2 L442.0,480.2 L442.2,480.2 L442.4,480.2 L442.6,480.2 L442.8,480.2 L443.0,480.2 L443.2,480.2 L443.4,480.2 L443.6,480.2 L443.8,480.2 L444.0,480.2 L444.2,480.2 L444.4,480.2 L444.6,480.2 L444.7,480.2 L444.9,480.2 L445.1,480.2 L445.3,480.2 L445.5,480.2 L445.7,480.2 L445.9,480.2 L446.1,480.2 L446.3,480.2 L446.5,480.2 L446.7,480.2 L446.9,480.2 L447.1,480.2 L447.3,480.2 L447.5,480.2 L447.7,480.2 L447.9,480.2 L448.0,480.2 L448.2,480.2 L448.4,480.2 L448.6,480.2 L448.8,480.2 L449.0,480.2 L449.2,480.2 L449.4,480.2 L449.6,480.2 L449.8,480.2 L450.0,480.2 L450.2,480.2 L450.4,480.2 L450.6,480.2 L450.8,480.2 L451.0,480.2 L451.2,480.2 L451.3,480.2 L451.5,480.2 L451.7,480.2 L451.9,480.2 L452.1,480.2 L452.3,480.2 L452.5,480.2 L452.7,480.2 L452.9,480.1 L453.1,479.8 L453.3,479.3 L453.5,478.6 L453.7,477.8 L453.9,476.9 L454.1,475.9 L454.3,474.9 L454.5,473.9 L454.6,473.0 L454.8,472.2 L455.0,471.5 L455.2,471.0 L455.4,470.7 L455.6,470.6 L455.8,469.1 L456.0,464.8 L456.2,457.9 L456.5,448.7 L456.7,437.7 L456.9,425.4 L457.1,412.5 L457.3,399.6 L457.5,387.3 L457.7,376.3 L457.9,367.1 L458.1,360.2 L458.3,355.9 L458.5,354.4 L458.7,355.0 L458.9,356.5 L459.1,359.1 L459.3,362.7 L459.5,367.1 L459.7,372.3 L459.9,378.3 L460.1,384.7 L460.3,391.7 L460.5,398.9 L460.7,406.3 L460.9,413.7 L461.1,420.9 L461.2,427.8 L461.4,434.3 L461.6,440.2 L461.8,445.5 L462.0,449.9 L462.2,453.4 L462.4,456.0 L462.6,457.6 L462.8,458.1 L463.0,457.5 L463.2,455.8 L463.4,452.9 L463.6,449.1 L463.8,444.3 L464.0,438.7 L464.2,432.4 L464.4,425.7 L464.6,418.7 L464.8,411.6 L465.0,404.6 L465.2,397.9 L465.4,391.7 L465.6,386.1 L465.8,381.3 L466.0,377.4 L466.2,374.5 L466.4,372.8 L466.6,372.2 L466.8,372.6 L467.0,373.8 L467.2,375.7 L467.4,378.3 L467.6,381.5 L467.8,385.2 L468.0,389.3 L468.2,393.6 L468.4,398.1 L468.6,402.6 L468.8,407.0 L469.0,411.1 L469.2,414.8 L469.4,418.0 L469.6,420.6 L469.8,422.5 L470.0,423.6 L470.2,424.0 L470.4,423.8 L470.6,423.1 L470.8,422.0 L471.0,420.4 L471.2,418.6 L471.4,416.4 L471.6,413.9 L471.8,411.3 L472.0,408.7 L472.2,406.0 L472.4,403.4 L472.6,401.0 L472.8,398.8 L473.1,396.9 L473.3,395.4 L473.5,394.2 L473.7,393.6 L473.9,393.3 L474.1,393.6 L474.3,394.3 L474.5,395.4 L474.7,397.0 L474.9,398.9 L475.1,401.2 L475.3,403.6 L475.5,406.3 L475.7,409.0 L475.9,411.7 L476.1,414.4 L476.3,416.8 L476.5,419.1 L476.7,421.0 L476.9,422.6 L477.1,423.7 L477.3,424.4 L477.5,424.7 L477.7,424.4 L477.9,423.6 L478.1,422.2 L478.3,420.3 L478.5,418.1 L478.7,415.4 L478.9,412.5 L479.1,409.3 L479.3,406.1 L479.5,402.9 L479.7,399.8 L479.9,396.8 L480.1,394.2 L480.3,391.9 L480.5,390.0 L480.7,388.7 L480.9,387.8 L481.2,387.6 L481.3,387.9 L481.5,388.8 L481.7,390.3 L481.9,392.4 L482.1,394.8 L482.3,397.6 L482.5,400.6 L482.7,403.6 L482.9,406.6 L483.1,409.4 L483.3,411.9 L483.5,413.9 L483.7,415.4 L483.9,416.4 L484.1,416.7 L484.3,416.6 L484.5,416.4 L484.7,416.2 L484.9,415.8 L485.1,415.3 L485.3,414.7 L485.5,414.0 L485.7,413.3 L485.9,412.5 L486.0,411.7 L486.2,410.8 L486.4,410.0 L486.6,409.2 L486.8,408.4 L487.0,407.7 L487.2,407.0 L487.4,406.4 L487.6,405.9 L487.8,405.5 L488.0,405.2 L488.2,405.1 L488.4,405.0 L488.6,405.0 L488.8,405.2 L489.0,405.4 L489.2,405.7 L489.4,406.0 L489.6,406.4 L489.8,406.8 L490.0,407.2 L490.2,407.6 L490.4,408.0 L490.6,408.3 L490.8,408.6 L491.0,408.8 L491.2,409.0 L491.3,409.0 L491.5,408.9 L491.8,408.7 L492.0,408.4 L492.2,408.0 L492.4,407.5 L492.6,406.9 L492.8,406.3 L493.0,405.6 L493.2,404.8 L493.4,404.1 L493.6,403.4 L493.8,402.8 L494.0,402.2 L494.2,401.7 L494.4,401.2 L494.6,400.9 L494.8,400.7 L495.0,400.7 L495.2,400.8 L495.4,401.0 L495.6,401.4 L495.9,401.9 L496.1,402.5 L496.3,403.2 L496.5,404.0 L496.7,404.9 L496.9,405.8 L497.1,406.7 L497.3,407.6 L497.5,408.4 L497.7,409.1 L497.9,409.7 L498.1,410.2 L498.3,410.6 L498.5,410.8 L498.7,410.9 L498.9,410.8 L499.1,410.6 L499.3,410.3 L499.5,409.8 L499.7,409.2 L499.9,408.5 L500.1,407.7 L500.3,406.9 L500.5,405.9 L500.7,405.0 L500.9,404.0 L501.1,403.0 L501.3,402.0 L501.5,401.1 L501.7,400.2 L501.9,399.4 L502.1,398.7 L502.3,398.1 L502.5,397.6 L502.7,397.3 L502.9,397.1 L503.1,397.0 L503.3,397.2 L503.5,397.9 L503.7,399.0 L503.9,400.5 L504.1,402.3 L504.3,404.3 L504.5,406.5 L504.6,408.7 L504.8,410.8 L505.0,412.8 L505.2,414.6 L505.4,416.1 L505.6,417.2 L505.8,417.9 L506.0,418.1 L506.2,417.9 L506.4,417.4 L506.6,416.6 L506.8,415.4 L507.0,413.9 L507.2,412.3 L507.4,410.4 L507.6,408.5 L507.8,406.4 L508.0,404.4 L508.2,402.4 L508.4,400.6 L508.6,398.9 L508.8,397.5 L509.0,396.3 L509.2,395.5 L509.4,394.9 L509.6,394.8 L509.8,394.9 L510.0,395.2 L510.2,395.8 L510.4,396.6 L510.6,397.6 L510.8,398.8 L511.0,400.1 L511.2,401.6 L511.4,403.1 L511.6,404.8 L511.8,406.4 L512.0,408.1 L512.2,409.7 L512.4,411.3 L512.6,412.8 L512.8,414.1 L513.0,415.3 L513.2,416.3 L513.4,417.1 L513.6,417.6 L513.8,418.0 L514.0,418.1 L514.2,418.0 L514.4,417.6 L514.6,417.0 L514.8,416.1 L515.0,415.0 L515.2,413.7 L515.4,412.3 L515.6,410.7 L515.8,409.0 L516.0,407.3 L516.2,405.6 L516.3,403.8 L516.5,402.2 L516.7,400.6 L516.9,399.2 L517.1,397.9 L517.3,396.8 L517.5,395.9 L517.7,395.3 L517.9,394.9 L518.1,394.8 L518.3,395.0 L518.5,395.6 L518.7,396.6 L518.9,398.0 L519.1,399.6 L519.3,401.5 L519.5,403.6 L519.7,405.7 L519.9,407.9 L520.1,409.9 L520.3,411.8 L520.5,413.5 L520.7,414.8 L520.9,415.8 L521.1,416.5 L521.3,416.7 L521.5,416.5 L521.8,416.0 L522.0,415.3 L522.2,414.2 L522.4,412.9 L522.6,411.4 L522.8,409.7 L523.0,407.9 L523.2,406.0 L523.4,404.2 L523.6,402.4 L523.8,400.7 L524.0,399.2 L524.2,397.9 L524.4,396.8 L524.6,396.0 L524.8,395.6 L525.0,395.4 L525.2,395.6 L525.4,396.3 L525.6,397.3 L525.8,398.7 L526.0,400.4 L526.2,402.3 L526.4,404.3 L526.6,406.4 L526.8,408.4 L527.0,410.3 L527.2,412.0 L527.4,413.3 L527.6,414.4 L527.7,415.0 L527.9,415.2 L528.1,415.1 L528.3,414.5 L528.5,413.6 L528.7,412.3 L528.9,410.8 L529.1,409.0 L529.3,407.1 L529.5,405.0 L529.7,402.8 L529.9,400.7 L530.1,398.6 L530.3,396.6 L530.5,394.9 L530.7,393.3 L530.9,392.1 L531.1,391.2 L531.3,390.6 L531.5,390.4 L531.7,390.8 L531.9,392.0 L532.1,393.8 L532.3,396.3 L532.5,399.4 L532.7,402.8 L532.9,406.4 L533.1,410.1 L533.3,413.8 L533.5,417.2 L533.7,420.2 L533.9,422.7 L534.1,424.6 L534.3,425.7 L534.5,426.1 L534.7,425.8 L534.9,424.9 L535.1,423.4 L535.3,421.3 L535.5,418.8 L535.7,415.9 L535.9,412.7 L536.1,409.3 L536.3,405.7 L536.5,402.2 L536.7,398.7 L536.9,395.5 L537.1,392.6 L537.3,390.1 L537.5,388.1 L537.7,386.6 L537.9,385.6 L538.1,385.3 L538.3,385.7 L538.6,386.7 L538.8,388.4 L539.0,390.7 L539.2,393.4 L539.4,396.4 L539.6,399.6 L539.8,402.7 L540.0,405.7 L540.2,408.4 L540.4,410.7 L540.6,412.4 L540.8,413.4 L541.0,413.8 L541.2,413.6 L541.4,413.1 L541.6,412.3 L541.8,411.1 L542.0,409.7 L542.2,408.1 L542.4,406.4 L542.6,404.5 L542.8,402.6 L543.0,400.8 L543.2,399.0 L543.4,397.4 L543.6,396.0 L543.8,394.9 L544.0,394.0 L544.2,393.5 L544.4,393.3 L544.6,393.5 L544.8,394.0 L545.0,394.9 L545.2,396.1 L545.4,397.5 L545.6,399.2 L545.8,401.0 L546.0,403.0 L546.2,405.0 L546.4,407.0 L546.6,409.0 L546.8,410.8 L547.0,412.5 L547.2,413.9 L547.4,415.1 L547.6,416.0 L547.8,416.5 L548.0,416.7 L548.2,416.5 L548.4,415.9 L548.6,415.0 L548.8,413.7 L549.0,412.1 L549.2,410.2 L549.4,408.1 L549.6,405.8 L549.8,403.5 L550.0,401.0 L550.2,398.5 L550.4,396.2 L550.6,393.9 L550.8,391.8 L551.0,389.9 L551.2,388.3 L551.4,387.0 L551.6,386.1 L551.8,385.5 L552.0,385.3 L552.2,385.6 L552.4,386.5 L552.6,388.0 L552.8,389.9 L553.1,392.3 L553.3,395.0 L553.5,397.9 L553.7,401.0 L553.9,404.1 L554.1,407.0 L554.3,409.7 L554.5,412.1 L554.7,414.0 L554.9,415.5 L555.1,416.4 L555.3,416.7 L555.5,416.5 L555.7,416.1 L555.9,415.4 L556.1,414.5 L556.3,413.3 L556.5,411.9 L556.8,410.4 L557.0,408.8 L557.2,407.2 L557.4,405.5 L557.6,403.9 L557.8,402.4 L558.0,401.0 L558.2,399.9 L558.4,398.9 L558.6,398.2 L558.8,397.8 L559.0,397.6 L559.2,397.8 L559.4,398.2 L559.6,398.8 L559.8,399.7 L560.0,400.8 L560.2,402.0 L560.4,403.2 L560.6,404.5 L560.8,405.8 L561.0,407.0 L561.1,408.1 L561.3,408.9 L561.5,409.6 L561.7,410.0 L561.9,410.1 L562.1,410.0 L562.3,409.7 L562.5,409.3 L562.7,408.7 L562.9,407.9 L563.1,407.0 L563.3,406.0 L563.5,405.0 L563.7,403.9 L563.9,402.8 L564.1,401.7 L564.3,400.8 L564.5,399.9 L564.7,399.1 L564.9,398.5 L565.1,398.0 L565.3,397.7 L565.5,397.6 L565.7,397.8 L565.9,398.1 L566.1,398.6 L566.3,399.4 L566.5,400.3 L566.7,401.3 L566.9,402.5 L567.2,403.7 L567.4,405.0 L567.6,406.3 L567.8,407.5 L568.0,408.7 L568.2,409.7 L568.4,410.6 L568.6,411.4 L568.8,411.9 L569.0,412.2 L569.2,412.4 L569.4,412.2 L569.6,411.9 L569.8,411.4 L570.0,410.7 L570.2,409.8 L570.4,408.8 L570.6,407.8 L570.8,406.7 L570.9,405.7 L571.1,404.7 L571.3,403.8 L571.5,403.1 L571.7,402.6 L571.9,402.2 L572.1,402.1 L572.3,402.2 L572.5,402.6 L572.7,403.1 L572.9,403.9 L573.2,404.7 L573.4,405.7 L573.6,406.8 L573.8,407.8 L574.0,408.8 L574.2,409.7 L574.4,410.4 L574.6,410.9 L574.8,411.3 L575.0,411.4 L575.2,411.4 L575.4,411.2 L575.6,411.0 L575.8,410.7 L576.0,410.4 L576.2,410.0 L576.4,409.5 L576.6,409.0 L576.8,408.5 L577.0,407.9 L577.2,407.4 L577.4,406.9 L577.6,406.4 L577.7,406.0 L577.9,405.7 L578.1,405.4 L578.3,405.2 L578.5,405.0 L578.7,405.0 L578.9,405.1 L579.1,405.5 L579.4,406.1 L579.6,406.8 L579.8,407.6 L580.0,408.4 L580.2,409.1 L580.4,409.6 L580.6,410.0 L580.9,410.1 L581.0,410.1 L581.2,410.0 L581.4,409.8 L581.6,409.5 L581.8,409.2 L582.0,408.9 L582.2,408.5 L582.4,408.2 L582.6,407.8 L582.8,407.5 L583.0,407.2 L583.2,406.9 L583.4,406.8 L583.6,406.6 L583.8,406.6 L584.0,406.6 L584.2,406.7 L584.3,406.7 L584.5,406.8 L584.7,407.0 L584.9,407.1 L585.1,407.2 L585.3,407.4 L585.5,407.5 L585.7,407.7 L585.9,407.8 L586.1,407.9 L586.3,408.0 L586.5,408.0 L586.7,408.0 L586.9,407.9 L587.1,407.8 L587.3,407.7 L587.5,407.7 L587.6,407.7 L587.8,407.8 L588.0,407.9 L588.2,408.1 L588.4,408.4 L588.6,408.6 L588.8,408.8 L589.0,409.0 L589.2,409.1 L589.4,409.1 L589.6,409.0 L589.8,409.0 L590.0,408.8 L590.2,408.7 L590.4,408.5 L590.6,408.3 L590.8,408.1 L590.9,407.9 L591.1,407.7 L591.3,407.5 L591.5,407.3 L591.7,407.2 L591.9,407.1 L592.1,407.0 L592.3,406.9 L592.5,406.9 L592.7,406.9 L592.9,407.0 L593.1,407.1 L593.3,407.3 L593.5,407.5 L593.7,407.8 L593.9,408.0 L594.1,408.3 L594.2,408.5 L594.4,408.7 L594.6,408.9 L594.8,409.1 L595.0,409.2 L595.2,409.2 L595.4,409.2 L595.6,409.2 L595.8,409.1 L596.0,408.9 L596.2,408.7 L596.4,408.5 L596.6,408.2 L596.8,408.0 L597.0,407.8 L597.2,407.6 L597.4,407.5 L597.5,407.4 L597.7,407.4 L597.9,407.4 L598.1,407.6 L598.3,407.8 L598.5,408.0 L598.7,408.3 L598.9,408.5 L599.1,408.8 L599.3,409.0 L599.5,409.2 L599.7,409.3 L599.9,409.3 L600.1,409.3 L600.3,409.1 L600.5,408.9 L600.7,408.6 L600.9,408.3 L601.0,407.9 L601.2,407.6 L601.4,407.3 L601.6,407.0 L601.8,406.8 L602.0,406.7 L602.2,406.7 L602.4,406.8 L602.6,406.9 L602.8,407.2 L603.0,407.4 L603.2,407.7 L603.4,408.1 L603.6,408.4 L603.8,408.7 L604.0,409.0 L604.2,409.2 L604.3,409.4 L604.5,409.5 L604.7,409.5 L604.9,409.4 L605.1,409.2 L605.3,408.9 L605.5,408.6 L605.7,408.2 L605.9,407.8 L606.1,407.4 L606.3,407.1 L606.5,406.8 L606.7,406.7 L606.9,406.6 L607.1,406.6 L607.3,406.7 L607.5,406.9 L607.6,407.1 L607.8,407.4 L608.0,407.8 L608.2,408.1 L608.4,408.5 L608.6,408.8 L608.8,409.0 L609.0,409.2 L609.2,409.3 L609.4,409.3 L609.6,409.3 L609.8,409.2 L610.0,409.0 L610.2,408.9 L610.4,408.7 L610.6,408.4 L610.8,408.2 L610.9,408.0 L611.1,407.8 L611.3,407.6 L611.5,407.4 L611.7,407.3 L611.9,407.3 L612.1,407.3 L612.3,407.3 L612.5,407.5 L612.7,407.6 L612.9,407.8 L613.1,408.1 L613.3,408.3 L613.5,408.6 L613.7,408.8 L613.9,409.0 L614.1,409.1 L614.2,409.2 L614.4,409.2 L614.6,409.2 L614.8,409.1 L615.0,409.0 L615.2,408.8 L615.4,408.6 L615.6,408.4 L615.8,408.1 L616.0,407.9 L616.2,407.7 L616.4,407.6 L616.6,407.4 L616.8,407.4 L617.0,407.4 L617.2,407.4 L617.4,407.5 L617.5,407.6 L617.7,407.7 L617.9,407.8 L618.1,408.0 L618.3,408.2 L618.5,408.3 L618.7,408.5 L618.9,408.6 L619.1,408.7 L619.3,408.8 L619.5,408.9 L619.7,409.0 L619.9,409.0 L620.1,408.9 L620.3,408.8 L620.5,408.6 L620.7,408.4 L620.8,408.2 L621.0,408.0 L621.2,407.7 L621.4,407.5 L621.6,407.3 L621.8,407.2 L622.0,407.1 L622.2,407.1 L622.4,407.2 L622.6,407.3 L622.8,407.4 L623.0,407.6 L623.2,407.9 L623.4,408.2 L623.6,408.4 L623.8,408.7 L624.0,408.9 L624.1,409.1 L624.3,409.3 L624.5,409.4 L624.7,409.4 L624.9,409.4 L625.1,409.3 L625.3,409.1 L625.5,409.0 L625.7,408.7 L625.9,408.5 L626.1,408.2 L626.3,408.0 L626.5,407.7 L626.7,407.5 L626.9,407.3 L627.1,407.2 L627.3,407.1 L627.5,407.0 L627.6,407.0 L627.8,407.1 L628.0,407.1 L628.2,407.2 L628.4,407.4 L628.6,407.5 L628.8,407.7 L629.0,407.8 L629.2,408.0 L629.4,408.2 L629.6,408.3 L629.8,408.4 L630.0,408.6 L630.2,408.6 L630.4,408.7 L630.6,408.7 L630.8,408.7 L630.9,408.7 L631.1,408.6 L631.3,408.5 L631.5,408.4 L631.7,408.2 L631.9,408.1 L632.1,407.9 L632.3,407.7 L632.5,407.6 L632.7,407.5 L632.9,407.3 L633.1,407.3 L633.3,407.2 L633.5,407.2 L633.7,407.2 L633.9,407.3 L634.1,407.5 L634.2,407.6 L634.4,407.8 L634.6,408.0 L634.8,408.2 L635.0,408.4 L635.2,408.5 L635.4,408.7 L635.6,408.7 L635.8,408.8 L636.0,408.8 L636.2,408.7 L636.4,408.6 L636.6,408.5 L636.8,408.4 L637.0,408.2 L637.2,408.0 L637.4,407.8 L637.5,407.7 L637.7,407.5 L637.9,407.4 L638.1,407.3 L638.3,407.3 L638.5,407.3 L638.7,407.4 L638.9,407.5" stroke="#8000FF" stroke-width="1.9"/><path d="M396.4,480.2 L451.4,480.2 L456.6,473.8 L459.5,432.2 L461.0,416.4 L467.5,416.8 L474.1,410.0 L485.0,408.5 L493.5,406.6 L503.2,404.4 L512.9,404.4 L522.6,404.4 L531.3,401.8 L544.0,401.8 L554.6,404.0 L566.3,403.6 L574.1,404.2 L579.9,406.6 L586.7,408.0 L639.1,408.2" stroke="#000090" stroke-width="2.2"/><g fill="#000090" stroke="none"><circle cx="396.40" cy="480.20" r="1.75"/><circle cx="401.25" cy="480.20" r="1.75"/><circle cx="406.11" cy="480.20" r="1.75"/><circle cx="410.96" cy="480.20" r="1.75"/><circle cx="415.82" cy="480.20" r="1.75"/><circle cx="420.67" cy="480.20" r="1.75"/><circle cx="425.52" cy="480.20" r="1.75"/><circle cx="430.38" cy="480.20" r="1.75"/><circle cx="435.23" cy="480.20" r="1.75"/><circle cx="440.09" cy="480.20" r="1.75"/><circle cx="444.94" cy="480.20" r="1.75"/><circle cx="449.79" cy="480.20" r="1.75"/><circle cx="454.65" cy="476.22" r="1.75"/><circle cx="459.50" cy="432.20" r="1.75"/><circle cx="464.36" cy="416.61" r="1.75"/><circle cx="469.21" cy="415.02" r="1.75"/><circle cx="474.06" cy="409.96" r="1.75"/><circle cx="478.92" cy="409.32" r="1.75"/><circle cx="483.77" cy="408.69" r="1.75"/><circle cx="488.63" cy="407.70" r="1.75"/><circle cx="493.48" cy="406.60" r="1.75"/><circle cx="498.33" cy="405.48" r="1.75"/><circle cx="503.19" cy="404.36" r="1.75"/><circle cx="508.04" cy="404.36" r="1.75"/><circle cx="512.90" cy="404.36" r="1.75"/><circle cx="517.75" cy="404.36" r="1.75"/><circle cx="522.60" cy="404.36" r="1.75"/><circle cx="527.46" cy="402.94" r="1.75"/><circle cx="532.31" cy="401.80" r="1.75"/><circle cx="537.17" cy="401.80" r="1.75"/><circle cx="542.02" cy="401.80" r="1.75"/><circle cx="546.87" cy="402.41" r="1.75"/><circle cx="551.73" cy="403.43" r="1.75"/><circle cx="556.58" cy="403.96" r="1.75"/><circle cx="561.44" cy="403.76" r="1.75"/><circle cx="566.29" cy="403.56" r="1.75"/><circle cx="571.14" cy="403.96" r="1.75"/><circle cx="576.00" cy="405.00" r="1.75"/><circle cx="580.85" cy="406.81" r="1.75"/><circle cx="585.71" cy="407.83" r="1.75"/><circle cx="590.56" cy="408.05" r="1.75"/><circle cx="595.41" cy="408.07" r="1.75"/><circle cx="600.27" cy="408.08" r="1.75"/><circle cx="605.12" cy="408.10" r="1.75"/><circle cx="609.98" cy="408.11" r="1.75"/><circle cx="614.83" cy="408.13" r="1.75"/><circle cx="619.68" cy="408.14" r="1.75"/><circle cx="624.54" cy="408.16" r="1.75"/><circle cx="629.39" cy="408.17" r="1.75"/><circle cx="634.25" cy="408.19" r="1.75"/><circle cx="639.10" cy="408.20" r="1.75"/></g></g><path d="M457.10,280.30 V288.20 M575.30,280.30 V288.20" stroke="#000" stroke-width="1.4" fill="none"/><line x1="459.10" y1="283.50" x2="573.30" y2="283.50" stroke="#000" stroke-width="1.2"/><path d="M458.70,283.50 L462.30,281.50 L461.50,283.50 L462.30,285.50 Z" fill="#000"/><path d="M573.70,283.50 L570.10,281.50 L570.90,283.50 L570.10,285.50 Z" fill="#000"/><text x="474.82" y="276.20" font-size="17" textLength="86.91" lengthAdjust="spacingAndGlyphs" font-family="Liberation Sans, sans-serif" font-weight="bold">cSi(111)/Li</text><text x="346.40" y="277.00" font-size="16.8" textLength="22.74" lengthAdjust="spacingAndGlyphs" font-family="Liberation Sans, sans-serif" font-weight="bold">(d)</text><text x="366.36" y="483.80" font-size="12.2" textLength="25.64" lengthAdjust="spacingAndGlyphs" font-family="Liberation Sans, sans-serif" font-weight="bold">0.00</text><text x="642.70" y="483.80" font-size="12.2" textLength="25.64" lengthAdjust="spacingAndGlyphs" fill="#00008B" font-family="Liberation Sans, sans-serif" font-weight="bold">0.00</text><text x="366.36" y="451.80" font-size="12.2" textLength="25.64" lengthAdjust="spacingAndGlyphs" font-family="Liberation Sans, sans-serif" font-weight="bold">0.02</text><text x="642.70" y="451.80" font-size="12.2" textLength="25.64" lengthAdjust="spacingAndGlyphs" fill="#00008B" font-family="Liberation Sans, sans-serif" font-weight="bold">0.02</text><text x="366.36" y="419.80" font-size="12.2" textLength="25.64" lengthAdjust="spacingAndGlyphs" font-family="Liberation Sans, sans-serif" font-weight="bold">0.04</text><text x="642.70" y="419.80" font-size="12.2" textLength="25.64" lengthAdjust="spacingAndGlyphs" fill="#00008B" font-family="Liberation Sans, sans-serif" font-weight="bold">0.04</text><text x="366.36" y="387.80" font-size="12.2" textLength="25.64" lengthAdjust="spacingAndGlyphs" font-family="Liberation Sans, sans-serif" font-weight="bold">0.06</text><text x="642.70" y="387.80" font-size="12.2" textLength="25.64" lengthAdjust="spacingAndGlyphs" fill="#00008B" font-family="Liberation Sans, sans-serif" font-weight="bold">0.06</text><text x="366.36" y="355.80" font-size="12.2" textLength="25.64" lengthAdjust="spacingAndGlyphs" font-family="Liberation Sans, sans-serif" font-weight="bold">0.08</text><text x="642.70" y="355.80" font-size="12.2" textLength="25.64" lengthAdjust="spacingAndGlyphs" fill="#00008B" font-family="Liberation Sans, sans-serif" font-weight="bold">0.08</text><text x="366.36" y="323.80" font-size="12.2" textLength="25.64" lengthAdjust="spacingAndGlyphs" font-family="Liberation Sans, sans-serif" font-weight="bold">0.10</text><text x="642.70" y="323.80" font-size="12.2" textLength="25.64" lengthAdjust="spacingAndGlyphs" fill="#00008B" font-family="Liberation Sans, sans-serif" font-weight="bold">0.10</text><text x="366.36" y="291.80" font-size="12.2" textLength="25.64" lengthAdjust="spacingAndGlyphs" font-family="Liberation Sans, sans-serif" font-weight="bold">0.12</text><text x="642.70" y="291.80" font-size="12.2" textLength="25.64" lengthAdjust="spacingAndGlyphs" fill="#00008B" font-family="Liberation Sans, sans-serif" font-weight="bold">0.12</text><text x="389.30" y="499.20" font-size="12.2" textLength="14.79" lengthAdjust="spacingAndGlyphs" font-family="Liberation Sans, sans-serif" font-weight="bold">10</text><text x="437.84" y="499.20" font-size="12.2" textLength="14.79" lengthAdjust="spacingAndGlyphs" font-family="Liberation Sans, sans-serif" font-weight="bold">15</text><text x="486.38" y="499.20" font-size="12.2" textLength="14.79" lengthAdjust="spacingAndGlyphs" font-family="Liberation Sans, sans-serif" font-weight="bold">20</text><text x="534.92" y="499.20" font-size="12.2" textLength="14.79" lengthAdjust="spacingAndGlyphs" font-family="Liberation Sans, sans-serif" font-weight="bold">25</text><text x="583.46" y="499.20" font-size="12.2" textLength="14.79" lengthAdjust="spacingAndGlyphs" font-family="Liberation Sans, sans-serif" font-weight="bold">30</text><text x="632.00" y="499.20" font-size="12.2" textLength="14.79" lengthAdjust="spacingAndGlyphs" font-family="Liberation Sans, sans-serif" font-weight="bold">35</text><text x="517.75" y="515.10" font-size="12.4" text-anchor="middle" font-family="Liberation Sans, sans-serif" font-weight="bold">Bin number</text><text transform="translate(362.40,380.40) rotate(-90) scale(1.04,1)" font-size="12.4" text-anchor="middle" font-family="Liberation Sans, sans-serif" font-weight="bold">Number density (&#197;<tspan font-size="8" dy="-4.5">-3</tspan><tspan dy="4.5">)</tspan></text><text transform="translate(672.10,384.40) rotate(90) scale(1.03,1)" font-size="12.4" text-anchor="middle" fill="#00008B" font-family="Liberation Sans, sans-serif" font-weight="bold">Average number density (&#197;<tspan font-size="8" dy="-4.5">-3</tspan><tspan dy="4.5">)</tspan></text>
</svg>
</body></html>
